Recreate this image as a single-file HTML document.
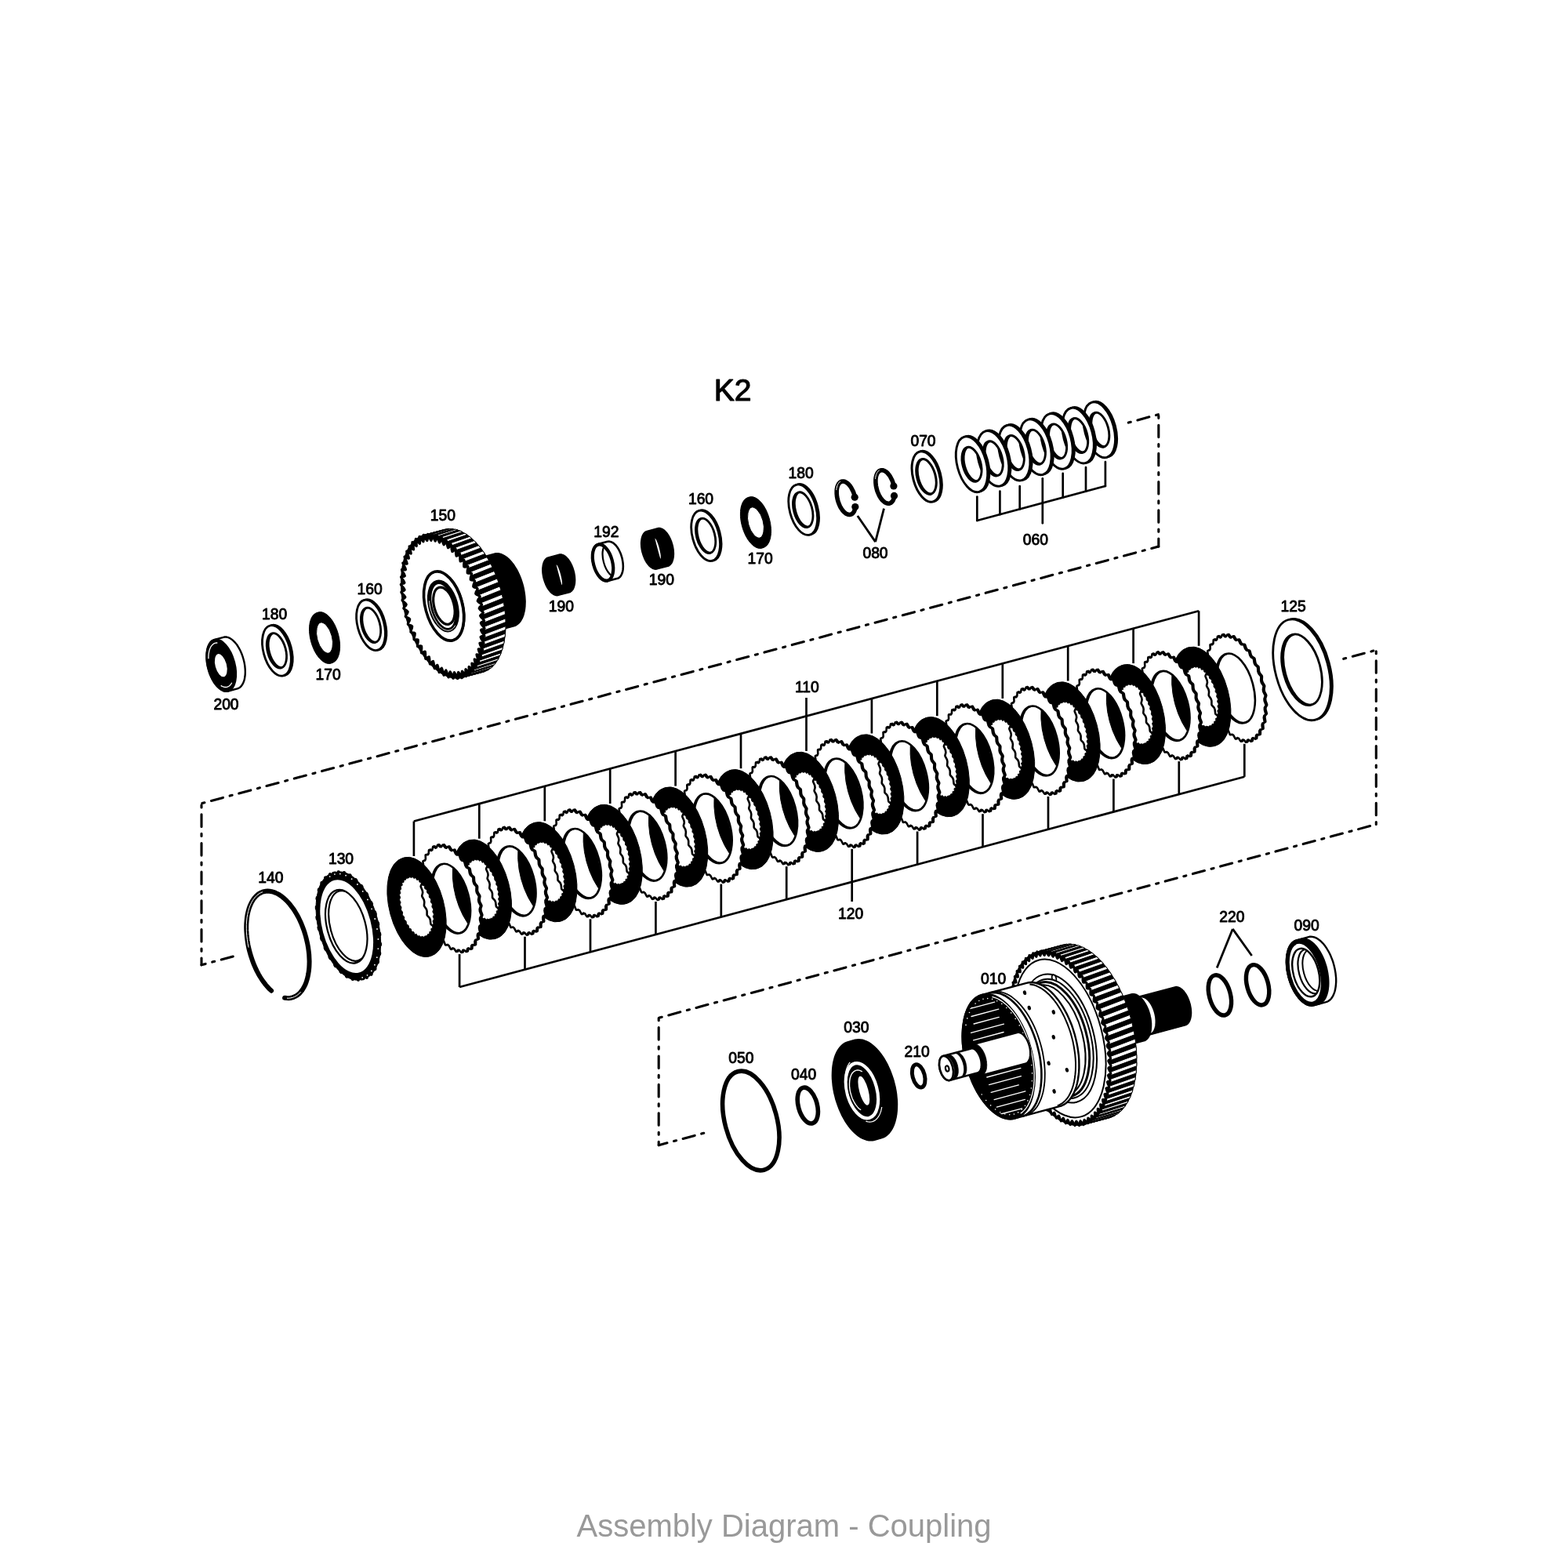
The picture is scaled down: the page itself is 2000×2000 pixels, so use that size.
<!DOCTYPE html>
<html><head><meta charset="utf-8"><title>Assembly Diagram - Coupling</title>
<style>
html,body{margin:0;padding:0;background:#fff;}
body{width:2000px;height:2000px;position:relative;overflow:hidden;font-family:"Liberation Sans",sans-serif;}
svg{position:absolute;left:0;top:0;will-change:transform;}
svg text{font-family:"Liberation Sans",sans-serif;}
.cap{will-change:transform;position:absolute;left:0;top:1922.5px;width:2000px;text-align:center;font-size:40px;line-height:46px;color:#999;}
</style></head><body>
<svg xmlns="http://www.w3.org/2000/svg" width="2000" height="2000" viewBox="0 0 2000 2000" stroke-linejoin="round">
<path d="M1439.3,539.1 L1477.8,528.6" fill="none" stroke="#000" stroke-width="3.1" stroke-linecap="round" stroke-dasharray="15.500 8.900 3.100 8.900" stroke-dashoffset="24.4"/>
<path d="M1477.8,528.6 L1477.8,697.1" fill="none" stroke="#000" stroke-width="3.1" stroke-linecap="round" stroke-dasharray="15.415 8.851 3.083 8.851" stroke-dashoffset="22.6"/>
<path d="M257,1024.8 L1477.8,697.1" fill="none" stroke="#000" stroke-width="3.1" stroke-linecap="round" stroke-dasharray="15.553 8.930 3.111 8.930" stroke-dashoffset="23.6"/>
<path d="M257,1024.8 L257,1230.8" fill="none" stroke="#000" stroke-width="3.1" stroke-linecap="round" stroke-dasharray="15.606 8.961 3.121 8.961" stroke-dashoffset="22.6"/>
<path d="M257,1230.8 L297.5,1219.9" fill="none" stroke="#000" stroke-width="3.1" stroke-linecap="round" stroke-dasharray="15.500 8.900 3.100 8.900" stroke-dashoffset="10.2"/>
<path d="M1713.7,840.3 L1755.3,829.2" fill="none" stroke="#000" stroke-width="3.1" stroke-linecap="round" stroke-dasharray="15.500 8.900 3.100 8.900" stroke-dashoffset="24.4"/>
<path d="M1755.3,829.2 L1755.3,1051.5" fill="none" stroke="#000" stroke-width="3.1" stroke-linecap="round" stroke-dasharray="15.457 8.876 3.091 8.876" stroke-dashoffset="22.8"/>
<path d="M840.2,1298.3 L1755.3,1051.5" fill="none" stroke="#000" stroke-width="3.1" stroke-linecap="round" stroke-dasharray="15.521 8.912 3.104 8.912" stroke-dashoffset="23.4"/>
<path d="M840.2,1298.3 L840.2,1460.7" fill="none" stroke="#000" stroke-width="3.1" stroke-linecap="round" stroke-dasharray="15.500 8.900 3.100 8.900" stroke-dashoffset="24.1"/>
<path d="M897.7,1445.3 L840.2,1460.7" fill="none" stroke="#000" stroke-width="3.1" stroke-linecap="round" stroke-dasharray="15.500 8.900 3.100 8.900" stroke-dashoffset="24.4"/>
<path d="M291.1,881.5 L289.9,881.8 L288.7,881.8 L287.4,881.8 L286.1,881.5 L284.8,881.1 L283.5,880.5 L282.2,879.8 L280.9,878.9 L279.6,877.9 L278.3,876.7 L277,875.4 L275.7,874 L274.5,872.5 L273.3,870.8 L272.2,869 L271.1,867.1 L270.1,865.2 L269.1,863.1 L268.2,861 L267.3,858.8 L266.6,856.6 L265.9,854.3 L265.3,852 L264.7,849.7 L264.3,847.4 L263.9,845.1 L263.7,842.8 L263.5,840.6 L263.4,838.3 L263.4,836.2 L263.5,834.1 L263.7,832 L264,830.1 L264.3,828.2 L264.8,826.4 L265.3,824.8 L266,823.2 L266.7,821.8 L267.4,820.5 L268.3,819.4 L269.2,818.4 L270.2,817.5 L271.3,816.8 L272.4,816.3 L273.5,815.9 L285.1,812.8 L286.3,812.5 L287.5,812.4 L288.8,812.5 L290,812.8 L291.4,813.2 L292.7,813.8 L294,814.5 L295.3,815.4 L296.6,816.4 L297.9,817.6 L299.2,818.9 L300.4,820.3 L301.7,821.8 L302.9,823.5 L304,825.3 L305.1,827.2 L306.1,829.1 L307.1,831.2 L308,833.3 L308.9,835.5 L309.6,837.7 L310.3,840 L310.9,842.3 L311.5,844.6 L311.9,846.9 L312.3,849.2 L312.5,851.5 L312.7,853.7 L312.8,856 L312.8,858.1 L312.7,860.2 L312.5,862.3 L312.2,864.2 L311.9,866.1 L311.4,867.9 L310.9,869.5 L310.2,871.1 L309.5,872.5 L308.7,873.8 L307.9,874.9 L307,875.9 L306,876.8 L304.9,877.5 L303.8,878 L302.7,878.4Z" fill="#fff" stroke="#000" stroke-width="2.4" />
<path d="M299,844.2 A17.3,34 -15 0 1 291.1,881.5 A17.3,34 -15 0 1 265.6,853.2 A17.3,34 -15 0 1 273.5,815.9 A17.3,34 -15 0 1 299,844.2Z M289.7,846.6 A8.2,16 -15 0 1 285.9,864.2 A8.2,16 -15 0 1 273.9,850.8 A8.2,16 -15 0 1 277.7,833.2 A8.2,16 -15 0 1 289.7,846.6Z" fill="#000" stroke="#000" stroke-width="2" fill-rule="evenodd"/>
<path d="M265.9,840.2 L265.9,838.2 L266,836.3 L266.1,834.4 L266.4,832.7 L266.7,831 L267.1,829.4 L267.6,827.9 L268.2,826.5 L268.8,825.2 L269.5,824.1 L270.3,823.1 L271.2,822.2 L272.1,821.4 L273,820.8 L274,820.4 L275.1,820.1 L276.2,820 L277.3,820" fill="none" stroke="#fff" stroke-width="1.3" />
<path d="M295.7,870.7 L295.1,871.8 L294.4,872.8 L293.7,873.7 L292.9,874.5 L292,875.2 L291.1,875.7 L290.2,876.1 L289.2,876.3 L288.2,876.5 L287.1,876.5 L286.1,876.3 L285,876 L283.9,875.6 L282.8,875.1 L281.7,874.4" fill="none" stroke="#fff" stroke-width="1.3" />
<path d="M371.1,825 A16.8,33 -15 0 1 363.4,861.3 A16.8,33 -15 0 1 338.6,833.7 A16.8,33 -15 0 1 346.3,797.5 A16.8,33 -15 0 1 371.1,825Z M366.1,826.4 A11.6,22.8 -15 0 1 360.7,851.4 A11.6,22.8 -15 0 1 343.6,832.4 A11.6,22.8 -15 0 1 348.9,807.4 A11.6,22.8 -15 0 1 366.1,826.4Z" fill="#fff" stroke="#000" stroke-width="2.8" fill-rule="evenodd"/>
<path d="M369.2,825.5 A16.8,33 -15 0 1 361.4,861.8 A16.8,33 -15 0 1 336.6,834.3 A16.8,33 -15 0 1 344.4,798 A16.8,33 -15 0 1 369.2,825.5Z M364.1,826.9 A11.6,22.8 -15 0 1 358.8,851.9 A11.6,22.8 -15 0 1 341.7,832.9 A11.6,22.8 -15 0 1 347,807.9 A11.6,22.8 -15 0 1 364.1,826.9Z" fill="#fff" stroke="#000" stroke-width="2.8" fill-rule="evenodd"/>
<path d="M431.5,808.9 A17.1,33.5 -15 0 1 423.7,845.6 A17.1,33.5 -15 0 1 398.5,817.7 A17.1,33.5 -15 0 1 406.4,780.9 A17.1,33.5 -15 0 1 431.5,808.9Z M425.1,810.6 A10.5,20.5 -15 0 1 420.3,833.1 A10.5,20.5 -15 0 1 404.9,816 A10.5,20.5 -15 0 1 409.7,793.5 A10.5,20.5 -15 0 1 425.1,810.6Z" fill="#000" stroke="#000" stroke-width="1" fill-rule="evenodd"/>
<path d="M429.6,809.4 A17.1,33.5 -15 0 1 421.8,846.2 A17.1,33.5 -15 0 1 396.6,818.2 A17.1,33.5 -15 0 1 404.4,781.4 A17.1,33.5 -15 0 1 429.6,809.4Z M423.2,811.1 A10.5,20.5 -15 0 1 418.4,833.6 A10.5,20.5 -15 0 1 403,816.5 A10.5,20.5 -15 0 1 407.8,794 A10.5,20.5 -15 0 1 423.2,811.1Z" fill="#000" stroke="#000" stroke-width="1" fill-rule="evenodd"/>
<path d="M490.8,792.5 A16.8,33 -15 0 1 483.1,828.8 A16.8,33 -15 0 1 458.3,801.2 A16.8,33 -15 0 1 466,765 A16.8,33 -15 0 1 490.8,792.5Z M485.8,793.9 A11.6,22.8 -15 0 1 480.4,818.9 A11.6,22.8 -15 0 1 463.3,799.9 A11.6,22.8 -15 0 1 468.6,774.9 A11.6,22.8 -15 0 1 485.8,793.9Z" fill="#fff" stroke="#000" stroke-width="2.8" fill-rule="evenodd"/>
<path d="M489.3,792.9 A16.8,33 -15 0 1 481.5,829.2 A16.8,33 -15 0 1 456.7,801.7 A16.8,33 -15 0 1 464.5,765.4 A16.8,33 -15 0 1 489.3,792.9Z M484.2,794.3 A11.6,22.8 -15 0 1 478.9,819.3 A11.6,22.8 -15 0 1 461.8,800.3 A11.6,22.8 -15 0 1 467.1,775.3 A11.6,22.8 -15 0 1 484.2,794.3Z" fill="#fff" stroke="#000" stroke-width="2.8" fill-rule="evenodd"/>
<path d="M712.3,759.4 L711.4,759.6 L710.5,759.7 L709.6,759.6 L708.6,759.4 L707.7,759.1 L706.7,758.7 L705.7,758.2 L704.8,757.5 L703.8,756.8 L702.8,755.9 L701.9,754.9 L701,753.9 L700.1,752.7 L699.2,751.5 L698.3,750.2 L697.5,748.8 L696.8,747.4 L696,745.8 L695.4,744.3 L694.8,742.7 L694.2,741 L693.7,739.4 L693.2,737.7 L692.8,736 L692.5,734.3 L692.2,732.5 L692,730.9 L691.9,729.2 L691.8,727.5 L691.8,725.9 L691.9,724.4 L692.1,722.9 L692.3,721.4 L692.5,720.1 L692.9,718.8 L693.3,717.5 L693.7,716.4 L694.3,715.3 L694.8,714.4 L695.5,713.6 L696.1,712.8 L696.9,712.2 L697.6,711.7 L698.5,711.2 L699.3,711 L713.1,707.3 L714,707.1 L714.9,707 L715.8,707.1 L716.8,707.3 L717.7,707.6 L718.7,708 L719.7,708.5 L720.7,709.2 L721.6,709.9 L722.6,710.8 L723.5,711.8 L724.5,712.8 L725.4,714 L726.2,715.2 L727.1,716.5 L727.9,717.9 L728.6,719.3 L729.4,720.9 L730,722.4 L730.7,724 L731.2,725.7 L731.7,727.3 L732.2,729 L732.6,730.7 L732.9,732.4 L733.2,734.1 L733.4,735.8 L733.5,737.5 L733.6,739.1 L733.6,740.8 L733.5,742.3 L733.4,743.8 L733.1,745.3 L732.9,746.6 L732.5,747.9 L732.1,749.2 L731.7,750.3 L731.2,751.4 L730.6,752.3 L729.9,753.1 L729.3,753.9 L728.5,754.5 L727.8,755 L727,755.5 L726.1,755.7Z" fill="#000" stroke="#000" stroke-width="1.5" />
<path d="M709.4,720.3 L709.6,720.2 L709.7,720.2 L709.9,720.3 L710.1,720.5 L710.3,720.7 L710.5,721 L710.8,721.3 L711,721.7 L711.3,722.2 L711.5,722.7 L711.8,723.2 L712.1,723.8 L712.3,724.5 L712.6,725.2 L712.9,725.9 L713.2,726.7 L713.5,727.5 L713.7,728.3 L714,729.1 L714.3,730 L714.6,730.9 L714.8,731.8 L715.1,732.7 L715.3,733.6 L715.5,734.5 L715.7,735.4 L716,736.3 L716.1,737.2 L716.3,738.1 L716.5,738.9 L716.6,739.7 L716.7,740.5 L716.8,741.2 L716.9,741.9 L717,742.6 L717,743.2 L717,743.8 L717.1,744.3 L717,744.8 L717,745.2 L717,745.5 L716.9,745.8 L716.8,746 L716.7,746.2 L716.5,746.3 L716.4,746.3 L716.7,746.3 L716.6,746.3 L716.6,746.2 L716.5,746 L716.5,745.8 L716.4,745.6 L716.3,745.2 L716.1,744.8 L716,744.4 L715.9,743.9 L715.7,743.3 L715.5,742.7 L715.3,742.1 L715.1,741.4 L714.9,740.6 L714.7,739.9 L714.5,739.1 L714.2,738.2 L714,737.4 L713.8,736.5 L713.5,735.6 L713.3,734.7 L713,733.8 L712.8,732.9 L712.6,732 L712.3,731.1 L712.1,730.2 L711.9,729.3 L711.6,728.5 L711.4,727.6 L711.2,726.8 L711,726 L710.8,725.3 L710.7,724.6 L710.5,723.9 L710.3,723.3 L710.2,722.8 L710.1,722.3 L710,721.8 L709.9,721.4 L709.8,721 L709.8,720.8 L709.7,720.5 L709.7,720.4 L709.7,720.3 L709.7,720.2Z" fill="#fff" stroke="none" stroke-width="0" />
<path d="M838.1,725.9 L837.2,726.1 L836.3,726.2 L835.4,726.1 L834.4,725.9 L833.5,725.6 L832.5,725.2 L831.5,724.7 L830.6,724 L829.6,723.3 L828.6,722.4 L827.7,721.4 L826.8,720.4 L825.9,719.2 L825,718 L824.1,716.7 L823.3,715.3 L822.6,713.9 L821.8,712.3 L821.2,710.8 L820.6,709.2 L820,707.5 L819.5,705.9 L819,704.2 L818.6,702.5 L818.3,700.8 L818,699 L817.8,697.4 L817.7,695.7 L817.6,694 L817.6,692.4 L817.7,690.9 L817.9,689.4 L818.1,687.9 L818.3,686.6 L818.7,685.3 L819.1,684 L819.5,682.9 L820.1,681.8 L820.6,680.9 L821.3,680.1 L821.9,679.3 L822.7,678.7 L823.4,678.2 L824.3,677.7 L825.1,677.5 L838.9,673.8 L839.8,673.6 L840.7,673.5 L841.6,673.6 L842.6,673.8 L843.5,674.1 L844.5,674.5 L845.5,675 L846.5,675.7 L847.4,676.4 L848.4,677.3 L849.3,678.3 L850.3,679.3 L851.2,680.5 L852,681.7 L852.9,683 L853.7,684.4 L854.4,685.8 L855.2,687.4 L855.8,688.9 L856.5,690.5 L857,692.2 L857.5,693.8 L858,695.5 L858.4,697.2 L858.7,698.9 L859,700.6 L859.2,702.3 L859.3,704 L859.4,705.6 L859.4,707.3 L859.3,708.8 L859.2,710.3 L858.9,711.8 L858.7,713.1 L858.3,714.4 L857.9,715.7 L857.5,716.8 L857,717.9 L856.4,718.8 L855.7,719.6 L855.1,720.4 L854.3,721 L853.6,721.5 L852.8,722 L851.9,722.2Z" fill="#000" stroke="#000" stroke-width="1.5" />
<path d="M835.2,686.8 L835.4,686.7 L835.5,686.7 L835.7,686.8 L835.9,687 L836.1,687.2 L836.3,687.5 L836.6,687.8 L836.8,688.2 L837.1,688.7 L837.3,689.2 L837.6,689.7 L837.9,690.3 L838.1,691 L838.4,691.7 L838.7,692.4 L839,693.2 L839.3,694 L839.5,694.8 L839.8,695.6 L840.1,696.5 L840.4,697.4 L840.6,698.3 L840.9,699.2 L841.1,700.1 L841.3,701 L841.5,701.9 L841.8,702.8 L841.9,703.7 L842.1,704.6 L842.3,705.4 L842.4,706.2 L842.5,707 L842.6,707.7 L842.7,708.4 L842.8,709.1 L842.8,709.7 L842.8,710.3 L842.9,710.8 L842.8,711.3 L842.8,711.7 L842.8,712 L842.7,712.3 L842.6,712.5 L842.5,712.7 L842.3,712.8 L842.2,712.8 L842.5,712.8 L842.4,712.8 L842.4,712.7 L842.3,712.5 L842.3,712.3 L842.2,712.1 L842.1,711.7 L841.9,711.3 L841.8,710.9 L841.7,710.4 L841.5,709.8 L841.3,709.2 L841.1,708.6 L840.9,707.9 L840.7,707.1 L840.5,706.4 L840.3,705.6 L840,704.7 L839.8,703.9 L839.6,703 L839.3,702.1 L839.1,701.2 L838.8,700.3 L838.6,699.4 L838.4,698.5 L838.1,697.6 L837.9,696.7 L837.7,695.8 L837.4,695 L837.2,694.1 L837,693.3 L836.8,692.5 L836.6,691.8 L836.5,691.1 L836.3,690.4 L836.1,689.8 L836,689.3 L835.9,688.8 L835.8,688.3 L835.7,687.9 L835.6,687.5 L835.6,687.3 L835.5,687 L835.5,686.9 L835.5,686.8 L835.5,686.7Z" fill="#fff" stroke="none" stroke-width="0" />
<path d="M775.3,741.1 L774.4,741.2 L773.6,741.3 L772.7,741.2 L771.7,741 L770.8,740.8 L769.9,740.3 L768.9,739.8 L768,739.2 L767.1,738.5 L766.1,737.6 L765.2,736.7 L764.3,735.7 L763.4,734.6 L762.6,733.4 L761.8,732.1 L761,730.8 L760.3,729.4 L759.6,727.9 L758.9,726.4 L758.3,724.8 L757.8,723.2 L757.3,721.6 L756.8,720 L756.4,718.3 L756.1,716.7 L755.9,715 L755.7,713.4 L755.5,711.8 L755.5,710.2 L755.5,708.6 L755.6,707.1 L755.7,705.7 L755.9,704.3 L756.2,702.9 L756.5,701.7 L756.9,700.5 L757.3,699.4 L757.8,698.4 L758.4,697.5 L759,696.6 L759.7,695.9 L760.4,695.3 L761.1,694.8 L761.9,694.4 L762.7,694.1 L775,690.8 L775.8,690.7 L776.7,690.6 L777.6,690.7 L778.5,690.9 L779.5,691.2 L780.4,691.6 L781.3,692.1 L782.3,692.7 L783.2,693.4 L784.1,694.3 L785.1,695.2 L786,696.2 L786.8,697.3 L787.7,698.5 L788.5,699.8 L789.3,701.1 L790,702.5 L790.7,704 L791.4,705.5 L792,707.1 L792.5,708.7 L793,710.3 L793.5,711.9 L793.8,713.6 L794.1,715.2 L794.4,716.9 L794.6,718.5 L794.7,720.1 L794.8,721.7 L794.8,723.3 L794.7,724.8 L794.6,726.2 L794.4,727.6 L794.1,729 L793.8,730.2 L793.4,731.4 L792.9,732.5 L792.4,733.5 L791.9,734.5 L791.3,735.3 L790.6,736 L789.9,736.6 L789.2,737.1 L788.4,737.5 L787.6,737.8Z" fill="#fff" stroke="#000" stroke-width="2.6" />
<clipPath id="cl192"><path d="M781,714.4 A12.4,24.3 -15 0 1 775.3,741.1 A12.4,24.3 -15 0 1 757,720.8 A12.4,24.3 -15 0 1 762.7,694.1 A12.4,24.3 -15 0 1 781,714.4Z"/></clipPath>
<path d="M792.5,711.3 A11.6,22.8 -15 0 1 787.2,736.3 A11.6,22.8 -15 0 1 770,717.3 A11.6,22.8 -15 0 1 775.4,692.3 A11.6,22.8 -15 0 1 792.5,711.3Z" fill="none" stroke="#000" stroke-width="2.2" clip-path="url(#cl192)"/>
<path d="M780.7,714.5 A12.1,23.7 -15 0 1 775.1,740.5 A12.1,23.7 -15 0 1 757.3,720.7 A12.1,23.7 -15 0 1 762.9,694.7 A12.1,23.7 -15 0 1 780.7,714.5Z" fill="none" stroke="#000" stroke-width="4.2" />
<path d="M917.9,678.5 A16.8,33 -15 0 1 910.2,714.8 A16.8,33 -15 0 1 885.4,687.2 A16.8,33 -15 0 1 893.1,651 A16.8,33 -15 0 1 917.9,678.5Z M912.9,679.9 A11.6,22.8 -15 0 1 907.5,704.9 A11.6,22.8 -15 0 1 890.4,685.9 A11.6,22.8 -15 0 1 895.7,660.9 A11.6,22.8 -15 0 1 912.9,679.9Z" fill="#fff" stroke="#000" stroke-width="2.8" fill-rule="evenodd"/>
<path d="M916.4,678.9 A16.8,33 -15 0 1 908.6,715.2 A16.8,33 -15 0 1 883.8,687.7 A16.8,33 -15 0 1 891.6,651.4 A16.8,33 -15 0 1 916.4,678.9Z M911.3,680.3 A11.6,22.8 -15 0 1 906,705.3 A11.6,22.8 -15 0 1 888.9,686.3 A11.6,22.8 -15 0 1 894.2,661.3 A11.6,22.8 -15 0 1 911.3,680.3Z" fill="#fff" stroke="#000" stroke-width="2.8" fill-rule="evenodd"/>
<path d="M981.4,661.9 A17.1,33.5 -15 0 1 973.6,698.6 A17.1,33.5 -15 0 1 948.4,670.7 A17.1,33.5 -15 0 1 956.3,633.9 A17.1,33.5 -15 0 1 981.4,661.9Z M975,663.6 A10.5,20.5 -15 0 1 970.2,686.1 A10.5,20.5 -15 0 1 954.8,669 A10.5,20.5 -15 0 1 959.6,646.5 A10.5,20.5 -15 0 1 975,663.6Z" fill="#000" stroke="#000" stroke-width="1" fill-rule="evenodd"/>
<path d="M979.5,662.4 A17.1,33.5 -15 0 1 971.7,699.2 A17.1,33.5 -15 0 1 946.5,671.2 A17.1,33.5 -15 0 1 954.3,634.4 A17.1,33.5 -15 0 1 979.5,662.4Z M973.1,664.1 A10.5,20.5 -15 0 1 968.3,686.6 A10.5,20.5 -15 0 1 952.9,669.5 A10.5,20.5 -15 0 1 957.7,647 A10.5,20.5 -15 0 1 973.1,664.1Z" fill="#000" stroke="#000" stroke-width="1" fill-rule="evenodd"/>
<path d="M1042.4,645.3 A16.8,33 -15 0 1 1034.7,681.6 A16.8,33 -15 0 1 1009.9,654 A16.8,33 -15 0 1 1017.6,617.8 A16.8,33 -15 0 1 1042.4,645.3Z M1037.5,646.6 A11.7,23 -15 0 1 1032.1,671.9 A11.7,23 -15 0 1 1014.8,652.7 A11.7,23 -15 0 1 1020.2,627.5 A11.7,23 -15 0 1 1037.5,646.6Z" fill="#fff" stroke="#000" stroke-width="2.8" fill-rule="evenodd"/>
<path d="M1040.5,645.8 A16.8,33 -15 0 1 1032.7,682.1 A16.8,33 -15 0 1 1007.9,654.6 A16.8,33 -15 0 1 1015.7,618.3 A16.8,33 -15 0 1 1040.5,645.8Z M1035.5,647.2 A11.7,23 -15 0 1 1030.2,672.4 A11.7,23 -15 0 1 1012.9,653.2 A11.7,23 -15 0 1 1018.2,628 A11.7,23 -15 0 1 1035.5,647.2Z" fill="#fff" stroke="#000" stroke-width="2.8" fill-rule="evenodd"/>
<path d="M1091.2,645.9 L1091,647.6 L1090.6,649.2 L1090.1,650.7 L1089.6,652 L1088.9,653.2 L1088.1,654.2 L1087.3,655 L1086.4,655.7 L1085.4,656.1 L1084.4,656.4 L1083.3,656.5 L1082.2,656.3 L1081,656 L1079.9,655.5 L1078.7,654.8 L1077.6,653.9 L1076.4,652.9 L1075.3,651.7 L1074.2,650.3 L1073.2,648.8 L1072.2,647.2 L1071.3,645.4 L1070.5,643.6 L1069.7,641.7 L1069,639.7 L1068.5,637.7 L1068,635.7 L1067.6,633.6 L1067.4,631.6 L1067.2,629.6 L1067.2,627.7 L1067.2,625.8 L1067.4,624 L1067.7,622.3 L1068.1,620.8 L1068.6,619.4 L1069.2,618.1 L1069.9,616.9 L1070.7,616 L1071.5,615.2 L1072.5,614.6 L1073.5,614.2 L1074.5,614 L1075.6,614 L1076.7,614.1 L1077.9,614.5 L1079,615.1 L1080.2,615.8 L1081.4,616.7 L1082.5,617.8 L1083.6,619.1 L1084.7,620.5 L1085.7,622 L1086.6,623.7 L1087.5,625.5 L1088.4,627.3 L1089.1,629.2 L1089.7,631.2 L1090.3,633.2 L1090.7,635.3" fill="none" stroke="#000" stroke-width="5.6" stroke-linecap="round"/>
<circle cx="1090.2" cy="634.2" r="4.6" fill="#000"/>
<circle cx="1090.8" cy="646.6" r="4.6" fill="#000"/>
<path d="M1066.8,625.1 L1067,623.7 L1067.2,622.3 L1067.5,621 L1067.8,619.8 L1068.3,618.7 L1068.7,617.6 L1069.3,616.7 L1069.9,615.9 L1070.5,615.1 L1071.2,614.5 L1072,614" fill="none" stroke="#fff" stroke-width="1" />
<path d="M1140.9,631.7 L1140.7,633.4 L1140.3,635 L1139.8,636.5 L1139.3,637.8 L1138.6,639 L1137.8,640 L1137,640.8 L1136.1,641.5 L1135.1,641.9 L1134.1,642.2 L1133,642.3 L1131.9,642.1 L1130.7,641.8 L1129.6,641.3 L1128.4,640.6 L1127.3,639.7 L1126.1,638.7 L1125,637.5 L1123.9,636.1 L1122.9,634.6 L1121.9,633 L1121,631.2 L1120.2,629.4 L1119.4,627.5 L1118.7,625.5 L1118.2,623.5 L1117.7,621.5 L1117.3,619.4 L1117.1,617.4 L1116.9,615.4 L1116.9,613.5 L1116.9,611.6 L1117.1,609.8 L1117.4,608.1 L1117.8,606.6 L1118.3,605.2 L1118.9,603.9 L1119.6,602.7 L1120.4,601.8 L1121.2,601 L1122.2,600.4 L1123.2,600 L1124.2,599.8 L1125.3,599.8 L1126.4,599.9 L1127.6,600.3 L1128.7,600.9 L1129.9,601.6 L1131.1,602.5 L1132.2,603.6 L1133.3,604.9 L1134.4,606.3 L1135.4,607.8 L1136.3,609.5 L1137.2,611.3 L1138.1,613.1 L1138.8,615 L1139.4,617 L1140,619 L1140.4,621.1" fill="none" stroke="#000" stroke-width="5.6" stroke-linecap="round"/>
<circle cx="1139.9" cy="620" r="4.6" fill="#000"/>
<circle cx="1140.5" cy="632.4" r="4.6" fill="#000"/>
<path d="M1116.5,610.9 L1116.7,609.5 L1116.9,608.1 L1117.2,606.8 L1117.5,605.6 L1118,604.5 L1118.4,603.4 L1119,602.5 L1119.6,601.7 L1120.2,600.9 L1120.9,600.3 L1121.7,599.8" fill="none" stroke="#fff" stroke-width="1" />
<path d="M1093.8,658 L1116.6,691.1" stroke="#000" stroke-width="2.8" fill="none" />
<path d="M1127.5,648.7 L1116.6,691.1" stroke="#000" stroke-width="2.8" fill="none" />
<path d="M1199.2,603.3 A16.8,33 -15 0 1 1191.5,639.5 A16.8,33 -15 0 1 1166.7,612 A16.8,33 -15 0 1 1174.4,575.7 A16.8,33 -15 0 1 1199.2,603.3Z M1194.3,604.6 A11.7,23 -15 0 1 1188.9,629.8 A11.7,23 -15 0 1 1171.6,610.6 A11.7,23 -15 0 1 1177,585.4 A11.7,23 -15 0 1 1194.3,604.6Z" fill="#fff" stroke="#000" stroke-width="3" fill-rule="evenodd"/>
<path d="M1197.8,603.6 A16.8,33 -15 0 1 1190,639.9 A16.8,33 -15 0 1 1165.2,612.4 A16.8,33 -15 0 1 1173,576.1 A16.8,33 -15 0 1 1197.8,603.6Z M1192.8,605 A11.7,23 -15 0 1 1187.5,630.2 A11.7,23 -15 0 1 1170.2,611 A11.7,23 -15 0 1 1175.5,585.8 A11.7,23 -15 0 1 1192.8,605Z" fill="#fff" stroke="#000" stroke-width="3" fill-rule="evenodd"/>
<path d="M1422.3,542.9 A18.5,36.3 -15 0 1 1413.8,582.7 A18.5,36.3 -15 0 1 1386.5,552.4 A18.5,36.3 -15 0 1 1395,512.6 A18.5,36.3 -15 0 1 1422.3,542.9Z M1415.5,544.7 A11.5,22.6 -15 0 1 1410.3,569.5 A11.5,22.6 -15 0 1 1393.3,550.6 A11.5,22.6 -15 0 1 1398.6,525.8 A11.5,22.6 -15 0 1 1415.5,544.7Z" fill="#fff" stroke="#000" stroke-width="2.9" fill-rule="evenodd"/>
<path d="M1420.2,543.4 A18.5,36.3 -15 0 1 1411.7,583.3 A18.5,36.3 -15 0 1 1384.4,553 A18.5,36.3 -15 0 1 1392.9,513.2 A18.5,36.3 -15 0 1 1420.2,543.4Z M1413.4,545.2 A11.5,22.6 -15 0 1 1408.1,570 A11.5,22.6 -15 0 1 1391.1,551.2 A11.5,22.6 -15 0 1 1396.4,526.4 A11.5,22.6 -15 0 1 1413.4,545.2Z" fill="#fff" stroke="#000" stroke-width="2.9" fill-rule="evenodd"/>
<path d="M1395.2,550.2 A18.5,36.3 -15 0 1 1386.7,590 A18.5,36.3 -15 0 1 1359.4,559.8 A18.5,36.3 -15 0 1 1367.9,519.9 A18.5,36.3 -15 0 1 1395.2,550.2Z M1388.4,552 A11.5,22.6 -15 0 1 1383.1,576.8 A11.5,22.6 -15 0 1 1366.1,558 A11.5,22.6 -15 0 1 1371.4,533.2 A11.5,22.6 -15 0 1 1388.4,552Z" fill="#fff" stroke="#000" stroke-width="2.9" fill-rule="evenodd"/>
<path d="M1393,550.8 A18.5,36.3 -15 0 1 1384.5,590.6 A18.5,36.3 -15 0 1 1357.3,560.3 A18.5,36.3 -15 0 1 1365.8,520.5 A18.5,36.3 -15 0 1 1393,550.8Z M1386.3,552.6 A11.5,22.6 -15 0 1 1381,577.4 A11.5,22.6 -15 0 1 1364,558.5 A11.5,22.6 -15 0 1 1369.3,533.7 A11.5,22.6 -15 0 1 1386.3,552.6Z" fill="#fff" stroke="#000" stroke-width="2.9" fill-rule="evenodd"/>
<path d="M1368,557.5 A18.5,36.3 -15 0 1 1359.5,597.4 A18.5,36.3 -15 0 1 1332.3,567.1 A18.5,36.3 -15 0 1 1340.7,527.2 A18.5,36.3 -15 0 1 1368,557.5Z M1361.3,559.3 A11.5,22.6 -15 0 1 1356,584.1 A11.5,22.6 -15 0 1 1339,565.3 A11.5,22.6 -15 0 1 1344.3,540.5 A11.5,22.6 -15 0 1 1361.3,559.3Z" fill="#fff" stroke="#000" stroke-width="2.9" fill-rule="evenodd"/>
<path d="M1365.9,558.1 A18.5,36.3 -15 0 1 1357.4,597.9 A18.5,36.3 -15 0 1 1330.1,567.7 A18.5,36.3 -15 0 1 1338.6,527.8 A18.5,36.3 -15 0 1 1365.9,558.1Z M1359.2,559.9 A11.5,22.6 -15 0 1 1353.9,584.7 A11.5,22.6 -15 0 1 1336.9,565.9 A11.5,22.6 -15 0 1 1342.2,541.1 A11.5,22.6 -15 0 1 1359.2,559.9Z" fill="#fff" stroke="#000" stroke-width="2.9" fill-rule="evenodd"/>
<path d="M1340.9,564.8 A18.5,36.3 -15 0 1 1332.4,604.7 A18.5,36.3 -15 0 1 1305.1,574.4 A18.5,36.3 -15 0 1 1313.6,534.6 A18.5,36.3 -15 0 1 1340.9,564.8Z M1334.1,566.7 A11.5,22.6 -15 0 1 1328.9,591.5 A11.5,22.6 -15 0 1 1311.9,572.6 A11.5,22.6 -15 0 1 1317.2,547.8 A11.5,22.6 -15 0 1 1334.1,566.7Z" fill="#fff" stroke="#000" stroke-width="2.9" fill-rule="evenodd"/>
<path d="M1338.8,565.4 A18.5,36.3 -15 0 1 1330.3,605.3 A18.5,36.3 -15 0 1 1303,575 A18.5,36.3 -15 0 1 1311.5,535.1 A18.5,36.3 -15 0 1 1338.8,565.4Z M1332,567.2 A11.5,22.6 -15 0 1 1326.7,592 A11.5,22.6 -15 0 1 1309.8,573.2 A11.5,22.6 -15 0 1 1315,548.4 A11.5,22.6 -15 0 1 1332,567.2Z" fill="#fff" stroke="#000" stroke-width="2.9" fill-rule="evenodd"/>
<path d="M1313.8,572.2 A18.5,36.3 -15 0 1 1305.3,612 A18.5,36.3 -15 0 1 1278,581.8 A18.5,36.3 -15 0 1 1286.5,541.9 A18.5,36.3 -15 0 1 1313.8,572.2Z M1307,574 A11.5,22.6 -15 0 1 1301.7,598.8 A11.5,22.6 -15 0 1 1284.8,580 A11.5,22.6 -15 0 1 1290,555.1 A11.5,22.6 -15 0 1 1307,574Z" fill="#fff" stroke="#000" stroke-width="2.9" fill-rule="evenodd"/>
<path d="M1311.6,572.7 A18.5,36.3 -15 0 1 1303.2,612.6 A18.5,36.3 -15 0 1 1275.9,582.3 A18.5,36.3 -15 0 1 1284.4,542.5 A18.5,36.3 -15 0 1 1311.6,572.7Z M1304.9,574.6 A11.5,22.6 -15 0 1 1299.6,599.4 A11.5,22.6 -15 0 1 1282.6,580.5 A11.5,22.6 -15 0 1 1287.9,555.7 A11.5,22.6 -15 0 1 1304.9,574.6Z" fill="#fff" stroke="#000" stroke-width="2.9" fill-rule="evenodd"/>
<path d="M1286.6,579.5 A18.5,36.3 -15 0 1 1278.2,619.4 A18.5,36.3 -15 0 1 1250.9,589.1 A18.5,36.3 -15 0 1 1259.4,549.2 A18.5,36.3 -15 0 1 1286.6,579.5Z M1279.9,581.3 A11.5,22.6 -15 0 1 1274.6,606.1 A11.5,22.6 -15 0 1 1257.6,587.3 A11.5,22.6 -15 0 1 1262.9,562.5 A11.5,22.6 -15 0 1 1279.9,581.3Z" fill="#fff" stroke="#000" stroke-width="2.9" fill-rule="evenodd"/>
<path d="M1284.5,580.1 A18.5,36.3 -15 0 1 1276,619.9 A18.5,36.3 -15 0 1 1248.7,589.7 A18.5,36.3 -15 0 1 1257.2,549.8 A18.5,36.3 -15 0 1 1284.5,580.1Z M1277.8,581.9 A11.5,22.6 -15 0 1 1272.5,606.7 A11.5,22.6 -15 0 1 1255.5,587.9 A11.5,22.6 -15 0 1 1260.8,563 A11.5,22.6 -15 0 1 1277.8,581.9Z" fill="#fff" stroke="#000" stroke-width="2.9" fill-rule="evenodd"/>
<path d="M1259.5,586.8 A18.5,36.3 -15 0 1 1251,626.7 A18.5,36.3 -15 0 1 1223.7,596.4 A18.5,36.3 -15 0 1 1232.2,556.6 A18.5,36.3 -15 0 1 1259.5,586.8Z M1252.8,588.6 A11.5,22.6 -15 0 1 1247.5,613.5 A11.5,22.6 -15 0 1 1230.5,594.6 A11.5,22.6 -15 0 1 1235.8,569.8 A11.5,22.6 -15 0 1 1252.8,588.6Z" fill="#fff" stroke="#000" stroke-width="2.9" fill-rule="evenodd"/>
<path d="M1257.4,587.4 A18.5,36.3 -15 0 1 1248.9,627.3 A18.5,36.3 -15 0 1 1221.6,597 A18.5,36.3 -15 0 1 1230.1,557.1 A18.5,36.3 -15 0 1 1257.4,587.4Z M1250.6,589.2 A11.5,22.6 -15 0 1 1245.3,614 A11.5,22.6 -15 0 1 1228.4,595.2 A11.5,22.6 -15 0 1 1233.7,570.4 A11.5,22.6 -15 0 1 1250.6,589.2Z" fill="#fff" stroke="#000" stroke-width="2.9" fill-rule="evenodd"/>
<path d="M1246.3,633.6 L1246.3,664" stroke="#000" stroke-width="2.7" fill="none" stroke-linecap="round"/>
<path d="M1275.4,626.5 L1275.4,656.2" stroke="#000" stroke-width="2.7" fill="none" stroke-linecap="round"/>
<path d="M1300.7,620 L1300.7,649.4" stroke="#000" stroke-width="2.7" fill="none" stroke-linecap="round"/>
<path d="M1329.8,610.3 L1329.8,667.3" stroke="#000" stroke-width="2.7" fill="none" stroke-linecap="round"/>
<path d="M1355.7,603.9 L1355.7,634.6" stroke="#000" stroke-width="2.7" fill="none" stroke-linecap="round"/>
<path d="M1385,596.1 L1385,626.7" stroke="#000" stroke-width="2.7" fill="none" stroke-linecap="round"/>
<path d="M1409.9,589 L1409.9,620" stroke="#000" stroke-width="2.7" fill="none" stroke-linecap="round"/>
<path d="M1246.3,664 L1409.9,620" stroke="#000" stroke-width="2.7" fill="none" stroke-linecap="round"/>
<path d="M1695.1,845 A33.7,66 -15 0 1 1679.7,917.5 A33.7,66 -15 0 1 1630.1,862.4 A33.7,66 -15 0 1 1645.5,790 A33.7,66 -15 0 1 1695.1,845Z M1685.5,847.6 A23.7,46.5 -15 0 1 1674.7,898.6 A23.7,46.5 -15 0 1 1639.7,859.9 A23.7,46.5 -15 0 1 1650.6,808.8 A23.7,46.5 -15 0 1 1685.5,847.6Z" fill="#fff" stroke="#000" stroke-width="2.8" fill-rule="evenodd"/>
<path d="M1693,845.6 A33.7,66 -15 0 1 1677.6,918.1 A33.7,66 -15 0 1 1628,863 A33.7,66 -15 0 1 1643.4,790.5 A33.7,66 -15 0 1 1693,845.6Z M1683.4,848.2 A23.7,46.5 -15 0 1 1672.5,899.2 A23.7,46.5 -15 0 1 1637.6,860.4 A23.7,46.5 -15 0 1 1648.5,809.4 A23.7,46.5 -15 0 1 1683.4,848.2Z" fill="#fff" stroke="#000" stroke-width="2.8" fill-rule="evenodd"/>
<path d="M527.9,1047.5 L1529.1,779.3" stroke="#000" stroke-width="2.7" fill="none" />
<path d="M527.9,1047.5 L527.9,1092" stroke="#000" stroke-width="2.7" fill="none" />
<path d="M611.3,1025.1 L611.3,1069.7" stroke="#000" stroke-width="2.7" fill="none" />
<path d="M694.8,1002.8 L694.8,1047.3" stroke="#000" stroke-width="2.7" fill="none" />
<path d="M778.2,980.4 L778.2,1025" stroke="#000" stroke-width="2.7" fill="none" />
<path d="M861.6,958.1 L861.6,1002.6" stroke="#000" stroke-width="2.7" fill="none" />
<path d="M945,935.7 L945,980.2" stroke="#000" stroke-width="2.7" fill="none" />
<path d="M1028.5,890 L1028.5,957.9" stroke="#000" stroke-width="2.7" fill="none" />
<path d="M1111.9,891 L1111.9,935.5" stroke="#000" stroke-width="2.7" fill="none" />
<path d="M1195.3,868.7 L1195.3,913.2" stroke="#000" stroke-width="2.7" fill="none" />
<path d="M1278.8,846.3 L1278.8,890.9" stroke="#000" stroke-width="2.7" fill="none" />
<path d="M1362.2,824 L1362.2,868.5" stroke="#000" stroke-width="2.7" fill="none" />
<path d="M1445.6,801.6 L1445.6,846.1" stroke="#000" stroke-width="2.7" fill="none" />
<path d="M1529.1,779.3 L1529.1,823.8" stroke="#000" stroke-width="2.7" fill="none" />
<path d="M586.1,1259 L1587.3,990.8" stroke="#000" stroke-width="2.7" fill="none" />
<path d="M586.1,1217 L586.1,1259" stroke="#000" stroke-width="2.7" fill="none" />
<path d="M669.5,1194.7 L669.5,1236.6" stroke="#000" stroke-width="2.7" fill="none" />
<path d="M753,1172.3 L753,1214.3" stroke="#000" stroke-width="2.7" fill="none" />
<path d="M836.4,1150 L836.4,1191.9" stroke="#000" stroke-width="2.7" fill="none" />
<path d="M919.8,1127.6 L919.8,1169.6" stroke="#000" stroke-width="2.7" fill="none" />
<path d="M1003.2,1105.2 L1003.2,1147.2" stroke="#000" stroke-width="2.7" fill="none" />
<path d="M1086.7,1082.9 L1086.7,1150" stroke="#000" stroke-width="2.7" fill="none" />
<path d="M1170.1,1060.5 L1170.1,1102.5" stroke="#000" stroke-width="2.7" fill="none" />
<path d="M1253.5,1038.2 L1253.5,1080.2" stroke="#000" stroke-width="2.7" fill="none" />
<path d="M1337,1015.9 L1337,1057.8" stroke="#000" stroke-width="2.7" fill="none" />
<path d="M1420.4,993.5 L1420.4,1035.5" stroke="#000" stroke-width="2.7" fill="none" />
<path d="M1503.8,971.1 L1503.8,1013.1" stroke="#000" stroke-width="2.7" fill="none" />
<path d="M1587.3,948.8 L1587.3,990.8" stroke="#000" stroke-width="2.7" fill="none" />
<path d="M1610.1,868.8 L1610.5,870.2 L1612.9,874.1 L1613.2,875.1 L1612.4,879.2 L1612.7,880.6 L1612.9,882.1 L1615.1,886.4 L1615.2,887.4 L1614,891 L1614.2,892.3 L1614.3,893.7 L1616.1,898.5 L1616.1,899.4 L1614.5,902.3 L1614.4,903.6 L1614.4,904.9 L1615.8,909.8 L1615.7,910.7 L1613.7,912.8 L1613.5,914 L1613.4,915.1 L1614.3,920.2 L1614.1,920.9 L1611.8,922.1 L1611.5,923.2 L1611.2,924.2 L1611.6,929.1 L1611.3,929.8 L1608.8,930.1 L1608.3,930.9 L1607.9,931.8 L1607.8,936.4 L1607.5,937 L1604.7,936.4 L1604.2,937 L1603.6,937.6 L1603.1,941.9 L1602.6,942.2 L1599.8,940.7 L1599.2,941.1 L1598.5,941.5 L1597.5,945.2 L1597,945.4 L1594.2,943.1 L1593.5,943.2 L1592.7,943.3 L1591.2,946.4 L1590.7,946.4 L1588,943.3 L1587.2,943.2 L1586.5,943 L1584.6,945.4 L1584,945.2 L1581.5,941.4 L1580.7,941.1 L1579.9,940.7 L1577.7,942.1 L1577.1,941.8 L1574.9,937.5 L1574.1,936.9 L1573.3,936.3 L1570.7,936.9 L1570.2,936.3 L1568.3,931.7 L1567.5,930.8 L1566.8,930 L1564.1,929.7 L1563.5,929 L1562,924.1 L1561.3,923 L1560.6,922 L1557.8,920.8 L1557.3,920 L1556.3,915 L1555.6,913.8 L1555,912.6 L1552.2,910.5 L1551.7,909.7 L1551.2,904.7 L1550.6,903.4 L1550.1,902.1 L1547.3,899.2 L1547,898.3 L1546.9,893.5 L1546.5,892.2 L1546.1,890.8 L1543.5,887.2 L1543.2,886.2 L1543.7,881.9 L1543.4,880.4 L1543.1,879 L1540.7,874.9 L1540.5,873.9 L1541.5,870.1 L1541.3,868.6 L1541.2,867.2 L1539.1,862.7 L1539.1,861.7 L1540.5,858.5 L1540.4,857.1 L1540.4,855.8 L1538.8,850.9 L1538.8,850 L1540.6,847.5 L1540.7,846.3 L1540.9,845 L1539.7,840 L1539.8,839.2 L1542,837.6 L1542.2,836.4 L1542.5,835.3 L1541.8,830.3 L1542,829.6 L1544.5,828.9 L1544.9,827.9 L1545.2,827 L1545,822.2 L1545.4,821.6 L1548,821.7 L1548.5,821 L1549,820.3 L1549.3,815.8 L1549.7,815.3 L1552.5,816.4 L1553.1,815.9 L1553.7,815.4 L1554.5,811.4 L1555,811.1 L1557.8,813 L1558.5,812.7 L1559.2,812.5 L1560.5,809.1 L1561,809 L1563.7,811.7 L1564.5,811.7 L1565.2,811.7 L1567,809 L1567.5,809.1 L1570.1,812.5 L1570.9,812.8 L1571.7,813.1 L1573.8,811.2 L1574.3,811.4 L1576.7,815.5 L1577.5,815.9 L1578.3,816.5 L1580.7,815.4 L1581.3,815.9 L1583.3,820.4 L1584.1,821.1 L1584.9,821.8 L1587.5,821.7 L1588.1,822.3 L1589.8,827.1 L1590.5,828 L1591.3,829 L1594,829.8 L1594.5,830.5 L1595.8,835.5 L1596.5,836.6 L1597.2,837.7 L1600,839.4 L1600.5,840.2 L1601.3,845.2 L1601.9,846.5 L1602.5,847.7 L1605.3,850.2 L1605.6,851.1 L1605.9,856 L1606.4,857.3 L1606.9,858.7 L1609.6,861.9 L1609.9,862.9 L1609.7,867.4Z M1599.5,871.7 A22.8,45.6 -15 0 1 1589.2,921.6 A22.8,45.6 -15 0 1 1555.4,883.5 A22.8,45.6 -15 0 1 1565.6,833.5 A22.8,45.6 -15 0 1 1599.5,871.7Z" fill="#fff" stroke="#000" stroke-width="2.6" fill-rule="evenodd"/>
<path d="M1608.5,869.3 L1608.9,870.7 L1611.4,874.5 L1611.6,875.5 L1610.9,879.6 L1611.1,881.1 L1611.4,882.5 L1613.6,886.8 L1613.7,887.8 L1612.5,891.4 L1612.6,892.8 L1612.7,894.1 L1614.5,898.9 L1614.6,899.8 L1612.9,902.7 L1612.9,904 L1612.9,905.3 L1614.3,910.3 L1614.2,911.1 L1612.2,913.2 L1612,914.4 L1611.8,915.5 L1612.8,920.6 L1612.6,921.4 L1610.2,922.6 L1609.9,923.6 L1609.6,924.6 L1610.1,929.6 L1609.8,930.2 L1607.2,930.5 L1606.8,931.4 L1606.3,932.2 L1606.3,936.9 L1605.9,937.4 L1603.2,936.8 L1602.6,937.4 L1602.1,938 L1601.5,942.3 L1601.1,942.6 L1598.3,941.1 L1597.6,941.5 L1597,941.9 L1595.9,945.6 L1595.4,945.8 L1592.6,943.5 L1591.9,943.6 L1591.2,943.7 L1589.7,946.8 L1589.2,946.8 L1586.5,943.7 L1585.7,943.6 L1584.9,943.5 L1583,945.8 L1582.5,945.6 L1580,941.8 L1579.2,941.5 L1578.4,941.1 L1576.1,942.6 L1575.6,942.2 L1573.3,937.9 L1572.5,937.3 L1571.7,936.7 L1569.2,937.3 L1568.7,936.8 L1566.8,932.1 L1566,931.2 L1565.2,930.4 L1562.5,930.1 L1562,929.4 L1560.5,924.5 L1559.8,923.5 L1559.1,922.4 L1556.2,921.2 L1555.8,920.4 L1554.7,915.4 L1554.1,914.2 L1553.4,913 L1550.6,911 L1550.2,910.1 L1549.6,905.1 L1549.1,903.8 L1548.5,902.5 L1545.8,899.6 L1545.4,898.7 L1545.4,893.9 L1545,892.6 L1544.5,891.2 L1541.9,887.6 L1541.7,886.6 L1542.1,882.3 L1541.8,880.9 L1541.5,879.4 L1539.2,875.3 L1539,874.3 L1540,870.5 L1539.8,869.1 L1539.6,867.7 L1537.6,863.1 L1537.5,862.1 L1538.9,858.9 L1538.9,857.6 L1538.9,856.2 L1537.2,851.3 L1537.3,850.4 L1539.1,848 L1539.2,846.7 L1539.3,845.5 L1538.1,840.4 L1538.3,839.6 L1540.5,838 L1540.7,836.8 L1540.9,835.8 L1540.2,830.7 L1540.5,830 L1542.9,829.3 L1543.3,828.3 L1543.7,827.4 L1543.5,822.6 L1543.8,822 L1546.5,822.1 L1547,821.4 L1547.5,820.7 L1547.8,816.2 L1548.2,815.8 L1551,816.8 L1551.6,816.3 L1552.2,815.8 L1553,811.8 L1553.4,811.5 L1556.3,813.4 L1557,813.2 L1557.6,812.9 L1558.9,809.5 L1559.4,809.4 L1562.2,812.1 L1562.9,812.1 L1563.7,812.1 L1565.4,809.4 L1565.9,809.5 L1568.6,813 L1569.3,813.2 L1570.1,813.5 L1572.2,811.6 L1572.8,811.8 L1575.2,815.9 L1576,816.4 L1576.8,816.9 L1579.2,815.8 L1579.7,816.3 L1581.8,820.8 L1582.6,821.5 L1583.4,822.2 L1586,822.1 L1586.5,822.7 L1588.2,827.5 L1589,828.5 L1589.7,829.4 L1592.5,830.2 L1593,830.9 L1594.3,835.9 L1595,837 L1595.6,838.1 L1598.5,839.8 L1598.9,840.6 L1599.7,845.6 L1600.3,846.9 L1600.9,848.1 L1603.7,850.6 L1604.1,851.5 L1604.4,856.4 L1604.9,857.7 L1605.4,859.1 L1608.1,862.3 L1608.4,863.3 L1608.2,867.8Z M1597.9,872.1 A22.8,45.6 -15 0 1 1587.7,922 A22.8,45.6 -15 0 1 1553.9,883.9 A22.8,45.6 -15 0 1 1564.1,834 A22.8,45.6 -15 0 1 1597.9,872.1Z" fill="#fff" stroke="#000" stroke-width="2.6" fill-rule="evenodd"/>
<path d="M1565.9,879.7 A33.8,65 -15 0 1 1550.1,951.3 A33.8,65 -15 0 1 1500.6,897.2 A33.8,65 -15 0 1 1516.4,825.7 A33.8,65 -15 0 1 1565.9,879.7Z M1553.1,883.2 L1553.9,884.1 L1554.1,885.2 L1553.9,886.3 L1553.6,887.4 L1553.8,888.5 L1554.5,889.5 L1555.2,890.6 L1555.4,891.7 L1555,892.7 L1554.6,893.6 L1554.7,894.7 L1555.4,895.9 L1556,897.1 L1556.1,898.2 L1555.6,899 L1555.1,899.7 L1555.1,900.7 L1555.6,902 L1556.1,903.3 L1556.1,904.3 L1555.5,904.9 L1554.9,905.5 L1554.8,906.4 L1555.2,907.8 L1555.6,909.2 L1555.5,910.1 L1554.8,910.5 L1554.1,910.8 L1553.9,911.6 L1554.2,913 L1554.5,914.4 L1554.3,915.2 L1553.5,915.4 L1552.8,915.5 L1552.5,916.2 L1552.7,917.6 L1552.8,919 L1552.5,919.7 L1551.7,919.6 L1550.9,919.4 L1550.6,920 L1550.6,921.4 L1550.6,922.7 L1550.2,923.3 L1549.4,922.9 L1548.6,922.6 L1548.1,923 L1548.1,924.3 L1547.9,925.5 L1547.4,925.9 L1546.6,925.3 L1545.8,924.7 L1545.3,925 L1545.1,926.2 L1544.8,927.3 L1544.3,927.5 L1543.5,926.7 L1542.7,925.9 L1542.1,926 L1541.8,927 L1541.4,928 L1540.8,928 L1540.1,927.1 L1539.3,926.1 L1538.7,926 L1538.3,926.9 L1537.8,927.7 L1537.2,927.5 L1536.5,926.4 L1535.8,925.3 L1535.2,925 L1534.6,925.7 L1534,926.2 L1533.4,925.9 L1532.8,924.7 L1532.2,923.4 L1531.6,923 L1530.9,923.4 L1530.3,923.8 L1529.6,923.3 L1529.1,921.9 L1528.6,920.6 L1528,920 L1527.3,920.2 L1526.6,920.4 L1526,919.7 L1525.5,918.3 L1525.2,916.9 L1524.6,916.2 L1523.8,916.2 L1523,916.1 L1522.5,915.3 L1522.2,913.9 L1521.9,912.5 L1521.4,911.7 L1520.6,911.4 L1519.8,911 L1519.3,910.1 L1519.1,908.7 L1519,907.3 L1518.6,906.4 L1517.7,905.9 L1516.9,905.4 L1516.5,904.4 L1516.5,903 L1516.5,901.7 L1516.1,900.7 L1515.3,900 L1514.5,899.3 L1514.1,898.2 L1514.3,897 L1514.4,895.7 L1514.1,894.7 L1513.3,893.8 L1512.6,892.9 L1512.3,891.8 L1512.6,890.6 L1512.8,889.5 L1512.6,888.5 L1511.9,887.4 L1511.2,886.3 L1511.1,885.2 L1511.4,884.3 L1511.8,883.3 L1511.7,882.3 L1511.1,881.1 L1510.5,879.9 L1510.4,878.8 L1510.9,878 L1511.4,877.3 L1511.4,876.3 L1510.9,875 L1510.3,873.6 L1510.4,872.6 L1511,872 L1511.6,871.5 L1511.7,870.6 L1511.2,869.2 L1510.8,867.8 L1511,866.9 L1511.7,866.5 L1512.3,866.2 L1512.5,865.4 L1512.2,864 L1511.9,862.5 L1512.2,861.7 L1512.9,861.6 L1513.7,861.5 L1514,860.8 L1513.8,859.4 L1513.6,858 L1514,857.3 L1514.8,857.4 L1515.5,857.5 L1515.9,856.9 L1515.9,855.6 L1515.8,854.2 L1516.3,853.7 L1517.1,854 L1517.9,854.4 L1518.3,854 L1518.4,852.7 L1518.5,851.5 L1519,851.1 L1519.8,851.6 L1520.7,852.2 L1521.2,852 L1521.4,850.8 L1521.6,849.7 L1522.2,849.5 L1523,850.2 L1523.8,851 L1524.3,850.9 L1524.7,849.9 L1525,848.9 L1525.6,848.9 L1526.4,849.9 L1527.1,850.8 L1527.7,850.9 L1528.2,850.1 L1528.7,849.3 L1529.3,849.5 L1530,850.6 L1530.7,851.7 L1531.3,851.9 L1531.8,851.3 L1532.4,850.7 L1533.1,851.1 L1533.7,852.3 L1534.3,853.6 L1534.9,854 L1535.5,853.5 L1536.2,853.2 L1536.8,853.7 L1537.4,855 L1537.9,856.4 L1538.4,856.9 L1539.2,856.7 L1539.9,856.6 L1540.5,857.3 L1540.9,858.7 L1541.3,860 L1541.9,860.7 L1542.6,860.8 L1543.4,860.9 L1544,861.7 L1544.3,863.1 L1544.5,864.5 L1545,865.3 L1545.8,865.6 L1546.7,865.9 L1547.2,866.8 L1547.3,868.2 L1547.5,869.6 L1547.9,870.5 L1548.7,871 L1549.5,871.6 L1550,872.6 L1550,873.9 L1550,875.2 L1550.4,876.2 L1551.2,876.9 L1552,877.7 L1552.3,878.7 L1552.2,880 L1552.1,881.2 L1552.4,882.3Z" fill="#000" stroke="#000" stroke-width="1" fill-rule="evenodd"/>
<path d="M1563.9,880.3 A33.8,65 -15 0 1 1548.1,951.8 A33.8,65 -15 0 1 1498.7,897.7 A33.8,65 -15 0 1 1514.5,826.2 A33.8,65 -15 0 1 1563.9,880.3Z M1551.2,883.7 L1552,884.6 L1552.2,885.7 L1552,886.8 L1551.7,887.9 L1551.9,889 L1552.6,890 L1553.3,891.2 L1553.5,892.2 L1553.1,893.2 L1552.7,894.2 L1552.8,895.2 L1553.4,896.4 L1554.1,897.6 L1554.1,898.7 L1553.6,899.5 L1553.1,900.2 L1553.1,901.2 L1553.7,902.5 L1554.2,903.9 L1554.1,904.9 L1553.6,905.5 L1553,906 L1552.9,906.9 L1553.3,908.3 L1553.7,909.7 L1553.6,910.6 L1552.9,911 L1552.2,911.3 L1552,912.1 L1552.3,913.5 L1552.6,915 L1552.4,915.8 L1551.6,915.9 L1550.9,916 L1550.6,916.7 L1550.8,918.1 L1550.9,919.5 L1550.6,920.2 L1549.8,920.1 L1549,920 L1548.6,920.5 L1548.7,921.9 L1548.7,923.2 L1548.3,923.8 L1547.5,923.4 L1546.6,923.1 L1546.2,923.5 L1546.1,924.8 L1546,926 L1545.5,926.4 L1544.7,925.9 L1543.9,925.3 L1543.4,925.5 L1543.2,926.7 L1542.9,927.8 L1542.4,928 L1541.5,927.3 L1540.8,926.5 L1540.2,926.6 L1539.9,927.6 L1539.5,928.5 L1538.9,928.5 L1538.1,927.6 L1537.4,926.6 L1536.8,926.6 L1536.4,927.4 L1535.9,928.2 L1535.2,928 L1534.5,926.9 L1533.9,925.8 L1533.3,925.5 L1532.7,926.2 L1532.1,926.8 L1531.5,926.4 L1530.8,925.2 L1530.3,923.9 L1529.7,923.5 L1529,923.9 L1528.3,924.3 L1527.7,923.8 L1527.2,922.5 L1526.7,921.1 L1526.1,920.6 L1525.4,920.8 L1524.6,920.9 L1524,920.2 L1523.6,918.8 L1523.2,917.4 L1522.7,916.7 L1521.9,916.7 L1521.1,916.6 L1520.5,915.8 L1520.3,914.4 L1520,913 L1519.5,912.2 L1518.7,911.9 L1517.9,911.6 L1517.4,910.7 L1517.2,909.2 L1517.1,907.9 L1516.6,907 L1515.8,906.5 L1515,905.9 L1514.6,904.9 L1514.5,903.6 L1514.5,902.2 L1514.2,901.3 L1513.4,900.6 L1512.6,899.8 L1512.2,898.7 L1512.3,897.5 L1512.5,896.2 L1512.2,895.2 L1511.4,894.3 L1510.6,893.4 L1510.4,892.3 L1510.6,891.2 L1510.9,890.1 L1510.7,889 L1510,888 L1509.3,886.8 L1509.1,885.8 L1509.5,884.8 L1509.9,883.8 L1509.8,882.8 L1509.2,881.6 L1508.5,880.4 L1508.5,879.3 L1509,878.5 L1509.5,877.8 L1509.5,876.8 L1508.9,875.5 L1508.4,874.1 L1508.5,873.1 L1509,872.5 L1509.6,872 L1509.7,871.1 L1509.3,869.7 L1508.9,868.3 L1509,867.4 L1509.7,867 L1510.4,866.7 L1510.6,865.9 L1510.3,864.5 L1510,863 L1510.2,862.2 L1511,862.1 L1511.7,862 L1512,861.3 L1511.8,859.9 L1511.7,858.5 L1512,857.8 L1512.8,857.9 L1513.6,858 L1514,857.5 L1513.9,856.1 L1513.9,854.8 L1514.3,854.2 L1515.1,854.6 L1516,854.9 L1516.4,854.5 L1516.5,853.2 L1516.6,852 L1517.1,851.6 L1517.9,852.1 L1518.7,852.7 L1519.2,852.5 L1519.4,851.3 L1519.7,850.2 L1520.2,850 L1521.1,850.7 L1521.8,851.5 L1522.4,851.4 L1522.7,850.4 L1523.1,849.5 L1523.7,849.5 L1524.5,850.4 L1525.2,851.4 L1525.8,851.4 L1526.2,850.6 L1526.7,849.8 L1527.4,850 L1528.1,851.1 L1528.7,852.2 L1529.3,852.5 L1529.9,851.8 L1530.5,851.2 L1531.1,851.6 L1531.8,852.8 L1532.3,854.1 L1532.9,854.5 L1533.6,854.1 L1534.3,853.7 L1534.9,854.2 L1535.4,855.5 L1535.9,856.9 L1536.5,857.4 L1537.2,857.2 L1538,857.1 L1538.6,857.8 L1539,859.2 L1539.4,860.6 L1539.9,861.3 L1540.7,861.3 L1541.5,861.4 L1542.1,862.2 L1542.3,863.6 L1542.6,865 L1543.1,865.8 L1543.9,866.1 L1544.7,866.4 L1545.2,867.3 L1545.4,868.8 L1545.5,870.1 L1546,871 L1546.8,871.5 L1547.6,872.1 L1548,873.1 L1548.1,874.4 L1548.1,875.8 L1548.4,876.7 L1549.2,877.4 L1550,878.2 L1550.4,879.3 L1550.3,880.5 L1550.1,881.8 L1550.4,882.8Z" fill="#000" stroke="#000" stroke-width="1" fill-rule="evenodd"/>
<path d="M1526.7,891.2 L1527.1,892.6 L1529.5,896.5 L1529.8,897.4 L1529,901.6 L1529.3,903 L1529.5,904.4 L1531.7,908.8 L1531.8,909.8 L1530.6,913.3 L1530.8,914.7 L1530.9,916.1 L1532.7,920.8 L1532.7,921.8 L1531.1,924.6 L1531,925.9 L1531,927.2 L1532.4,932.2 L1532.3,933.1 L1530.3,935.1 L1530.1,936.3 L1530,937.5 L1530.9,942.5 L1530.7,943.3 L1528.4,944.5 L1528.1,945.5 L1527.8,946.5 L1528.2,951.5 L1527.9,952.1 L1525.4,952.4 L1524.9,953.3 L1524.5,954.1 L1524.4,958.8 L1524.1,959.3 L1521.3,958.7 L1520.8,959.3 L1520.2,959.9 L1519.7,964.2 L1519.2,964.6 L1516.4,963.1 L1515.8,963.5 L1515.1,963.8 L1514.1,967.6 L1513.6,967.7 L1510.8,965.4 L1510.1,965.6 L1509.3,965.7 L1507.8,968.7 L1507.3,968.7 L1504.6,965.7 L1503.8,965.5 L1503.1,965.4 L1501.2,967.7 L1500.6,967.5 L1498.1,963.8 L1497.3,963.4 L1496.5,963 L1494.3,964.5 L1493.7,964.1 L1491.5,959.9 L1490.7,959.2 L1489.9,958.6 L1487.3,959.2 L1486.8,958.7 L1484.9,954 L1484.1,953.2 L1483.4,952.3 L1480.7,952 L1480.1,951.4 L1478.6,946.4 L1477.9,945.4 L1477.2,944.4 L1474.4,943.1 L1473.9,942.4 L1472.9,937.3 L1472.2,936.1 L1471.6,935 L1468.8,932.9 L1468.3,932 L1467.8,927 L1467.2,925.7 L1466.7,924.4 L1463.9,921.6 L1463.6,920.6 L1463.5,915.9 L1463.1,914.5 L1462.7,913.1 L1460.1,909.6 L1459.8,908.6 L1460.3,904.2 L1460,902.8 L1459.7,901.4 L1457.3,897.2 L1457.1,896.3 L1458.1,892.4 L1457.9,891 L1457.8,889.6 L1455.7,885 L1455.7,884 L1457.1,880.8 L1457,879.5 L1457,878.1 L1455.4,873.3 L1455.4,872.3 L1457.2,869.9 L1457.3,868.6 L1457.5,867.4 L1456.3,862.4 L1456.4,861.5 L1458.6,859.9 L1458.8,858.8 L1459.1,857.7 L1458.4,852.7 L1458.6,852 L1461.1,851.2 L1461.5,850.3 L1461.8,849.3 L1461.6,844.5 L1462,843.9 L1464.6,844.1 L1465.1,843.3 L1465.6,842.6 L1465.9,838.1 L1466.3,837.7 L1469.1,838.7 L1469.7,838.2 L1470.3,837.7 L1471.1,833.7 L1471.6,833.5 L1474.4,835.4 L1475.1,835.1 L1475.8,834.9 L1477.1,831.4 L1477.6,831.4 L1480.3,834.1 L1481.1,834.1 L1481.8,834.1 L1483.6,831.4 L1484.1,831.5 L1486.7,834.9 L1487.5,835.1 L1488.3,835.4 L1490.4,833.5 L1490.9,833.8 L1493.3,837.8 L1494.1,838.3 L1494.9,838.8 L1497.3,837.8 L1497.9,838.2 L1499.9,842.7 L1500.7,843.4 L1501.5,844.2 L1504.1,844 L1504.7,844.6 L1506.4,849.5 L1507.1,850.4 L1507.9,851.3 L1510.6,852.1 L1511.1,852.8 L1512.4,857.8 L1513.1,858.9 L1513.8,860.1 L1516.6,861.7 L1517.1,862.5 L1517.9,867.6 L1518.5,868.8 L1519.1,870.1 L1521.9,872.5 L1522.2,873.4 L1522.5,878.3 L1523,879.7 L1523.5,881 L1526.2,884.2 L1526.5,885.2 L1526.3,889.8Z M1516.1,894 A22.8,45.6 -15 0 1 1505.8,944 A22.8,45.6 -15 0 1 1472,905.8 A22.8,45.6 -15 0 1 1482.2,855.9 A22.8,45.6 -15 0 1 1516.1,894Z" fill="#fff" stroke="#000" stroke-width="2.6" fill-rule="evenodd"/>
<path d="M1525.1,891.6 L1525.5,893 L1528,896.9 L1528.2,897.9 L1527.5,902 L1527.7,903.4 L1528,904.8 L1530.2,909.2 L1530.3,910.2 L1529.1,913.7 L1529.2,915.1 L1529.3,916.5 L1531.1,921.2 L1531.2,922.2 L1529.5,925 L1529.5,926.3 L1529.5,927.6 L1530.9,932.6 L1530.8,933.5 L1528.8,935.5 L1528.6,936.7 L1528.4,937.9 L1529.4,942.9 L1529.2,943.7 L1526.8,944.9 L1526.5,945.9 L1526.2,947 L1526.7,951.9 L1526.4,952.6 L1523.8,952.9 L1523.4,953.7 L1522.9,954.5 L1522.9,959.2 L1522.5,959.7 L1519.8,959.1 L1519.2,959.7 L1518.7,960.3 L1518.1,964.6 L1517.7,965 L1514.9,963.5 L1514.2,963.9 L1513.6,964.2 L1512.5,968 L1512,968.2 L1509.2,965.8 L1508.5,966 L1507.8,966.1 L1506.3,969.2 L1505.8,969.2 L1503.1,966.1 L1502.3,966 L1501.5,965.8 L1499.6,968.1 L1499.1,967.9 L1496.6,964.2 L1495.8,963.8 L1495,963.4 L1492.7,964.9 L1492.2,964.6 L1489.9,960.3 L1489.1,959.7 L1488.3,959 L1485.8,959.6 L1485.3,959.1 L1483.4,954.4 L1482.6,953.6 L1481.8,952.7 L1479.1,952.4 L1478.6,951.8 L1477.1,946.8 L1476.4,945.8 L1475.7,944.8 L1472.8,943.6 L1472.4,942.8 L1471.3,937.7 L1470.7,936.6 L1470,935.4 L1467.2,933.3 L1466.8,932.4 L1466.2,927.5 L1465.7,926.2 L1465.1,924.8 L1462.4,922 L1462,921 L1462,916.3 L1461.6,914.9 L1461.1,913.5 L1458.5,910 L1458.3,909 L1458.7,904.6 L1458.4,903.2 L1458.1,901.8 L1455.8,897.7 L1455.6,896.7 L1456.6,892.8 L1456.4,891.4 L1456.2,890 L1454.2,885.4 L1454.1,884.5 L1455.5,881.3 L1455.5,879.9 L1455.5,878.6 L1453.8,873.7 L1453.9,872.8 L1455.7,870.3 L1455.8,869 L1455.9,867.8 L1454.7,862.8 L1454.9,862 L1457.1,860.3 L1457.3,859.2 L1457.5,858.1 L1456.8,853.1 L1457.1,852.4 L1459.5,851.6 L1459.9,850.7 L1460.3,849.8 L1460.1,844.9 L1460.4,844.3 L1463.1,844.5 L1463.6,843.7 L1464.1,843 L1464.4,838.5 L1464.8,838.1 L1467.6,839.1 L1468.2,838.6 L1468.8,838.2 L1469.6,834.1 L1470,833.9 L1472.9,835.8 L1473.6,835.5 L1474.2,835.3 L1475.5,831.9 L1476,831.8 L1478.8,834.5 L1479.5,834.5 L1480.3,834.5 L1482,831.8 L1482.5,831.9 L1485.2,835.3 L1485.9,835.5 L1486.7,835.8 L1488.8,833.9 L1489.4,834.2 L1491.8,838.2 L1492.6,838.7 L1493.4,839.2 L1495.8,838.2 L1496.3,838.6 L1498.4,843.1 L1499.2,843.8 L1500,844.6 L1502.6,844.5 L1503.1,845 L1504.8,849.9 L1505.6,850.8 L1506.3,851.7 L1509.1,852.5 L1509.6,853.2 L1510.9,858.2 L1511.6,859.3 L1512.2,860.5 L1515.1,862.1 L1515.5,862.9 L1516.3,868 L1516.9,869.2 L1517.5,870.5 L1520.3,872.9 L1520.7,873.9 L1521,878.7 L1521.5,880.1 L1522,881.4 L1524.7,884.7 L1525,885.6 L1524.8,890.2Z M1514.5,894.4 A22.8,45.6 -15 0 1 1504.3,944.4 A22.8,45.6 -15 0 1 1470.5,906.3 A22.8,45.6 -15 0 1 1480.7,856.3 A22.8,45.6 -15 0 1 1514.5,894.4Z" fill="#fff" stroke="#000" stroke-width="2.6" fill-rule="evenodd"/>
<path d="M1482.5,902.1 A33.8,65 -15 0 1 1466.7,973.6 A33.8,65 -15 0 1 1417.2,919.6 A33.8,65 -15 0 1 1433,848 A33.8,65 -15 0 1 1482.5,902.1Z M1469.7,905.5 L1470.5,906.5 L1470.7,907.5 L1470.5,908.7 L1470.2,909.8 L1470.4,910.8 L1471.1,911.9 L1471.8,913 L1472,914.1 L1471.6,915.1 L1471.2,916 L1471.3,917 L1472,918.2 L1472.6,919.5 L1472.7,920.5 L1472.2,921.3 L1471.7,922.1 L1471.7,923 L1472.2,924.4 L1472.7,925.7 L1472.7,926.7 L1472.1,927.3 L1471.5,927.8 L1471.4,928.7 L1471.8,930.1 L1472.2,931.5 L1472.1,932.4 L1471.4,932.8 L1470.7,933.1 L1470.5,934 L1470.8,935.4 L1471.1,936.8 L1470.9,937.6 L1470.1,937.7 L1469.4,937.8 L1469.1,938.5 L1469.3,939.9 L1469.4,941.3 L1469.1,942 L1468.3,941.9 L1467.5,941.8 L1467.2,942.4 L1467.2,943.7 L1467.2,945.1 L1466.8,945.6 L1466,945.3 L1465.2,944.9 L1464.7,945.3 L1464.7,946.6 L1464.5,947.9 L1464,948.2 L1463.2,947.7 L1462.4,947.1 L1461.9,947.4 L1461.7,948.5 L1461.4,949.6 L1460.9,949.8 L1460.1,949.1 L1459.3,948.3 L1458.7,948.4 L1458.4,949.4 L1458,950.4 L1457.4,950.4 L1456.7,949.4 L1455.9,948.5 L1455.3,948.4 L1454.9,949.2 L1454.4,950 L1453.8,949.8 L1453.1,948.7 L1452.4,947.6 L1451.8,947.4 L1451.2,948 L1450.6,948.6 L1450,948.2 L1449.4,947 L1448.8,945.8 L1448.2,945.4 L1447.5,945.8 L1446.9,946.1 L1446.2,945.6 L1445.7,944.3 L1445.2,943 L1444.6,942.4 L1443.9,942.6 L1443.2,942.7 L1442.6,942.1 L1442.1,940.7 L1441.8,939.3 L1441.2,938.6 L1440.4,938.5 L1439.6,938.4 L1439.1,937.6 L1438.8,936.2 L1438.5,934.8 L1438,934 L1437.2,933.7 L1436.4,933.4 L1435.9,932.5 L1435.7,931.1 L1435.6,929.7 L1435.2,928.8 L1434.3,928.3 L1433.5,927.7 L1433.1,926.7 L1433.1,925.4 L1433.1,924.1 L1432.7,923.1 L1431.9,922.4 L1431.1,921.6 L1430.7,920.6 L1430.9,919.3 L1431,918.1 L1430.7,917.1 L1429.9,916.2 L1429.2,915.2 L1428.9,914.1 L1429.2,913 L1429.4,911.9 L1429.2,910.9 L1428.5,909.8 L1427.8,908.7 L1427.7,907.6 L1428,906.6 L1428.4,905.7 L1428.3,904.7 L1427.7,903.5 L1427.1,902.2 L1427,901.1 L1427.5,900.3 L1428,899.6 L1428,898.6 L1427.5,897.3 L1426.9,896 L1427,895 L1427.6,894.4 L1428.2,893.8 L1428.3,892.9 L1427.8,891.5 L1427.4,890.1 L1427.6,889.2 L1428.3,888.8 L1428.9,888.5 L1429.1,887.7 L1428.8,886.3 L1428.5,884.9 L1428.8,884.1 L1429.5,883.9 L1430.3,883.8 L1430.6,883.1 L1430.4,881.7 L1430.2,880.3 L1430.6,879.6 L1431.4,879.7 L1432.1,879.9 L1432.5,879.3 L1432.5,877.9 L1432.4,876.6 L1432.9,876.1 L1433.7,876.4 L1434.5,876.8 L1434.9,876.3 L1435,875.1 L1435.1,873.8 L1435.6,873.4 L1436.4,874 L1437.3,874.6 L1437.8,874.3 L1438,873.2 L1438.2,872 L1438.8,871.8 L1439.6,872.6 L1440.4,873.4 L1440.9,873.3 L1441.3,872.3 L1441.6,871.3 L1442.2,871.3 L1443,872.2 L1443.7,873.2 L1444.3,873.3 L1444.8,872.4 L1445.3,871.7 L1445.9,871.8 L1446.6,872.9 L1447.3,874 L1447.9,874.3 L1448.4,873.7 L1449,873.1 L1449.7,873.4 L1450.3,874.7 L1450.9,875.9 L1451.5,876.3 L1452.1,875.9 L1452.8,875.5 L1453.4,876 L1454,877.4 L1454.5,878.7 L1455,879.3 L1455.8,879.1 L1456.5,878.9 L1457.1,879.6 L1457.5,881 L1457.9,882.4 L1458.5,883.1 L1459.2,883.1 L1460,883.2 L1460.6,884 L1460.9,885.4 L1461.1,886.9 L1461.6,887.7 L1462.4,887.9 L1463.3,888.3 L1463.8,889.2 L1463.9,890.6 L1464.1,892 L1464.5,892.9 L1465.3,893.4 L1466.1,893.9 L1466.6,894.9 L1466.6,896.3 L1466.6,897.6 L1467,898.6 L1467.8,899.3 L1468.6,900 L1468.9,901.1 L1468.8,902.4 L1468.7,903.6 L1469,904.6Z" fill="#000" stroke="#000" stroke-width="1" fill-rule="evenodd"/>
<path d="M1480.5,902.6 A33.8,65 -15 0 1 1464.7,974.1 A33.8,65 -15 0 1 1415.3,920.1 A33.8,65 -15 0 1 1431.1,848.6 A33.8,65 -15 0 1 1480.5,902.6Z M1467.8,906 L1468.6,907 L1468.8,908.1 L1468.6,909.2 L1468.3,910.3 L1468.5,911.3 L1469.2,912.4 L1469.9,913.5 L1470.1,914.6 L1469.7,915.6 L1469.3,916.5 L1469.4,917.5 L1470,918.7 L1470.7,920 L1470.7,921 L1470.2,921.8 L1469.7,922.6 L1469.7,923.6 L1470.3,924.9 L1470.8,926.2 L1470.7,927.2 L1470.2,927.8 L1469.6,928.3 L1469.5,929.3 L1469.9,930.6 L1470.3,932 L1470.2,933 L1469.5,933.3 L1468.8,933.7 L1468.6,934.5 L1468.9,935.9 L1469.2,937.3 L1469,938.1 L1468.2,938.3 L1467.5,938.3 L1467.2,939.1 L1467.4,940.5 L1467.5,941.9 L1467.2,942.5 L1466.4,942.5 L1465.6,942.3 L1465.2,942.9 L1465.3,944.2 L1465.3,945.6 L1464.9,946.1 L1464.1,945.8 L1463.2,945.4 L1462.8,945.9 L1462.7,947.1 L1462.6,948.4 L1462.1,948.7 L1461.3,948.2 L1460.5,947.6 L1460,947.9 L1459.8,949 L1459.5,950.2 L1459,950.4 L1458.1,949.6 L1457.4,948.8 L1456.8,948.9 L1456.5,949.9 L1456.1,950.9 L1455.5,950.9 L1454.7,950 L1454,949 L1453.4,948.9 L1453,949.7 L1452.5,950.5 L1451.8,950.4 L1451.1,949.3 L1450.5,948.1 L1449.9,947.9 L1449.3,948.5 L1448.7,949.1 L1448.1,948.8 L1447.4,947.5 L1446.9,946.3 L1446.3,945.9 L1445.6,946.3 L1444.9,946.6 L1444.3,946.1 L1443.8,944.8 L1443.3,943.5 L1442.7,942.9 L1442,943.1 L1441.2,943.2 L1440.6,942.6 L1440.2,941.2 L1439.8,939.8 L1439.3,939.1 L1438.5,939 L1437.7,938.9 L1437.1,938.2 L1436.9,936.7 L1436.6,935.3 L1436.1,934.5 L1435.3,934.2 L1434.5,933.9 L1434,933 L1433.8,931.6 L1433.7,930.2 L1433.2,929.3 L1432.4,928.8 L1431.6,928.3 L1431.2,927.3 L1431.1,925.9 L1431.1,924.6 L1430.8,923.6 L1430,922.9 L1429.2,922.1 L1428.8,921.1 L1428.9,919.8 L1429.1,918.6 L1428.8,917.6 L1428,916.7 L1427.2,915.7 L1427,914.6 L1427.2,913.5 L1427.5,912.4 L1427.3,911.4 L1426.6,910.3 L1425.9,909.2 L1425.7,908.1 L1426.1,907.1 L1426.5,906.2 L1426.4,905.2 L1425.8,904 L1425.1,902.7 L1425.1,901.7 L1425.6,900.9 L1426.1,900.1 L1426.1,899.1 L1425.5,897.8 L1425,896.5 L1425.1,895.5 L1425.6,894.9 L1426.2,894.4 L1426.3,893.4 L1425.9,892.1 L1425.5,890.7 L1425.6,889.7 L1426.3,889.4 L1427,889 L1427.2,888.2 L1426.9,886.8 L1426.6,885.4 L1426.8,884.6 L1427.6,884.4 L1428.3,884.4 L1428.6,883.6 L1428.4,882.2 L1428.3,880.8 L1428.6,880.2 L1429.4,880.2 L1430.2,880.4 L1430.6,879.8 L1430.5,878.5 L1430.5,877.1 L1430.9,876.6 L1431.7,876.9 L1432.6,877.3 L1433,876.8 L1433.1,875.6 L1433.2,874.3 L1433.7,874 L1434.5,874.5 L1435.3,875.1 L1435.8,874.8 L1436,873.7 L1436.3,872.5 L1436.8,872.3 L1437.7,873.1 L1438.4,873.9 L1439,873.8 L1439.3,872.8 L1439.7,871.8 L1440.3,871.8 L1441.1,872.7 L1441.8,873.7 L1442.4,873.8 L1442.8,873 L1443.3,872.2 L1444,872.3 L1444.7,873.4 L1445.3,874.6 L1445.9,874.8 L1446.5,874.2 L1447.1,873.6 L1447.7,873.9 L1448.4,875.2 L1448.9,876.4 L1449.5,876.8 L1450.2,876.4 L1450.9,876.1 L1451.5,876.6 L1452,877.9 L1452.5,879.2 L1453.1,879.8 L1453.8,879.6 L1454.6,879.5 L1455.2,880.1 L1455.6,881.5 L1456,882.9 L1456.5,883.6 L1457.3,883.7 L1458.1,883.8 L1458.7,884.5 L1458.9,886 L1459.2,887.4 L1459.7,888.2 L1460.5,888.5 L1461.3,888.8 L1461.8,889.7 L1462,891.1 L1462.1,892.5 L1462.6,893.4 L1463.4,893.9 L1464.2,894.4 L1464.6,895.4 L1464.7,896.8 L1464.7,898.1 L1465,899.1 L1465.8,899.8 L1466.6,900.6 L1467,901.6 L1466.9,902.9 L1466.7,904.1 L1467,905.1Z" fill="#000" stroke="#000" stroke-width="1" fill-rule="evenodd"/>
<path d="M1443.3,913.5 L1443.7,914.9 L1446.1,918.8 L1446.4,919.8 L1445.6,923.9 L1445.9,925.3 L1446.1,926.8 L1448.3,931.1 L1448.4,932.1 L1447.2,935.7 L1447.4,937 L1447.5,938.4 L1449.3,943.2 L1449.3,944.1 L1447.7,947 L1447.6,948.3 L1447.6,949.6 L1449,954.5 L1448.9,955.4 L1446.9,957.5 L1446.7,958.7 L1446.6,959.8 L1447.5,964.9 L1447.3,965.6 L1445,966.8 L1444.7,967.9 L1444.4,968.9 L1444.8,973.8 L1444.5,974.5 L1442,974.8 L1441.5,975.6 L1441.1,976.5 L1441,981.1 L1440.7,981.7 L1437.9,981.1 L1437.4,981.7 L1436.8,982.3 L1436.3,986.6 L1435.8,986.9 L1433,985.4 L1432.4,985.8 L1431.7,986.2 L1430.7,989.9 L1430.2,990.1 L1427.4,987.8 L1426.7,987.9 L1425.9,988 L1424.4,991.1 L1423.9,991.1 L1421.2,988 L1420.4,987.9 L1419.7,987.7 L1417.8,990.1 L1417.2,989.9 L1414.7,986.1 L1413.9,985.8 L1413.1,985.4 L1410.9,986.8 L1410.3,986.5 L1408.1,982.2 L1407.3,981.6 L1406.5,981 L1403.9,981.6 L1403.4,981 L1401.5,976.4 L1400.7,975.5 L1400,974.7 L1397.3,974.4 L1396.7,973.7 L1395.2,968.8 L1394.5,967.7 L1393.8,966.7 L1391,965.5 L1390.5,964.7 L1389.5,959.7 L1388.8,958.5 L1388.2,957.3 L1385.4,955.2 L1384.9,954.4 L1384.4,949.4 L1383.8,948.1 L1383.3,946.8 L1380.5,943.9 L1380.2,943 L1380.1,938.2 L1379.7,936.9 L1379.3,935.5 L1376.7,931.9 L1376.4,930.9 L1376.9,926.6 L1376.6,925.1 L1376.3,923.7 L1373.9,919.6 L1373.7,918.6 L1374.7,914.8 L1374.5,913.3 L1374.4,911.9 L1372.3,907.4 L1372.3,906.4 L1373.7,903.2 L1373.6,901.8 L1373.6,900.5 L1372,895.6 L1372,894.7 L1373.8,892.2 L1373.9,891 L1374.1,889.7 L1372.9,884.7 L1373,883.9 L1375.2,882.3 L1375.4,881.1 L1375.7,880 L1375,875 L1375.2,874.3 L1377.7,873.6 L1378.1,872.6 L1378.4,871.7 L1378.2,866.9 L1378.6,866.3 L1381.2,866.4 L1381.7,865.7 L1382.2,865 L1382.5,860.5 L1382.9,860 L1385.7,861.1 L1386.3,860.6 L1386.9,860.1 L1387.7,856.1 L1388.2,855.8 L1391,857.7 L1391.7,857.4 L1392.4,857.2 L1393.7,853.8 L1394.2,853.7 L1396.9,856.4 L1397.7,856.4 L1398.4,856.4 L1400.2,853.7 L1400.7,853.8 L1403.3,857.2 L1404.1,857.5 L1404.9,857.8 L1407,855.9 L1407.5,856.1 L1409.9,860.2 L1410.7,860.6 L1411.5,861.2 L1413.9,860.1 L1414.5,860.6 L1416.5,865.1 L1417.3,865.8 L1418.1,866.5 L1420.7,866.4 L1421.3,867 L1423,871.8 L1423.7,872.7 L1424.5,873.7 L1427.2,874.5 L1427.7,875.2 L1429,880.2 L1429.7,881.3 L1430.4,882.4 L1433.2,884.1 L1433.7,884.9 L1434.5,889.9 L1435.1,891.2 L1435.7,892.4 L1438.5,894.9 L1438.8,895.8 L1439.1,900.7 L1439.6,902 L1440.1,903.4 L1442.8,906.6 L1443.1,907.6 L1442.9,912.1Z M1432.7,916.4 A22.8,45.6 -15 0 1 1422.4,966.3 A22.8,45.6 -15 0 1 1388.6,928.2 A22.8,45.6 -15 0 1 1398.8,878.2 A22.8,45.6 -15 0 1 1432.7,916.4Z" fill="#fff" stroke="#000" stroke-width="2.6" fill-rule="evenodd"/>
<path d="M1441.7,914 L1442.1,915.4 L1444.6,919.2 L1444.8,920.2 L1444.1,924.3 L1444.3,925.8 L1444.6,927.2 L1446.8,931.5 L1446.9,932.5 L1445.7,936.1 L1445.8,937.5 L1445.9,938.8 L1447.7,943.6 L1447.8,944.5 L1446.1,947.4 L1446.1,948.7 L1446.1,950 L1447.5,955 L1447.4,955.8 L1445.4,957.9 L1445.2,959.1 L1445,960.2 L1446,965.3 L1445.8,966.1 L1443.4,967.3 L1443.1,968.3 L1442.8,969.3 L1443.3,974.3 L1443,974.9 L1440.4,975.2 L1440,976.1 L1439.5,976.9 L1439.5,981.6 L1439.1,982.1 L1436.4,981.5 L1435.8,982.1 L1435.3,982.7 L1434.7,987 L1434.3,987.3 L1431.5,985.8 L1430.8,986.2 L1430.2,986.6 L1429.1,990.3 L1428.6,990.5 L1425.8,988.2 L1425.1,988.3 L1424.4,988.4 L1422.9,991.5 L1422.4,991.5 L1419.7,988.4 L1418.9,988.3 L1418.1,988.2 L1416.2,990.5 L1415.7,990.3 L1413.2,986.5 L1412.4,986.2 L1411.6,985.8 L1409.3,987.3 L1408.8,986.9 L1406.5,982.6 L1405.7,982 L1404.9,981.4 L1402.4,982 L1401.9,981.5 L1400,976.8 L1399.2,975.9 L1398.4,975.1 L1395.7,974.8 L1395.2,974.1 L1393.7,969.2 L1393,968.2 L1392.3,967.1 L1389.4,965.9 L1389,965.1 L1387.9,960.1 L1387.3,958.9 L1386.6,957.7 L1383.8,955.7 L1383.4,954.8 L1382.8,949.8 L1382.3,948.5 L1381.7,947.2 L1379,944.3 L1378.6,943.4 L1378.6,938.6 L1378.2,937.3 L1377.7,935.9 L1375.1,932.3 L1374.9,931.3 L1375.3,927 L1375,925.6 L1374.7,924.1 L1372.4,920 L1372.2,919 L1373.2,915.2 L1373,913.8 L1372.8,912.4 L1370.8,907.8 L1370.7,906.8 L1372.1,903.6 L1372.1,902.3 L1372.1,900.9 L1370.4,896 L1370.5,895.1 L1372.3,892.7 L1372.4,891.4 L1372.5,890.2 L1371.3,885.1 L1371.5,884.3 L1373.7,882.7 L1373.9,881.5 L1374.1,880.5 L1373.4,875.4 L1373.7,874.7 L1376.1,874 L1376.5,873 L1376.9,872.1 L1376.7,867.3 L1377,866.7 L1379.7,866.8 L1380.2,866.1 L1380.7,865.4 L1381,860.9 L1381.4,860.5 L1384.2,861.5 L1384.8,861 L1385.4,860.5 L1386.2,856.5 L1386.6,856.2 L1389.5,858.1 L1390.2,857.9 L1390.8,857.6 L1392.1,854.2 L1392.6,854.1 L1395.4,856.8 L1396.1,856.8 L1396.9,856.8 L1398.6,854.1 L1399.1,854.2 L1401.8,857.7 L1402.5,857.9 L1403.3,858.2 L1405.4,856.3 L1406,856.5 L1408.4,860.6 L1409.2,861.1 L1410,861.6 L1412.4,860.5 L1412.9,861 L1415,865.5 L1415.8,866.2 L1416.6,866.9 L1419.2,866.8 L1419.7,867.4 L1421.4,872.2 L1422.2,873.2 L1422.9,874.1 L1425.7,874.9 L1426.2,875.6 L1427.5,880.6 L1428.2,881.7 L1428.8,882.8 L1431.7,884.5 L1432.1,885.3 L1432.9,890.3 L1433.5,891.6 L1434.1,892.8 L1436.9,895.3 L1437.3,896.2 L1437.6,901.1 L1438.1,902.4 L1438.6,903.8 L1441.3,907 L1441.6,908 L1441.4,912.5Z M1431.1,916.8 A22.8,45.6 -15 0 1 1420.9,966.7 A22.8,45.6 -15 0 1 1387.1,928.6 A22.8,45.6 -15 0 1 1397.3,878.7 A22.8,45.6 -15 0 1 1431.1,916.8Z" fill="#fff" stroke="#000" stroke-width="2.6" fill-rule="evenodd"/>
<path d="M1399.1,924.4 A33.8,65 -15 0 1 1383.3,996 A33.8,65 -15 0 1 1333.8,941.9 A33.8,65 -15 0 1 1349.6,870.4 A33.8,65 -15 0 1 1399.1,924.4Z M1386.3,927.9 L1387.1,928.8 L1387.3,929.9 L1387.1,931 L1386.8,932.1 L1387,933.2 L1387.7,934.2 L1388.4,935.3 L1388.6,936.4 L1388.2,937.4 L1387.8,938.3 L1387.9,939.4 L1388.6,940.6 L1389.2,941.8 L1389.3,942.9 L1388.8,943.7 L1388.3,944.4 L1388.3,945.4 L1388.8,946.7 L1389.3,948 L1389.3,949 L1388.7,949.6 L1388.1,950.2 L1388,951.1 L1388.4,952.5 L1388.8,953.9 L1388.7,954.8 L1388,955.2 L1387.3,955.5 L1387.1,956.3 L1387.4,957.7 L1387.7,959.1 L1387.5,959.9 L1386.7,960.1 L1386,960.2 L1385.7,960.9 L1385.9,962.3 L1386,963.7 L1385.7,964.4 L1384.9,964.3 L1384.1,964.1 L1383.8,964.7 L1383.8,966.1 L1383.8,967.4 L1383.4,968 L1382.6,967.6 L1381.8,967.3 L1381.3,967.7 L1381.3,969 L1381.1,970.2 L1380.6,970.6 L1379.8,970 L1379,969.4 L1378.5,969.7 L1378.3,970.9 L1378,972 L1377.5,972.2 L1376.7,971.4 L1375.9,970.6 L1375.3,970.7 L1375,971.7 L1374.6,972.7 L1374,972.7 L1373.3,971.8 L1372.5,970.8 L1371.9,970.7 L1371.5,971.6 L1371,972.4 L1370.4,972.2 L1369.7,971.1 L1369,970 L1368.4,969.7 L1367.8,970.4 L1367.2,970.9 L1366.6,970.6 L1366,969.4 L1365.4,968.1 L1364.8,967.7 L1364.1,968.1 L1363.5,968.5 L1362.8,968 L1362.3,966.6 L1361.8,965.3 L1361.2,964.7 L1360.5,964.9 L1359.8,965.1 L1359.2,964.4 L1358.7,963 L1358.4,961.6 L1357.8,960.9 L1357,960.9 L1356.2,960.8 L1355.7,960 L1355.4,958.6 L1355.1,957.2 L1354.6,956.4 L1353.8,956.1 L1353,955.7 L1352.5,954.8 L1352.3,953.4 L1352.2,952 L1351.8,951.1 L1350.9,950.6 L1350.1,950.1 L1349.7,949.1 L1349.7,947.7 L1349.7,946.4 L1349.3,945.4 L1348.5,944.7 L1347.7,944 L1347.3,942.9 L1347.5,941.7 L1347.6,940.4 L1347.3,939.4 L1346.5,938.5 L1345.8,937.6 L1345.5,936.5 L1345.8,935.3 L1346,934.2 L1345.8,933.2 L1345.1,932.1 L1344.4,931 L1344.3,929.9 L1344.6,929 L1345,928 L1344.9,927 L1344.3,925.8 L1343.7,924.6 L1343.6,923.5 L1344.1,922.7 L1344.6,922 L1344.6,921 L1344.1,919.7 L1343.5,918.3 L1343.6,917.3 L1344.2,916.7 L1344.8,916.2 L1344.9,915.3 L1344.4,913.9 L1344,912.5 L1344.2,911.6 L1344.9,911.2 L1345.5,910.9 L1345.7,910.1 L1345.4,908.7 L1345.1,907.2 L1345.4,906.4 L1346.1,906.3 L1346.9,906.2 L1347.2,905.5 L1347,904.1 L1346.8,902.7 L1347.2,902 L1348,902.1 L1348.7,902.2 L1349.1,901.6 L1349.1,900.3 L1349,898.9 L1349.5,898.4 L1350.3,898.7 L1351.1,899.1 L1351.5,898.7 L1351.6,897.4 L1351.7,896.2 L1352.2,895.8 L1353,896.3 L1353.9,896.9 L1354.4,896.7 L1354.6,895.5 L1354.8,894.4 L1355.4,894.2 L1356.2,894.9 L1357,895.7 L1357.5,895.6 L1357.9,894.6 L1358.2,893.6 L1358.8,893.6 L1359.6,894.6 L1360.3,895.5 L1360.9,895.6 L1361.4,894.8 L1361.9,894 L1362.5,894.2 L1363.2,895.3 L1363.9,896.4 L1364.5,896.6 L1365,896 L1365.6,895.4 L1366.3,895.8 L1366.9,897 L1367.5,898.3 L1368.1,898.7 L1368.7,898.2 L1369.4,897.9 L1370,898.4 L1370.6,899.7 L1371.1,901.1 L1371.6,901.6 L1372.4,901.4 L1373.1,901.3 L1373.7,902 L1374.1,903.4 L1374.5,904.7 L1375.1,905.4 L1375.8,905.5 L1376.6,905.6 L1377.2,906.4 L1377.5,907.8 L1377.7,909.2 L1378.2,910 L1379,910.3 L1379.9,910.6 L1380.4,911.5 L1380.5,912.9 L1380.7,914.3 L1381.1,915.2 L1381.9,915.7 L1382.7,916.3 L1383.2,917.3 L1383.2,918.6 L1383.2,919.9 L1383.6,920.9 L1384.4,921.6 L1385.2,922.4 L1385.5,923.4 L1385.4,924.7 L1385.3,925.9 L1385.6,927Z" fill="#000" stroke="#000" stroke-width="1" fill-rule="evenodd"/>
<path d="M1397.1,925 A33.8,65 -15 0 1 1381.3,996.5 A33.8,65 -15 0 1 1331.9,942.4 A33.8,65 -15 0 1 1347.7,870.9 A33.8,65 -15 0 1 1397.1,925Z M1384.4,928.4 L1385.2,929.3 L1385.4,930.4 L1385.2,931.5 L1384.9,932.6 L1385.1,933.7 L1385.8,934.7 L1386.5,935.9 L1386.7,936.9 L1386.3,937.9 L1385.9,938.9 L1386,939.9 L1386.6,941.1 L1387.3,942.3 L1387.3,943.4 L1386.8,944.2 L1386.3,944.9 L1386.3,945.9 L1386.9,947.2 L1387.4,948.6 L1387.3,949.6 L1386.8,950.2 L1386.2,950.7 L1386.1,951.6 L1386.5,953 L1386.9,954.4 L1386.8,955.3 L1386.1,955.7 L1385.4,956 L1385.2,956.8 L1385.5,958.2 L1385.8,959.7 L1385.6,960.5 L1384.8,960.6 L1384.1,960.7 L1383.8,961.4 L1384,962.8 L1384.1,964.2 L1383.8,964.9 L1383,964.8 L1382.2,964.7 L1381.8,965.2 L1381.9,966.6 L1381.9,967.9 L1381.5,968.5 L1380.7,968.1 L1379.8,967.8 L1379.4,968.2 L1379.3,969.5 L1379.2,970.7 L1378.7,971.1 L1377.9,970.6 L1377.1,970 L1376.6,970.2 L1376.4,971.4 L1376.1,972.5 L1375.6,972.7 L1374.7,972 L1374,971.2 L1373.4,971.3 L1373.1,972.3 L1372.7,973.2 L1372.1,973.2 L1371.3,972.3 L1370.6,971.3 L1370,971.3 L1369.6,972.1 L1369.1,972.9 L1368.4,972.7 L1367.7,971.6 L1367.1,970.5 L1366.5,970.2 L1365.9,970.9 L1365.3,971.5 L1364.7,971.1 L1364,969.9 L1363.5,968.6 L1362.9,968.2 L1362.2,968.6 L1361.5,969 L1360.9,968.5 L1360.4,967.2 L1359.9,965.8 L1359.3,965.3 L1358.6,965.5 L1357.8,965.6 L1357.2,964.9 L1356.8,963.5 L1356.4,962.1 L1355.9,961.4 L1355.1,961.4 L1354.3,961.3 L1353.7,960.5 L1353.5,959.1 L1353.2,957.7 L1352.7,956.9 L1351.9,956.6 L1351.1,956.3 L1350.6,955.4 L1350.4,953.9 L1350.3,952.6 L1349.8,951.7 L1349,951.2 L1348.2,950.6 L1347.8,949.6 L1347.7,948.3 L1347.7,946.9 L1347.4,946 L1346.6,945.3 L1345.8,944.5 L1345.4,943.4 L1345.5,942.2 L1345.7,940.9 L1345.4,939.9 L1344.6,939 L1343.8,938.1 L1343.6,937 L1343.8,935.9 L1344.1,934.8 L1343.9,933.7 L1343.2,932.7 L1342.5,931.5 L1342.3,930.5 L1342.7,929.5 L1343.1,928.5 L1343,927.5 L1342.4,926.3 L1341.7,925.1 L1341.7,924 L1342.2,923.2 L1342.7,922.5 L1342.7,921.5 L1342.1,920.2 L1341.6,918.8 L1341.7,917.8 L1342.2,917.2 L1342.8,916.7 L1342.9,915.8 L1342.5,914.4 L1342.1,913 L1342.2,912.1 L1342.9,911.7 L1343.6,911.4 L1343.8,910.6 L1343.5,909.2 L1343.2,907.7 L1343.4,906.9 L1344.2,906.8 L1344.9,906.7 L1345.2,906 L1345,904.6 L1344.9,903.2 L1345.2,902.5 L1346,902.6 L1346.8,902.7 L1347.2,902.2 L1347.1,900.8 L1347.1,899.5 L1347.5,898.9 L1348.3,899.3 L1349.2,899.6 L1349.6,899.2 L1349.7,897.9 L1349.8,896.7 L1350.3,896.3 L1351.1,896.8 L1351.9,897.4 L1352.4,897.2 L1352.6,896 L1352.9,894.9 L1353.4,894.7 L1354.3,895.4 L1355,896.2 L1355.6,896.1 L1355.9,895.1 L1356.3,894.2 L1356.9,894.2 L1357.7,895.1 L1358.4,896.1 L1359,896.1 L1359.4,895.3 L1359.9,894.5 L1360.6,894.7 L1361.3,895.8 L1361.9,896.9 L1362.5,897.2 L1363.1,896.5 L1363.7,895.9 L1364.3,896.3 L1365,897.5 L1365.5,898.8 L1366.1,899.2 L1366.8,898.8 L1367.5,898.4 L1368.1,898.9 L1368.6,900.2 L1369.1,901.6 L1369.7,902.1 L1370.4,901.9 L1371.2,901.8 L1371.8,902.5 L1372.2,903.9 L1372.6,905.3 L1373.1,906 L1373.9,906 L1374.7,906.1 L1375.3,906.9 L1375.5,908.3 L1375.8,909.7 L1376.3,910.5 L1377.1,910.8 L1377.9,911.1 L1378.4,912 L1378.6,913.5 L1378.7,914.8 L1379.2,915.7 L1380,916.2 L1380.8,916.8 L1381.2,917.8 L1381.3,919.1 L1381.3,920.5 L1381.6,921.4 L1382.4,922.1 L1383.2,922.9 L1383.6,924 L1383.5,925.2 L1383.3,926.5 L1383.6,927.5Z" fill="#000" stroke="#000" stroke-width="1" fill-rule="evenodd"/>
<path d="M1359.9,935.9 L1360.3,937.3 L1362.7,941.2 L1363,942.1 L1362.2,946.3 L1362.5,947.7 L1362.7,949.1 L1364.9,953.5 L1365,954.5 L1363.8,958 L1364,959.4 L1364.1,960.8 L1365.9,965.5 L1365.9,966.5 L1364.3,969.3 L1364.2,970.6 L1364.2,971.9 L1365.6,976.9 L1365.5,977.8 L1363.5,979.8 L1363.3,981 L1363.2,982.2 L1364.1,987.2 L1363.9,988 L1361.6,989.2 L1361.3,990.2 L1361,991.2 L1361.4,996.2 L1361.1,996.8 L1358.6,997.1 L1358.1,998 L1357.7,998.8 L1357.6,1003.5 L1357.3,1004 L1354.5,1003.4 L1354,1004 L1353.4,1004.6 L1352.9,1008.9 L1352.4,1009.3 L1349.6,1007.8 L1349,1008.2 L1348.3,1008.5 L1347.3,1012.3 L1346.8,1012.4 L1344,1010.1 L1343.3,1010.3 L1342.5,1010.4 L1341,1013.4 L1340.5,1013.4 L1337.8,1010.4 L1337,1010.2 L1336.3,1010.1 L1334.4,1012.4 L1333.8,1012.2 L1331.3,1008.5 L1330.5,1008.1 L1329.7,1007.7 L1327.5,1009.2 L1326.9,1008.8 L1324.7,1004.6 L1323.9,1003.9 L1323.1,1003.3 L1320.5,1003.9 L1320,1003.4 L1318.1,998.7 L1317.3,997.9 L1316.6,997 L1313.9,996.7 L1313.3,996.1 L1311.8,991.1 L1311.1,990.1 L1310.4,989.1 L1307.6,987.8 L1307.1,987.1 L1306.1,982 L1305.4,980.8 L1304.8,979.7 L1302,977.6 L1301.5,976.7 L1301,971.7 L1300.4,970.4 L1299.9,969.1 L1297.1,966.3 L1296.8,965.3 L1296.7,960.6 L1296.3,959.2 L1295.9,957.8 L1293.3,954.3 L1293,953.3 L1293.5,948.9 L1293.2,947.5 L1292.9,946.1 L1290.5,941.9 L1290.3,941 L1291.3,937.1 L1291.1,935.7 L1291,934.3 L1288.9,929.7 L1288.9,928.7 L1290.3,925.5 L1290.2,924.2 L1290.2,922.8 L1288.6,918 L1288.6,917 L1290.4,914.6 L1290.5,913.3 L1290.7,912.1 L1289.5,907.1 L1289.6,906.2 L1291.8,904.6 L1292,903.5 L1292.3,902.4 L1291.6,897.4 L1291.8,896.7 L1294.3,895.9 L1294.7,895 L1295,894 L1294.8,889.2 L1295.2,888.6 L1297.8,888.8 L1298.3,888 L1298.8,887.3 L1299.1,882.8 L1299.5,882.4 L1302.3,883.4 L1302.9,882.9 L1303.5,882.4 L1304.3,878.4 L1304.8,878.2 L1307.6,880.1 L1308.3,879.8 L1309,879.6 L1310.3,876.1 L1310.8,876.1 L1313.5,878.8 L1314.3,878.8 L1315,878.8 L1316.8,876.1 L1317.3,876.2 L1319.9,879.6 L1320.7,879.8 L1321.5,880.1 L1323.6,878.2 L1324.1,878.5 L1326.5,882.5 L1327.3,883 L1328.1,883.5 L1330.5,882.5 L1331.1,882.9 L1333.1,887.4 L1333.9,888.1 L1334.7,888.9 L1337.3,888.7 L1337.9,889.3 L1339.6,894.2 L1340.3,895.1 L1341.1,896 L1343.8,896.8 L1344.3,897.5 L1345.6,902.5 L1346.3,903.6 L1347,904.8 L1349.8,906.4 L1350.3,907.2 L1351.1,912.3 L1351.7,913.5 L1352.3,914.8 L1355.1,917.2 L1355.4,918.1 L1355.7,923 L1356.2,924.4 L1356.7,925.7 L1359.4,928.9 L1359.7,929.9 L1359.5,934.5Z M1349.3,938.7 A22.8,45.6 -15 0 1 1339,988.7 A22.8,45.6 -15 0 1 1305.2,950.5 A22.8,45.6 -15 0 1 1315.4,900.6 A22.8,45.6 -15 0 1 1349.3,938.7Z" fill="#fff" stroke="#000" stroke-width="2.6" fill-rule="evenodd"/>
<path d="M1358.3,936.3 L1358.7,937.7 L1361.2,941.6 L1361.4,942.6 L1360.7,946.7 L1360.9,948.1 L1361.2,949.5 L1363.4,953.9 L1363.5,954.9 L1362.3,958.4 L1362.4,959.8 L1362.5,961.2 L1364.3,965.9 L1364.4,966.9 L1362.7,969.7 L1362.7,971 L1362.7,972.3 L1364.1,977.3 L1364,978.2 L1362,980.2 L1361.8,981.4 L1361.6,982.6 L1362.6,987.6 L1362.4,988.4 L1360,989.6 L1359.7,990.6 L1359.4,991.7 L1359.9,996.6 L1359.6,997.3 L1357,997.6 L1356.6,998.4 L1356.1,999.2 L1356.1,1003.9 L1355.7,1004.4 L1353,1003.8 L1352.4,1004.4 L1351.9,1005 L1351.3,1009.3 L1350.9,1009.7 L1348.1,1008.2 L1347.4,1008.6 L1346.8,1008.9 L1345.7,1012.7 L1345.2,1012.9 L1342.4,1010.5 L1341.7,1010.7 L1341,1010.8 L1339.5,1013.9 L1339,1013.9 L1336.3,1010.8 L1335.5,1010.7 L1334.7,1010.5 L1332.8,1012.8 L1332.3,1012.6 L1329.8,1008.9 L1329,1008.5 L1328.2,1008.1 L1325.9,1009.6 L1325.4,1009.3 L1323.1,1005 L1322.3,1004.4 L1321.5,1003.7 L1319,1004.3 L1318.5,1003.8 L1316.6,999.1 L1315.8,998.3 L1315,997.4 L1312.3,997.1 L1311.8,996.5 L1310.3,991.5 L1309.6,990.5 L1308.9,989.5 L1306,988.3 L1305.6,987.5 L1304.5,982.4 L1303.9,981.3 L1303.2,980.1 L1300.4,978 L1300,977.1 L1299.4,972.2 L1298.9,970.9 L1298.3,969.5 L1295.6,966.7 L1295.2,965.7 L1295.2,961 L1294.8,959.6 L1294.3,958.2 L1291.7,954.7 L1291.5,953.7 L1291.9,949.3 L1291.6,947.9 L1291.3,946.5 L1289,942.4 L1288.8,941.4 L1289.8,937.5 L1289.6,936.1 L1289.4,934.7 L1287.4,930.1 L1287.3,929.2 L1288.7,926 L1288.7,924.6 L1288.7,923.3 L1287,918.4 L1287.1,917.5 L1288.9,915 L1289,913.7 L1289.1,912.5 L1287.9,907.5 L1288.1,906.7 L1290.3,905 L1290.5,903.9 L1290.7,902.8 L1290,897.8 L1290.3,897.1 L1292.7,896.3 L1293.1,895.4 L1293.5,894.5 L1293.3,889.6 L1293.6,889 L1296.3,889.2 L1296.8,888.4 L1297.3,887.7 L1297.6,883.2 L1298,882.8 L1300.8,883.8 L1301.4,883.3 L1302,882.9 L1302.8,878.8 L1303.2,878.6 L1306.1,880.5 L1306.8,880.2 L1307.4,880 L1308.7,876.6 L1309.2,876.5 L1312,879.2 L1312.7,879.2 L1313.5,879.2 L1315.2,876.5 L1315.7,876.6 L1318.4,880 L1319.1,880.2 L1319.9,880.5 L1322,878.6 L1322.6,878.9 L1325,882.9 L1325.8,883.4 L1326.6,883.9 L1329,882.9 L1329.5,883.3 L1331.6,887.8 L1332.4,888.5 L1333.2,889.3 L1335.8,889.2 L1336.3,889.7 L1338,894.6 L1338.8,895.5 L1339.5,896.4 L1342.3,897.2 L1342.8,897.9 L1344.1,902.9 L1344.8,904 L1345.4,905.2 L1348.3,906.8 L1348.7,907.6 L1349.5,912.7 L1350.1,913.9 L1350.7,915.2 L1353.5,917.6 L1353.9,918.6 L1354.2,923.4 L1354.7,924.8 L1355.2,926.1 L1357.9,929.4 L1358.2,930.3 L1358,934.9Z M1347.7,939.1 A22.8,45.6 -15 0 1 1337.5,989.1 A22.8,45.6 -15 0 1 1303.7,951 A22.8,45.6 -15 0 1 1313.9,901 A22.8,45.6 -15 0 1 1347.7,939.1Z" fill="#fff" stroke="#000" stroke-width="2.6" fill-rule="evenodd"/>
<path d="M1315.7,946.8 A33.8,65 -15 0 1 1299.9,1018.3 A33.8,65 -15 0 1 1250.4,964.3 A33.8,65 -15 0 1 1266.2,892.7 A33.8,65 -15 0 1 1315.7,946.8Z M1302.9,950.2 L1303.7,951.2 L1303.9,952.2 L1303.7,953.4 L1303.4,954.5 L1303.6,955.5 L1304.3,956.6 L1305,957.7 L1305.2,958.8 L1304.8,959.8 L1304.4,960.7 L1304.5,961.7 L1305.2,962.9 L1305.8,964.2 L1305.9,965.2 L1305.4,966 L1304.9,966.8 L1304.9,967.7 L1305.4,969.1 L1305.9,970.4 L1305.9,971.4 L1305.3,972 L1304.7,972.5 L1304.6,973.4 L1305,974.8 L1305.4,976.2 L1305.3,977.1 L1304.6,977.5 L1303.9,977.8 L1303.7,978.7 L1304,980.1 L1304.3,981.5 L1304.1,982.3 L1303.3,982.4 L1302.6,982.5 L1302.3,983.2 L1302.5,984.6 L1302.6,986 L1302.3,986.7 L1301.5,986.6 L1300.7,986.5 L1300.4,987.1 L1300.4,988.4 L1300.4,989.8 L1300,990.3 L1299.2,990 L1298.4,989.6 L1297.9,990 L1297.9,991.3 L1297.7,992.6 L1297.2,992.9 L1296.4,992.4 L1295.6,991.8 L1295.1,992.1 L1294.9,993.2 L1294.6,994.3 L1294.1,994.5 L1293.3,993.8 L1292.5,993 L1291.9,993.1 L1291.6,994.1 L1291.2,995.1 L1290.6,995.1 L1289.9,994.1 L1289.1,993.2 L1288.5,993.1 L1288.1,993.9 L1287.6,994.7 L1287,994.5 L1286.3,993.4 L1285.6,992.3 L1285,992.1 L1284.4,992.7 L1283.8,993.3 L1283.2,992.9 L1282.6,991.7 L1282,990.5 L1281.4,990.1 L1280.7,990.5 L1280.1,990.8 L1279.4,990.3 L1278.9,989 L1278.4,987.7 L1277.8,987.1 L1277.1,987.3 L1276.4,987.4 L1275.8,986.8 L1275.3,985.4 L1275,984 L1274.4,983.3 L1273.6,983.2 L1272.8,983.1 L1272.3,982.3 L1272,980.9 L1271.7,979.5 L1271.2,978.7 L1270.4,978.4 L1269.6,978.1 L1269.1,977.2 L1268.9,975.8 L1268.8,974.4 L1268.4,973.5 L1267.5,973 L1266.7,972.4 L1266.3,971.4 L1266.3,970.1 L1266.3,968.8 L1265.9,967.8 L1265.1,967.1 L1264.3,966.3 L1263.9,965.3 L1264.1,964 L1264.2,962.8 L1263.9,961.8 L1263.1,960.9 L1262.4,959.9 L1262.1,958.8 L1262.4,957.7 L1262.6,956.6 L1262.4,955.6 L1261.7,954.5 L1261,953.4 L1260.9,952.3 L1261.2,951.3 L1261.6,950.4 L1261.5,949.4 L1260.9,948.2 L1260.3,946.9 L1260.2,945.8 L1260.7,945 L1261.2,944.3 L1261.2,943.3 L1260.7,942 L1260.1,940.7 L1260.2,939.7 L1260.8,939.1 L1261.4,938.5 L1261.5,937.6 L1261,936.2 L1260.6,934.8 L1260.8,933.9 L1261.5,933.5 L1262.1,933.2 L1262.3,932.4 L1262,931 L1261.7,929.6 L1262,928.8 L1262.7,928.6 L1263.5,928.5 L1263.8,927.8 L1263.6,926.4 L1263.4,925 L1263.8,924.3 L1264.6,924.4 L1265.3,924.6 L1265.7,924 L1265.7,922.6 L1265.6,921.3 L1266.1,920.8 L1266.9,921.1 L1267.7,921.5 L1268.1,921 L1268.2,919.8 L1268.3,918.5 L1268.8,918.1 L1269.6,918.7 L1270.5,919.3 L1271,919 L1271.2,917.9 L1271.4,916.7 L1272,916.5 L1272.8,917.3 L1273.6,918.1 L1274.1,918 L1274.5,917 L1274.8,916 L1275.4,916 L1276.2,916.9 L1276.9,917.9 L1277.5,918 L1278,917.1 L1278.5,916.4 L1279.1,916.5 L1279.8,917.6 L1280.5,918.7 L1281.1,919 L1281.6,918.4 L1282.2,917.8 L1282.9,918.1 L1283.5,919.4 L1284.1,920.6 L1284.7,921 L1285.3,920.6 L1286,920.2 L1286.6,920.7 L1287.2,922.1 L1287.7,923.4 L1288.2,924 L1289,923.8 L1289.7,923.6 L1290.3,924.3 L1290.7,925.7 L1291.1,927.1 L1291.7,927.8 L1292.4,927.8 L1293.2,927.9 L1293.8,928.7 L1294.1,930.1 L1294.3,931.6 L1294.8,932.4 L1295.6,932.6 L1296.5,933 L1297,933.9 L1297.1,935.3 L1297.3,936.7 L1297.7,937.6 L1298.5,938.1 L1299.3,938.6 L1299.8,939.6 L1299.8,941 L1299.8,942.3 L1300.2,943.3 L1301,944 L1301.8,944.7 L1302.1,945.8 L1302,947.1 L1301.9,948.3 L1302.2,949.3Z" fill="#000" stroke="#000" stroke-width="1" fill-rule="evenodd"/>
<path d="M1313.7,947.3 A33.8,65 -15 0 1 1297.9,1018.8 A33.8,65 -15 0 1 1248.5,964.8 A33.8,65 -15 0 1 1264.3,893.3 A33.8,65 -15 0 1 1313.7,947.3Z M1301,950.7 L1301.8,951.7 L1302,952.8 L1301.8,953.9 L1301.5,955 L1301.7,956 L1302.4,957.1 L1303.1,958.2 L1303.3,959.3 L1302.9,960.3 L1302.5,961.2 L1302.6,962.2 L1303.2,963.4 L1303.9,964.7 L1303.9,965.7 L1303.4,966.5 L1302.9,967.3 L1302.9,968.3 L1303.5,969.6 L1304,970.9 L1303.9,971.9 L1303.4,972.5 L1302.8,973 L1302.7,974 L1303.1,975.3 L1303.5,976.7 L1303.4,977.7 L1302.7,978 L1302,978.4 L1301.8,979.2 L1302.1,980.6 L1302.4,982 L1302.2,982.8 L1301.4,983 L1300.7,983 L1300.4,983.8 L1300.6,985.2 L1300.7,986.6 L1300.4,987.2 L1299.6,987.2 L1298.8,987 L1298.4,987.6 L1298.5,988.9 L1298.5,990.3 L1298.1,990.8 L1297.3,990.5 L1296.4,990.1 L1296,990.6 L1295.9,991.8 L1295.8,993.1 L1295.3,993.4 L1294.5,992.9 L1293.7,992.3 L1293.2,992.6 L1293,993.7 L1292.7,994.9 L1292.2,995.1 L1291.3,994.3 L1290.6,993.5 L1290,993.6 L1289.7,994.6 L1289.3,995.6 L1288.7,995.6 L1287.9,994.7 L1287.2,993.7 L1286.6,993.6 L1286.2,994.4 L1285.7,995.2 L1285,995.1 L1284.3,994 L1283.7,992.8 L1283.1,992.6 L1282.5,993.2 L1281.9,993.8 L1281.3,993.5 L1280.6,992.2 L1280.1,991 L1279.5,990.6 L1278.8,991 L1278.1,991.3 L1277.5,990.8 L1277,989.5 L1276.5,988.2 L1275.9,987.6 L1275.2,987.8 L1274.4,987.9 L1273.8,987.3 L1273.4,985.9 L1273,984.5 L1272.5,983.8 L1271.7,983.7 L1270.9,983.6 L1270.3,982.9 L1270.1,981.4 L1269.8,980 L1269.3,979.2 L1268.5,978.9 L1267.7,978.6 L1267.2,977.7 L1267,976.3 L1266.9,974.9 L1266.4,974 L1265.6,973.5 L1264.8,973 L1264.4,972 L1264.3,970.6 L1264.3,969.3 L1264,968.3 L1263.2,967.6 L1262.4,966.8 L1262,965.8 L1262.1,964.5 L1262.3,963.3 L1262,962.3 L1261.2,961.4 L1260.4,960.4 L1260.2,959.3 L1260.4,958.2 L1260.7,957.1 L1260.5,956.1 L1259.8,955 L1259.1,953.9 L1258.9,952.8 L1259.3,951.8 L1259.7,950.9 L1259.6,949.9 L1259,948.7 L1258.3,947.4 L1258.3,946.4 L1258.8,945.6 L1259.3,944.8 L1259.3,943.8 L1258.7,942.5 L1258.2,941.2 L1258.3,940.2 L1258.8,939.6 L1259.4,939.1 L1259.5,938.1 L1259.1,936.8 L1258.7,935.4 L1258.8,934.4 L1259.5,934.1 L1260.2,933.7 L1260.4,932.9 L1260.1,931.5 L1259.8,930.1 L1260,929.3 L1260.8,929.1 L1261.5,929.1 L1261.8,928.3 L1261.6,926.9 L1261.5,925.5 L1261.8,924.9 L1262.6,924.9 L1263.4,925.1 L1263.8,924.5 L1263.7,923.2 L1263.7,921.8 L1264.1,921.3 L1264.9,921.6 L1265.8,922 L1266.2,921.5 L1266.3,920.3 L1266.4,919 L1266.9,918.7 L1267.7,919.2 L1268.5,919.8 L1269,919.5 L1269.2,918.4 L1269.5,917.2 L1270,917 L1270.9,917.8 L1271.6,918.6 L1272.2,918.5 L1272.5,917.5 L1272.9,916.5 L1273.5,916.5 L1274.3,917.4 L1275,918.4 L1275.6,918.5 L1276,917.7 L1276.5,916.9 L1277.2,917 L1277.9,918.1 L1278.5,919.3 L1279.1,919.5 L1279.7,918.9 L1280.3,918.3 L1280.9,918.6 L1281.6,919.9 L1282.1,921.1 L1282.7,921.5 L1283.4,921.1 L1284.1,920.8 L1284.7,921.3 L1285.2,922.6 L1285.7,923.9 L1286.3,924.5 L1287,924.3 L1287.8,924.2 L1288.4,924.8 L1288.8,926.2 L1289.2,927.6 L1289.7,928.3 L1290.5,928.4 L1291.3,928.5 L1291.9,929.2 L1292.1,930.7 L1292.4,932.1 L1292.9,932.9 L1293.7,933.2 L1294.5,933.5 L1295,934.4 L1295.2,935.8 L1295.3,937.2 L1295.8,938.1 L1296.6,938.6 L1297.4,939.1 L1297.8,940.1 L1297.9,941.5 L1297.9,942.8 L1298.2,943.8 L1299,944.5 L1299.8,945.3 L1300.2,946.3 L1300.1,947.6 L1299.9,948.8 L1300.2,949.8Z" fill="#000" stroke="#000" stroke-width="1" fill-rule="evenodd"/>
<path d="M1276.5,958.2 L1276.9,959.6 L1279.3,963.5 L1279.6,964.5 L1278.8,968.6 L1279.1,970 L1279.3,971.5 L1281.5,975.8 L1281.6,976.8 L1280.4,980.4 L1280.6,981.7 L1280.7,983.1 L1282.5,987.9 L1282.5,988.8 L1280.9,991.7 L1280.8,993 L1280.8,994.3 L1282.2,999.2 L1282.1,1000.1 L1280.1,1002.2 L1279.9,1003.4 L1279.8,1004.5 L1280.7,1009.6 L1280.5,1010.3 L1278.2,1011.5 L1277.9,1012.6 L1277.6,1013.6 L1278,1018.5 L1277.7,1019.2 L1275.2,1019.5 L1274.7,1020.3 L1274.3,1021.2 L1274.2,1025.8 L1273.9,1026.4 L1271.1,1025.8 L1270.6,1026.4 L1270,1027 L1269.5,1031.3 L1269,1031.6 L1266.2,1030.1 L1265.6,1030.5 L1264.9,1030.9 L1263.9,1034.6 L1263.4,1034.8 L1260.6,1032.5 L1259.9,1032.6 L1259.1,1032.7 L1257.6,1035.8 L1257.1,1035.8 L1254.4,1032.7 L1253.6,1032.6 L1252.9,1032.4 L1251,1034.8 L1250.4,1034.6 L1247.9,1030.8 L1247.1,1030.5 L1246.3,1030.1 L1244.1,1031.5 L1243.5,1031.2 L1241.3,1026.9 L1240.5,1026.3 L1239.7,1025.7 L1237.1,1026.3 L1236.6,1025.7 L1234.7,1021.1 L1233.9,1020.2 L1233.2,1019.4 L1230.5,1019.1 L1229.9,1018.4 L1228.4,1013.5 L1227.7,1012.4 L1227,1011.4 L1224.2,1010.2 L1223.7,1009.4 L1222.7,1004.4 L1222,1003.2 L1221.4,1002 L1218.6,999.9 L1218.1,999.1 L1217.6,994.1 L1217,992.8 L1216.5,991.5 L1213.7,988.6 L1213.4,987.7 L1213.3,982.9 L1212.9,981.6 L1212.5,980.2 L1209.9,976.6 L1209.6,975.6 L1210.1,971.3 L1209.8,969.8 L1209.5,968.4 L1207.1,964.3 L1206.9,963.3 L1207.9,959.5 L1207.7,958 L1207.6,956.6 L1205.5,952.1 L1205.5,951.1 L1206.9,947.9 L1206.8,946.5 L1206.8,945.2 L1205.2,940.3 L1205.2,939.4 L1207,936.9 L1207.1,935.7 L1207.3,934.4 L1206.1,929.4 L1206.2,928.6 L1208.4,927 L1208.6,925.8 L1208.9,924.7 L1208.2,919.7 L1208.4,919 L1210.9,918.3 L1211.3,917.3 L1211.6,916.4 L1211.4,911.6 L1211.8,911 L1214.4,911.1 L1214.9,910.4 L1215.4,909.7 L1215.7,905.2 L1216.1,904.7 L1218.9,905.8 L1219.5,905.3 L1220.1,904.8 L1220.9,900.8 L1221.4,900.5 L1224.2,902.4 L1224.9,902.1 L1225.6,901.9 L1226.9,898.5 L1227.4,898.4 L1230.1,901.1 L1230.9,901.1 L1231.6,901.1 L1233.4,898.4 L1233.9,898.5 L1236.5,901.9 L1237.3,902.2 L1238.1,902.5 L1240.2,900.6 L1240.7,900.8 L1243.1,904.9 L1243.9,905.3 L1244.7,905.9 L1247.1,904.8 L1247.7,905.3 L1249.7,909.8 L1250.5,910.5 L1251.3,911.2 L1253.9,911.1 L1254.5,911.7 L1256.2,916.5 L1256.9,917.4 L1257.7,918.4 L1260.4,919.2 L1260.9,919.9 L1262.2,924.9 L1262.9,926 L1263.6,927.1 L1266.4,928.8 L1266.9,929.6 L1267.7,934.6 L1268.3,935.9 L1268.9,937.1 L1271.7,939.6 L1272,940.5 L1272.3,945.4 L1272.8,946.7 L1273.3,948.1 L1276,951.3 L1276.3,952.3 L1276.1,956.8Z M1265.9,961.1 A22.8,45.6 -15 0 1 1255.6,1011 A22.8,45.6 -15 0 1 1221.8,972.9 A22.8,45.6 -15 0 1 1232,922.9 A22.8,45.6 -15 0 1 1265.9,961.1Z" fill="#fff" stroke="#000" stroke-width="2.6" fill-rule="evenodd"/>
<path d="M1274.9,958.7 L1275.3,960.1 L1277.8,963.9 L1278,964.9 L1277.3,969 L1277.5,970.5 L1277.8,971.9 L1280,976.2 L1280.1,977.2 L1278.9,980.8 L1279,982.2 L1279.1,983.5 L1280.9,988.3 L1281,989.2 L1279.3,992.1 L1279.3,993.4 L1279.3,994.7 L1280.7,999.7 L1280.6,1000.5 L1278.6,1002.6 L1278.4,1003.8 L1278.2,1004.9 L1279.2,1010 L1279,1010.8 L1276.6,1012 L1276.3,1013 L1276,1014 L1276.5,1019 L1276.2,1019.6 L1273.6,1019.9 L1273.2,1020.8 L1272.7,1021.6 L1272.7,1026.3 L1272.3,1026.8 L1269.6,1026.2 L1269,1026.8 L1268.5,1027.4 L1267.9,1031.7 L1267.5,1032 L1264.7,1030.5 L1264,1030.9 L1263.4,1031.3 L1262.3,1035 L1261.8,1035.2 L1259,1032.9 L1258.3,1033 L1257.6,1033.1 L1256.1,1036.2 L1255.6,1036.2 L1252.9,1033.1 L1252.1,1033 L1251.3,1032.9 L1249.4,1035.2 L1248.9,1035 L1246.4,1031.2 L1245.6,1030.9 L1244.8,1030.5 L1242.5,1032 L1242,1031.6 L1239.7,1027.3 L1238.9,1026.7 L1238.1,1026.1 L1235.6,1026.7 L1235.1,1026.2 L1233.2,1021.5 L1232.4,1020.6 L1231.6,1019.8 L1228.9,1019.5 L1228.4,1018.8 L1226.9,1013.9 L1226.2,1012.9 L1225.5,1011.8 L1222.6,1010.6 L1222.2,1009.8 L1221.1,1004.8 L1220.5,1003.6 L1219.8,1002.4 L1217,1000.4 L1216.6,999.5 L1216,994.5 L1215.5,993.2 L1214.9,991.9 L1212.2,989 L1211.8,988.1 L1211.8,983.3 L1211.4,982 L1210.9,980.6 L1208.3,977 L1208.1,976 L1208.5,971.7 L1208.2,970.3 L1207.9,968.8 L1205.6,964.7 L1205.4,963.7 L1206.4,959.9 L1206.2,958.5 L1206,957.1 L1204,952.5 L1203.9,951.5 L1205.3,948.3 L1205.3,947 L1205.3,945.6 L1203.6,940.7 L1203.7,939.8 L1205.5,937.4 L1205.6,936.1 L1205.7,934.9 L1204.5,929.8 L1204.7,929 L1206.9,927.4 L1207.1,926.2 L1207.3,925.2 L1206.6,920.1 L1206.9,919.4 L1209.3,918.7 L1209.7,917.7 L1210.1,916.8 L1209.9,912 L1210.2,911.4 L1212.9,911.5 L1213.4,910.8 L1213.9,910.1 L1214.2,905.6 L1214.6,905.2 L1217.4,906.2 L1218,905.7 L1218.6,905.2 L1219.4,901.2 L1219.8,900.9 L1222.7,902.8 L1223.4,902.6 L1224,902.3 L1225.3,898.9 L1225.8,898.8 L1228.6,901.5 L1229.3,901.5 L1230.1,901.5 L1231.8,898.8 L1232.3,898.9 L1235,902.4 L1235.7,902.6 L1236.5,902.9 L1238.6,901 L1239.2,901.2 L1241.6,905.3 L1242.4,905.8 L1243.2,906.3 L1245.6,905.2 L1246.1,905.7 L1248.2,910.2 L1249,910.9 L1249.8,911.6 L1252.4,911.5 L1252.9,912.1 L1254.6,916.9 L1255.4,917.9 L1256.1,918.8 L1258.9,919.6 L1259.4,920.3 L1260.7,925.3 L1261.4,926.4 L1262,927.5 L1264.9,929.2 L1265.3,930 L1266.1,935 L1266.7,936.3 L1267.3,937.5 L1270.1,940 L1270.5,940.9 L1270.8,945.8 L1271.3,947.1 L1271.8,948.5 L1274.5,951.7 L1274.8,952.7 L1274.6,957.2Z M1264.3,961.5 A22.8,45.6 -15 0 1 1254.1,1011.4 A22.8,45.6 -15 0 1 1220.3,973.3 A22.8,45.6 -15 0 1 1230.5,923.4 A22.8,45.6 -15 0 1 1264.3,961.5Z" fill="#fff" stroke="#000" stroke-width="2.6" fill-rule="evenodd"/>
<path d="M1232.3,969.1 A33.8,65 -15 0 1 1216.5,1040.7 A33.8,65 -15 0 1 1167,986.6 A33.8,65 -15 0 1 1182.8,915.1 A33.8,65 -15 0 1 1232.3,969.1Z M1219.5,972.6 L1220.3,973.5 L1220.5,974.6 L1220.3,975.7 L1220,976.8 L1220.2,977.9 L1220.9,978.9 L1221.6,980 L1221.8,981.1 L1221.4,982.1 L1221,983 L1221.1,984.1 L1221.8,985.3 L1222.4,986.5 L1222.5,987.6 L1222,988.4 L1221.5,989.1 L1221.5,990.1 L1222,991.4 L1222.5,992.7 L1222.5,993.7 L1221.9,994.3 L1221.3,994.9 L1221.2,995.8 L1221.6,997.2 L1222,998.6 L1221.9,999.5 L1221.2,999.9 L1220.5,1000.2 L1220.3,1001 L1220.6,1002.4 L1220.9,1003.8 L1220.7,1004.6 L1219.9,1004.8 L1219.2,1004.9 L1218.9,1005.6 L1219.1,1007 L1219.2,1008.4 L1218.9,1009.1 L1218.1,1009 L1217.3,1008.8 L1217,1009.4 L1217,1010.8 L1217,1012.1 L1216.6,1012.7 L1215.8,1012.3 L1215,1012 L1214.5,1012.4 L1214.5,1013.7 L1214.3,1014.9 L1213.8,1015.3 L1213,1014.7 L1212.2,1014.1 L1211.7,1014.4 L1211.5,1015.6 L1211.2,1016.7 L1210.7,1016.9 L1209.9,1016.1 L1209.1,1015.3 L1208.5,1015.4 L1208.2,1016.4 L1207.8,1017.4 L1207.2,1017.4 L1206.5,1016.5 L1205.7,1015.5 L1205.1,1015.4 L1204.7,1016.3 L1204.2,1017.1 L1203.6,1016.9 L1202.9,1015.8 L1202.2,1014.7 L1201.6,1014.4 L1201,1015.1 L1200.4,1015.6 L1199.8,1015.3 L1199.2,1014.1 L1198.6,1012.8 L1198,1012.4 L1197.3,1012.8 L1196.7,1013.2 L1196,1012.7 L1195.5,1011.3 L1195,1010 L1194.4,1009.4 L1193.7,1009.6 L1193,1009.8 L1192.4,1009.1 L1191.9,1007.7 L1191.6,1006.3 L1191,1005.6 L1190.2,1005.6 L1189.4,1005.5 L1188.9,1004.7 L1188.6,1003.3 L1188.3,1001.9 L1187.8,1001.1 L1187,1000.8 L1186.2,1000.4 L1185.7,999.5 L1185.5,998.1 L1185.4,996.7 L1185,995.8 L1184.1,995.3 L1183.3,994.8 L1182.9,993.8 L1182.9,992.4 L1182.9,991.1 L1182.5,990.1 L1181.7,989.4 L1180.9,988.7 L1180.5,987.6 L1180.7,986.4 L1180.8,985.1 L1180.5,984.1 L1179.7,983.2 L1179,982.3 L1178.7,981.2 L1179,980 L1179.2,978.9 L1179,977.9 L1178.3,976.8 L1177.6,975.7 L1177.5,974.6 L1177.8,973.7 L1178.2,972.7 L1178.1,971.7 L1177.5,970.5 L1176.9,969.3 L1176.8,968.2 L1177.3,967.4 L1177.8,966.7 L1177.8,965.7 L1177.3,964.4 L1176.7,963 L1176.8,962 L1177.4,961.4 L1178,960.9 L1178.1,960 L1177.6,958.6 L1177.2,957.2 L1177.4,956.3 L1178.1,955.9 L1178.7,955.6 L1178.9,954.8 L1178.6,953.4 L1178.3,951.9 L1178.6,951.1 L1179.3,951 L1180.1,950.9 L1180.4,950.2 L1180.2,948.8 L1180,947.4 L1180.4,946.7 L1181.2,946.8 L1181.9,946.9 L1182.3,946.3 L1182.3,945 L1182.2,943.6 L1182.7,943.1 L1183.5,943.4 L1184.3,943.8 L1184.7,943.4 L1184.8,942.1 L1184.9,940.9 L1185.4,940.5 L1186.2,941 L1187.1,941.6 L1187.6,941.4 L1187.8,940.2 L1188,939.1 L1188.6,938.9 L1189.4,939.6 L1190.2,940.4 L1190.7,940.3 L1191.1,939.3 L1191.4,938.3 L1192,938.3 L1192.8,939.3 L1193.5,940.2 L1194.1,940.3 L1194.6,939.5 L1195.1,938.7 L1195.7,938.9 L1196.4,940 L1197.1,941.1 L1197.7,941.3 L1198.2,940.7 L1198.8,940.1 L1199.5,940.5 L1200.1,941.7 L1200.7,943 L1201.3,943.4 L1201.9,942.9 L1202.6,942.6 L1203.2,943.1 L1203.8,944.4 L1204.3,945.8 L1204.8,946.3 L1205.6,946.1 L1206.3,946 L1206.9,946.7 L1207.3,948.1 L1207.7,949.4 L1208.3,950.1 L1209,950.2 L1209.8,950.3 L1210.4,951.1 L1210.7,952.5 L1210.9,953.9 L1211.4,954.7 L1212.2,955 L1213.1,955.3 L1213.6,956.2 L1213.7,957.6 L1213.9,959 L1214.3,959.9 L1215.1,960.4 L1215.9,961 L1216.4,962 L1216.4,963.3 L1216.4,964.6 L1216.8,965.6 L1217.6,966.3 L1218.4,967.1 L1218.7,968.1 L1218.6,969.4 L1218.5,970.6 L1218.8,971.7Z" fill="#000" stroke="#000" stroke-width="1" fill-rule="evenodd"/>
<path d="M1230.3,969.7 A33.8,65 -15 0 1 1214.5,1041.2 A33.8,65 -15 0 1 1165.1,987.1 A33.8,65 -15 0 1 1180.9,915.6 A33.8,65 -15 0 1 1230.3,969.7Z M1217.6,973.1 L1218.4,974 L1218.6,975.1 L1218.4,976.2 L1218.1,977.3 L1218.3,978.4 L1219,979.4 L1219.7,980.6 L1219.9,981.6 L1219.5,982.6 L1219.1,983.6 L1219.2,984.6 L1219.8,985.8 L1220.5,987 L1220.5,988.1 L1220,988.9 L1219.5,989.6 L1219.5,990.6 L1220.1,991.9 L1220.6,993.3 L1220.5,994.3 L1220,994.9 L1219.4,995.4 L1219.3,996.3 L1219.7,997.7 L1220.1,999.1 L1220,1000 L1219.3,1000.4 L1218.6,1000.7 L1218.4,1001.5 L1218.7,1002.9 L1219,1004.4 L1218.8,1005.2 L1218,1005.3 L1217.3,1005.4 L1217,1006.1 L1217.2,1007.5 L1217.3,1008.9 L1217,1009.6 L1216.2,1009.5 L1215.4,1009.4 L1215,1009.9 L1215.1,1011.3 L1215.1,1012.6 L1214.7,1013.2 L1213.9,1012.8 L1213,1012.5 L1212.6,1012.9 L1212.5,1014.2 L1212.4,1015.4 L1211.9,1015.8 L1211.1,1015.3 L1210.3,1014.7 L1209.8,1014.9 L1209.6,1016.1 L1209.3,1017.2 L1208.8,1017.4 L1207.9,1016.7 L1207.2,1015.9 L1206.6,1016 L1206.3,1017 L1205.9,1017.9 L1205.3,1017.9 L1204.5,1017 L1203.8,1016 L1203.2,1016 L1202.8,1016.8 L1202.3,1017.6 L1201.6,1017.4 L1200.9,1016.3 L1200.3,1015.2 L1199.7,1014.9 L1199.1,1015.6 L1198.5,1016.2 L1197.9,1015.8 L1197.2,1014.6 L1196.7,1013.3 L1196.1,1012.9 L1195.4,1013.3 L1194.7,1013.7 L1194.1,1013.2 L1193.6,1011.9 L1193.1,1010.5 L1192.5,1010 L1191.8,1010.2 L1191,1010.3 L1190.4,1009.6 L1190,1008.2 L1189.6,1006.8 L1189.1,1006.1 L1188.3,1006.1 L1187.5,1006 L1186.9,1005.2 L1186.7,1003.8 L1186.4,1002.4 L1185.9,1001.6 L1185.1,1001.3 L1184.3,1001 L1183.8,1000.1 L1183.6,998.6 L1183.5,997.3 L1183,996.4 L1182.2,995.9 L1181.4,995.3 L1181,994.3 L1180.9,993 L1180.9,991.6 L1180.6,990.7 L1179.8,990 L1179,989.2 L1178.6,988.1 L1178.7,986.9 L1178.9,985.6 L1178.6,984.6 L1177.8,983.7 L1177,982.8 L1176.8,981.7 L1177,980.6 L1177.3,979.5 L1177.1,978.4 L1176.4,977.4 L1175.7,976.2 L1175.5,975.2 L1175.9,974.2 L1176.3,973.2 L1176.2,972.2 L1175.6,971 L1174.9,969.8 L1174.9,968.7 L1175.4,967.9 L1175.9,967.2 L1175.9,966.2 L1175.3,964.9 L1174.8,963.5 L1174.9,962.5 L1175.4,961.9 L1176,961.4 L1176.1,960.5 L1175.7,959.1 L1175.3,957.7 L1175.4,956.8 L1176.1,956.4 L1176.8,956.1 L1177,955.3 L1176.7,953.9 L1176.4,952.4 L1176.6,951.6 L1177.4,951.5 L1178.1,951.4 L1178.4,950.7 L1178.2,949.3 L1178.1,947.9 L1178.4,947.2 L1179.2,947.3 L1180,947.4 L1180.4,946.9 L1180.3,945.5 L1180.3,944.2 L1180.7,943.6 L1181.5,944 L1182.4,944.3 L1182.8,943.9 L1182.9,942.6 L1183,941.4 L1183.5,941 L1184.3,941.5 L1185.1,942.1 L1185.6,941.9 L1185.8,940.7 L1186.1,939.6 L1186.6,939.4 L1187.5,940.1 L1188.2,940.9 L1188.8,940.8 L1189.1,939.8 L1189.5,938.9 L1190.1,938.9 L1190.9,939.8 L1191.6,940.8 L1192.2,940.8 L1192.6,940 L1193.1,939.2 L1193.8,939.4 L1194.5,940.5 L1195.1,941.6 L1195.7,941.9 L1196.3,941.2 L1196.9,940.6 L1197.5,941 L1198.2,942.2 L1198.7,943.5 L1199.3,943.9 L1200,943.5 L1200.7,943.1 L1201.3,943.6 L1201.8,944.9 L1202.3,946.3 L1202.9,946.8 L1203.6,946.6 L1204.4,946.5 L1205,947.2 L1205.4,948.6 L1205.8,950 L1206.3,950.7 L1207.1,950.7 L1207.9,950.8 L1208.5,951.6 L1208.7,953 L1209,954.4 L1209.5,955.2 L1210.3,955.5 L1211.1,955.8 L1211.6,956.7 L1211.8,958.2 L1211.9,959.5 L1212.4,960.4 L1213.2,960.9 L1214,961.5 L1214.4,962.5 L1214.5,963.8 L1214.5,965.2 L1214.8,966.1 L1215.6,966.8 L1216.4,967.6 L1216.8,968.7 L1216.7,969.9 L1216.5,971.2 L1216.8,972.2Z" fill="#000" stroke="#000" stroke-width="1" fill-rule="evenodd"/>
<path d="M1193.1,980.6 L1193.5,982 L1195.9,985.9 L1196.2,986.8 L1195.4,991 L1195.7,992.4 L1195.9,993.8 L1198.1,998.2 L1198.2,999.2 L1197,1002.7 L1197.2,1004.1 L1197.3,1005.5 L1199.1,1010.2 L1199.1,1011.2 L1197.5,1014 L1197.4,1015.3 L1197.4,1016.6 L1198.8,1021.6 L1198.7,1022.5 L1196.7,1024.5 L1196.5,1025.7 L1196.4,1026.9 L1197.3,1031.9 L1197.1,1032.7 L1194.8,1033.9 L1194.5,1034.9 L1194.2,1035.9 L1194.6,1040.9 L1194.3,1041.5 L1191.8,1041.8 L1191.3,1042.7 L1190.9,1043.5 L1190.8,1048.2 L1190.5,1048.7 L1187.7,1048.1 L1187.2,1048.7 L1186.6,1049.3 L1186.1,1053.6 L1185.6,1054 L1182.8,1052.5 L1182.2,1052.9 L1181.5,1053.2 L1180.5,1057 L1180,1057.1 L1177.2,1054.8 L1176.5,1055 L1175.7,1055.1 L1174.2,1058.1 L1173.7,1058.1 L1171,1055.1 L1170.2,1054.9 L1169.5,1054.8 L1167.6,1057.1 L1167,1056.9 L1164.5,1053.2 L1163.7,1052.8 L1162.9,1052.4 L1160.7,1053.9 L1160.1,1053.5 L1157.9,1049.3 L1157.1,1048.6 L1156.3,1048 L1153.7,1048.6 L1153.2,1048.1 L1151.3,1043.4 L1150.5,1042.6 L1149.8,1041.7 L1147.1,1041.4 L1146.5,1040.8 L1145,1035.8 L1144.3,1034.8 L1143.6,1033.8 L1140.8,1032.5 L1140.3,1031.8 L1139.3,1026.7 L1138.6,1025.5 L1138,1024.4 L1135.2,1022.3 L1134.7,1021.4 L1134.2,1016.4 L1133.6,1015.1 L1133.1,1013.8 L1130.3,1011 L1130,1010 L1129.9,1005.3 L1129.5,1003.9 L1129.1,1002.5 L1126.5,999 L1126.2,998 L1126.7,993.6 L1126.4,992.2 L1126.1,990.8 L1123.7,986.6 L1123.5,985.7 L1124.5,981.8 L1124.3,980.4 L1124.2,979 L1122.1,974.4 L1122.1,973.4 L1123.5,970.2 L1123.4,968.9 L1123.4,967.5 L1121.8,962.7 L1121.8,961.7 L1123.6,959.3 L1123.7,958 L1123.9,956.8 L1122.7,951.8 L1122.8,950.9 L1125,949.3 L1125.2,948.2 L1125.5,947.1 L1124.8,942.1 L1125,941.4 L1127.5,940.6 L1127.9,939.7 L1128.2,938.7 L1128,933.9 L1128.4,933.3 L1131,933.5 L1131.5,932.7 L1132,932 L1132.3,927.5 L1132.7,927.1 L1135.5,928.1 L1136.1,927.6 L1136.7,927.1 L1137.5,923.1 L1138,922.9 L1140.8,924.8 L1141.5,924.5 L1142.2,924.3 L1143.5,920.8 L1144,920.8 L1146.7,923.5 L1147.5,923.5 L1148.2,923.5 L1150,920.8 L1150.5,920.9 L1153.1,924.3 L1153.9,924.5 L1154.7,924.8 L1156.8,922.9 L1157.3,923.2 L1159.7,927.2 L1160.5,927.7 L1161.3,928.2 L1163.7,927.2 L1164.3,927.6 L1166.3,932.1 L1167.1,932.8 L1167.9,933.6 L1170.5,933.4 L1171.1,934 L1172.8,938.9 L1173.5,939.8 L1174.3,940.7 L1177,941.5 L1177.5,942.2 L1178.8,947.2 L1179.5,948.3 L1180.2,949.5 L1183,951.1 L1183.5,951.9 L1184.3,957 L1184.9,958.2 L1185.5,959.5 L1188.3,961.9 L1188.6,962.8 L1188.9,967.7 L1189.4,969.1 L1189.9,970.4 L1192.6,973.6 L1192.9,974.6 L1192.7,979.2Z M1182.5,983.4 A22.8,45.6 -15 0 1 1172.2,1033.4 A22.8,45.6 -15 0 1 1138.4,995.2 A22.8,45.6 -15 0 1 1148.6,945.3 A22.8,45.6 -15 0 1 1182.5,983.4Z" fill="#fff" stroke="#000" stroke-width="2.6" fill-rule="evenodd"/>
<path d="M1191.5,981 L1191.9,982.4 L1194.4,986.3 L1194.6,987.3 L1193.9,991.4 L1194.1,992.8 L1194.4,994.2 L1196.6,998.6 L1196.7,999.6 L1195.5,1003.1 L1195.6,1004.5 L1195.7,1005.9 L1197.5,1010.6 L1197.6,1011.6 L1195.9,1014.4 L1195.9,1015.7 L1195.9,1017 L1197.3,1022 L1197.2,1022.9 L1195.2,1024.9 L1195,1026.1 L1194.8,1027.3 L1195.8,1032.3 L1195.6,1033.1 L1193.2,1034.3 L1192.9,1035.3 L1192.6,1036.4 L1193.1,1041.3 L1192.8,1042 L1190.2,1042.3 L1189.8,1043.1 L1189.3,1043.9 L1189.3,1048.6 L1188.9,1049.1 L1186.2,1048.5 L1185.6,1049.1 L1185.1,1049.7 L1184.5,1054 L1184.1,1054.4 L1181.3,1052.9 L1180.6,1053.3 L1180,1053.6 L1178.9,1057.4 L1178.4,1057.6 L1175.6,1055.2 L1174.9,1055.4 L1174.2,1055.5 L1172.7,1058.6 L1172.2,1058.6 L1169.5,1055.5 L1168.7,1055.4 L1167.9,1055.2 L1166,1057.5 L1165.5,1057.3 L1163,1053.6 L1162.2,1053.2 L1161.4,1052.8 L1159.1,1054.3 L1158.6,1054 L1156.3,1049.7 L1155.5,1049.1 L1154.7,1048.4 L1152.2,1049 L1151.7,1048.5 L1149.8,1043.8 L1149,1043 L1148.2,1042.1 L1145.5,1041.8 L1145,1041.2 L1143.5,1036.2 L1142.8,1035.2 L1142.1,1034.2 L1139.2,1033 L1138.8,1032.2 L1137.7,1027.1 L1137.1,1026 L1136.4,1024.8 L1133.6,1022.7 L1133.2,1021.8 L1132.6,1016.9 L1132.1,1015.6 L1131.5,1014.2 L1128.8,1011.4 L1128.4,1010.4 L1128.4,1005.7 L1128,1004.3 L1127.5,1002.9 L1124.9,999.4 L1124.7,998.4 L1125.1,994 L1124.8,992.6 L1124.5,991.2 L1122.2,987.1 L1122,986.1 L1123,982.2 L1122.8,980.8 L1122.6,979.4 L1120.6,974.8 L1120.5,973.9 L1121.9,970.7 L1121.9,969.3 L1121.9,968 L1120.2,963.1 L1120.3,962.2 L1122.1,959.7 L1122.2,958.4 L1122.3,957.2 L1121.1,952.2 L1121.3,951.4 L1123.5,949.7 L1123.7,948.6 L1123.9,947.5 L1123.2,942.5 L1123.5,941.8 L1125.9,941 L1126.3,940.1 L1126.7,939.2 L1126.5,934.3 L1126.8,933.7 L1129.5,933.9 L1130,933.1 L1130.5,932.4 L1130.8,927.9 L1131.2,927.5 L1134,928.5 L1134.6,928 L1135.2,927.6 L1136,923.5 L1136.4,923.3 L1139.3,925.2 L1140,924.9 L1140.6,924.7 L1141.9,921.3 L1142.4,921.2 L1145.2,923.9 L1145.9,923.9 L1146.7,923.9 L1148.4,921.2 L1148.9,921.3 L1151.6,924.7 L1152.3,924.9 L1153.1,925.2 L1155.2,923.3 L1155.8,923.6 L1158.2,927.6 L1159,928.1 L1159.8,928.6 L1162.2,927.6 L1162.7,928 L1164.8,932.5 L1165.6,933.2 L1166.4,934 L1169,933.9 L1169.5,934.4 L1171.2,939.3 L1172,940.2 L1172.7,941.1 L1175.5,941.9 L1176,942.6 L1177.3,947.6 L1178,948.7 L1178.6,949.9 L1181.5,951.5 L1181.9,952.3 L1182.7,957.4 L1183.3,958.6 L1183.9,959.9 L1186.7,962.3 L1187.1,963.3 L1187.4,968.1 L1187.9,969.5 L1188.4,970.8 L1191.1,974.1 L1191.4,975 L1191.2,979.6Z M1180.9,983.8 A22.8,45.6 -15 0 1 1170.7,1033.8 A22.8,45.6 -15 0 1 1136.9,995.7 A22.8,45.6 -15 0 1 1147.1,945.7 A22.8,45.6 -15 0 1 1180.9,983.8Z" fill="#fff" stroke="#000" stroke-width="2.6" fill-rule="evenodd"/>
<path d="M1148.9,991.5 A33.8,65 -15 0 1 1133.1,1063 A33.8,65 -15 0 1 1083.6,1009 A33.8,65 -15 0 1 1099.4,937.4 A33.8,65 -15 0 1 1148.9,991.5Z M1136.1,994.9 L1136.9,995.9 L1137.1,996.9 L1136.9,998.1 L1136.6,999.2 L1136.8,1000.2 L1137.5,1001.3 L1138.2,1002.4 L1138.4,1003.5 L1138,1004.5 L1137.6,1005.4 L1137.7,1006.4 L1138.4,1007.6 L1139,1008.9 L1139.1,1009.9 L1138.6,1010.7 L1138.1,1011.5 L1138.1,1012.4 L1138.6,1013.8 L1139.1,1015.1 L1139.1,1016.1 L1138.5,1016.7 L1137.9,1017.2 L1137.8,1018.1 L1138.2,1019.5 L1138.6,1020.9 L1138.5,1021.8 L1137.8,1022.2 L1137.1,1022.5 L1136.9,1023.4 L1137.2,1024.8 L1137.5,1026.2 L1137.3,1027 L1136.5,1027.1 L1135.8,1027.2 L1135.5,1027.9 L1135.7,1029.3 L1135.8,1030.7 L1135.5,1031.4 L1134.7,1031.3 L1133.9,1031.2 L1133.6,1031.8 L1133.6,1033.1 L1133.6,1034.5 L1133.2,1035 L1132.4,1034.7 L1131.6,1034.3 L1131.1,1034.7 L1131.1,1036 L1130.9,1037.3 L1130.4,1037.6 L1129.6,1037.1 L1128.8,1036.5 L1128.3,1036.8 L1128.1,1037.9 L1127.8,1039 L1127.3,1039.2 L1126.5,1038.5 L1125.7,1037.7 L1125.1,1037.8 L1124.8,1038.8 L1124.4,1039.8 L1123.8,1039.8 L1123.1,1038.8 L1122.3,1037.9 L1121.7,1037.8 L1121.3,1038.6 L1120.8,1039.4 L1120.2,1039.2 L1119.5,1038.1 L1118.8,1037 L1118.2,1036.8 L1117.6,1037.4 L1117,1038 L1116.4,1037.6 L1115.8,1036.4 L1115.2,1035.2 L1114.6,1034.8 L1113.9,1035.2 L1113.3,1035.5 L1112.6,1035 L1112.1,1033.7 L1111.6,1032.4 L1111,1031.8 L1110.3,1032 L1109.6,1032.1 L1109,1031.5 L1108.5,1030.1 L1108.2,1028.7 L1107.6,1028 L1106.8,1027.9 L1106,1027.8 L1105.5,1027 L1105.2,1025.6 L1104.9,1024.2 L1104.4,1023.4 L1103.6,1023.1 L1102.8,1022.8 L1102.3,1021.9 L1102.1,1020.5 L1102,1019.1 L1101.6,1018.2 L1100.7,1017.7 L1099.9,1017.1 L1099.5,1016.1 L1099.5,1014.8 L1099.5,1013.5 L1099.1,1012.5 L1098.3,1011.8 L1097.5,1011 L1097.1,1010 L1097.3,1008.7 L1097.4,1007.5 L1097.1,1006.5 L1096.3,1005.6 L1095.6,1004.6 L1095.3,1003.5 L1095.6,1002.4 L1095.8,1001.3 L1095.6,1000.3 L1094.9,999.2 L1094.2,998.1 L1094.1,997 L1094.4,996 L1094.8,995.1 L1094.7,994.1 L1094.1,992.9 L1093.5,991.6 L1093.4,990.5 L1093.9,989.7 L1094.4,989 L1094.4,988 L1093.9,986.7 L1093.3,985.4 L1093.4,984.4 L1094,983.8 L1094.6,983.2 L1094.7,982.3 L1094.2,980.9 L1093.8,979.5 L1094,978.6 L1094.7,978.2 L1095.3,977.9 L1095.5,977.1 L1095.2,975.7 L1094.9,974.3 L1095.2,973.5 L1095.9,973.3 L1096.7,973.2 L1097,972.5 L1096.8,971.1 L1096.6,969.7 L1097,969 L1097.8,969.1 L1098.5,969.3 L1098.9,968.7 L1098.9,967.3 L1098.8,966 L1099.3,965.5 L1100.1,965.8 L1100.9,966.2 L1101.3,965.7 L1101.4,964.5 L1101.5,963.2 L1102,962.8 L1102.8,963.4 L1103.7,964 L1104.2,963.7 L1104.4,962.6 L1104.6,961.4 L1105.2,961.2 L1106,962 L1106.8,962.8 L1107.3,962.7 L1107.7,961.7 L1108,960.7 L1108.6,960.7 L1109.4,961.6 L1110.1,962.6 L1110.7,962.7 L1111.2,961.8 L1111.7,961.1 L1112.3,961.2 L1113,962.3 L1113.7,963.4 L1114.3,963.7 L1114.8,963.1 L1115.4,962.5 L1116.1,962.8 L1116.7,964.1 L1117.3,965.3 L1117.9,965.7 L1118.5,965.3 L1119.2,964.9 L1119.8,965.4 L1120.4,966.8 L1120.9,968.1 L1121.4,968.7 L1122.2,968.5 L1122.9,968.3 L1123.5,969 L1123.9,970.4 L1124.3,971.8 L1124.9,972.5 L1125.6,972.5 L1126.4,972.6 L1127,973.4 L1127.3,974.8 L1127.5,976.3 L1128,977.1 L1128.8,977.3 L1129.7,977.7 L1130.2,978.6 L1130.3,980 L1130.5,981.4 L1130.9,982.3 L1131.7,982.8 L1132.5,983.3 L1133,984.3 L1133,985.7 L1133,987 L1133.4,988 L1134.2,988.7 L1135,989.4 L1135.3,990.5 L1135.2,991.8 L1135.1,993 L1135.4,994Z" fill="#000" stroke="#000" stroke-width="1" fill-rule="evenodd"/>
<path d="M1146.9,992 A33.8,65 -15 0 1 1131.1,1063.5 A33.8,65 -15 0 1 1081.7,1009.5 A33.8,65 -15 0 1 1097.5,938 A33.8,65 -15 0 1 1146.9,992Z M1134.2,995.4 L1135,996.4 L1135.2,997.5 L1135,998.6 L1134.7,999.7 L1134.9,1000.7 L1135.6,1001.8 L1136.3,1002.9 L1136.5,1004 L1136.1,1005 L1135.7,1005.9 L1135.8,1006.9 L1136.4,1008.1 L1137.1,1009.4 L1137.1,1010.4 L1136.6,1011.2 L1136.1,1012 L1136.1,1013 L1136.7,1014.3 L1137.2,1015.6 L1137.1,1016.6 L1136.6,1017.2 L1136,1017.7 L1135.9,1018.7 L1136.3,1020 L1136.7,1021.4 L1136.6,1022.4 L1135.9,1022.7 L1135.2,1023.1 L1135,1023.9 L1135.3,1025.3 L1135.6,1026.7 L1135.4,1027.5 L1134.6,1027.7 L1133.9,1027.7 L1133.6,1028.5 L1133.8,1029.9 L1133.9,1031.3 L1133.6,1031.9 L1132.8,1031.9 L1132,1031.7 L1131.6,1032.3 L1131.7,1033.6 L1131.7,1035 L1131.3,1035.5 L1130.5,1035.2 L1129.6,1034.8 L1129.2,1035.3 L1129.1,1036.5 L1129,1037.8 L1128.5,1038.1 L1127.7,1037.6 L1126.9,1037 L1126.4,1037.3 L1126.2,1038.4 L1125.9,1039.6 L1125.4,1039.8 L1124.5,1039 L1123.8,1038.2 L1123.2,1038.3 L1122.9,1039.3 L1122.5,1040.3 L1121.9,1040.3 L1121.1,1039.4 L1120.4,1038.4 L1119.8,1038.3 L1119.4,1039.1 L1118.9,1039.9 L1118.2,1039.8 L1117.5,1038.7 L1116.9,1037.5 L1116.3,1037.3 L1115.7,1037.9 L1115.1,1038.5 L1114.5,1038.2 L1113.8,1036.9 L1113.3,1035.7 L1112.7,1035.3 L1112,1035.7 L1111.3,1036 L1110.7,1035.5 L1110.2,1034.2 L1109.7,1032.9 L1109.1,1032.3 L1108.4,1032.5 L1107.6,1032.6 L1107,1032 L1106.6,1030.6 L1106.2,1029.2 L1105.7,1028.5 L1104.9,1028.4 L1104.1,1028.3 L1103.5,1027.6 L1103.3,1026.1 L1103,1024.7 L1102.5,1023.9 L1101.7,1023.6 L1100.9,1023.3 L1100.4,1022.4 L1100.2,1021 L1100.1,1019.6 L1099.6,1018.7 L1098.8,1018.2 L1098,1017.7 L1097.6,1016.7 L1097.5,1015.3 L1097.5,1014 L1097.2,1013 L1096.4,1012.3 L1095.6,1011.5 L1095.2,1010.5 L1095.3,1009.2 L1095.5,1008 L1095.2,1007 L1094.4,1006.1 L1093.6,1005.1 L1093.4,1004 L1093.6,1002.9 L1093.9,1001.8 L1093.7,1000.8 L1093,999.7 L1092.3,998.6 L1092.1,997.5 L1092.5,996.5 L1092.9,995.6 L1092.8,994.6 L1092.2,993.4 L1091.5,992.1 L1091.5,991.1 L1092,990.3 L1092.5,989.5 L1092.5,988.5 L1091.9,987.2 L1091.4,985.9 L1091.5,984.9 L1092,984.3 L1092.6,983.8 L1092.7,982.8 L1092.3,981.5 L1091.9,980.1 L1092,979.1 L1092.7,978.8 L1093.4,978.4 L1093.6,977.6 L1093.3,976.2 L1093,974.8 L1093.2,974 L1094,973.8 L1094.7,973.8 L1095,973 L1094.8,971.6 L1094.7,970.2 L1095,969.6 L1095.8,969.6 L1096.6,969.8 L1097,969.2 L1096.9,967.9 L1096.9,966.5 L1097.3,966 L1098.1,966.3 L1099,966.7 L1099.4,966.2 L1099.5,965 L1099.6,963.7 L1100.1,963.4 L1100.9,963.9 L1101.7,964.5 L1102.2,964.2 L1102.4,963.1 L1102.7,961.9 L1103.2,961.7 L1104.1,962.5 L1104.8,963.3 L1105.4,963.2 L1105.7,962.2 L1106.1,961.2 L1106.7,961.2 L1107.5,962.1 L1108.2,963.1 L1108.8,963.2 L1109.2,962.4 L1109.7,961.6 L1110.4,961.7 L1111.1,962.8 L1111.7,964 L1112.3,964.2 L1112.9,963.6 L1113.5,963 L1114.1,963.3 L1114.8,964.6 L1115.3,965.8 L1115.9,966.2 L1116.6,965.8 L1117.3,965.5 L1117.9,966 L1118.4,967.3 L1118.9,968.6 L1119.5,969.2 L1120.2,969 L1121,968.9 L1121.6,969.5 L1122,970.9 L1122.4,972.3 L1122.9,973 L1123.7,973.1 L1124.5,973.2 L1125.1,973.9 L1125.3,975.4 L1125.6,976.8 L1126.1,977.6 L1126.9,977.9 L1127.7,978.2 L1128.2,979.1 L1128.4,980.5 L1128.5,981.9 L1129,982.8 L1129.8,983.3 L1130.6,983.8 L1131,984.8 L1131.1,986.2 L1131.1,987.5 L1131.4,988.5 L1132.2,989.2 L1133,990 L1133.4,991 L1133.3,992.3 L1133.1,993.5 L1133.4,994.5Z" fill="#000" stroke="#000" stroke-width="1" fill-rule="evenodd"/>
<path d="M1109.7,1002.9 L1110.1,1004.3 L1112.5,1008.2 L1112.8,1009.2 L1112,1013.3 L1112.3,1014.7 L1112.5,1016.2 L1114.7,1020.5 L1114.8,1021.5 L1113.6,1025.1 L1113.8,1026.4 L1113.9,1027.8 L1115.7,1032.6 L1115.7,1033.5 L1114.1,1036.4 L1114,1037.7 L1114,1039 L1115.4,1043.9 L1115.3,1044.8 L1113.3,1046.9 L1113.1,1048.1 L1113,1049.2 L1113.9,1054.3 L1113.7,1055 L1111.4,1056.2 L1111.1,1057.3 L1110.8,1058.3 L1111.2,1063.2 L1110.9,1063.9 L1108.4,1064.2 L1107.9,1065 L1107.5,1065.9 L1107.4,1070.5 L1107.1,1071.1 L1104.3,1070.5 L1103.8,1071.1 L1103.2,1071.7 L1102.7,1076 L1102.2,1076.3 L1099.4,1074.8 L1098.8,1075.2 L1098.1,1075.6 L1097.1,1079.3 L1096.6,1079.5 L1093.8,1077.2 L1093.1,1077.3 L1092.3,1077.4 L1090.8,1080.5 L1090.3,1080.5 L1087.6,1077.4 L1086.8,1077.3 L1086.1,1077.1 L1084.2,1079.5 L1083.6,1079.3 L1081.1,1075.5 L1080.3,1075.2 L1079.5,1074.8 L1077.3,1076.2 L1076.7,1075.9 L1074.5,1071.6 L1073.7,1071 L1072.9,1070.4 L1070.3,1071 L1069.8,1070.4 L1067.9,1065.8 L1067.1,1064.9 L1066.4,1064.1 L1063.7,1063.8 L1063.1,1063.1 L1061.6,1058.2 L1060.9,1057.1 L1060.2,1056.1 L1057.4,1054.9 L1056.9,1054.1 L1055.9,1049.1 L1055.2,1047.9 L1054.6,1046.7 L1051.8,1044.6 L1051.3,1043.8 L1050.8,1038.8 L1050.2,1037.5 L1049.7,1036.2 L1046.9,1033.3 L1046.6,1032.4 L1046.5,1027.6 L1046.1,1026.3 L1045.7,1024.9 L1043.1,1021.3 L1042.8,1020.3 L1043.3,1016 L1043,1014.5 L1042.7,1013.1 L1040.3,1009 L1040.1,1008 L1041.1,1004.2 L1040.9,1002.7 L1040.8,1001.3 L1038.7,996.8 L1038.7,995.8 L1040.1,992.6 L1040,991.2 L1040,989.9 L1038.4,985 L1038.4,984.1 L1040.2,981.6 L1040.3,980.4 L1040.5,979.1 L1039.3,974.1 L1039.4,973.3 L1041.6,971.7 L1041.8,970.5 L1042.1,969.4 L1041.4,964.4 L1041.6,963.7 L1044.1,963 L1044.5,962 L1044.8,961.1 L1044.6,956.3 L1045,955.7 L1047.6,955.8 L1048.1,955.1 L1048.6,954.4 L1048.9,949.9 L1049.3,949.4 L1052.1,950.5 L1052.7,950 L1053.3,949.5 L1054.1,945.5 L1054.6,945.2 L1057.4,947.1 L1058.1,946.8 L1058.8,946.6 L1060.1,943.2 L1060.6,943.1 L1063.3,945.8 L1064.1,945.8 L1064.8,945.8 L1066.6,943.1 L1067.1,943.2 L1069.7,946.6 L1070.5,946.9 L1071.3,947.2 L1073.4,945.3 L1073.9,945.5 L1076.3,949.6 L1077.1,950 L1077.9,950.6 L1080.3,949.5 L1080.9,950 L1082.9,954.5 L1083.7,955.2 L1084.5,955.9 L1087.1,955.8 L1087.7,956.4 L1089.4,961.2 L1090.1,962.1 L1090.9,963.1 L1093.6,963.9 L1094.1,964.6 L1095.4,969.6 L1096.1,970.7 L1096.8,971.8 L1099.6,973.5 L1100.1,974.3 L1100.9,979.3 L1101.5,980.6 L1102.1,981.8 L1104.9,984.3 L1105.2,985.2 L1105.5,990.1 L1106,991.4 L1106.5,992.8 L1109.2,996 L1109.5,997 L1109.3,1001.5Z M1099.1,1005.8 A22.8,45.6 -15 0 1 1088.8,1055.7 A22.8,45.6 -15 0 1 1055,1017.6 A22.8,45.6 -15 0 1 1065.2,967.6 A22.8,45.6 -15 0 1 1099.1,1005.8Z" fill="#fff" stroke="#000" stroke-width="2.6" fill-rule="evenodd"/>
<path d="M1108.1,1003.4 L1108.5,1004.8 L1111,1008.6 L1111.2,1009.6 L1110.5,1013.7 L1110.7,1015.2 L1111,1016.6 L1113.2,1020.9 L1113.3,1021.9 L1112.1,1025.5 L1112.2,1026.9 L1112.3,1028.2 L1114.1,1033 L1114.2,1033.9 L1112.5,1036.8 L1112.5,1038.1 L1112.5,1039.4 L1113.9,1044.4 L1113.8,1045.2 L1111.8,1047.3 L1111.6,1048.5 L1111.4,1049.6 L1112.4,1054.7 L1112.2,1055.5 L1109.8,1056.7 L1109.5,1057.7 L1109.2,1058.7 L1109.7,1063.7 L1109.4,1064.3 L1106.8,1064.6 L1106.4,1065.5 L1105.9,1066.3 L1105.9,1071 L1105.5,1071.5 L1102.8,1070.9 L1102.2,1071.5 L1101.7,1072.1 L1101.1,1076.4 L1100.7,1076.7 L1097.9,1075.2 L1097.2,1075.6 L1096.6,1076 L1095.5,1079.7 L1095,1079.9 L1092.2,1077.6 L1091.5,1077.7 L1090.8,1077.8 L1089.3,1080.9 L1088.8,1080.9 L1086.1,1077.8 L1085.3,1077.7 L1084.5,1077.6 L1082.6,1079.9 L1082.1,1079.7 L1079.6,1075.9 L1078.8,1075.6 L1078,1075.2 L1075.7,1076.7 L1075.2,1076.3 L1072.9,1072 L1072.1,1071.4 L1071.3,1070.8 L1068.8,1071.4 L1068.3,1070.9 L1066.4,1066.2 L1065.6,1065.3 L1064.8,1064.5 L1062.1,1064.2 L1061.6,1063.5 L1060.1,1058.6 L1059.4,1057.6 L1058.7,1056.5 L1055.8,1055.3 L1055.4,1054.5 L1054.3,1049.5 L1053.7,1048.3 L1053,1047.1 L1050.2,1045.1 L1049.8,1044.2 L1049.2,1039.2 L1048.7,1037.9 L1048.1,1036.6 L1045.4,1033.7 L1045,1032.8 L1045,1028 L1044.6,1026.7 L1044.1,1025.3 L1041.5,1021.7 L1041.3,1020.7 L1041.7,1016.4 L1041.4,1015 L1041.1,1013.5 L1038.8,1009.4 L1038.6,1008.4 L1039.6,1004.6 L1039.4,1003.2 L1039.2,1001.8 L1037.2,997.2 L1037.1,996.2 L1038.5,993 L1038.5,991.7 L1038.5,990.3 L1036.8,985.4 L1036.9,984.5 L1038.7,982.1 L1038.8,980.8 L1038.9,979.6 L1037.7,974.5 L1037.9,973.7 L1040.1,972.1 L1040.3,970.9 L1040.5,969.9 L1039.8,964.8 L1040.1,964.1 L1042.5,963.4 L1042.9,962.4 L1043.3,961.5 L1043.1,956.7 L1043.4,956.1 L1046.1,956.2 L1046.6,955.5 L1047.1,954.8 L1047.4,950.3 L1047.8,949.9 L1050.6,950.9 L1051.2,950.4 L1051.8,949.9 L1052.6,945.9 L1053,945.6 L1055.9,947.5 L1056.6,947.3 L1057.2,947 L1058.5,943.6 L1059,943.5 L1061.8,946.2 L1062.5,946.2 L1063.3,946.2 L1065,943.5 L1065.5,943.6 L1068.2,947.1 L1068.9,947.3 L1069.7,947.6 L1071.8,945.7 L1072.4,945.9 L1074.8,950 L1075.6,950.5 L1076.4,951 L1078.8,949.9 L1079.3,950.4 L1081.4,954.9 L1082.2,955.6 L1083,956.3 L1085.6,956.2 L1086.1,956.8 L1087.8,961.6 L1088.6,962.6 L1089.3,963.5 L1092.1,964.3 L1092.6,965 L1093.9,970 L1094.6,971.1 L1095.2,972.2 L1098.1,973.9 L1098.5,974.7 L1099.3,979.7 L1099.9,981 L1100.5,982.2 L1103.3,984.7 L1103.7,985.6 L1104,990.5 L1104.5,991.8 L1105,993.2 L1107.7,996.4 L1108,997.4 L1107.8,1001.9Z M1097.5,1006.2 A22.8,45.6 -15 0 1 1087.3,1056.1 A22.8,45.6 -15 0 1 1053.5,1018 A22.8,45.6 -15 0 1 1063.7,968.1 A22.8,45.6 -15 0 1 1097.5,1006.2Z" fill="#fff" stroke="#000" stroke-width="2.6" fill-rule="evenodd"/>
<path d="M1065.5,1013.8 A33.8,65 -15 0 1 1049.7,1085.4 A33.8,65 -15 0 1 1000.2,1031.3 A33.8,65 -15 0 1 1016,959.8 A33.8,65 -15 0 1 1065.5,1013.8Z M1052.7,1017.3 L1053.5,1018.2 L1053.7,1019.3 L1053.5,1020.4 L1053.2,1021.5 L1053.4,1022.6 L1054.1,1023.6 L1054.8,1024.7 L1055,1025.8 L1054.6,1026.8 L1054.2,1027.7 L1054.3,1028.8 L1055,1030 L1055.6,1031.2 L1055.7,1032.3 L1055.2,1033.1 L1054.7,1033.8 L1054.7,1034.8 L1055.2,1036.1 L1055.7,1037.4 L1055.7,1038.4 L1055.1,1039 L1054.5,1039.6 L1054.4,1040.5 L1054.8,1041.9 L1055.2,1043.3 L1055.1,1044.2 L1054.4,1044.6 L1053.7,1044.9 L1053.5,1045.7 L1053.8,1047.1 L1054.1,1048.5 L1053.9,1049.3 L1053.1,1049.5 L1052.4,1049.6 L1052.1,1050.3 L1052.3,1051.7 L1052.4,1053.1 L1052.1,1053.8 L1051.3,1053.7 L1050.5,1053.5 L1050.2,1054.1 L1050.2,1055.5 L1050.2,1056.8 L1049.8,1057.4 L1049,1057 L1048.2,1056.7 L1047.7,1057.1 L1047.7,1058.4 L1047.5,1059.6 L1047,1060 L1046.2,1059.4 L1045.4,1058.8 L1044.9,1059.1 L1044.7,1060.3 L1044.4,1061.4 L1043.9,1061.6 L1043.1,1060.8 L1042.3,1060 L1041.7,1060.1 L1041.4,1061.1 L1041,1062.1 L1040.4,1062.1 L1039.7,1061.2 L1038.9,1060.2 L1038.3,1060.1 L1037.9,1061 L1037.4,1061.8 L1036.8,1061.6 L1036.1,1060.5 L1035.4,1059.4 L1034.8,1059.1 L1034.2,1059.8 L1033.6,1060.3 L1033,1060 L1032.4,1058.8 L1031.8,1057.5 L1031.2,1057.1 L1030.5,1057.5 L1029.9,1057.9 L1029.2,1057.4 L1028.7,1056 L1028.2,1054.7 L1027.6,1054.1 L1026.9,1054.3 L1026.2,1054.5 L1025.6,1053.8 L1025.1,1052.4 L1024.8,1051 L1024.2,1050.3 L1023.4,1050.3 L1022.6,1050.2 L1022.1,1049.4 L1021.8,1048 L1021.5,1046.6 L1021,1045.8 L1020.2,1045.5 L1019.4,1045.1 L1018.9,1044.2 L1018.7,1042.8 L1018.6,1041.4 L1018.2,1040.5 L1017.3,1040 L1016.5,1039.5 L1016.1,1038.5 L1016.1,1037.1 L1016.1,1035.8 L1015.7,1034.8 L1014.9,1034.1 L1014.1,1033.4 L1013.7,1032.3 L1013.9,1031.1 L1014,1029.8 L1013.7,1028.8 L1012.9,1027.9 L1012.2,1027 L1011.9,1025.9 L1012.2,1024.7 L1012.4,1023.6 L1012.2,1022.6 L1011.5,1021.5 L1010.8,1020.4 L1010.7,1019.3 L1011,1018.4 L1011.4,1017.4 L1011.3,1016.4 L1010.7,1015.2 L1010.1,1014 L1010,1012.9 L1010.5,1012.1 L1011,1011.4 L1011,1010.4 L1010.5,1009.1 L1009.9,1007.7 L1010,1006.7 L1010.6,1006.1 L1011.2,1005.6 L1011.3,1004.7 L1010.8,1003.3 L1010.4,1001.9 L1010.6,1001 L1011.3,1000.6 L1011.9,1000.3 L1012.1,999.5 L1011.8,998.1 L1011.5,996.6 L1011.8,995.8 L1012.5,995.7 L1013.3,995.6 L1013.6,994.9 L1013.4,993.5 L1013.2,992.1 L1013.6,991.4 L1014.4,991.5 L1015.1,991.6 L1015.5,991 L1015.5,989.7 L1015.4,988.3 L1015.9,987.8 L1016.7,988.1 L1017.5,988.5 L1017.9,988.1 L1018,986.8 L1018.1,985.6 L1018.6,985.2 L1019.4,985.7 L1020.3,986.3 L1020.8,986.1 L1021,984.9 L1021.2,983.8 L1021.8,983.6 L1022.6,984.3 L1023.4,985.1 L1023.9,985 L1024.3,984 L1024.6,983 L1025.2,983 L1026,984 L1026.7,984.9 L1027.3,985 L1027.8,984.2 L1028.3,983.4 L1028.9,983.6 L1029.6,984.7 L1030.3,985.8 L1030.9,986 L1031.4,985.4 L1032,984.8 L1032.7,985.2 L1033.3,986.4 L1033.9,987.7 L1034.5,988.1 L1035.1,987.6 L1035.8,987.3 L1036.4,987.8 L1037,989.1 L1037.5,990.5 L1038,991 L1038.8,990.8 L1039.5,990.7 L1040.1,991.4 L1040.5,992.8 L1040.9,994.1 L1041.5,994.8 L1042.2,994.9 L1043,995 L1043.6,995.8 L1043.9,997.2 L1044.1,998.6 L1044.6,999.4 L1045.4,999.7 L1046.3,1000 L1046.8,1000.9 L1046.9,1002.3 L1047.1,1003.7 L1047.5,1004.6 L1048.3,1005.1 L1049.1,1005.7 L1049.6,1006.7 L1049.6,1008 L1049.6,1009.3 L1050,1010.3 L1050.8,1011 L1051.6,1011.8 L1051.9,1012.8 L1051.8,1014.1 L1051.7,1015.3 L1052,1016.4Z" fill="#000" stroke="#000" stroke-width="1" fill-rule="evenodd"/>
<path d="M1063.5,1014.4 A33.8,65 -15 0 1 1047.7,1085.9 A33.8,65 -15 0 1 998.3,1031.8 A33.8,65 -15 0 1 1014.1,960.3 A33.8,65 -15 0 1 1063.5,1014.4Z M1050.8,1017.8 L1051.6,1018.7 L1051.8,1019.8 L1051.6,1020.9 L1051.3,1022 L1051.5,1023.1 L1052.2,1024.1 L1052.9,1025.3 L1053.1,1026.3 L1052.7,1027.3 L1052.3,1028.3 L1052.4,1029.3 L1053,1030.5 L1053.7,1031.7 L1053.7,1032.8 L1053.2,1033.6 L1052.7,1034.3 L1052.7,1035.3 L1053.3,1036.6 L1053.8,1038 L1053.7,1039 L1053.2,1039.6 L1052.6,1040.1 L1052.5,1041 L1052.9,1042.4 L1053.3,1043.8 L1053.2,1044.7 L1052.5,1045.1 L1051.8,1045.4 L1051.6,1046.2 L1051.9,1047.6 L1052.2,1049.1 L1052,1049.9 L1051.2,1050 L1050.5,1050.1 L1050.2,1050.8 L1050.4,1052.2 L1050.5,1053.6 L1050.2,1054.3 L1049.4,1054.2 L1048.6,1054.1 L1048.2,1054.6 L1048.3,1056 L1048.3,1057.3 L1047.9,1057.9 L1047.1,1057.5 L1046.2,1057.2 L1045.8,1057.6 L1045.7,1058.9 L1045.6,1060.1 L1045.1,1060.5 L1044.3,1060 L1043.5,1059.4 L1043,1059.6 L1042.8,1060.8 L1042.5,1061.9 L1042,1062.1 L1041.1,1061.4 L1040.4,1060.6 L1039.8,1060.7 L1039.5,1061.7 L1039.1,1062.6 L1038.5,1062.6 L1037.7,1061.7 L1037,1060.7 L1036.4,1060.7 L1036,1061.5 L1035.5,1062.3 L1034.8,1062.1 L1034.1,1061 L1033.5,1059.9 L1032.9,1059.6 L1032.3,1060.3 L1031.7,1060.9 L1031.1,1060.5 L1030.4,1059.3 L1029.9,1058 L1029.3,1057.6 L1028.6,1058 L1027.9,1058.4 L1027.3,1057.9 L1026.8,1056.6 L1026.3,1055.2 L1025.7,1054.7 L1025,1054.9 L1024.2,1055 L1023.6,1054.3 L1023.2,1052.9 L1022.8,1051.5 L1022.3,1050.8 L1021.5,1050.8 L1020.7,1050.7 L1020.1,1049.9 L1019.9,1048.5 L1019.6,1047.1 L1019.1,1046.3 L1018.3,1046 L1017.5,1045.7 L1017,1044.8 L1016.8,1043.3 L1016.7,1042 L1016.2,1041.1 L1015.4,1040.6 L1014.6,1040 L1014.2,1039 L1014.1,1037.7 L1014.1,1036.3 L1013.8,1035.4 L1013,1034.7 L1012.2,1033.9 L1011.8,1032.8 L1011.9,1031.6 L1012.1,1030.3 L1011.8,1029.3 L1011,1028.4 L1010.2,1027.5 L1010,1026.4 L1010.2,1025.3 L1010.5,1024.2 L1010.3,1023.1 L1009.6,1022.1 L1008.9,1020.9 L1008.7,1019.9 L1009.1,1018.9 L1009.5,1017.9 L1009.4,1016.9 L1008.8,1015.7 L1008.1,1014.5 L1008.1,1013.4 L1008.6,1012.6 L1009.1,1011.9 L1009.1,1010.9 L1008.5,1009.6 L1008,1008.2 L1008.1,1007.2 L1008.6,1006.6 L1009.2,1006.1 L1009.3,1005.2 L1008.9,1003.8 L1008.5,1002.4 L1008.6,1001.5 L1009.3,1001.1 L1010,1000.8 L1010.2,1000 L1009.9,998.6 L1009.6,997.1 L1009.8,996.3 L1010.6,996.2 L1011.3,996.1 L1011.6,995.4 L1011.4,994 L1011.3,992.6 L1011.6,991.9 L1012.4,992 L1013.2,992.1 L1013.6,991.6 L1013.5,990.2 L1013.5,988.9 L1013.9,988.3 L1014.7,988.7 L1015.6,989 L1016,988.6 L1016.1,987.3 L1016.2,986.1 L1016.7,985.7 L1017.5,986.2 L1018.3,986.8 L1018.8,986.6 L1019,985.4 L1019.3,984.3 L1019.8,984.1 L1020.7,984.8 L1021.4,985.6 L1022,985.5 L1022.3,984.5 L1022.7,983.6 L1023.3,983.6 L1024.1,984.5 L1024.8,985.5 L1025.4,985.5 L1025.8,984.7 L1026.3,983.9 L1027,984.1 L1027.7,985.2 L1028.3,986.3 L1028.9,986.6 L1029.5,985.9 L1030.1,985.3 L1030.7,985.7 L1031.4,986.9 L1031.9,988.2 L1032.5,988.6 L1033.2,988.2 L1033.9,987.8 L1034.5,988.3 L1035,989.6 L1035.5,991 L1036.1,991.5 L1036.8,991.3 L1037.6,991.2 L1038.2,991.9 L1038.6,993.3 L1039,994.7 L1039.5,995.4 L1040.3,995.4 L1041.1,995.5 L1041.7,996.3 L1041.9,997.7 L1042.2,999.1 L1042.7,999.9 L1043.5,1000.2 L1044.3,1000.5 L1044.8,1001.4 L1045,1002.9 L1045.1,1004.2 L1045.6,1005.1 L1046.4,1005.6 L1047.2,1006.2 L1047.6,1007.2 L1047.7,1008.5 L1047.7,1009.9 L1048,1010.8 L1048.8,1011.5 L1049.6,1012.3 L1050,1013.4 L1049.9,1014.6 L1049.7,1015.9 L1050,1016.9Z" fill="#000" stroke="#000" stroke-width="1" fill-rule="evenodd"/>
<path d="M1026.3,1025.3 L1026.7,1026.7 L1029.1,1030.6 L1029.4,1031.5 L1028.6,1035.7 L1028.9,1037.1 L1029.1,1038.5 L1031.3,1042.9 L1031.4,1043.9 L1030.2,1047.4 L1030.4,1048.8 L1030.5,1050.2 L1032.3,1054.9 L1032.3,1055.9 L1030.7,1058.7 L1030.6,1060 L1030.6,1061.3 L1032,1066.3 L1031.9,1067.2 L1029.9,1069.2 L1029.7,1070.4 L1029.6,1071.6 L1030.5,1076.6 L1030.3,1077.4 L1028,1078.6 L1027.7,1079.6 L1027.4,1080.6 L1027.8,1085.6 L1027.5,1086.2 L1025,1086.5 L1024.5,1087.4 L1024.1,1088.2 L1024,1092.9 L1023.7,1093.4 L1020.9,1092.8 L1020.4,1093.4 L1019.8,1094 L1019.3,1098.3 L1018.8,1098.7 L1016,1097.2 L1015.4,1097.6 L1014.7,1097.9 L1013.7,1101.7 L1013.2,1101.8 L1010.4,1099.5 L1009.7,1099.7 L1008.9,1099.8 L1007.4,1102.8 L1006.9,1102.8 L1004.2,1099.8 L1003.4,1099.6 L1002.7,1099.5 L1000.8,1101.8 L1000.2,1101.6 L997.7,1097.9 L996.9,1097.5 L996.1,1097.1 L993.9,1098.6 L993.3,1098.2 L991.1,1094 L990.3,1093.3 L989.5,1092.7 L986.9,1093.3 L986.4,1092.8 L984.5,1088.1 L983.7,1087.3 L983,1086.4 L980.3,1086.1 L979.7,1085.5 L978.2,1080.5 L977.5,1079.5 L976.8,1078.5 L974,1077.2 L973.5,1076.5 L972.5,1071.4 L971.8,1070.2 L971.2,1069.1 L968.4,1067 L967.9,1066.1 L967.4,1061.1 L966.8,1059.8 L966.3,1058.5 L963.5,1055.7 L963.2,1054.7 L963.1,1050 L962.7,1048.6 L962.3,1047.2 L959.7,1043.7 L959.4,1042.7 L959.9,1038.3 L959.6,1036.9 L959.3,1035.5 L956.9,1031.3 L956.7,1030.4 L957.7,1026.5 L957.5,1025.1 L957.4,1023.7 L955.3,1019.1 L955.3,1018.1 L956.7,1014.9 L956.6,1013.6 L956.6,1012.2 L955,1007.4 L955,1006.4 L956.8,1004 L956.9,1002.7 L957.1,1001.5 L955.9,996.5 L956,995.6 L958.2,994 L958.4,992.9 L958.7,991.8 L958,986.8 L958.2,986.1 L960.7,985.3 L961.1,984.4 L961.4,983.4 L961.2,978.6 L961.6,978 L964.2,978.2 L964.7,977.4 L965.2,976.7 L965.5,972.2 L965.9,971.8 L968.7,972.8 L969.3,972.3 L969.9,971.8 L970.7,967.8 L971.2,967.6 L974,969.5 L974.7,969.2 L975.4,969 L976.7,965.5 L977.2,965.5 L979.9,968.2 L980.7,968.2 L981.4,968.2 L983.2,965.5 L983.7,965.6 L986.3,969 L987.1,969.2 L987.9,969.5 L990,967.6 L990.5,967.9 L992.9,971.9 L993.7,972.4 L994.5,972.9 L996.9,971.9 L997.5,972.3 L999.5,976.8 L1000.3,977.5 L1001.1,978.3 L1003.7,978.1 L1004.3,978.7 L1006,983.6 L1006.7,984.5 L1007.5,985.4 L1010.2,986.2 L1010.7,986.9 L1012,991.9 L1012.7,993 L1013.4,994.2 L1016.2,995.8 L1016.7,996.6 L1017.5,1001.7 L1018.1,1002.9 L1018.7,1004.2 L1021.5,1006.6 L1021.8,1007.5 L1022.1,1012.4 L1022.6,1013.8 L1023.1,1015.1 L1025.8,1018.3 L1026.1,1019.3 L1025.9,1023.9Z M1015.7,1028.1 A22.8,45.6 -15 0 1 1005.4,1078.1 A22.8,45.6 -15 0 1 971.6,1039.9 A22.8,45.6 -15 0 1 981.8,990 A22.8,45.6 -15 0 1 1015.7,1028.1Z" fill="#fff" stroke="#000" stroke-width="2.6" fill-rule="evenodd"/>
<path d="M1024.7,1025.7 L1025.1,1027.1 L1027.6,1031 L1027.8,1032 L1027.1,1036.1 L1027.3,1037.5 L1027.6,1038.9 L1029.8,1043.3 L1029.9,1044.3 L1028.7,1047.8 L1028.8,1049.2 L1028.9,1050.6 L1030.7,1055.3 L1030.8,1056.3 L1029.1,1059.1 L1029.1,1060.4 L1029.1,1061.7 L1030.5,1066.7 L1030.4,1067.6 L1028.4,1069.6 L1028.2,1070.8 L1028,1072 L1029,1077 L1028.8,1077.8 L1026.4,1079 L1026.1,1080 L1025.8,1081.1 L1026.3,1086 L1026,1086.7 L1023.4,1087 L1023,1087.8 L1022.5,1088.6 L1022.5,1093.3 L1022.1,1093.8 L1019.4,1093.2 L1018.8,1093.8 L1018.3,1094.4 L1017.7,1098.7 L1017.3,1099.1 L1014.5,1097.6 L1013.8,1098 L1013.2,1098.3 L1012.1,1102.1 L1011.6,1102.3 L1008.8,1099.9 L1008.1,1100.1 L1007.4,1100.2 L1005.9,1103.3 L1005.4,1103.3 L1002.7,1100.2 L1001.9,1100.1 L1001.1,1099.9 L999.2,1102.2 L998.7,1102 L996.2,1098.3 L995.4,1097.9 L994.6,1097.5 L992.3,1099 L991.8,1098.7 L989.5,1094.4 L988.7,1093.8 L987.9,1093.1 L985.4,1093.7 L984.9,1093.2 L983,1088.5 L982.2,1087.7 L981.4,1086.8 L978.7,1086.5 L978.2,1085.9 L976.7,1080.9 L976,1079.9 L975.3,1078.9 L972.4,1077.7 L972,1076.9 L970.9,1071.8 L970.3,1070.7 L969.6,1069.5 L966.8,1067.4 L966.4,1066.5 L965.8,1061.6 L965.3,1060.3 L964.7,1058.9 L962,1056.1 L961.6,1055.1 L961.6,1050.4 L961.2,1049 L960.7,1047.6 L958.1,1044.1 L957.9,1043.1 L958.3,1038.7 L958,1037.3 L957.7,1035.9 L955.4,1031.8 L955.2,1030.8 L956.2,1026.9 L956,1025.5 L955.8,1024.1 L953.8,1019.5 L953.7,1018.6 L955.1,1015.4 L955.1,1014 L955.1,1012.7 L953.4,1007.8 L953.5,1006.9 L955.3,1004.4 L955.4,1003.1 L955.5,1001.9 L954.3,996.9 L954.5,996.1 L956.7,994.4 L956.9,993.3 L957.1,992.2 L956.4,987.2 L956.7,986.5 L959.1,985.7 L959.5,984.8 L959.9,983.9 L959.7,979 L960,978.4 L962.7,978.6 L963.2,977.8 L963.7,977.1 L964,972.6 L964.4,972.2 L967.2,973.2 L967.8,972.7 L968.4,972.3 L969.2,968.2 L969.6,968 L972.5,969.9 L973.2,969.6 L973.8,969.4 L975.1,966 L975.6,965.9 L978.4,968.6 L979.1,968.6 L979.9,968.6 L981.6,965.9 L982.1,966 L984.8,969.4 L985.5,969.6 L986.3,969.9 L988.4,968 L989,968.3 L991.4,972.3 L992.2,972.8 L993,973.3 L995.4,972.3 L995.9,972.7 L998,977.2 L998.8,977.9 L999.6,978.7 L1002.2,978.6 L1002.7,979.1 L1004.4,984 L1005.2,984.9 L1005.9,985.8 L1008.7,986.6 L1009.2,987.3 L1010.5,992.3 L1011.2,993.4 L1011.8,994.6 L1014.7,996.2 L1015.1,997 L1015.9,1002.1 L1016.5,1003.3 L1017.1,1004.6 L1019.9,1007 L1020.3,1008 L1020.6,1012.8 L1021.1,1014.2 L1021.6,1015.5 L1024.3,1018.8 L1024.6,1019.7 L1024.4,1024.3Z M1014.1,1028.5 A22.8,45.6 -15 0 1 1003.9,1078.5 A22.8,45.6 -15 0 1 970.1,1040.4 A22.8,45.6 -15 0 1 980.3,990.4 A22.8,45.6 -15 0 1 1014.1,1028.5Z" fill="#fff" stroke="#000" stroke-width="2.6" fill-rule="evenodd"/>
<path d="M982.1,1036.2 A33.8,65 -15 0 1 966.3,1107.7 A33.8,65 -15 0 1 916.8,1053.7 A33.8,65 -15 0 1 932.6,982.1 A33.8,65 -15 0 1 982.1,1036.2Z M969.3,1039.6 L970.1,1040.6 L970.3,1041.6 L970.1,1042.8 L969.8,1043.9 L970,1044.9 L970.7,1046 L971.4,1047.1 L971.6,1048.2 L971.2,1049.2 L970.8,1050.1 L970.9,1051.1 L971.6,1052.3 L972.2,1053.6 L972.3,1054.6 L971.8,1055.4 L971.3,1056.2 L971.3,1057.1 L971.8,1058.5 L972.3,1059.8 L972.3,1060.8 L971.7,1061.4 L971.1,1061.9 L971,1062.8 L971.4,1064.2 L971.8,1065.6 L971.7,1066.5 L971,1066.9 L970.3,1067.2 L970.1,1068.1 L970.4,1069.5 L970.7,1070.9 L970.5,1071.7 L969.7,1071.8 L969,1071.9 L968.7,1072.6 L968.9,1074 L969,1075.4 L968.7,1076.1 L967.9,1076 L967.1,1075.9 L966.8,1076.5 L966.8,1077.8 L966.8,1079.2 L966.4,1079.7 L965.6,1079.4 L964.8,1079 L964.3,1079.4 L964.3,1080.7 L964.1,1082 L963.6,1082.3 L962.8,1081.8 L962,1081.2 L961.5,1081.5 L961.3,1082.6 L961,1083.7 L960.5,1083.9 L959.7,1083.2 L958.9,1082.4 L958.3,1082.5 L958,1083.5 L957.6,1084.5 L957,1084.5 L956.3,1083.5 L955.5,1082.6 L954.9,1082.5 L954.5,1083.3 L954,1084.1 L953.4,1083.9 L952.7,1082.8 L952,1081.7 L951.4,1081.5 L950.8,1082.1 L950.2,1082.7 L949.6,1082.3 L949,1081.1 L948.4,1079.9 L947.8,1079.5 L947.1,1079.9 L946.5,1080.2 L945.8,1079.7 L945.3,1078.4 L944.8,1077.1 L944.2,1076.5 L943.5,1076.7 L942.8,1076.8 L942.2,1076.2 L941.7,1074.8 L941.4,1073.4 L940.8,1072.7 L940,1072.6 L939.2,1072.5 L938.7,1071.7 L938.4,1070.3 L938.1,1068.9 L937.6,1068.1 L936.8,1067.8 L936,1067.5 L935.5,1066.6 L935.3,1065.2 L935.2,1063.8 L934.8,1062.9 L933.9,1062.4 L933.1,1061.8 L932.7,1060.8 L932.7,1059.5 L932.7,1058.2 L932.3,1057.2 L931.5,1056.5 L930.7,1055.7 L930.3,1054.7 L930.5,1053.4 L930.6,1052.2 L930.3,1051.2 L929.5,1050.3 L928.8,1049.3 L928.5,1048.2 L928.8,1047.1 L929,1046 L928.8,1045 L928.1,1043.9 L927.4,1042.8 L927.3,1041.7 L927.6,1040.7 L928,1039.8 L927.9,1038.8 L927.3,1037.6 L926.7,1036.3 L926.6,1035.2 L927.1,1034.4 L927.6,1033.7 L927.6,1032.7 L927.1,1031.4 L926.5,1030.1 L926.6,1029.1 L927.2,1028.5 L927.8,1027.9 L927.9,1027 L927.4,1025.6 L927,1024.2 L927.2,1023.3 L927.9,1022.9 L928.5,1022.6 L928.7,1021.8 L928.4,1020.4 L928.1,1019 L928.4,1018.2 L929.1,1018 L929.9,1017.9 L930.2,1017.2 L930,1015.8 L929.8,1014.4 L930.2,1013.7 L931,1013.8 L931.7,1014 L932.1,1013.4 L932.1,1012 L932,1010.7 L932.5,1010.2 L933.3,1010.5 L934.1,1010.9 L934.5,1010.4 L934.6,1009.2 L934.7,1007.9 L935.2,1007.5 L936,1008.1 L936.9,1008.7 L937.4,1008.4 L937.6,1007.3 L937.8,1006.1 L938.4,1005.9 L939.2,1006.7 L940,1007.5 L940.5,1007.4 L940.9,1006.4 L941.2,1005.4 L941.8,1005.4 L942.6,1006.3 L943.3,1007.3 L943.9,1007.4 L944.4,1006.5 L944.9,1005.8 L945.5,1005.9 L946.2,1007 L946.9,1008.1 L947.5,1008.4 L948,1007.8 L948.6,1007.2 L949.3,1007.5 L949.9,1008.8 L950.5,1010 L951.1,1010.4 L951.7,1010 L952.4,1009.6 L953,1010.1 L953.6,1011.5 L954.1,1012.8 L954.6,1013.4 L955.4,1013.2 L956.1,1013 L956.7,1013.7 L957.1,1015.1 L957.5,1016.5 L958.1,1017.2 L958.8,1017.2 L959.6,1017.3 L960.2,1018.1 L960.5,1019.5 L960.7,1021 L961.2,1021.8 L962,1022 L962.9,1022.4 L963.4,1023.3 L963.5,1024.7 L963.7,1026.1 L964.1,1027 L964.9,1027.5 L965.7,1028 L966.2,1029 L966.2,1030.4 L966.2,1031.7 L966.6,1032.7 L967.4,1033.4 L968.2,1034.1 L968.5,1035.2 L968.4,1036.5 L968.3,1037.7 L968.6,1038.7Z" fill="#000" stroke="#000" stroke-width="1" fill-rule="evenodd"/>
<path d="M980.1,1036.7 A33.8,65 -15 0 1 964.3,1108.2 A33.8,65 -15 0 1 914.9,1054.2 A33.8,65 -15 0 1 930.7,982.7 A33.8,65 -15 0 1 980.1,1036.7Z M967.4,1040.1 L968.2,1041.1 L968.4,1042.2 L968.2,1043.3 L967.9,1044.4 L968.1,1045.4 L968.8,1046.5 L969.5,1047.6 L969.7,1048.7 L969.3,1049.7 L968.9,1050.6 L969,1051.6 L969.6,1052.8 L970.3,1054.1 L970.3,1055.1 L969.8,1055.9 L969.3,1056.7 L969.3,1057.7 L969.9,1059 L970.4,1060.3 L970.3,1061.3 L969.8,1061.9 L969.2,1062.4 L969.1,1063.4 L969.5,1064.7 L969.9,1066.1 L969.8,1067.1 L969.1,1067.4 L968.4,1067.8 L968.2,1068.6 L968.5,1070 L968.8,1071.4 L968.6,1072.2 L967.8,1072.4 L967.1,1072.4 L966.8,1073.2 L967,1074.6 L967.1,1076 L966.8,1076.6 L966,1076.6 L965.2,1076.4 L964.8,1077 L964.9,1078.3 L964.9,1079.7 L964.5,1080.2 L963.7,1079.9 L962.8,1079.5 L962.4,1080 L962.3,1081.2 L962.2,1082.5 L961.7,1082.8 L960.9,1082.3 L960.1,1081.7 L959.6,1082 L959.4,1083.1 L959.1,1084.3 L958.6,1084.5 L957.7,1083.7 L957,1082.9 L956.4,1083 L956.1,1084 L955.7,1085 L955.1,1085 L954.3,1084.1 L953.6,1083.1 L953,1083 L952.6,1083.8 L952.1,1084.6 L951.4,1084.5 L950.7,1083.4 L950.1,1082.2 L949.5,1082 L948.9,1082.6 L948.3,1083.2 L947.7,1082.9 L947,1081.6 L946.5,1080.4 L945.9,1080 L945.2,1080.4 L944.5,1080.7 L943.9,1080.2 L943.4,1078.9 L942.9,1077.6 L942.3,1077 L941.6,1077.2 L940.8,1077.3 L940.2,1076.7 L939.8,1075.3 L939.4,1073.9 L938.9,1073.2 L938.1,1073.1 L937.3,1073 L936.7,1072.3 L936.5,1070.8 L936.2,1069.4 L935.7,1068.6 L934.9,1068.3 L934.1,1068 L933.6,1067.1 L933.4,1065.7 L933.3,1064.3 L932.8,1063.4 L932,1062.9 L931.2,1062.4 L930.8,1061.4 L930.7,1060 L930.7,1058.7 L930.4,1057.7 L929.6,1057 L928.8,1056.2 L928.4,1055.2 L928.5,1053.9 L928.7,1052.7 L928.4,1051.7 L927.6,1050.8 L926.8,1049.8 L926.6,1048.7 L926.8,1047.6 L927.1,1046.5 L926.9,1045.5 L926.2,1044.4 L925.5,1043.3 L925.3,1042.2 L925.7,1041.2 L926.1,1040.3 L926,1039.3 L925.4,1038.1 L924.7,1036.8 L924.7,1035.8 L925.2,1035 L925.7,1034.2 L925.7,1033.2 L925.1,1031.9 L924.6,1030.6 L924.7,1029.6 L925.2,1029 L925.8,1028.5 L925.9,1027.5 L925.5,1026.2 L925.1,1024.8 L925.2,1023.8 L925.9,1023.5 L926.6,1023.1 L926.8,1022.3 L926.5,1020.9 L926.2,1019.5 L926.4,1018.7 L927.2,1018.5 L927.9,1018.5 L928.2,1017.7 L928,1016.3 L927.9,1014.9 L928.2,1014.3 L929,1014.3 L929.8,1014.5 L930.2,1013.9 L930.1,1012.6 L930.1,1011.2 L930.5,1010.7 L931.3,1011 L932.2,1011.4 L932.6,1010.9 L932.7,1009.7 L932.8,1008.4 L933.3,1008.1 L934.1,1008.6 L934.9,1009.2 L935.4,1008.9 L935.6,1007.8 L935.9,1006.6 L936.4,1006.4 L937.3,1007.2 L938,1008 L938.6,1007.9 L938.9,1006.9 L939.3,1005.9 L939.9,1005.9 L940.7,1006.8 L941.4,1007.8 L942,1007.9 L942.4,1007.1 L942.9,1006.3 L943.6,1006.4 L944.3,1007.5 L944.9,1008.7 L945.5,1008.9 L946.1,1008.3 L946.7,1007.7 L947.3,1008 L948,1009.3 L948.5,1010.5 L949.1,1010.9 L949.8,1010.5 L950.5,1010.2 L951.1,1010.7 L951.6,1012 L952.1,1013.3 L952.7,1013.9 L953.4,1013.7 L954.2,1013.6 L954.8,1014.2 L955.2,1015.6 L955.6,1017 L956.1,1017.7 L956.9,1017.8 L957.7,1017.9 L958.3,1018.6 L958.5,1020.1 L958.8,1021.5 L959.3,1022.3 L960.1,1022.6 L960.9,1022.9 L961.4,1023.8 L961.6,1025.2 L961.7,1026.6 L962.2,1027.5 L963,1028 L963.8,1028.5 L964.2,1029.5 L964.3,1030.9 L964.3,1032.2 L964.6,1033.2 L965.4,1033.9 L966.2,1034.7 L966.6,1035.7 L966.5,1037 L966.3,1038.2 L966.6,1039.2Z" fill="#000" stroke="#000" stroke-width="1" fill-rule="evenodd"/>
<path d="M942.9,1047.6 L943.3,1049 L945.7,1052.9 L946,1053.9 L945.2,1058 L945.5,1059.4 L945.7,1060.9 L947.9,1065.2 L948,1066.2 L946.8,1069.8 L947,1071.1 L947.1,1072.5 L948.9,1077.3 L948.9,1078.2 L947.3,1081.1 L947.2,1082.4 L947.2,1083.7 L948.6,1088.6 L948.5,1089.5 L946.5,1091.6 L946.3,1092.8 L946.2,1093.9 L947.1,1099 L946.9,1099.7 L944.6,1100.9 L944.3,1102 L944,1103 L944.4,1107.9 L944.1,1108.6 L941.6,1108.9 L941.1,1109.7 L940.7,1110.6 L940.6,1115.2 L940.3,1115.8 L937.5,1115.2 L937,1115.8 L936.4,1116.4 L935.9,1120.7 L935.4,1121 L932.6,1119.5 L932,1119.9 L931.3,1120.3 L930.3,1124 L929.8,1124.2 L927,1121.9 L926.3,1122 L925.5,1122.1 L924,1125.2 L923.5,1125.2 L920.8,1122.1 L920,1122 L919.3,1121.8 L917.4,1124.2 L916.8,1124 L914.3,1120.2 L913.5,1119.9 L912.7,1119.5 L910.5,1120.9 L909.9,1120.6 L907.7,1116.3 L906.9,1115.7 L906.1,1115.1 L903.5,1115.7 L903,1115.1 L901.1,1110.5 L900.3,1109.6 L899.6,1108.8 L896.9,1108.5 L896.3,1107.8 L894.8,1102.9 L894.1,1101.8 L893.4,1100.8 L890.6,1099.6 L890.1,1098.8 L889.1,1093.8 L888.4,1092.6 L887.8,1091.4 L885,1089.3 L884.5,1088.5 L884,1083.5 L883.4,1082.2 L882.9,1080.9 L880.1,1078 L879.8,1077.1 L879.7,1072.3 L879.3,1071 L878.9,1069.6 L876.3,1066 L876,1065 L876.5,1060.7 L876.2,1059.2 L875.9,1057.8 L873.5,1053.7 L873.3,1052.7 L874.3,1048.9 L874.1,1047.4 L874,1046 L871.9,1041.5 L871.9,1040.5 L873.3,1037.3 L873.2,1035.9 L873.2,1034.6 L871.6,1029.7 L871.6,1028.8 L873.4,1026.3 L873.5,1025.1 L873.7,1023.8 L872.5,1018.8 L872.6,1018 L874.8,1016.4 L875,1015.2 L875.3,1014.1 L874.6,1009.1 L874.8,1008.4 L877.3,1007.7 L877.7,1006.7 L878,1005.8 L877.8,1001 L878.2,1000.4 L880.8,1000.5 L881.3,999.8 L881.8,999.1 L882.1,994.6 L882.5,994.1 L885.3,995.2 L885.9,994.7 L886.5,994.2 L887.3,990.2 L887.8,989.9 L890.6,991.8 L891.3,991.5 L892,991.3 L893.3,987.9 L893.8,987.8 L896.5,990.5 L897.3,990.5 L898,990.5 L899.8,987.8 L900.3,987.9 L902.9,991.3 L903.7,991.6 L904.5,991.9 L906.6,990 L907.1,990.2 L909.5,994.3 L910.3,994.7 L911.1,995.3 L913.5,994.2 L914.1,994.7 L916.1,999.2 L916.9,999.9 L917.7,1000.6 L920.3,1000.5 L920.9,1001.1 L922.6,1005.9 L923.3,1006.8 L924.1,1007.8 L926.8,1008.6 L927.3,1009.3 L928.6,1014.3 L929.3,1015.4 L930,1016.5 L932.8,1018.2 L933.3,1019 L934.1,1024 L934.7,1025.3 L935.3,1026.5 L938.1,1029 L938.4,1029.9 L938.7,1034.8 L939.2,1036.1 L939.7,1037.5 L942.4,1040.7 L942.7,1041.7 L942.5,1046.2Z M932.3,1050.5 A22.8,45.6 -15 0 1 922,1100.4 A22.8,45.6 -15 0 1 888.2,1062.3 A22.8,45.6 -15 0 1 898.4,1012.3 A22.8,45.6 -15 0 1 932.3,1050.5Z" fill="#fff" stroke="#000" stroke-width="2.6" fill-rule="evenodd"/>
<path d="M941.3,1048.1 L941.7,1049.5 L944.2,1053.3 L944.4,1054.3 L943.7,1058.4 L943.9,1059.9 L944.2,1061.3 L946.4,1065.6 L946.5,1066.6 L945.3,1070.2 L945.4,1071.6 L945.5,1072.9 L947.3,1077.7 L947.4,1078.6 L945.7,1081.5 L945.7,1082.8 L945.7,1084.1 L947.1,1089.1 L947,1089.9 L945,1092 L944.8,1093.2 L944.6,1094.3 L945.6,1099.4 L945.4,1100.2 L943,1101.4 L942.7,1102.4 L942.4,1103.4 L942.9,1108.4 L942.6,1109 L940,1109.3 L939.6,1110.2 L939.1,1111 L939.1,1115.7 L938.7,1116.2 L936,1115.6 L935.4,1116.2 L934.9,1116.8 L934.3,1121.1 L933.9,1121.4 L931.1,1119.9 L930.4,1120.3 L929.8,1120.7 L928.7,1124.4 L928.2,1124.6 L925.4,1122.3 L924.7,1122.4 L924,1122.5 L922.5,1125.6 L922,1125.6 L919.3,1122.5 L918.5,1122.4 L917.7,1122.3 L915.8,1124.6 L915.3,1124.4 L912.8,1120.6 L912,1120.3 L911.2,1119.9 L908.9,1121.4 L908.4,1121 L906.1,1116.7 L905.3,1116.1 L904.5,1115.5 L902,1116.1 L901.5,1115.6 L899.6,1110.9 L898.8,1110 L898,1109.2 L895.3,1108.9 L894.8,1108.2 L893.3,1103.3 L892.6,1102.3 L891.9,1101.2 L889,1100 L888.6,1099.2 L887.5,1094.2 L886.9,1093 L886.2,1091.8 L883.4,1089.8 L883,1088.9 L882.4,1083.9 L881.9,1082.6 L881.3,1081.3 L878.6,1078.4 L878.2,1077.5 L878.2,1072.7 L877.8,1071.4 L877.3,1070 L874.7,1066.4 L874.5,1065.4 L874.9,1061.1 L874.6,1059.7 L874.3,1058.2 L872,1054.1 L871.8,1053.1 L872.8,1049.3 L872.6,1047.9 L872.4,1046.5 L870.4,1041.9 L870.3,1040.9 L871.7,1037.7 L871.7,1036.4 L871.7,1035 L870,1030.1 L870.1,1029.2 L871.9,1026.8 L872,1025.5 L872.1,1024.3 L870.9,1019.2 L871.1,1018.4 L873.3,1016.8 L873.5,1015.6 L873.7,1014.6 L873,1009.5 L873.3,1008.8 L875.7,1008.1 L876.1,1007.1 L876.5,1006.2 L876.3,1001.4 L876.6,1000.8 L879.3,1000.9 L879.8,1000.2 L880.3,999.5 L880.6,995 L881,994.6 L883.8,995.6 L884.4,995.1 L885,994.6 L885.8,990.6 L886.2,990.3 L889.1,992.2 L889.8,992 L890.4,991.7 L891.7,988.3 L892.2,988.2 L895,990.9 L895.7,990.9 L896.5,990.9 L898.2,988.2 L898.7,988.3 L901.4,991.8 L902.1,992 L902.9,992.3 L905,990.4 L905.6,990.6 L908,994.7 L908.8,995.2 L909.6,995.7 L912,994.6 L912.5,995.1 L914.6,999.6 L915.4,1000.3 L916.2,1001 L918.8,1000.9 L919.3,1001.5 L921,1006.3 L921.8,1007.3 L922.5,1008.2 L925.3,1009 L925.8,1009.7 L927.1,1014.7 L927.8,1015.8 L928.4,1016.9 L931.3,1018.6 L931.7,1019.4 L932.5,1024.4 L933.1,1025.7 L933.7,1026.9 L936.5,1029.4 L936.9,1030.3 L937.2,1035.2 L937.7,1036.5 L938.2,1037.9 L940.9,1041.1 L941.2,1042.1 L941,1046.6Z M930.7,1050.9 A22.8,45.6 -15 0 1 920.5,1100.8 A22.8,45.6 -15 0 1 886.7,1062.7 A22.8,45.6 -15 0 1 896.9,1012.8 A22.8,45.6 -15 0 1 930.7,1050.9Z" fill="#fff" stroke="#000" stroke-width="2.6" fill-rule="evenodd"/>
<path d="M898.7,1058.5 A33.8,65 -15 0 1 882.9,1130.1 A33.8,65 -15 0 1 833.4,1076 A33.8,65 -15 0 1 849.2,1004.5 A33.8,65 -15 0 1 898.7,1058.5Z M885.9,1062 L886.7,1062.9 L886.9,1064 L886.7,1065.1 L886.4,1066.2 L886.6,1067.3 L887.3,1068.3 L888,1069.4 L888.2,1070.5 L887.8,1071.5 L887.4,1072.4 L887.5,1073.5 L888.2,1074.7 L888.8,1075.9 L888.9,1077 L888.4,1077.8 L887.9,1078.5 L887.9,1079.5 L888.4,1080.8 L888.9,1082.1 L888.9,1083.1 L888.3,1083.7 L887.7,1084.3 L887.6,1085.2 L888,1086.6 L888.4,1088 L888.3,1088.9 L887.6,1089.3 L886.9,1089.6 L886.7,1090.4 L887,1091.8 L887.3,1093.2 L887.1,1094 L886.3,1094.2 L885.6,1094.3 L885.3,1095 L885.5,1096.4 L885.6,1097.8 L885.3,1098.5 L884.5,1098.4 L883.7,1098.2 L883.4,1098.8 L883.4,1100.2 L883.4,1101.5 L883,1102.1 L882.2,1101.7 L881.4,1101.4 L880.9,1101.8 L880.9,1103.1 L880.7,1104.3 L880.2,1104.7 L879.4,1104.1 L878.6,1103.5 L878.1,1103.8 L877.9,1105 L877.6,1106.1 L877.1,1106.3 L876.3,1105.5 L875.5,1104.7 L874.9,1104.8 L874.6,1105.8 L874.2,1106.8 L873.6,1106.8 L872.9,1105.9 L872.1,1104.9 L871.5,1104.8 L871.1,1105.7 L870.6,1106.5 L870,1106.3 L869.3,1105.2 L868.6,1104.1 L868,1103.8 L867.4,1104.5 L866.8,1105 L866.2,1104.7 L865.6,1103.5 L865,1102.2 L864.4,1101.8 L863.7,1102.2 L863.1,1102.6 L862.4,1102.1 L861.9,1100.7 L861.4,1099.4 L860.8,1098.8 L860.1,1099 L859.4,1099.2 L858.8,1098.5 L858.3,1097.1 L858,1095.7 L857.4,1095 L856.6,1095 L855.8,1094.9 L855.3,1094.1 L855,1092.7 L854.7,1091.3 L854.2,1090.5 L853.4,1090.2 L852.6,1089.8 L852.1,1088.9 L851.9,1087.5 L851.8,1086.1 L851.4,1085.2 L850.5,1084.7 L849.7,1084.2 L849.3,1083.2 L849.3,1081.8 L849.3,1080.5 L848.9,1079.5 L848.1,1078.8 L847.3,1078.1 L846.9,1077 L847.1,1075.8 L847.2,1074.5 L846.9,1073.5 L846.1,1072.6 L845.4,1071.7 L845.1,1070.6 L845.4,1069.4 L845.6,1068.3 L845.4,1067.3 L844.7,1066.2 L844,1065.1 L843.9,1064 L844.2,1063.1 L844.6,1062.1 L844.5,1061.1 L843.9,1059.9 L843.3,1058.7 L843.2,1057.6 L843.7,1056.8 L844.2,1056.1 L844.2,1055.1 L843.7,1053.8 L843.1,1052.4 L843.2,1051.4 L843.8,1050.8 L844.4,1050.3 L844.5,1049.4 L844,1048 L843.6,1046.6 L843.8,1045.7 L844.5,1045.3 L845.1,1045 L845.3,1044.2 L845,1042.8 L844.7,1041.3 L845,1040.5 L845.7,1040.4 L846.5,1040.3 L846.8,1039.6 L846.6,1038.2 L846.4,1036.8 L846.8,1036.1 L847.6,1036.2 L848.3,1036.3 L848.7,1035.7 L848.7,1034.4 L848.6,1033 L849.1,1032.5 L849.9,1032.8 L850.7,1033.2 L851.1,1032.8 L851.2,1031.5 L851.3,1030.3 L851.8,1029.9 L852.6,1030.4 L853.5,1031 L854,1030.8 L854.2,1029.6 L854.4,1028.5 L855,1028.3 L855.8,1029 L856.6,1029.8 L857.1,1029.7 L857.5,1028.7 L857.8,1027.7 L858.4,1027.7 L859.2,1028.7 L859.9,1029.6 L860.5,1029.7 L861,1028.9 L861.5,1028.1 L862.1,1028.3 L862.8,1029.4 L863.5,1030.5 L864.1,1030.7 L864.6,1030.1 L865.2,1029.5 L865.9,1029.9 L866.5,1031.1 L867.1,1032.4 L867.7,1032.8 L868.3,1032.3 L869,1032 L869.6,1032.5 L870.2,1033.8 L870.7,1035.2 L871.2,1035.7 L872,1035.5 L872.7,1035.4 L873.3,1036.1 L873.7,1037.5 L874.1,1038.8 L874.7,1039.5 L875.4,1039.6 L876.2,1039.7 L876.8,1040.5 L877.1,1041.9 L877.3,1043.3 L877.8,1044.1 L878.6,1044.4 L879.5,1044.7 L880,1045.6 L880.1,1047 L880.3,1048.4 L880.7,1049.3 L881.5,1049.8 L882.3,1050.4 L882.8,1051.4 L882.8,1052.7 L882.8,1054 L883.2,1055 L884,1055.7 L884.8,1056.5 L885.1,1057.5 L885,1058.8 L884.9,1060 L885.2,1061.1Z" fill="#000" stroke="#000" stroke-width="1" fill-rule="evenodd"/>
<path d="M896.7,1059.1 A33.8,65 -15 0 1 880.9,1130.6 A33.8,65 -15 0 1 831.5,1076.5 A33.8,65 -15 0 1 847.3,1005 A33.8,65 -15 0 1 896.7,1059.1Z M884,1062.5 L884.8,1063.4 L885,1064.5 L884.8,1065.6 L884.5,1066.7 L884.7,1067.8 L885.4,1068.8 L886.1,1070 L886.3,1071 L885.9,1072 L885.5,1073 L885.6,1074 L886.2,1075.2 L886.9,1076.4 L886.9,1077.5 L886.4,1078.3 L885.9,1079 L885.9,1080 L886.5,1081.3 L887,1082.7 L886.9,1083.7 L886.4,1084.3 L885.8,1084.8 L885.7,1085.7 L886.1,1087.1 L886.5,1088.5 L886.4,1089.4 L885.7,1089.8 L885,1090.1 L884.8,1090.9 L885.1,1092.3 L885.4,1093.8 L885.2,1094.6 L884.4,1094.7 L883.7,1094.8 L883.4,1095.5 L883.6,1096.9 L883.7,1098.3 L883.4,1099 L882.6,1098.9 L881.8,1098.8 L881.4,1099.3 L881.5,1100.7 L881.5,1102 L881.1,1102.6 L880.3,1102.2 L879.4,1101.9 L879,1102.3 L878.9,1103.6 L878.8,1104.8 L878.3,1105.2 L877.5,1104.7 L876.7,1104.1 L876.2,1104.3 L876,1105.5 L875.7,1106.6 L875.2,1106.8 L874.3,1106.1 L873.6,1105.3 L873,1105.4 L872.7,1106.4 L872.3,1107.3 L871.7,1107.3 L870.9,1106.4 L870.2,1105.4 L869.6,1105.4 L869.2,1106.2 L868.7,1107 L868,1106.8 L867.3,1105.7 L866.7,1104.6 L866.1,1104.3 L865.5,1105 L864.9,1105.6 L864.3,1105.2 L863.6,1104 L863.1,1102.7 L862.5,1102.3 L861.8,1102.7 L861.1,1103.1 L860.5,1102.6 L860,1101.3 L859.5,1099.9 L858.9,1099.4 L858.2,1099.6 L857.4,1099.7 L856.8,1099 L856.4,1097.6 L856,1096.2 L855.5,1095.5 L854.7,1095.5 L853.9,1095.4 L853.3,1094.6 L853.1,1093.2 L852.8,1091.8 L852.3,1091 L851.5,1090.7 L850.7,1090.4 L850.2,1089.5 L850,1088 L849.9,1086.7 L849.4,1085.8 L848.6,1085.3 L847.8,1084.7 L847.4,1083.7 L847.3,1082.4 L847.3,1081 L847,1080.1 L846.2,1079.4 L845.4,1078.6 L845,1077.5 L845.1,1076.3 L845.3,1075 L845,1074 L844.2,1073.1 L843.4,1072.2 L843.2,1071.1 L843.4,1070 L843.7,1068.9 L843.5,1067.8 L842.8,1066.8 L842.1,1065.6 L841.9,1064.6 L842.3,1063.6 L842.7,1062.6 L842.6,1061.6 L842,1060.4 L841.3,1059.2 L841.3,1058.1 L841.8,1057.3 L842.3,1056.6 L842.3,1055.6 L841.7,1054.3 L841.2,1052.9 L841.3,1051.9 L841.8,1051.3 L842.4,1050.8 L842.5,1049.9 L842.1,1048.5 L841.7,1047.1 L841.8,1046.2 L842.5,1045.8 L843.2,1045.5 L843.4,1044.7 L843.1,1043.3 L842.8,1041.8 L843,1041 L843.8,1040.9 L844.5,1040.8 L844.8,1040.1 L844.6,1038.7 L844.5,1037.3 L844.8,1036.6 L845.6,1036.7 L846.4,1036.8 L846.8,1036.3 L846.7,1034.9 L846.7,1033.6 L847.1,1033 L847.9,1033.4 L848.8,1033.7 L849.2,1033.3 L849.3,1032 L849.4,1030.8 L849.9,1030.4 L850.7,1030.9 L851.5,1031.5 L852,1031.3 L852.2,1030.1 L852.5,1029 L853,1028.8 L853.9,1029.5 L854.6,1030.3 L855.2,1030.2 L855.5,1029.2 L855.9,1028.3 L856.5,1028.3 L857.3,1029.2 L858,1030.2 L858.6,1030.2 L859,1029.4 L859.5,1028.6 L860.2,1028.8 L860.9,1029.9 L861.5,1031 L862.1,1031.3 L862.7,1030.6 L863.3,1030 L863.9,1030.4 L864.6,1031.6 L865.1,1032.9 L865.7,1033.3 L866.4,1032.9 L867.1,1032.5 L867.7,1033 L868.2,1034.3 L868.7,1035.7 L869.3,1036.2 L870,1036 L870.8,1035.9 L871.4,1036.6 L871.8,1038 L872.2,1039.4 L872.7,1040.1 L873.5,1040.1 L874.3,1040.2 L874.9,1041 L875.1,1042.4 L875.4,1043.8 L875.9,1044.6 L876.7,1044.9 L877.5,1045.2 L878,1046.1 L878.2,1047.6 L878.3,1048.9 L878.8,1049.8 L879.6,1050.3 L880.4,1050.9 L880.8,1051.9 L880.9,1053.2 L880.9,1054.6 L881.2,1055.5 L882,1056.2 L882.8,1057 L883.2,1058.1 L883.1,1059.3 L882.9,1060.6 L883.2,1061.6Z" fill="#000" stroke="#000" stroke-width="1" fill-rule="evenodd"/>
<path d="M859.5,1070 L859.9,1071.4 L862.3,1075.3 L862.6,1076.2 L861.8,1080.4 L862.1,1081.8 L862.3,1083.2 L864.5,1087.6 L864.6,1088.6 L863.4,1092.1 L863.6,1093.5 L863.7,1094.9 L865.5,1099.6 L865.5,1100.6 L863.9,1103.4 L863.8,1104.7 L863.8,1106 L865.2,1111 L865.1,1111.9 L863.1,1113.9 L862.9,1115.1 L862.8,1116.3 L863.7,1121.3 L863.5,1122.1 L861.2,1123.3 L860.9,1124.3 L860.6,1125.3 L861,1130.3 L860.7,1130.9 L858.2,1131.2 L857.7,1132.1 L857.3,1132.9 L857.2,1137.6 L856.9,1138.1 L854.1,1137.5 L853.6,1138.1 L853,1138.7 L852.5,1143 L852,1143.4 L849.2,1141.9 L848.6,1142.3 L847.9,1142.6 L846.9,1146.4 L846.4,1146.5 L843.6,1144.2 L842.9,1144.4 L842.1,1144.5 L840.6,1147.5 L840.1,1147.5 L837.4,1144.5 L836.6,1144.3 L835.9,1144.2 L834,1146.5 L833.4,1146.3 L830.9,1142.6 L830.1,1142.2 L829.3,1141.8 L827.1,1143.3 L826.5,1142.9 L824.3,1138.7 L823.5,1138 L822.7,1137.4 L820.1,1138 L819.6,1137.5 L817.7,1132.8 L816.9,1132 L816.2,1131.1 L813.5,1130.8 L812.9,1130.2 L811.4,1125.2 L810.7,1124.2 L810,1123.2 L807.2,1121.9 L806.7,1121.2 L805.7,1116.1 L805,1114.9 L804.4,1113.8 L801.6,1111.7 L801.1,1110.8 L800.6,1105.8 L800,1104.5 L799.5,1103.2 L796.7,1100.4 L796.4,1099.4 L796.3,1094.7 L795.9,1093.3 L795.5,1091.9 L792.9,1088.4 L792.6,1087.4 L793.1,1083 L792.8,1081.6 L792.5,1080.2 L790.1,1076 L789.9,1075.1 L790.9,1071.2 L790.7,1069.8 L790.6,1068.4 L788.5,1063.8 L788.5,1062.8 L789.9,1059.6 L789.8,1058.3 L789.8,1056.9 L788.2,1052.1 L788.2,1051.1 L790,1048.7 L790.1,1047.4 L790.3,1046.2 L789.1,1041.2 L789.2,1040.3 L791.4,1038.7 L791.6,1037.6 L791.9,1036.5 L791.2,1031.5 L791.4,1030.8 L793.9,1030 L794.3,1029.1 L794.6,1028.1 L794.4,1023.3 L794.8,1022.7 L797.4,1022.9 L797.9,1022.1 L798.4,1021.4 L798.7,1016.9 L799.1,1016.5 L801.9,1017.5 L802.5,1017 L803.1,1016.5 L803.9,1012.5 L804.4,1012.3 L807.2,1014.2 L807.9,1013.9 L808.6,1013.7 L809.9,1010.2 L810.4,1010.2 L813.1,1012.9 L813.9,1012.9 L814.6,1012.9 L816.4,1010.2 L816.9,1010.3 L819.5,1013.7 L820.3,1013.9 L821.1,1014.2 L823.2,1012.3 L823.7,1012.6 L826.1,1016.6 L826.9,1017.1 L827.7,1017.6 L830.1,1016.6 L830.7,1017 L832.7,1021.5 L833.5,1022.2 L834.3,1023 L836.9,1022.8 L837.5,1023.4 L839.2,1028.3 L839.9,1029.2 L840.7,1030.1 L843.4,1030.9 L843.9,1031.6 L845.2,1036.6 L845.9,1037.7 L846.6,1038.9 L849.4,1040.5 L849.9,1041.3 L850.7,1046.4 L851.3,1047.6 L851.9,1048.9 L854.7,1051.3 L855,1052.2 L855.3,1057.1 L855.8,1058.5 L856.3,1059.8 L859,1063 L859.3,1064 L859.1,1068.6Z M848.9,1072.8 A22.8,45.6 -15 0 1 838.6,1122.8 A22.8,45.6 -15 0 1 804.8,1084.6 A22.8,45.6 -15 0 1 815,1034.7 A22.8,45.6 -15 0 1 848.9,1072.8Z" fill="#fff" stroke="#000" stroke-width="2.6" fill-rule="evenodd"/>
<path d="M857.9,1070.4 L858.3,1071.8 L860.8,1075.7 L861,1076.7 L860.3,1080.8 L860.5,1082.2 L860.8,1083.6 L863,1088 L863.1,1089 L861.9,1092.5 L862,1093.9 L862.1,1095.3 L863.9,1100 L864,1101 L862.3,1103.8 L862.3,1105.1 L862.3,1106.4 L863.7,1111.4 L863.6,1112.3 L861.6,1114.3 L861.4,1115.5 L861.2,1116.7 L862.2,1121.7 L862,1122.5 L859.6,1123.7 L859.3,1124.7 L859,1125.8 L859.5,1130.7 L859.2,1131.4 L856.6,1131.7 L856.2,1132.5 L855.7,1133.3 L855.7,1138 L855.3,1138.5 L852.6,1137.9 L852,1138.5 L851.5,1139.1 L850.9,1143.4 L850.5,1143.8 L847.7,1142.3 L847,1142.7 L846.4,1143 L845.3,1146.8 L844.8,1147 L842,1144.6 L841.3,1144.8 L840.6,1144.9 L839.1,1148 L838.6,1148 L835.9,1144.9 L835.1,1144.8 L834.3,1144.6 L832.4,1146.9 L831.9,1146.7 L829.4,1143 L828.6,1142.6 L827.8,1142.2 L825.5,1143.7 L825,1143.4 L822.7,1139.1 L821.9,1138.5 L821.1,1137.8 L818.6,1138.4 L818.1,1137.9 L816.2,1133.2 L815.4,1132.4 L814.6,1131.5 L811.9,1131.2 L811.4,1130.6 L809.9,1125.6 L809.2,1124.6 L808.5,1123.6 L805.6,1122.4 L805.2,1121.6 L804.1,1116.5 L803.5,1115.4 L802.8,1114.2 L800,1112.1 L799.6,1111.2 L799,1106.3 L798.5,1105 L797.9,1103.6 L795.2,1100.8 L794.8,1099.8 L794.8,1095.1 L794.4,1093.7 L793.9,1092.3 L791.3,1088.8 L791.1,1087.8 L791.5,1083.4 L791.2,1082 L790.9,1080.6 L788.6,1076.5 L788.4,1075.5 L789.4,1071.6 L789.2,1070.2 L789,1068.8 L787,1064.2 L786.9,1063.3 L788.3,1060.1 L788.3,1058.7 L788.3,1057.4 L786.6,1052.5 L786.7,1051.6 L788.5,1049.1 L788.6,1047.8 L788.7,1046.6 L787.5,1041.6 L787.7,1040.8 L789.9,1039.1 L790.1,1038 L790.3,1036.9 L789.6,1031.9 L789.9,1031.2 L792.3,1030.4 L792.7,1029.5 L793.1,1028.6 L792.9,1023.7 L793.2,1023.1 L795.9,1023.3 L796.4,1022.5 L796.9,1021.8 L797.2,1017.3 L797.6,1016.9 L800.4,1017.9 L801,1017.4 L801.6,1017 L802.4,1012.9 L802.8,1012.7 L805.7,1014.6 L806.4,1014.3 L807,1014.1 L808.3,1010.7 L808.8,1010.6 L811.6,1013.3 L812.3,1013.3 L813.1,1013.3 L814.8,1010.6 L815.3,1010.7 L818,1014.1 L818.7,1014.3 L819.5,1014.6 L821.6,1012.7 L822.2,1013 L824.6,1017 L825.4,1017.5 L826.2,1018 L828.6,1017 L829.1,1017.4 L831.2,1021.9 L832,1022.6 L832.8,1023.4 L835.4,1023.3 L835.9,1023.8 L837.6,1028.7 L838.4,1029.6 L839.1,1030.5 L841.9,1031.3 L842.4,1032 L843.7,1037 L844.4,1038.1 L845,1039.3 L847.9,1040.9 L848.3,1041.7 L849.1,1046.8 L849.7,1048 L850.3,1049.3 L853.1,1051.7 L853.5,1052.7 L853.8,1057.5 L854.3,1058.9 L854.8,1060.2 L857.5,1063.5 L857.8,1064.4 L857.6,1069Z M847.3,1073.2 A22.8,45.6 -15 0 1 837.1,1123.2 A22.8,45.6 -15 0 1 803.3,1085.1 A22.8,45.6 -15 0 1 813.5,1035.1 A22.8,45.6 -15 0 1 847.3,1073.2Z" fill="#fff" stroke="#000" stroke-width="2.6" fill-rule="evenodd"/>
<path d="M815.3,1080.9 A33.8,65 -15 0 1 799.5,1152.4 A33.8,65 -15 0 1 750,1098.4 A33.8,65 -15 0 1 765.8,1026.8 A33.8,65 -15 0 1 815.3,1080.9Z M802.5,1084.3 L803.3,1085.3 L803.5,1086.3 L803.3,1087.5 L803,1088.6 L803.2,1089.6 L803.9,1090.7 L804.6,1091.8 L804.8,1092.9 L804.4,1093.9 L804,1094.8 L804.1,1095.8 L804.8,1097 L805.4,1098.3 L805.5,1099.3 L805,1100.1 L804.5,1100.9 L804.5,1101.8 L805,1103.2 L805.5,1104.5 L805.5,1105.5 L804.9,1106.1 L804.3,1106.6 L804.2,1107.5 L804.6,1108.9 L805,1110.3 L804.9,1111.2 L804.2,1111.6 L803.5,1111.9 L803.3,1112.8 L803.6,1114.2 L803.9,1115.6 L803.7,1116.4 L802.9,1116.5 L802.2,1116.6 L801.9,1117.3 L802.1,1118.7 L802.2,1120.1 L801.9,1120.8 L801.1,1120.7 L800.3,1120.6 L800,1121.2 L800,1122.5 L800,1123.9 L799.6,1124.4 L798.8,1124.1 L798,1123.7 L797.5,1124.1 L797.5,1125.4 L797.3,1126.7 L796.8,1127 L796,1126.5 L795.2,1125.9 L794.7,1126.2 L794.5,1127.3 L794.2,1128.4 L793.7,1128.6 L792.9,1127.9 L792.1,1127.1 L791.5,1127.2 L791.2,1128.2 L790.8,1129.2 L790.2,1129.2 L789.5,1128.2 L788.7,1127.3 L788.1,1127.2 L787.7,1128 L787.2,1128.8 L786.6,1128.6 L785.9,1127.5 L785.2,1126.4 L784.6,1126.2 L784,1126.8 L783.4,1127.4 L782.8,1127 L782.2,1125.8 L781.6,1124.6 L781,1124.2 L780.3,1124.6 L779.7,1124.9 L779,1124.4 L778.5,1123.1 L778,1121.8 L777.4,1121.2 L776.7,1121.4 L776,1121.5 L775.4,1120.9 L774.9,1119.5 L774.6,1118.1 L774,1117.4 L773.2,1117.3 L772.4,1117.2 L771.9,1116.4 L771.6,1115 L771.3,1113.6 L770.8,1112.8 L770,1112.5 L769.2,1112.2 L768.7,1111.3 L768.5,1109.9 L768.4,1108.5 L768,1107.6 L767.1,1107.1 L766.3,1106.5 L765.9,1105.5 L765.9,1104.2 L765.9,1102.9 L765.5,1101.9 L764.7,1101.2 L763.9,1100.4 L763.5,1099.4 L763.7,1098.1 L763.8,1096.9 L763.5,1095.9 L762.7,1095 L762,1094 L761.7,1092.9 L762,1091.8 L762.2,1090.7 L762,1089.7 L761.3,1088.6 L760.6,1087.5 L760.5,1086.4 L760.8,1085.4 L761.2,1084.5 L761.1,1083.5 L760.5,1082.3 L759.9,1081 L759.8,1079.9 L760.3,1079.1 L760.8,1078.4 L760.8,1077.4 L760.3,1076.1 L759.7,1074.8 L759.8,1073.8 L760.4,1073.2 L761,1072.6 L761.1,1071.7 L760.6,1070.3 L760.2,1068.9 L760.4,1068 L761.1,1067.6 L761.7,1067.3 L761.9,1066.5 L761.6,1065.1 L761.3,1063.7 L761.6,1062.9 L762.3,1062.7 L763.1,1062.6 L763.4,1061.9 L763.2,1060.5 L763,1059.1 L763.4,1058.4 L764.2,1058.5 L764.9,1058.7 L765.3,1058.1 L765.3,1056.7 L765.2,1055.4 L765.7,1054.9 L766.5,1055.2 L767.3,1055.6 L767.7,1055.1 L767.8,1053.9 L767.9,1052.6 L768.4,1052.2 L769.2,1052.8 L770.1,1053.4 L770.6,1053.1 L770.8,1052 L771,1050.8 L771.6,1050.6 L772.4,1051.4 L773.2,1052.2 L773.7,1052.1 L774.1,1051.1 L774.4,1050.1 L775,1050.1 L775.8,1051 L776.5,1052 L777.1,1052.1 L777.6,1051.2 L778.1,1050.5 L778.7,1050.6 L779.4,1051.7 L780.1,1052.8 L780.7,1053.1 L781.2,1052.5 L781.8,1051.9 L782.5,1052.2 L783.1,1053.5 L783.7,1054.7 L784.3,1055.1 L784.9,1054.7 L785.6,1054.3 L786.2,1054.8 L786.8,1056.2 L787.3,1057.5 L787.8,1058.1 L788.6,1057.9 L789.3,1057.7 L789.9,1058.4 L790.3,1059.8 L790.7,1061.2 L791.3,1061.9 L792,1061.9 L792.8,1062 L793.4,1062.8 L793.7,1064.2 L793.9,1065.7 L794.4,1066.5 L795.2,1066.7 L796.1,1067.1 L796.6,1068 L796.7,1069.4 L796.9,1070.8 L797.3,1071.7 L798.1,1072.2 L798.9,1072.7 L799.4,1073.7 L799.4,1075.1 L799.4,1076.4 L799.8,1077.4 L800.6,1078.1 L801.4,1078.8 L801.7,1079.9 L801.6,1081.2 L801.5,1082.4 L801.8,1083.4Z" fill="#000" stroke="#000" stroke-width="1" fill-rule="evenodd"/>
<path d="M813.3,1081.4 A33.8,65 -15 0 1 797.5,1152.9 A33.8,65 -15 0 1 748.1,1098.9 A33.8,65 -15 0 1 763.9,1027.4 A33.8,65 -15 0 1 813.3,1081.4Z M800.6,1084.8 L801.4,1085.8 L801.6,1086.9 L801.4,1088 L801.1,1089.1 L801.3,1090.1 L802,1091.2 L802.7,1092.3 L802.9,1093.4 L802.5,1094.4 L802.1,1095.3 L802.2,1096.3 L802.8,1097.5 L803.5,1098.8 L803.5,1099.8 L803,1100.6 L802.5,1101.4 L802.5,1102.4 L803.1,1103.7 L803.6,1105 L803.5,1106 L803,1106.6 L802.4,1107.1 L802.3,1108.1 L802.7,1109.4 L803.1,1110.8 L803,1111.8 L802.3,1112.1 L801.6,1112.5 L801.4,1113.3 L801.7,1114.7 L802,1116.1 L801.8,1116.9 L801,1117.1 L800.3,1117.1 L800,1117.9 L800.2,1119.3 L800.3,1120.7 L800,1121.3 L799.2,1121.3 L798.4,1121.1 L798,1121.7 L798.1,1123 L798.1,1124.4 L797.7,1124.9 L796.9,1124.6 L796,1124.2 L795.6,1124.7 L795.5,1125.9 L795.4,1127.2 L794.9,1127.5 L794.1,1127 L793.3,1126.4 L792.8,1126.7 L792.6,1127.8 L792.3,1129 L791.8,1129.2 L790.9,1128.4 L790.2,1127.6 L789.6,1127.7 L789.3,1128.7 L788.9,1129.7 L788.3,1129.7 L787.5,1128.8 L786.8,1127.8 L786.2,1127.7 L785.8,1128.5 L785.3,1129.3 L784.6,1129.2 L783.9,1128.1 L783.3,1126.9 L782.7,1126.7 L782.1,1127.3 L781.5,1127.9 L780.9,1127.6 L780.2,1126.3 L779.7,1125.1 L779.1,1124.7 L778.4,1125.1 L777.7,1125.4 L777.1,1124.9 L776.6,1123.6 L776.1,1122.3 L775.5,1121.7 L774.8,1121.9 L774,1122 L773.4,1121.4 L773,1120 L772.6,1118.6 L772.1,1117.9 L771.3,1117.8 L770.5,1117.7 L769.9,1117 L769.7,1115.5 L769.4,1114.1 L768.9,1113.3 L768.1,1113 L767.3,1112.7 L766.8,1111.8 L766.6,1110.4 L766.5,1109 L766,1108.1 L765.2,1107.6 L764.4,1107.1 L764,1106.1 L763.9,1104.7 L763.9,1103.4 L763.6,1102.4 L762.8,1101.7 L762,1100.9 L761.6,1099.9 L761.7,1098.6 L761.9,1097.4 L761.6,1096.4 L760.8,1095.5 L760,1094.5 L759.8,1093.4 L760,1092.3 L760.3,1091.2 L760.1,1090.2 L759.4,1089.1 L758.7,1088 L758.5,1086.9 L758.9,1085.9 L759.3,1085 L759.2,1084 L758.6,1082.8 L757.9,1081.5 L757.9,1080.5 L758.4,1079.7 L758.9,1078.9 L758.9,1077.9 L758.3,1076.6 L757.8,1075.3 L757.9,1074.3 L758.4,1073.7 L759,1073.2 L759.1,1072.2 L758.7,1070.9 L758.3,1069.5 L758.4,1068.5 L759.1,1068.2 L759.8,1067.8 L760,1067 L759.7,1065.6 L759.4,1064.2 L759.6,1063.4 L760.4,1063.2 L761.1,1063.2 L761.4,1062.4 L761.2,1061 L761.1,1059.6 L761.4,1059 L762.2,1059 L763,1059.2 L763.4,1058.6 L763.3,1057.3 L763.3,1055.9 L763.7,1055.4 L764.5,1055.7 L765.4,1056.1 L765.8,1055.6 L765.9,1054.4 L766,1053.1 L766.5,1052.8 L767.3,1053.3 L768.1,1053.9 L768.6,1053.6 L768.8,1052.5 L769.1,1051.3 L769.6,1051.1 L770.5,1051.9 L771.2,1052.7 L771.8,1052.6 L772.1,1051.6 L772.5,1050.6 L773.1,1050.6 L773.9,1051.5 L774.6,1052.5 L775.2,1052.6 L775.6,1051.8 L776.1,1051 L776.8,1051.1 L777.5,1052.2 L778.1,1053.4 L778.7,1053.6 L779.3,1053 L779.9,1052.4 L780.5,1052.7 L781.2,1054 L781.7,1055.2 L782.3,1055.6 L783,1055.2 L783.7,1054.9 L784.3,1055.4 L784.8,1056.7 L785.3,1058 L785.9,1058.6 L786.6,1058.4 L787.4,1058.3 L788,1058.9 L788.4,1060.3 L788.8,1061.7 L789.3,1062.4 L790.1,1062.5 L790.9,1062.6 L791.5,1063.3 L791.7,1064.8 L792,1066.2 L792.5,1067 L793.3,1067.3 L794.1,1067.6 L794.6,1068.5 L794.8,1069.9 L794.9,1071.3 L795.4,1072.2 L796.2,1072.7 L797,1073.2 L797.4,1074.2 L797.5,1075.6 L797.5,1076.9 L797.8,1077.9 L798.6,1078.6 L799.4,1079.4 L799.8,1080.4 L799.7,1081.7 L799.5,1082.9 L799.8,1083.9Z" fill="#000" stroke="#000" stroke-width="1" fill-rule="evenodd"/>
<path d="M776.1,1092.3 L776.5,1093.7 L778.9,1097.6 L779.2,1098.6 L778.4,1102.7 L778.7,1104.1 L778.9,1105.6 L781.1,1109.9 L781.2,1110.9 L780,1114.5 L780.2,1115.8 L780.3,1117.2 L782.1,1122 L782.1,1122.9 L780.5,1125.8 L780.4,1127.1 L780.4,1128.4 L781.8,1133.3 L781.7,1134.2 L779.7,1136.3 L779.5,1137.5 L779.4,1138.6 L780.3,1143.7 L780.1,1144.4 L777.8,1145.6 L777.5,1146.7 L777.2,1147.7 L777.6,1152.6 L777.3,1153.3 L774.8,1153.6 L774.3,1154.4 L773.9,1155.3 L773.8,1159.9 L773.5,1160.5 L770.7,1159.9 L770.2,1160.5 L769.6,1161.1 L769.1,1165.4 L768.6,1165.7 L765.8,1164.2 L765.2,1164.6 L764.5,1165 L763.5,1168.7 L763,1168.9 L760.2,1166.6 L759.5,1166.7 L758.7,1166.8 L757.2,1169.9 L756.7,1169.9 L754,1166.8 L753.2,1166.7 L752.5,1166.5 L750.6,1168.9 L750,1168.7 L747.5,1164.9 L746.7,1164.6 L745.9,1164.2 L743.7,1165.6 L743.1,1165.3 L740.9,1161 L740.1,1160.4 L739.3,1159.8 L736.7,1160.4 L736.2,1159.8 L734.3,1155.2 L733.5,1154.3 L732.8,1153.5 L730.1,1153.2 L729.5,1152.5 L728,1147.6 L727.3,1146.5 L726.6,1145.5 L723.8,1144.3 L723.3,1143.5 L722.3,1138.5 L721.6,1137.3 L721,1136.1 L718.2,1134 L717.7,1133.2 L717.2,1128.2 L716.6,1126.9 L716.1,1125.6 L713.3,1122.7 L713,1121.8 L712.9,1117 L712.5,1115.7 L712.1,1114.3 L709.5,1110.7 L709.2,1109.7 L709.7,1105.4 L709.4,1103.9 L709.1,1102.5 L706.7,1098.4 L706.5,1097.4 L707.5,1093.6 L707.3,1092.1 L707.2,1090.7 L705.1,1086.2 L705.1,1085.2 L706.5,1082 L706.4,1080.6 L706.4,1079.3 L704.8,1074.4 L704.8,1073.5 L706.6,1071 L706.7,1069.8 L706.9,1068.5 L705.7,1063.5 L705.8,1062.7 L708,1061.1 L708.2,1059.9 L708.5,1058.8 L707.8,1053.8 L708,1053.1 L710.5,1052.4 L710.9,1051.4 L711.2,1050.5 L711,1045.7 L711.4,1045.1 L714,1045.2 L714.5,1044.5 L715,1043.8 L715.3,1039.3 L715.7,1038.8 L718.5,1039.9 L719.1,1039.4 L719.7,1038.9 L720.5,1034.9 L721,1034.6 L723.8,1036.5 L724.5,1036.2 L725.2,1036 L726.5,1032.6 L727,1032.5 L729.7,1035.2 L730.5,1035.2 L731.2,1035.2 L733,1032.5 L733.5,1032.6 L736.1,1036 L736.9,1036.3 L737.7,1036.6 L739.8,1034.7 L740.3,1034.9 L742.7,1039 L743.5,1039.4 L744.3,1040 L746.7,1038.9 L747.3,1039.4 L749.3,1043.9 L750.1,1044.6 L750.9,1045.3 L753.5,1045.2 L754.1,1045.8 L755.8,1050.6 L756.5,1051.5 L757.3,1052.5 L760,1053.3 L760.5,1054 L761.8,1059 L762.5,1060.1 L763.2,1061.2 L766,1062.9 L766.5,1063.7 L767.3,1068.7 L767.9,1070 L768.5,1071.2 L771.3,1073.7 L771.6,1074.6 L771.9,1079.5 L772.4,1080.8 L772.9,1082.2 L775.6,1085.4 L775.9,1086.4 L775.7,1090.9Z M765.5,1095.2 A22.8,45.6 -15 0 1 755.2,1145.1 A22.8,45.6 -15 0 1 721.4,1107 A22.8,45.6 -15 0 1 731.6,1057 A22.8,45.6 -15 0 1 765.5,1095.2Z" fill="#fff" stroke="#000" stroke-width="2.6" fill-rule="evenodd"/>
<path d="M774.5,1092.8 L774.9,1094.2 L777.4,1098 L777.6,1099 L776.9,1103.1 L777.1,1104.6 L777.4,1106 L779.6,1110.3 L779.7,1111.3 L778.5,1114.9 L778.6,1116.3 L778.7,1117.6 L780.5,1122.4 L780.6,1123.3 L778.9,1126.2 L778.9,1127.5 L778.9,1128.8 L780.3,1133.8 L780.2,1134.6 L778.2,1136.7 L778,1137.9 L777.8,1139 L778.8,1144.1 L778.6,1144.9 L776.2,1146.1 L775.9,1147.1 L775.6,1148.1 L776.1,1153.1 L775.8,1153.7 L773.2,1154 L772.8,1154.9 L772.3,1155.7 L772.3,1160.4 L771.9,1160.9 L769.2,1160.3 L768.6,1160.9 L768.1,1161.5 L767.5,1165.8 L767.1,1166.1 L764.3,1164.6 L763.6,1165 L763,1165.4 L761.9,1169.1 L761.4,1169.3 L758.6,1167 L757.9,1167.1 L757.2,1167.2 L755.7,1170.3 L755.2,1170.3 L752.5,1167.2 L751.7,1167.1 L750.9,1167 L749,1169.3 L748.5,1169.1 L746,1165.3 L745.2,1165 L744.4,1164.6 L742.1,1166.1 L741.6,1165.7 L739.3,1161.4 L738.5,1160.8 L737.7,1160.2 L735.2,1160.8 L734.7,1160.3 L732.8,1155.6 L732,1154.7 L731.2,1153.9 L728.5,1153.6 L728,1152.9 L726.5,1148 L725.8,1147 L725.1,1145.9 L722.2,1144.7 L721.8,1143.9 L720.7,1138.9 L720.1,1137.7 L719.4,1136.5 L716.6,1134.5 L716.2,1133.6 L715.6,1128.6 L715.1,1127.3 L714.5,1126 L711.8,1123.1 L711.4,1122.2 L711.4,1117.4 L711,1116.1 L710.5,1114.7 L707.9,1111.1 L707.7,1110.1 L708.1,1105.8 L707.8,1104.4 L707.5,1102.9 L705.2,1098.8 L705,1097.8 L706,1094 L705.8,1092.6 L705.6,1091.2 L703.6,1086.6 L703.5,1085.6 L704.9,1082.4 L704.9,1081.1 L704.9,1079.7 L703.2,1074.8 L703.3,1073.9 L705.1,1071.5 L705.2,1070.2 L705.3,1069 L704.1,1063.9 L704.3,1063.1 L706.5,1061.5 L706.7,1060.3 L706.9,1059.3 L706.2,1054.2 L706.5,1053.5 L708.9,1052.8 L709.3,1051.8 L709.7,1050.9 L709.5,1046.1 L709.8,1045.5 L712.5,1045.6 L713,1044.9 L713.5,1044.2 L713.8,1039.7 L714.2,1039.3 L717,1040.3 L717.6,1039.8 L718.2,1039.3 L719,1035.3 L719.4,1035 L722.3,1036.9 L723,1036.7 L723.6,1036.4 L724.9,1033 L725.4,1032.9 L728.2,1035.6 L728.9,1035.6 L729.7,1035.6 L731.4,1032.9 L731.9,1033 L734.6,1036.5 L735.3,1036.7 L736.1,1037 L738.2,1035.1 L738.8,1035.3 L741.2,1039.4 L742,1039.9 L742.8,1040.4 L745.2,1039.3 L745.7,1039.8 L747.8,1044.3 L748.6,1045 L749.4,1045.7 L752,1045.6 L752.5,1046.2 L754.2,1051 L755,1052 L755.7,1052.9 L758.5,1053.7 L759,1054.4 L760.3,1059.4 L761,1060.5 L761.6,1061.6 L764.5,1063.3 L764.9,1064.1 L765.7,1069.1 L766.3,1070.4 L766.9,1071.6 L769.7,1074.1 L770.1,1075 L770.4,1079.9 L770.9,1081.2 L771.4,1082.6 L774.1,1085.8 L774.4,1086.8 L774.2,1091.3Z M763.9,1095.6 A22.8,45.6 -15 0 1 753.7,1145.5 A22.8,45.6 -15 0 1 719.9,1107.4 A22.8,45.6 -15 0 1 730.1,1057.5 A22.8,45.6 -15 0 1 763.9,1095.6Z" fill="#fff" stroke="#000" stroke-width="2.6" fill-rule="evenodd"/>
<path d="M731.9,1103.2 A33.8,65 -15 0 1 716.1,1174.8 A33.8,65 -15 0 1 666.6,1120.7 A33.8,65 -15 0 1 682.4,1049.2 A33.8,65 -15 0 1 731.9,1103.2Z M719.1,1106.7 L719.9,1107.6 L720.1,1108.7 L719.9,1109.8 L719.6,1110.9 L719.8,1112 L720.5,1113 L721.2,1114.1 L721.4,1115.2 L721,1116.2 L720.6,1117.1 L720.7,1118.2 L721.4,1119.4 L722,1120.6 L722.1,1121.7 L721.6,1122.5 L721.1,1123.2 L721.1,1124.2 L721.6,1125.5 L722.1,1126.8 L722.1,1127.8 L721.5,1128.4 L720.9,1129 L720.8,1129.9 L721.2,1131.3 L721.6,1132.7 L721.5,1133.6 L720.8,1134 L720.1,1134.3 L719.9,1135.1 L720.2,1136.5 L720.5,1137.9 L720.3,1138.7 L719.5,1138.9 L718.8,1139 L718.5,1139.7 L718.7,1141.1 L718.8,1142.5 L718.5,1143.2 L717.7,1143.1 L716.9,1142.9 L716.6,1143.5 L716.6,1144.9 L716.6,1146.2 L716.2,1146.8 L715.4,1146.4 L714.6,1146.1 L714.1,1146.5 L714.1,1147.8 L713.9,1149 L713.4,1149.4 L712.6,1148.8 L711.8,1148.2 L711.3,1148.5 L711.1,1149.7 L710.8,1150.8 L710.3,1151 L709.5,1150.2 L708.7,1149.4 L708.1,1149.5 L707.8,1150.5 L707.4,1151.5 L706.8,1151.5 L706.1,1150.6 L705.3,1149.6 L704.7,1149.5 L704.3,1150.4 L703.8,1151.2 L703.2,1151 L702.5,1149.9 L701.8,1148.8 L701.2,1148.5 L700.6,1149.2 L700,1149.7 L699.4,1149.4 L698.8,1148.2 L698.2,1146.9 L697.6,1146.5 L696.9,1146.9 L696.3,1147.3 L695.6,1146.8 L695.1,1145.4 L694.6,1144.1 L694,1143.5 L693.3,1143.7 L692.6,1143.9 L692,1143.2 L691.5,1141.8 L691.2,1140.4 L690.6,1139.7 L689.8,1139.7 L689,1139.6 L688.5,1138.8 L688.2,1137.4 L687.9,1136 L687.4,1135.2 L686.6,1134.9 L685.8,1134.5 L685.3,1133.6 L685.1,1132.2 L685,1130.8 L684.6,1129.9 L683.7,1129.4 L682.9,1128.9 L682.5,1127.9 L682.5,1126.5 L682.5,1125.2 L682.1,1124.2 L681.3,1123.5 L680.5,1122.8 L680.1,1121.7 L680.3,1120.5 L680.4,1119.2 L680.1,1118.2 L679.3,1117.3 L678.6,1116.4 L678.3,1115.3 L678.6,1114.1 L678.8,1113 L678.6,1112 L677.9,1110.9 L677.2,1109.8 L677.1,1108.7 L677.4,1107.8 L677.8,1106.8 L677.7,1105.8 L677.1,1104.6 L676.5,1103.4 L676.4,1102.3 L676.9,1101.5 L677.4,1100.8 L677.4,1099.8 L676.9,1098.5 L676.3,1097.1 L676.4,1096.1 L677,1095.5 L677.6,1095 L677.7,1094.1 L677.2,1092.7 L676.8,1091.3 L677,1090.4 L677.7,1090 L678.3,1089.7 L678.5,1088.9 L678.2,1087.5 L677.9,1086 L678.2,1085.2 L678.9,1085.1 L679.7,1085 L680,1084.3 L679.8,1082.9 L679.6,1081.5 L680,1080.8 L680.8,1080.9 L681.5,1081 L681.9,1080.4 L681.9,1079.1 L681.8,1077.7 L682.3,1077.2 L683.1,1077.5 L683.9,1077.9 L684.3,1077.5 L684.4,1076.2 L684.5,1075 L685,1074.6 L685.8,1075.1 L686.7,1075.7 L687.2,1075.5 L687.4,1074.3 L687.6,1073.2 L688.2,1073 L689,1073.7 L689.8,1074.5 L690.3,1074.4 L690.7,1073.4 L691,1072.4 L691.6,1072.4 L692.4,1073.4 L693.1,1074.3 L693.7,1074.4 L694.2,1073.6 L694.7,1072.8 L695.3,1073 L696,1074.1 L696.7,1075.2 L697.3,1075.4 L697.8,1074.8 L698.4,1074.2 L699.1,1074.6 L699.7,1075.8 L700.3,1077.1 L700.9,1077.5 L701.5,1077 L702.2,1076.7 L702.8,1077.2 L703.4,1078.5 L703.9,1079.9 L704.4,1080.4 L705.2,1080.2 L705.9,1080.1 L706.5,1080.8 L706.9,1082.2 L707.3,1083.5 L707.9,1084.2 L708.6,1084.3 L709.4,1084.4 L710,1085.2 L710.3,1086.6 L710.5,1088 L711,1088.8 L711.8,1089.1 L712.7,1089.4 L713.2,1090.3 L713.3,1091.7 L713.5,1093.1 L713.9,1094 L714.7,1094.5 L715.5,1095.1 L716,1096.1 L716,1097.4 L716,1098.7 L716.4,1099.7 L717.2,1100.4 L718,1101.2 L718.3,1102.2 L718.2,1103.5 L718.1,1104.7 L718.4,1105.8Z" fill="#000" stroke="#000" stroke-width="1" fill-rule="evenodd"/>
<path d="M729.9,1103.8 A33.8,65 -15 0 1 714.1,1175.3 A33.8,65 -15 0 1 664.7,1121.2 A33.8,65 -15 0 1 680.5,1049.7 A33.8,65 -15 0 1 729.9,1103.8Z M717.2,1107.2 L718,1108.1 L718.2,1109.2 L718,1110.3 L717.7,1111.4 L717.9,1112.5 L718.6,1113.5 L719.3,1114.7 L719.5,1115.7 L719.1,1116.7 L718.7,1117.7 L718.8,1118.7 L719.4,1119.9 L720.1,1121.1 L720.1,1122.2 L719.6,1123 L719.1,1123.7 L719.1,1124.7 L719.7,1126 L720.2,1127.4 L720.1,1128.4 L719.6,1129 L719,1129.5 L718.9,1130.4 L719.3,1131.8 L719.7,1133.2 L719.6,1134.1 L718.9,1134.5 L718.2,1134.8 L718,1135.6 L718.3,1137 L718.6,1138.5 L718.4,1139.3 L717.6,1139.4 L716.9,1139.5 L716.6,1140.2 L716.8,1141.6 L716.9,1143 L716.6,1143.7 L715.8,1143.6 L715,1143.5 L714.6,1144 L714.7,1145.4 L714.7,1146.7 L714.3,1147.3 L713.5,1146.9 L712.6,1146.6 L712.2,1147 L712.1,1148.3 L712,1149.5 L711.5,1149.9 L710.7,1149.4 L709.9,1148.8 L709.4,1149 L709.2,1150.2 L708.9,1151.3 L708.4,1151.5 L707.5,1150.8 L706.8,1150 L706.2,1150.1 L705.9,1151.1 L705.5,1152 L704.9,1152 L704.1,1151.1 L703.4,1150.1 L702.8,1150.1 L702.4,1150.9 L701.9,1151.7 L701.2,1151.5 L700.5,1150.4 L699.9,1149.3 L699.3,1149 L698.7,1149.7 L698.1,1150.3 L697.5,1149.9 L696.8,1148.7 L696.3,1147.4 L695.7,1147 L695,1147.4 L694.3,1147.8 L693.7,1147.3 L693.2,1146 L692.7,1144.6 L692.1,1144.1 L691.4,1144.3 L690.6,1144.4 L690,1143.7 L689.6,1142.3 L689.2,1140.9 L688.7,1140.2 L687.9,1140.2 L687.1,1140.1 L686.5,1139.3 L686.3,1137.9 L686,1136.5 L685.5,1135.7 L684.7,1135.4 L683.9,1135.1 L683.4,1134.2 L683.2,1132.7 L683.1,1131.4 L682.6,1130.5 L681.8,1130 L681,1129.4 L680.6,1128.4 L680.5,1127.1 L680.5,1125.7 L680.2,1124.8 L679.4,1124.1 L678.6,1123.3 L678.2,1122.2 L678.3,1121 L678.5,1119.7 L678.2,1118.7 L677.4,1117.8 L676.6,1116.9 L676.4,1115.8 L676.6,1114.7 L676.9,1113.6 L676.7,1112.5 L676,1111.5 L675.3,1110.3 L675.1,1109.3 L675.5,1108.3 L675.9,1107.3 L675.8,1106.3 L675.2,1105.1 L674.5,1103.9 L674.5,1102.8 L675,1102 L675.5,1101.3 L675.5,1100.3 L674.9,1099 L674.4,1097.6 L674.5,1096.6 L675,1096 L675.6,1095.5 L675.7,1094.6 L675.3,1093.2 L674.9,1091.8 L675,1090.9 L675.7,1090.5 L676.4,1090.2 L676.6,1089.4 L676.3,1088 L676,1086.5 L676.2,1085.7 L677,1085.6 L677.7,1085.5 L678,1084.8 L677.8,1083.4 L677.7,1082 L678,1081.3 L678.8,1081.4 L679.6,1081.5 L680,1081 L679.9,1079.6 L679.9,1078.3 L680.3,1077.7 L681.1,1078.1 L682,1078.4 L682.4,1078 L682.5,1076.7 L682.6,1075.5 L683.1,1075.1 L683.9,1075.6 L684.7,1076.2 L685.2,1076 L685.4,1074.8 L685.7,1073.7 L686.2,1073.5 L687.1,1074.2 L687.8,1075 L688.4,1074.9 L688.7,1073.9 L689.1,1073 L689.7,1073 L690.5,1073.9 L691.2,1074.9 L691.8,1074.9 L692.2,1074.1 L692.7,1073.3 L693.4,1073.5 L694.1,1074.6 L694.7,1075.7 L695.3,1076 L695.9,1075.3 L696.5,1074.7 L697.1,1075.1 L697.8,1076.3 L698.3,1077.6 L698.9,1078 L699.6,1077.6 L700.3,1077.2 L700.9,1077.7 L701.4,1079 L701.9,1080.4 L702.5,1080.9 L703.2,1080.7 L704,1080.6 L704.6,1081.3 L705,1082.7 L705.4,1084.1 L705.9,1084.8 L706.7,1084.8 L707.5,1084.9 L708.1,1085.7 L708.3,1087.1 L708.6,1088.5 L709.1,1089.3 L709.9,1089.6 L710.7,1089.9 L711.2,1090.8 L711.4,1092.3 L711.5,1093.6 L712,1094.5 L712.8,1095 L713.6,1095.6 L714,1096.6 L714.1,1097.9 L714.1,1099.3 L714.4,1100.2 L715.2,1100.9 L716,1101.7 L716.4,1102.8 L716.3,1104 L716.1,1105.3 L716.4,1106.3Z" fill="#000" stroke="#000" stroke-width="1" fill-rule="evenodd"/>
<path d="M692.7,1114.7 L693.1,1116.1 L695.5,1120 L695.8,1120.9 L695,1125.1 L695.3,1126.5 L695.5,1127.9 L697.7,1132.3 L697.8,1133.3 L696.6,1136.8 L696.8,1138.2 L696.9,1139.6 L698.7,1144.3 L698.7,1145.3 L697.1,1148.1 L697,1149.4 L697,1150.7 L698.4,1155.7 L698.3,1156.6 L696.3,1158.6 L696.1,1159.8 L696,1161 L696.9,1166 L696.7,1166.8 L694.4,1168 L694.1,1169 L693.8,1170 L694.2,1175 L693.9,1175.6 L691.4,1175.9 L690.9,1176.8 L690.5,1177.6 L690.4,1182.3 L690.1,1182.8 L687.3,1182.2 L686.8,1182.8 L686.2,1183.4 L685.7,1187.7 L685.2,1188.1 L682.4,1186.6 L681.8,1187 L681.1,1187.3 L680.1,1191.1 L679.6,1191.2 L676.8,1188.9 L676.1,1189.1 L675.3,1189.2 L673.8,1192.2 L673.3,1192.2 L670.6,1189.2 L669.8,1189 L669.1,1188.9 L667.2,1191.2 L666.6,1191 L664.1,1187.3 L663.3,1186.9 L662.5,1186.5 L660.3,1188 L659.7,1187.6 L657.5,1183.4 L656.7,1182.7 L655.9,1182.1 L653.3,1182.7 L652.8,1182.2 L650.9,1177.5 L650.1,1176.7 L649.4,1175.8 L646.7,1175.5 L646.1,1174.9 L644.6,1169.9 L643.9,1168.9 L643.2,1167.9 L640.4,1166.6 L639.9,1165.9 L638.9,1160.8 L638.2,1159.6 L637.6,1158.5 L634.8,1156.4 L634.3,1155.5 L633.8,1150.5 L633.2,1149.2 L632.7,1147.9 L629.9,1145.1 L629.6,1144.1 L629.5,1139.4 L629.1,1138 L628.7,1136.6 L626.1,1133.1 L625.8,1132.1 L626.3,1127.7 L626,1126.3 L625.7,1124.9 L623.3,1120.7 L623.1,1119.8 L624.1,1115.9 L623.9,1114.5 L623.8,1113.1 L621.7,1108.5 L621.7,1107.5 L623.1,1104.3 L623,1103 L623,1101.6 L621.4,1096.8 L621.4,1095.8 L623.2,1093.4 L623.3,1092.1 L623.5,1090.9 L622.3,1085.9 L622.4,1085 L624.6,1083.4 L624.8,1082.3 L625.1,1081.2 L624.4,1076.2 L624.6,1075.5 L627.1,1074.7 L627.5,1073.8 L627.8,1072.8 L627.6,1068 L628,1067.4 L630.6,1067.6 L631.1,1066.8 L631.6,1066.1 L631.9,1061.6 L632.3,1061.2 L635.1,1062.2 L635.7,1061.7 L636.3,1061.2 L637.1,1057.2 L637.6,1057 L640.4,1058.9 L641.1,1058.6 L641.8,1058.4 L643.1,1054.9 L643.6,1054.9 L646.3,1057.6 L647.1,1057.6 L647.8,1057.6 L649.6,1054.9 L650.1,1055 L652.7,1058.4 L653.5,1058.6 L654.3,1058.9 L656.4,1057 L656.9,1057.3 L659.3,1061.3 L660.1,1061.8 L660.9,1062.3 L663.3,1061.3 L663.9,1061.7 L665.9,1066.2 L666.7,1066.9 L667.5,1067.7 L670.1,1067.5 L670.7,1068.1 L672.4,1073 L673.1,1073.9 L673.9,1074.8 L676.6,1075.6 L677.1,1076.3 L678.4,1081.3 L679.1,1082.4 L679.8,1083.6 L682.6,1085.2 L683.1,1086 L683.9,1091.1 L684.5,1092.3 L685.1,1093.6 L687.9,1096 L688.2,1096.9 L688.5,1101.8 L689,1103.2 L689.5,1104.5 L692.2,1107.7 L692.5,1108.7 L692.3,1113.3Z M682.1,1117.5 A22.8,45.6 -15 0 1 671.8,1167.5 A22.8,45.6 -15 0 1 638,1129.3 A22.8,45.6 -15 0 1 648.2,1079.4 A22.8,45.6 -15 0 1 682.1,1117.5Z" fill="#fff" stroke="#000" stroke-width="2.6" fill-rule="evenodd"/>
<path d="M691.1,1115.1 L691.5,1116.5 L694,1120.4 L694.2,1121.4 L693.5,1125.5 L693.7,1126.9 L694,1128.3 L696.2,1132.7 L696.3,1133.7 L695.1,1137.2 L695.2,1138.6 L695.3,1140 L697.1,1144.7 L697.2,1145.7 L695.5,1148.5 L695.5,1149.8 L695.5,1151.1 L696.9,1156.1 L696.8,1157 L694.8,1159 L694.6,1160.2 L694.4,1161.4 L695.4,1166.4 L695.2,1167.2 L692.8,1168.4 L692.5,1169.4 L692.2,1170.5 L692.7,1175.4 L692.4,1176.1 L689.8,1176.4 L689.4,1177.2 L688.9,1178 L688.9,1182.7 L688.5,1183.2 L685.8,1182.6 L685.2,1183.2 L684.7,1183.8 L684.1,1188.1 L683.7,1188.5 L680.9,1187 L680.2,1187.4 L679.6,1187.7 L678.5,1191.5 L678,1191.7 L675.2,1189.3 L674.5,1189.5 L673.8,1189.6 L672.3,1192.7 L671.8,1192.7 L669.1,1189.6 L668.3,1189.5 L667.5,1189.3 L665.6,1191.6 L665.1,1191.4 L662.6,1187.7 L661.8,1187.3 L661,1186.9 L658.7,1188.4 L658.2,1188.1 L655.9,1183.8 L655.1,1183.2 L654.3,1182.5 L651.8,1183.1 L651.3,1182.6 L649.4,1177.9 L648.6,1177.1 L647.8,1176.2 L645.1,1175.9 L644.6,1175.3 L643.1,1170.3 L642.4,1169.3 L641.7,1168.3 L638.8,1167.1 L638.4,1166.3 L637.3,1161.2 L636.7,1160.1 L636,1158.9 L633.2,1156.8 L632.8,1155.9 L632.2,1151 L631.7,1149.7 L631.1,1148.3 L628.4,1145.5 L628,1144.5 L628,1139.8 L627.6,1138.4 L627.1,1137 L624.5,1133.5 L624.3,1132.5 L624.7,1128.1 L624.4,1126.7 L624.1,1125.3 L621.8,1121.2 L621.6,1120.2 L622.6,1116.3 L622.4,1114.9 L622.2,1113.5 L620.2,1108.9 L620.1,1108 L621.5,1104.8 L621.5,1103.4 L621.5,1102.1 L619.8,1097.2 L619.9,1096.3 L621.7,1093.8 L621.8,1092.5 L621.9,1091.3 L620.7,1086.3 L620.9,1085.5 L623.1,1083.8 L623.3,1082.7 L623.5,1081.6 L622.8,1076.6 L623.1,1075.9 L625.5,1075.1 L625.9,1074.2 L626.3,1073.3 L626.1,1068.4 L626.4,1067.8 L629.1,1068 L629.6,1067.2 L630.1,1066.5 L630.4,1062 L630.8,1061.6 L633.6,1062.6 L634.2,1062.1 L634.8,1061.7 L635.6,1057.6 L636,1057.4 L638.9,1059.3 L639.6,1059 L640.2,1058.8 L641.5,1055.4 L642,1055.3 L644.8,1058 L645.5,1058 L646.3,1058 L648,1055.3 L648.5,1055.4 L651.2,1058.8 L651.9,1059 L652.7,1059.3 L654.8,1057.4 L655.4,1057.7 L657.8,1061.7 L658.6,1062.2 L659.4,1062.7 L661.8,1061.7 L662.3,1062.1 L664.4,1066.6 L665.2,1067.3 L666,1068.1 L668.6,1068 L669.1,1068.5 L670.8,1073.4 L671.6,1074.3 L672.3,1075.2 L675.1,1076 L675.6,1076.7 L676.9,1081.7 L677.6,1082.8 L678.2,1084 L681.1,1085.6 L681.5,1086.4 L682.3,1091.5 L682.9,1092.7 L683.5,1094 L686.3,1096.4 L686.7,1097.4 L687,1102.2 L687.5,1103.6 L688,1104.9 L690.7,1108.2 L691,1109.1 L690.8,1113.7Z M680.5,1117.9 A22.8,45.6 -15 0 1 670.3,1167.9 A22.8,45.6 -15 0 1 636.5,1129.8 A22.8,45.6 -15 0 1 646.7,1079.8 A22.8,45.6 -15 0 1 680.5,1117.9Z" fill="#fff" stroke="#000" stroke-width="2.6" fill-rule="evenodd"/>
<path d="M648.5,1125.6 A33.8,65 -15 0 1 632.7,1197.1 A33.8,65 -15 0 1 583.2,1143.1 A33.8,65 -15 0 1 599,1071.5 A33.8,65 -15 0 1 648.5,1125.6Z M635.7,1129 L636.5,1130 L636.7,1131 L636.5,1132.2 L636.2,1133.3 L636.4,1134.3 L637.1,1135.4 L637.8,1136.5 L638,1137.6 L637.6,1138.6 L637.2,1139.5 L637.3,1140.5 L638,1141.7 L638.6,1143 L638.7,1144 L638.2,1144.8 L637.7,1145.6 L637.7,1146.5 L638.2,1147.9 L638.7,1149.2 L638.7,1150.2 L638.1,1150.8 L637.5,1151.3 L637.4,1152.2 L637.8,1153.6 L638.2,1155 L638.1,1155.9 L637.4,1156.3 L636.7,1156.6 L636.5,1157.5 L636.8,1158.9 L637.1,1160.3 L636.9,1161.1 L636.1,1161.2 L635.4,1161.3 L635.1,1162 L635.3,1163.4 L635.4,1164.8 L635.1,1165.5 L634.3,1165.4 L633.5,1165.3 L633.2,1165.9 L633.2,1167.2 L633.2,1168.6 L632.8,1169.1 L632,1168.8 L631.2,1168.4 L630.7,1168.8 L630.7,1170.1 L630.5,1171.4 L630,1171.7 L629.2,1171.2 L628.4,1170.6 L627.9,1170.9 L627.7,1172 L627.4,1173.1 L626.9,1173.3 L626.1,1172.6 L625.3,1171.8 L624.7,1171.9 L624.4,1172.9 L624,1173.9 L623.4,1173.9 L622.7,1172.9 L621.9,1172 L621.3,1171.9 L620.9,1172.7 L620.4,1173.5 L619.8,1173.3 L619.1,1172.2 L618.4,1171.1 L617.8,1170.9 L617.2,1171.5 L616.6,1172.1 L616,1171.7 L615.4,1170.5 L614.8,1169.3 L614.2,1168.9 L613.5,1169.3 L612.9,1169.6 L612.2,1169.1 L611.7,1167.8 L611.2,1166.5 L610.6,1165.9 L609.9,1166.1 L609.2,1166.2 L608.6,1165.6 L608.1,1164.2 L607.8,1162.8 L607.2,1162.1 L606.4,1162 L605.6,1161.9 L605.1,1161.1 L604.8,1159.7 L604.5,1158.3 L604,1157.5 L603.2,1157.2 L602.4,1156.9 L601.9,1156 L601.7,1154.6 L601.6,1153.2 L601.2,1152.3 L600.3,1151.8 L599.5,1151.2 L599.1,1150.2 L599.1,1148.9 L599.1,1147.6 L598.7,1146.6 L597.9,1145.9 L597.1,1145.1 L596.7,1144.1 L596.9,1142.8 L597,1141.6 L596.7,1140.6 L595.9,1139.7 L595.2,1138.7 L594.9,1137.6 L595.2,1136.5 L595.4,1135.4 L595.2,1134.4 L594.5,1133.3 L593.8,1132.2 L593.7,1131.1 L594,1130.1 L594.4,1129.2 L594.3,1128.2 L593.7,1127 L593.1,1125.7 L593,1124.6 L593.5,1123.8 L594,1123.1 L594,1122.1 L593.5,1120.8 L592.9,1119.5 L593,1118.5 L593.6,1117.9 L594.2,1117.3 L594.3,1116.4 L593.8,1115 L593.4,1113.6 L593.6,1112.7 L594.3,1112.3 L594.9,1112 L595.1,1111.2 L594.8,1109.8 L594.5,1108.4 L594.8,1107.6 L595.5,1107.4 L596.3,1107.3 L596.6,1106.6 L596.4,1105.2 L596.2,1103.8 L596.6,1103.1 L597.4,1103.2 L598.1,1103.4 L598.5,1102.8 L598.5,1101.4 L598.4,1100.1 L598.9,1099.6 L599.7,1099.9 L600.5,1100.3 L600.9,1099.8 L601,1098.6 L601.1,1097.3 L601.6,1096.9 L602.4,1097.5 L603.3,1098.1 L603.8,1097.8 L604,1096.7 L604.2,1095.5 L604.8,1095.3 L605.6,1096.1 L606.4,1096.9 L606.9,1096.8 L607.3,1095.8 L607.6,1094.8 L608.2,1094.8 L609,1095.7 L609.7,1096.7 L610.3,1096.8 L610.8,1095.9 L611.3,1095.2 L611.9,1095.3 L612.6,1096.4 L613.3,1097.5 L613.9,1097.8 L614.4,1097.2 L615,1096.6 L615.7,1096.9 L616.3,1098.2 L616.9,1099.4 L617.5,1099.8 L618.1,1099.4 L618.8,1099 L619.4,1099.5 L620,1100.9 L620.5,1102.2 L621,1102.8 L621.8,1102.6 L622.5,1102.4 L623.1,1103.1 L623.5,1104.5 L623.9,1105.9 L624.5,1106.6 L625.2,1106.6 L626,1106.7 L626.6,1107.5 L626.9,1108.9 L627.1,1110.4 L627.6,1111.2 L628.4,1111.4 L629.3,1111.8 L629.8,1112.7 L629.9,1114.1 L630.1,1115.5 L630.5,1116.4 L631.3,1116.9 L632.1,1117.4 L632.6,1118.4 L632.6,1119.8 L632.6,1121.1 L633,1122.1 L633.8,1122.8 L634.6,1123.5 L634.9,1124.6 L634.8,1125.9 L634.7,1127.1 L635,1128.1Z" fill="#000" stroke="#000" stroke-width="1" fill-rule="evenodd"/>
<path d="M646.5,1126.1 A33.8,65 -15 0 1 630.7,1197.6 A33.8,65 -15 0 1 581.3,1143.6 A33.8,65 -15 0 1 597.1,1072.1 A33.8,65 -15 0 1 646.5,1126.1Z M633.8,1129.5 L634.6,1130.5 L634.8,1131.6 L634.6,1132.7 L634.3,1133.8 L634.5,1134.8 L635.2,1135.9 L635.9,1137 L636.1,1138.1 L635.7,1139.1 L635.3,1140 L635.4,1141 L636,1142.2 L636.7,1143.5 L636.7,1144.5 L636.2,1145.3 L635.7,1146.1 L635.7,1147.1 L636.3,1148.4 L636.8,1149.7 L636.7,1150.7 L636.2,1151.3 L635.6,1151.8 L635.5,1152.8 L635.9,1154.1 L636.3,1155.5 L636.2,1156.5 L635.5,1156.8 L634.8,1157.2 L634.6,1158 L634.9,1159.4 L635.2,1160.8 L635,1161.6 L634.2,1161.8 L633.5,1161.8 L633.2,1162.6 L633.4,1164 L633.5,1165.4 L633.2,1166 L632.4,1166 L631.6,1165.8 L631.2,1166.4 L631.3,1167.7 L631.3,1169.1 L630.9,1169.6 L630.1,1169.3 L629.2,1168.9 L628.8,1169.4 L628.7,1170.6 L628.6,1171.9 L628.1,1172.2 L627.3,1171.7 L626.5,1171.1 L626,1171.4 L625.8,1172.5 L625.5,1173.7 L625,1173.9 L624.1,1173.1 L623.4,1172.3 L622.8,1172.4 L622.5,1173.4 L622.1,1174.4 L621.5,1174.4 L620.7,1173.5 L620,1172.5 L619.4,1172.4 L619,1173.2 L618.5,1174 L617.8,1173.9 L617.1,1172.8 L616.5,1171.6 L615.9,1171.4 L615.3,1172 L614.7,1172.6 L614.1,1172.3 L613.4,1171 L612.9,1169.8 L612.3,1169.4 L611.6,1169.8 L610.9,1170.1 L610.3,1169.6 L609.8,1168.3 L609.3,1167 L608.7,1166.4 L608,1166.6 L607.2,1166.7 L606.6,1166.1 L606.2,1164.7 L605.8,1163.3 L605.3,1162.6 L604.5,1162.5 L603.7,1162.4 L603.1,1161.7 L602.9,1160.2 L602.6,1158.8 L602.1,1158 L601.3,1157.7 L600.5,1157.4 L600,1156.5 L599.8,1155.1 L599.7,1153.7 L599.2,1152.8 L598.4,1152.3 L597.6,1151.8 L597.2,1150.8 L597.1,1149.4 L597.1,1148.1 L596.8,1147.1 L596,1146.4 L595.2,1145.6 L594.8,1144.6 L594.9,1143.3 L595.1,1142.1 L594.8,1141.1 L594,1140.2 L593.2,1139.2 L593,1138.1 L593.2,1137 L593.5,1135.9 L593.3,1134.9 L592.6,1133.8 L591.9,1132.7 L591.7,1131.6 L592.1,1130.6 L592.5,1129.7 L592.4,1128.7 L591.8,1127.5 L591.1,1126.2 L591.1,1125.2 L591.6,1124.4 L592.1,1123.6 L592.1,1122.6 L591.5,1121.3 L591,1120 L591.1,1119 L591.6,1118.4 L592.2,1117.9 L592.3,1116.9 L591.9,1115.6 L591.5,1114.2 L591.6,1113.2 L592.3,1112.9 L593,1112.5 L593.2,1111.7 L592.9,1110.3 L592.6,1108.9 L592.8,1108.1 L593.6,1107.9 L594.3,1107.9 L594.6,1107.1 L594.4,1105.7 L594.3,1104.3 L594.6,1103.7 L595.4,1103.7 L596.2,1103.9 L596.6,1103.3 L596.5,1102 L596.5,1100.6 L596.9,1100.1 L597.7,1100.4 L598.6,1100.8 L599,1100.3 L599.1,1099.1 L599.2,1097.8 L599.7,1097.5 L600.5,1098 L601.3,1098.6 L601.8,1098.3 L602,1097.2 L602.3,1096 L602.8,1095.8 L603.7,1096.6 L604.4,1097.4 L605,1097.3 L605.3,1096.3 L605.7,1095.3 L606.3,1095.3 L607.1,1096.2 L607.8,1097.2 L608.4,1097.3 L608.8,1096.5 L609.3,1095.7 L610,1095.8 L610.7,1096.9 L611.3,1098.1 L611.9,1098.3 L612.5,1097.7 L613.1,1097.1 L613.7,1097.4 L614.4,1098.7 L614.9,1099.9 L615.5,1100.3 L616.2,1099.9 L616.9,1099.6 L617.5,1100.1 L618,1101.4 L618.5,1102.7 L619.1,1103.3 L619.8,1103.1 L620.6,1103 L621.2,1103.6 L621.6,1105 L622,1106.4 L622.5,1107.1 L623.3,1107.2 L624.1,1107.3 L624.7,1108 L624.9,1109.5 L625.2,1110.9 L625.7,1111.7 L626.5,1112 L627.3,1112.3 L627.8,1113.2 L628,1114.6 L628.1,1116 L628.6,1116.9 L629.4,1117.4 L630.2,1117.9 L630.6,1118.9 L630.7,1120.3 L630.7,1121.6 L631,1122.6 L631.8,1123.3 L632.6,1124.1 L633,1125.1 L632.9,1126.4 L632.7,1127.6 L633,1128.6Z" fill="#000" stroke="#000" stroke-width="1" fill-rule="evenodd"/>
<path d="M609.3,1137 L609.7,1138.4 L612.1,1142.3 L612.4,1143.3 L611.6,1147.4 L611.9,1148.8 L612.1,1150.3 L614.3,1154.6 L614.4,1155.6 L613.2,1159.2 L613.4,1160.5 L613.5,1161.9 L615.3,1166.7 L615.3,1167.6 L613.7,1170.5 L613.6,1171.8 L613.6,1173.1 L615,1178 L614.9,1178.9 L612.9,1181 L612.7,1182.2 L612.6,1183.3 L613.5,1188.4 L613.3,1189.1 L611,1190.3 L610.7,1191.4 L610.4,1192.4 L610.8,1197.3 L610.5,1198 L608,1198.3 L607.5,1199.1 L607.1,1200 L607,1204.6 L606.7,1205.2 L603.9,1204.6 L603.4,1205.2 L602.8,1205.8 L602.3,1210.1 L601.8,1210.4 L599,1208.9 L598.4,1209.3 L597.7,1209.7 L596.7,1213.4 L596.2,1213.6 L593.4,1211.3 L592.7,1211.4 L591.9,1211.5 L590.4,1214.6 L589.9,1214.6 L587.2,1211.5 L586.4,1211.4 L585.7,1211.2 L583.8,1213.6 L583.2,1213.4 L580.7,1209.6 L579.9,1209.3 L579.1,1208.9 L576.9,1210.3 L576.3,1210 L574.1,1205.7 L573.3,1205.1 L572.5,1204.5 L569.9,1205.1 L569.4,1204.5 L567.5,1199.9 L566.7,1199 L566,1198.2 L563.3,1197.9 L562.7,1197.2 L561.2,1192.3 L560.5,1191.2 L559.8,1190.2 L557,1189 L556.5,1188.2 L555.5,1183.2 L554.8,1182 L554.2,1180.8 L551.4,1178.7 L550.9,1177.9 L550.4,1172.9 L549.8,1171.6 L549.3,1170.3 L546.5,1167.4 L546.2,1166.5 L546.1,1161.7 L545.7,1160.4 L545.3,1159 L542.7,1155.4 L542.4,1154.4 L542.9,1150.1 L542.6,1148.6 L542.3,1147.2 L539.9,1143.1 L539.7,1142.1 L540.7,1138.3 L540.5,1136.8 L540.4,1135.4 L538.3,1130.9 L538.3,1129.9 L539.7,1126.7 L539.6,1125.3 L539.6,1124 L538,1119.1 L538,1118.2 L539.8,1115.7 L539.9,1114.5 L540.1,1113.2 L538.9,1108.2 L539,1107.4 L541.2,1105.8 L541.4,1104.6 L541.7,1103.5 L541,1098.5 L541.2,1097.8 L543.7,1097.1 L544.1,1096.1 L544.4,1095.2 L544.2,1090.4 L544.6,1089.8 L547.2,1089.9 L547.7,1089.2 L548.2,1088.5 L548.5,1084 L548.9,1083.5 L551.7,1084.6 L552.3,1084.1 L552.9,1083.6 L553.7,1079.6 L554.2,1079.3 L557,1081.2 L557.7,1080.9 L558.4,1080.7 L559.7,1077.3 L560.2,1077.2 L562.9,1079.9 L563.7,1079.9 L564.4,1079.9 L566.2,1077.2 L566.7,1077.3 L569.3,1080.7 L570.1,1081 L570.9,1081.3 L573,1079.4 L573.5,1079.6 L575.9,1083.7 L576.7,1084.1 L577.5,1084.7 L579.9,1083.6 L580.5,1084.1 L582.5,1088.6 L583.3,1089.3 L584.1,1090 L586.7,1089.9 L587.3,1090.5 L589,1095.3 L589.7,1096.2 L590.5,1097.2 L593.2,1098 L593.7,1098.7 L595,1103.7 L595.7,1104.8 L596.4,1105.9 L599.2,1107.6 L599.7,1108.4 L600.5,1113.4 L601.1,1114.7 L601.7,1115.9 L604.5,1118.4 L604.8,1119.3 L605.1,1124.2 L605.6,1125.5 L606.1,1126.9 L608.8,1130.1 L609.1,1131.1 L608.9,1135.6Z M598.7,1139.9 A22.8,45.6 -15 0 1 588.4,1189.8 A22.8,45.6 -15 0 1 554.6,1151.7 A22.8,45.6 -15 0 1 564.8,1101.7 A22.8,45.6 -15 0 1 598.7,1139.9Z" fill="#fff" stroke="#000" stroke-width="2.6" fill-rule="evenodd"/>
<path d="M607.7,1137.5 L608.1,1138.9 L610.6,1142.7 L610.8,1143.7 L610.1,1147.8 L610.3,1149.3 L610.6,1150.7 L612.8,1155 L612.9,1156 L611.7,1159.6 L611.8,1161 L611.9,1162.3 L613.7,1167.1 L613.8,1168 L612.1,1170.9 L612.1,1172.2 L612.1,1173.5 L613.5,1178.5 L613.4,1179.3 L611.4,1181.4 L611.2,1182.6 L611,1183.7 L612,1188.8 L611.8,1189.6 L609.4,1190.8 L609.1,1191.8 L608.8,1192.8 L609.3,1197.8 L609,1198.4 L606.4,1198.7 L606,1199.6 L605.5,1200.4 L605.5,1205.1 L605.1,1205.6 L602.4,1205 L601.8,1205.6 L601.3,1206.2 L600.7,1210.5 L600.3,1210.8 L597.5,1209.3 L596.8,1209.7 L596.2,1210.1 L595.1,1213.8 L594.6,1214 L591.8,1211.7 L591.1,1211.8 L590.4,1211.9 L588.9,1215 L588.4,1215 L585.7,1211.9 L584.9,1211.8 L584.1,1211.7 L582.2,1214 L581.7,1213.8 L579.2,1210 L578.4,1209.7 L577.6,1209.3 L575.3,1210.8 L574.8,1210.4 L572.5,1206.1 L571.7,1205.5 L570.9,1204.9 L568.4,1205.5 L567.9,1205 L566,1200.3 L565.2,1199.4 L564.4,1198.6 L561.7,1198.3 L561.2,1197.6 L559.7,1192.7 L559,1191.7 L558.3,1190.6 L555.4,1189.4 L555,1188.6 L553.9,1183.6 L553.3,1182.4 L552.6,1181.2 L549.8,1179.2 L549.4,1178.3 L548.8,1173.3 L548.3,1172 L547.7,1170.7 L545,1167.8 L544.6,1166.9 L544.6,1162.1 L544.2,1160.8 L543.7,1159.4 L541.1,1155.8 L540.9,1154.8 L541.3,1150.5 L541,1149.1 L540.7,1147.6 L538.4,1143.5 L538.2,1142.5 L539.2,1138.7 L539,1137.3 L538.8,1135.9 L536.8,1131.3 L536.7,1130.3 L538.1,1127.1 L538.1,1125.8 L538.1,1124.4 L536.4,1119.5 L536.5,1118.6 L538.3,1116.2 L538.4,1114.9 L538.5,1113.7 L537.3,1108.6 L537.5,1107.8 L539.7,1106.2 L539.9,1105 L540.1,1104 L539.4,1098.9 L539.7,1098.2 L542.1,1097.5 L542.5,1096.5 L542.9,1095.6 L542.7,1090.8 L543,1090.2 L545.7,1090.3 L546.2,1089.6 L546.7,1088.9 L547,1084.4 L547.4,1084 L550.2,1085 L550.8,1084.5 L551.4,1084 L552.2,1080 L552.6,1079.7 L555.5,1081.6 L556.2,1081.4 L556.8,1081.1 L558.1,1077.7 L558.6,1077.6 L561.4,1080.3 L562.1,1080.3 L562.9,1080.3 L564.6,1077.6 L565.1,1077.7 L567.8,1081.2 L568.5,1081.4 L569.3,1081.7 L571.4,1079.8 L572,1080 L574.4,1084.1 L575.2,1084.6 L576,1085.1 L578.4,1084 L578.9,1084.5 L581,1089 L581.8,1089.7 L582.6,1090.4 L585.2,1090.3 L585.7,1090.9 L587.4,1095.7 L588.2,1096.7 L588.9,1097.6 L591.7,1098.4 L592.2,1099.1 L593.5,1104.1 L594.2,1105.2 L594.8,1106.3 L597.7,1108 L598.1,1108.8 L598.9,1113.8 L599.5,1115.1 L600.1,1116.3 L602.9,1118.8 L603.3,1119.7 L603.6,1124.6 L604.1,1125.9 L604.6,1127.3 L607.3,1130.5 L607.6,1131.5 L607.4,1136Z M597.1,1140.3 A22.8,45.6 -15 0 1 586.9,1190.2 A22.8,45.6 -15 0 1 553.1,1152.1 A22.8,45.6 -15 0 1 563.3,1102.2 A22.8,45.6 -15 0 1 597.1,1140.3Z" fill="#fff" stroke="#000" stroke-width="2.6" fill-rule="evenodd"/>
<path d="M565.1,1147.9 A33.8,65 -15 0 1 549.3,1219.5 A33.8,65 -15 0 1 499.8,1165.4 A33.8,65 -15 0 1 515.6,1093.9 A33.8,65 -15 0 1 565.1,1147.9Z M552.3,1151.4 L553.1,1152.3 L553.3,1153.4 L553.1,1154.5 L552.8,1155.6 L553,1156.7 L553.7,1157.7 L554.4,1158.8 L554.6,1159.9 L554.2,1160.9 L553.8,1161.8 L553.9,1162.9 L554.6,1164.1 L555.2,1165.3 L555.3,1166.4 L554.8,1167.2 L554.3,1167.9 L554.3,1168.9 L554.8,1170.2 L555.3,1171.5 L555.3,1172.5 L554.7,1173.1 L554.1,1173.7 L554,1174.6 L554.4,1176 L554.8,1177.4 L554.7,1178.3 L554,1178.7 L553.3,1179 L553.1,1179.8 L553.4,1181.2 L553.7,1182.6 L553.5,1183.4 L552.7,1183.6 L552,1183.7 L551.7,1184.4 L551.9,1185.8 L552,1187.2 L551.7,1187.9 L550.9,1187.8 L550.1,1187.6 L549.8,1188.2 L549.8,1189.6 L549.8,1190.9 L549.4,1191.5 L548.6,1191.1 L547.8,1190.8 L547.3,1191.2 L547.3,1192.5 L547.1,1193.7 L546.6,1194.1 L545.8,1193.5 L545,1192.9 L544.5,1193.2 L544.3,1194.4 L544,1195.5 L543.5,1195.7 L542.7,1194.9 L541.9,1194.1 L541.3,1194.2 L541,1195.2 L540.6,1196.2 L540,1196.2 L539.3,1195.3 L538.5,1194.3 L537.9,1194.2 L537.5,1195.1 L537,1195.9 L536.4,1195.7 L535.7,1194.6 L535,1193.5 L534.4,1193.2 L533.8,1193.9 L533.2,1194.4 L532.6,1194.1 L532,1192.9 L531.4,1191.6 L530.8,1191.2 L530.1,1191.6 L529.5,1192 L528.8,1191.5 L528.3,1190.1 L527.8,1188.8 L527.2,1188.2 L526.5,1188.4 L525.8,1188.6 L525.2,1187.9 L524.7,1186.5 L524.4,1185.1 L523.8,1184.4 L523,1184.4 L522.2,1184.3 L521.7,1183.5 L521.4,1182.1 L521.1,1180.7 L520.6,1179.9 L519.8,1179.6 L519,1179.2 L518.5,1178.3 L518.3,1176.9 L518.2,1175.5 L517.8,1174.6 L516.9,1174.1 L516.1,1173.6 L515.7,1172.6 L515.7,1171.2 L515.7,1169.9 L515.3,1168.9 L514.5,1168.2 L513.7,1167.5 L513.3,1166.4 L513.5,1165.2 L513.6,1163.9 L513.3,1162.9 L512.5,1162 L511.8,1161.1 L511.5,1160 L511.8,1158.8 L512,1157.7 L511.8,1156.7 L511.1,1155.6 L510.4,1154.5 L510.3,1153.4 L510.6,1152.5 L511,1151.5 L510.9,1150.5 L510.3,1149.3 L509.7,1148.1 L509.6,1147 L510.1,1146.2 L510.6,1145.5 L510.6,1144.5 L510.1,1143.2 L509.5,1141.8 L509.6,1140.8 L510.2,1140.2 L510.8,1139.7 L510.9,1138.8 L510.4,1137.4 L510,1136 L510.2,1135.1 L510.9,1134.7 L511.5,1134.4 L511.7,1133.6 L511.4,1132.2 L511.1,1130.7 L511.4,1129.9 L512.1,1129.8 L512.9,1129.7 L513.2,1129 L513,1127.6 L512.8,1126.2 L513.2,1125.5 L514,1125.6 L514.7,1125.7 L515.1,1125.1 L515.1,1123.8 L515,1122.4 L515.5,1121.9 L516.3,1122.2 L517.1,1122.6 L517.5,1122.2 L517.6,1120.9 L517.7,1119.7 L518.2,1119.3 L519,1119.8 L519.9,1120.4 L520.4,1120.2 L520.6,1119 L520.8,1117.9 L521.4,1117.7 L522.2,1118.4 L523,1119.2 L523.5,1119.1 L523.9,1118.1 L524.2,1117.1 L524.8,1117.1 L525.6,1118.1 L526.3,1119 L526.9,1119.1 L527.4,1118.3 L527.9,1117.5 L528.5,1117.7 L529.2,1118.8 L529.9,1119.9 L530.5,1120.1 L531,1119.5 L531.6,1118.9 L532.3,1119.3 L532.9,1120.5 L533.5,1121.8 L534.1,1122.2 L534.7,1121.7 L535.4,1121.4 L536,1121.9 L536.6,1123.2 L537.1,1124.6 L537.6,1125.1 L538.4,1124.9 L539.1,1124.8 L539.7,1125.5 L540.1,1126.9 L540.5,1128.2 L541.1,1128.9 L541.8,1129 L542.6,1129.1 L543.2,1129.9 L543.5,1131.3 L543.7,1132.7 L544.2,1133.5 L545,1133.8 L545.9,1134.1 L546.4,1135 L546.5,1136.4 L546.7,1137.8 L547.1,1138.7 L547.9,1139.2 L548.7,1139.8 L549.2,1140.8 L549.2,1142.1 L549.2,1143.4 L549.6,1144.4 L550.4,1145.1 L551.2,1145.9 L551.5,1146.9 L551.4,1148.2 L551.3,1149.4 L551.6,1150.5Z" fill="#000" stroke="#000" stroke-width="1" fill-rule="evenodd"/>
<path d="M563.1,1148.5 A33.8,65 -15 0 1 547.3,1220 A33.8,65 -15 0 1 497.9,1165.9 A33.8,65 -15 0 1 513.7,1094.4 A33.8,65 -15 0 1 563.1,1148.5Z M550.4,1151.9 L551.2,1152.8 L551.4,1153.9 L551.2,1155 L550.9,1156.1 L551.1,1157.2 L551.8,1158.2 L552.5,1159.4 L552.7,1160.4 L552.3,1161.4 L551.9,1162.4 L552,1163.4 L552.6,1164.6 L553.3,1165.8 L553.3,1166.9 L552.8,1167.7 L552.3,1168.4 L552.3,1169.4 L552.9,1170.7 L553.4,1172.1 L553.3,1173.1 L552.8,1173.7 L552.2,1174.2 L552.1,1175.1 L552.5,1176.5 L552.9,1177.9 L552.8,1178.8 L552.1,1179.2 L551.4,1179.5 L551.2,1180.3 L551.5,1181.7 L551.8,1183.2 L551.6,1184 L550.8,1184.1 L550.1,1184.2 L549.8,1184.9 L550,1186.3 L550.1,1187.7 L549.8,1188.4 L549,1188.3 L548.2,1188.2 L547.8,1188.7 L547.9,1190.1 L547.9,1191.4 L547.5,1192 L546.7,1191.6 L545.8,1191.3 L545.4,1191.7 L545.3,1193 L545.2,1194.2 L544.7,1194.6 L543.9,1194.1 L543.1,1193.5 L542.6,1193.7 L542.4,1194.9 L542.1,1196 L541.6,1196.2 L540.7,1195.5 L540,1194.7 L539.4,1194.8 L539.1,1195.8 L538.7,1196.7 L538.1,1196.7 L537.3,1195.8 L536.6,1194.8 L536,1194.8 L535.6,1195.6 L535.1,1196.4 L534.4,1196.2 L533.7,1195.1 L533.1,1194 L532.5,1193.7 L531.9,1194.4 L531.3,1195 L530.7,1194.6 L530,1193.4 L529.5,1192.1 L528.9,1191.7 L528.2,1192.1 L527.5,1192.5 L526.9,1192 L526.4,1190.7 L525.9,1189.3 L525.3,1188.8 L524.6,1189 L523.8,1189.1 L523.2,1188.4 L522.8,1187 L522.4,1185.6 L521.9,1184.9 L521.1,1184.9 L520.3,1184.8 L519.7,1184 L519.5,1182.6 L519.2,1181.2 L518.7,1180.4 L517.9,1180.1 L517.1,1179.8 L516.6,1178.9 L516.4,1177.4 L516.3,1176.1 L515.8,1175.2 L515,1174.7 L514.2,1174.1 L513.8,1173.1 L513.7,1171.8 L513.7,1170.4 L513.4,1169.5 L512.6,1168.8 L511.8,1168 L511.4,1166.9 L511.5,1165.7 L511.7,1164.4 L511.4,1163.4 L510.6,1162.5 L509.8,1161.6 L509.6,1160.5 L509.8,1159.4 L510.1,1158.3 L509.9,1157.2 L509.2,1156.2 L508.5,1155 L508.3,1154 L508.7,1153 L509.1,1152 L509,1151 L508.4,1149.8 L507.7,1148.6 L507.7,1147.5 L508.2,1146.7 L508.7,1146 L508.7,1145 L508.1,1143.7 L507.6,1142.3 L507.7,1141.3 L508.2,1140.7 L508.8,1140.2 L508.9,1139.3 L508.5,1137.9 L508.1,1136.5 L508.2,1135.6 L508.9,1135.2 L509.6,1134.9 L509.8,1134.1 L509.5,1132.7 L509.2,1131.2 L509.4,1130.4 L510.2,1130.3 L510.9,1130.2 L511.2,1129.5 L511,1128.1 L510.9,1126.7 L511.2,1126 L512,1126.1 L512.8,1126.2 L513.2,1125.7 L513.1,1124.3 L513.1,1123 L513.5,1122.4 L514.3,1122.8 L515.2,1123.1 L515.6,1122.7 L515.7,1121.4 L515.8,1120.2 L516.3,1119.8 L517.1,1120.3 L517.9,1120.9 L518.4,1120.7 L518.6,1119.5 L518.9,1118.4 L519.4,1118.2 L520.3,1118.9 L521,1119.7 L521.6,1119.6 L521.9,1118.6 L522.3,1117.7 L522.9,1117.7 L523.7,1118.6 L524.4,1119.6 L525,1119.6 L525.4,1118.8 L525.9,1118 L526.6,1118.2 L527.3,1119.3 L527.9,1120.4 L528.5,1120.7 L529.1,1120 L529.7,1119.4 L530.3,1119.8 L531,1121 L531.5,1122.3 L532.1,1122.7 L532.8,1122.3 L533.5,1121.9 L534.1,1122.4 L534.6,1123.7 L535.1,1125.1 L535.7,1125.6 L536.4,1125.4 L537.2,1125.3 L537.8,1126 L538.2,1127.4 L538.6,1128.8 L539.1,1129.5 L539.9,1129.5 L540.7,1129.6 L541.3,1130.4 L541.5,1131.8 L541.8,1133.2 L542.3,1134 L543.1,1134.3 L543.9,1134.6 L544.4,1135.5 L544.6,1137 L544.7,1138.3 L545.2,1139.2 L546,1139.7 L546.8,1140.3 L547.2,1141.3 L547.3,1142.6 L547.3,1144 L547.6,1144.9 L548.4,1145.6 L549.2,1146.4 L549.6,1147.5 L549.5,1148.7 L549.3,1150 L549.6,1151Z" fill="#000" stroke="#000" stroke-width="1" fill-rule="evenodd"/>
<path d="M460.4,1249.5 L457.9,1250 L455.4,1250.1 L452.8,1250 L450.1,1249.4 L447.5,1248.6 L444.7,1247.4 L442,1245.9 L439.3,1244.1 L436.6,1242 L433.9,1239.6 L431.2,1236.9 L428.6,1233.9 L426.1,1230.7 L423.7,1227.3 L421.3,1223.6 L419,1219.7 L416.9,1215.6 L414.9,1211.4 L413,1207 L411.3,1202.5 L409.7,1197.9 L408.2,1193.2 L407,1188.5 L405.9,1183.7 L404.9,1178.9 L404.2,1174.2 L403.6,1169.4 L403.3,1164.8 L403.1,1160.2 L403.1,1155.7 L403.3,1151.3 L403.7,1147.1 L404.3,1143.1 L405.1,1139.2 L406,1135.5 L407.1,1132.1 L408.4,1128.9 L409.9,1126 L411.5,1123.3 L413.3,1121 L415.2,1118.9 L417.2,1117.1 L419.4,1115.6 L421.6,1114.5 L424,1113.7 L428.4,1112.5 L430.8,1112 L433.3,1111.9 L435.9,1112.1 L438.6,1112.6 L441.3,1113.5 L444,1114.6 L446.7,1116.1 L449.5,1117.9 L452.2,1120 L454.9,1122.5 L457.5,1125.1 L460.1,1128.1 L462.6,1131.3 L465.1,1134.8 L467.4,1138.4 L469.7,1142.3 L471.8,1146.4 L473.9,1150.6 L475.7,1155 L477.5,1159.5 L479.1,1164.1 L480.5,1168.8 L481.8,1173.5 L482.9,1178.3 L483.8,1183.1 L484.6,1187.9 L485.1,1192.6 L485.5,1197.3 L485.6,1201.9 L485.6,1206.4 L485.4,1210.7 L485,1214.9 L484.5,1219 L483.7,1222.8 L482.7,1226.5 L481.6,1229.9 L480.3,1233.1 L478.9,1236 L477.3,1238.7 L475.5,1241.1 L473.6,1243.2 L471.5,1244.9 L469.4,1246.4 L467.1,1247.5 L464.7,1248.3Z" fill="#000" stroke="#000" stroke-width="1" />
<path d="M479.3,1171.7 L479.6,1172.9 L483,1176.5 L483.5,1179.2 L481.8,1183.1 L482,1184.4 L482.2,1185.6 L485.3,1190.1 L485.6,1192.7 L483.3,1195.7 L483.4,1196.9 L483.5,1198.1 L486.2,1203.3 L486.2,1205.8 L483.4,1207.7 L483.3,1208.8 L483.3,1210 L485.5,1215.6 L485.2,1218 L482.1,1218.6 L481.9,1219.6 L481.7,1220.7 L483.3,1226.6 L482.7,1228.6 L479.4,1228.1 L479.1,1229 L478.7,1229.8 L479.8,1235.8 L478.9,1237.4 L475.4,1235.8 L475,1236.4 L474.5,1237.1 L474.9,1242.9 L473.8,1244.1 L470.4,1241.3 L469.8,1241.7 L469.2,1242.1 L469,1247.6 L467.7,1248.3 L464.4,1244.5 L463.8,1244.7 L463.1,1244.8 L462.2,1249.7 L460.7,1249.8 L457.7,1245.2 L457,1245.1 L456.3,1245.1 L454.8,1249.2 L453.2,1248.7 L450.6,1243.5 L449.9,1243.1 L449.2,1242.8 L447,1246 L445.5,1245 L443.4,1239.3 L442.7,1238.7 L441.9,1238.2 L439.3,1240.3 L437.8,1238.8 L436.2,1232.8 L435.6,1232.1 L434.9,1231.3 L431.8,1232.2 L430.4,1230.4 L429.5,1224.4 L428.9,1223.4 L428.2,1222.5 L424.9,1222.2 L423.7,1220 L423.4,1214.2 L422.9,1213.1 L422.3,1212 L418.9,1210.6 L417.8,1208.1 L418.2,1202.8 L417.8,1201.6 L417.3,1200.4 L413.9,1197.9 L413,1195.2 L414.1,1190.5 L413.8,1189.2 L413.5,1188 L410.1,1184.4 L409.5,1181.7 L411.3,1177.8 L411.1,1176.5 L410.9,1175.2 L407.8,1170.8 L407.5,1168.1 L409.8,1165.2 L409.7,1164 L409.6,1162.7 L406.9,1157.6 L406.9,1155 L409.7,1153.2 L409.7,1152 L409.8,1150.9 L407.6,1145.2 L407.9,1142.9 L411,1142.2 L411.2,1141.2 L411.4,1140.2 L409.8,1134.2 L410.4,1132.2 L413.7,1132.8 L414,1131.9 L414.4,1131.1 L413.3,1125 L414.2,1123.4 L417.6,1125.1 L418.1,1124.4 L418.6,1123.8 L418.2,1117.9 L419.3,1116.8 L422.7,1119.6 L423.3,1119.1 L423.8,1118.7 L424.1,1113.2 L425.4,1112.6 L428.7,1116.4 L429.3,1116.2 L430,1116 L430.9,1111.1 L432.4,1111 L435.4,1115.7 L436.1,1115.7 L436.8,1115.8 L438.3,1111.7 L439.9,1112.1 L442.5,1117.4 L443.2,1117.7 L443.9,1118.1 L446.1,1114.9 L447.6,1115.8 L449.7,1121.6 L450.4,1122.1 L451.2,1122.7 L453.8,1120.6 L455.3,1122 L456.8,1128 L457.5,1128.8 L458.2,1129.6 L461.2,1128.6 L462.7,1130.5 L463.6,1136.5 L464.2,1137.5 L464.9,1138.4 L468.1,1138.6 L469.4,1140.8 L469.7,1146.7 L470.2,1147.7 L470.8,1148.8 L474.2,1150.2 L475.3,1152.7 L474.9,1158.1 L475.3,1159.3 L475.8,1160.5 L479.2,1163 L480.1,1165.7 L479,1170.4Z" fill="#000" stroke="#000" stroke-width="1.6" />
<path d="M475,1172.8 L475.3,1174.1 L478.6,1177.6 L479.2,1180.4 L477.5,1184.3 L477.7,1185.5 L477.9,1186.8 L481,1191.2 L481.3,1193.9 L479,1196.8 L479.1,1198.1 L479.1,1199.3 L481.8,1204.4 L481.8,1207 L479.1,1208.8 L479,1210 L478.9,1211.1 L481.2,1216.8 L480.8,1219.1 L477.7,1219.8 L477.5,1220.8 L477.3,1221.8 L479,1227.8 L478.4,1229.8 L475.1,1229.3 L474.7,1230.1 L474.4,1231 L475.4,1237 L474.5,1238.6 L471.1,1236.9 L470.6,1237.6 L470.2,1238.2 L470.6,1244.1 L469.5,1245.2 L466,1242.5 L465.5,1242.9 L464.9,1243.3 L464.6,1248.8 L463.3,1249.4 L460.1,1245.6 L459.4,1245.8 L458.8,1246 L457.8,1250.9 L456.4,1251 L453.4,1246.4 L452.7,1246.3 L452,1246.2 L450.4,1250.3 L448.9,1249.9 L446.3,1244.6 L445.6,1244.3 L444.8,1244 L442.7,1247.1 L441.1,1246.2 L439,1240.4 L438.3,1239.9 L437.6,1239.3 L435,1241.4 L433.4,1240 L431.9,1234 L431.2,1233.2 L430.5,1232.4 L427.5,1233.4 L426.1,1231.6 L425.2,1225.5 L424.5,1224.6 L423.9,1223.6 L420.6,1223.4 L419.3,1221.2 L419.1,1215.4 L418.5,1214.3 L418,1213.2 L414.5,1211.8 L413.4,1209.3 L413.9,1203.9 L413.4,1202.7 L413,1201.5 L409.5,1199 L408.7,1196.4 L409.8,1191.6 L409.4,1190.4 L409.1,1189.1 L405.8,1185.6 L405.2,1182.8 L406.9,1178.9 L406.7,1177.7 L406.5,1176.4 L403.4,1172 L403.1,1169.3 L405.4,1166.4 L405.3,1165.1 L405.3,1163.9 L402.6,1158.8 L402.6,1156.2 L405.3,1154.4 L405.4,1153.2 L405.5,1152.1 L403.2,1146.4 L403.6,1144.1 L406.7,1143.4 L406.9,1142.4 L407.1,1141.4 L405.4,1135.4 L406,1133.4 L409.3,1133.9 L409.7,1133.1 L410,1132.2 L409,1126.2 L409.9,1124.6 L413.3,1126.3 L413.8,1125.6 L414.2,1125 L413.8,1119.1 L414.9,1118 L418.4,1120.7 L418.9,1120.3 L419.5,1119.9 L419.8,1114.4 L421.1,1113.8 L424.3,1117.6 L425,1117.4 L425.6,1117.2 L426.6,1112.3 L428,1112.2 L431,1116.8 L431.7,1116.9 L432.4,1117 L434,1112.9 L435.5,1113.3 L438.1,1118.6 L438.8,1118.9 L439.6,1119.2 L441.7,1116.1 L443.3,1117 L445.4,1122.8 L446.1,1123.3 L446.8,1123.9 L449.4,1121.8 L451,1123.2 L452.5,1129.2 L453.2,1130 L453.9,1130.8 L456.9,1129.8 L458.3,1131.6 L459.2,1137.7 L459.9,1138.6 L460.5,1139.6 L463.8,1139.8 L465.1,1142 L465.3,1147.8 L465.9,1148.9 L466.4,1150 L469.9,1151.4 L471,1153.9 L470.5,1159.3 L471,1160.5 L471.4,1161.7 L474.9,1164.2 L475.7,1166.8 L474.6,1171.6Z" fill="#000" stroke="#000" stroke-width="1.6" />
<circle cx="478.2" cy="1172" r="0.9" fill="#fff"/>
<circle cx="481" cy="1185" r="0.9" fill="#fff"/>
<circle cx="482.4" cy="1197.9" r="0.9" fill="#fff"/>
<circle cx="482.3" cy="1210.1" r="0.9" fill="#fff"/>
<circle cx="480.8" cy="1221.2" r="0.9" fill="#fff"/>
<circle cx="477.9" cy="1230.7" r="0.9" fill="#fff"/>
<circle cx="473.8" cy="1238.4" r="0.9" fill="#fff"/>
<circle cx="468.5" cy="1243.8" r="0.9" fill="#fff"/>
<circle cx="462.2" cy="1246.8" r="0.9" fill="#fff"/>
<circle cx="420.7" cy="1118.1" r="0.9" fill="#fff"/>
<circle cx="426.9" cy="1115.1" r="0.9" fill="#fff"/>
<circle cx="433.8" cy="1114.6" r="0.9" fill="#fff"/>
<circle cx="441.1" cy="1116.7" r="0.9" fill="#fff"/>
<circle cx="448.6" cy="1121.2" r="0.9" fill="#fff"/>
<circle cx="455.9" cy="1128" r="0.9" fill="#fff"/>
<circle cx="462.7" cy="1136.9" r="0.9" fill="#fff"/>
<circle cx="468.9" cy="1147.4" r="0.9" fill="#fff"/>
<circle cx="474.1" cy="1159.3" r="0.9" fill="#fff"/>
<path d="M472.2,1173.5 A31.1,61 -15 0 1 458,1240.5 A31.1,61 -15 0 1 412.2,1189.7 A31.1,61 -15 0 1 426.4,1122.7 A31.1,61 -15 0 1 472.2,1173.5Z" fill="#fff" stroke="none" stroke-width="0" />
<path d="M465.4,1175.4 A24.5,48 -15 0 1 454.1,1228.1 A24.5,48 -15 0 1 418.1,1188.1 A24.5,48 -15 0 1 429.3,1135.4 A24.5,48 -15 0 1 465.4,1175.4Z" fill="#fff" stroke="#000" stroke-width="2.2" />
<clipPath id="cl130"><path d="M465.4,1175.4 A24.5,48 -15 0 1 454.1,1228.1 A24.5,48 -15 0 1 418.1,1188.1 A24.5,48 -15 0 1 429.3,1135.4 A24.5,48 -15 0 1 465.4,1175.4Z"/></clipPath>
<path d="M467.4,1174.9 A23.5,46 -15 0 1 456.6,1225.4 A23.5,46 -15 0 1 422.1,1187 A23.5,46 -15 0 1 432.8,1136.5 A23.5,46 -15 0 1 467.4,1174.9Z" fill="none" stroke="#000" stroke-width="2.2" clip-path="url(#cl130)"/>
<path d="M346.1,1263.7 L343.6,1261.3 L341.1,1258.7 L338.7,1255.8 L336.3,1252.7 L334,1249.5 L331.8,1246 L329.7,1242.4 L327.7,1238.6 L325.8,1234.6 L324,1230.6 L322.4,1226.4 L320.9,1222.1 L319.5,1217.8 L318.3,1213.4 L317.2,1209 L316.3,1204.5 L315.6,1200.1 L315,1195.7 L314.6,1191.3 L314.3,1186.9 L314.2,1182.7 L314.3,1178.5 L314.6,1174.5 L315,1170.6 L315.6,1166.8 L316.4,1163.2 L317.3,1159.8 L318.4,1156.5 L319.7,1153.5 L321,1150.7 L322.6,1148.1 L324.2,1145.7 L326,1143.7 L327.9,1141.8 L329.9,1140.2 L332.1,1139 L334.3,1137.9 L336.6,1137.2 L339,1136.8 L341.4,1136.6 L343.9,1136.7 L346.5,1137.2 L349,1137.9 L351.6,1138.9 L354.2,1140.1 L356.9,1141.7 L359.5,1143.5 L362,1145.6 L364.6,1147.9 L367.1,1150.5 L369.6,1153.3 L371.9,1156.3 L374.3,1159.5 L376.5,1162.9 L378.6,1166.5 L380.7,1170.3 L382.6,1174.2 L384.4,1178.2 L386,1182.4 L387.6,1186.6 L389,1191 L390.2,1195.3 L391.3,1199.8 L392.3,1204.2 L393.1,1208.6 L393.7,1213.1 L394.2,1217.5 L394.4,1221.8 L394.6,1226.1 L394.5,1230.3 L394.3,1234.3 L393.9,1238.3 L393.3,1242.1 L392.6,1245.7 L391.7,1249.2 L390.7,1252.5 L389.5,1255.6 L388.1,1258.5 L386.6,1261.1 L385,1263.5 L383.2,1265.7 L381.4,1267.6 L379.4,1269.2 L377.3,1270.6 L375.1,1271.6 L372.8,1272.4 L370.4,1273 L368,1273.2 L365.5,1273.1 L363,1272.8" fill="none" stroke="#000" stroke-width="6" stroke-linecap="round"/>
<path d="M317.1,1208.6 L316.1,1203.6 L315.4,1198.7 L314.8,1193.8 L314.4,1188.9 L314.3,1184.2 L314.3,1179.5 L314.6,1175 L315,1170.6 L315.7,1166.4 L316.6,1162.5 L317.7,1158.7 L318.9,1155.2 L320.4,1151.9 L322,1148.9 L323.8,1146.3 L325.8,1143.9 L327.9,1141.8 L330.2,1140.1 L332.5,1138.7 L335,1137.7" fill="none" stroke="#fff" stroke-width="1" />
<path d="M383.7,1265.2 L381.8,1267.1 L379.8,1268.8 L377.8,1270.3 L375.6,1271.4 L373.3,1272.3 L370.9,1272.9 L368.5,1273.2 L366,1273.2" fill="none" stroke="#fff" stroke-width="1" />
<path d="M989.8,1420.9 A33.1,64.9 -15 0 1 974.6,1492.2 A33.1,64.9 -15 0 1 925.8,1438.1 A33.1,64.9 -15 0 1 941,1366.8 A33.1,64.9 -15 0 1 989.8,1420.9Z" fill="none" stroke="#000" stroke-width="5.6" />
<path d="M1041.9,1407 A12,23.5 -15 0 1 1036.4,1432.8 A12,23.5 -15 0 1 1018.7,1413.2 A12,23.5 -15 0 1 1024.2,1387.4 A12,23.5 -15 0 1 1041.9,1407Z" fill="none" stroke="#000" stroke-width="5.6" />
<path d="M1179.1,1370.4 A7.7,15 -15 0 1 1175.6,1386.9 A7.7,15 -15 0 1 1164.3,1374.4 A7.7,15 -15 0 1 1167.8,1357.9 A7.7,15 -15 0 1 1179.1,1370.4Z" fill="none" stroke="#000" stroke-width="5" />
<path d="M1568.9,1265.9 A13.4,26.3 -15 0 1 1562.7,1294.8 A13.4,26.3 -15 0 1 1542.9,1272.9 A13.4,26.3 -15 0 1 1549.1,1244 A13.4,26.3 -15 0 1 1568.9,1265.9Z" fill="none" stroke="#000" stroke-width="5.4" />
<path d="M1617.1,1252.8 A13.4,26.3 -15 0 1 1610.9,1281.7 A13.4,26.3 -15 0 1 1591.1,1259.8 A13.4,26.3 -15 0 1 1597.3,1230.9 A13.4,26.3 -15 0 1 1617.1,1252.8Z" fill="none" stroke="#000" stroke-width="5.4" />
<path d="M1572.3,1184.9 L1552.2,1234.6" stroke="#000" stroke-width="2.8" fill="none" />
<path d="M1572.3,1184.9 L1596.7,1219" stroke="#000" stroke-width="2.8" fill="none" />
<path d="M1115.5,1454.2 L1113.2,1454.7 L1110.7,1454.8 L1108.2,1454.7 L1105.7,1454.2 L1103.1,1453.4 L1100.5,1452.4 L1097.9,1451 L1095.3,1449.4 L1092.8,1447.4 L1090.2,1445.2 L1087.7,1442.8 L1085.2,1440 L1082.8,1437.1 L1080.5,1433.9 L1078.3,1430.5 L1076.2,1426.9 L1074.1,1423.2 L1072.3,1419.3 L1070.5,1415.2 L1068.9,1411.1 L1067.4,1406.8 L1066,1402.5 L1064.9,1398.1 L1063.8,1393.7 L1063,1389.3 L1062.3,1384.9 L1061.9,1380.5 L1061.5,1376.1 L1061.4,1371.9 L1061.5,1367.7 L1061.7,1363.7 L1062.1,1359.8 L1062.7,1356 L1063.5,1352.4 L1064.4,1349 L1065.5,1345.8 L1066.8,1342.9 L1068.2,1340.1 L1069.8,1337.7 L1071.5,1335.5 L1073.4,1333.5 L1075.3,1331.8 L1077.4,1330.5 L1079.6,1329.4 L1081.9,1328.6 L1090.4,1326.3 L1092.7,1325.9 L1095.2,1325.7 L1097.7,1325.9 L1100.2,1326.3 L1102.8,1327.1 L1105.4,1328.1 L1108,1329.5 L1110.6,1331.2 L1113.1,1333.1 L1115.7,1335.3 L1118.2,1337.8 L1120.7,1340.5 L1123.1,1343.4 L1125.4,1346.6 L1127.6,1350 L1129.7,1353.6 L1131.8,1357.3 L1133.6,1361.2 L1135.4,1365.3 L1137,1369.4 L1138.5,1373.7 L1139.9,1378 L1141,1382.4 L1142.1,1386.8 L1142.9,1391.2 L1143.6,1395.7 L1144,1400 L1144.4,1404.4 L1144.5,1408.6 L1144.4,1412.8 L1144.2,1416.8 L1143.8,1420.8 L1143.2,1424.5 L1142.4,1428.1 L1141.5,1431.5 L1140.4,1434.7 L1139.1,1437.6 L1137.7,1440.4 L1136.1,1442.9 L1134.4,1445.1 L1132.5,1447 L1130.6,1448.7 L1128.5,1450.1 L1126.3,1451.1 L1124,1451.9Z" fill="#000" stroke="#000" stroke-width="1.5" />
<path d="M1117.9,1386.3 A19.1,36 -15 0 1 1108.8,1426 A19.1,36 -15 0 1 1081,1396.1 A19.1,36 -15 0 1 1090.2,1356.4 A19.1,36 -15 0 1 1117.9,1386.3Z" fill="none" stroke="#fff" stroke-width="4.2" />
<path d="M1104.3,1421.5 L1103.1,1421.4 L1101.9,1421.1 L1100.6,1420.6 L1099.4,1420 L1098.1,1419.3 L1096.9,1418.4 L1095.6,1417.4 L1094.4,1416.2 L1093.2,1415 L1092,1413.6 L1090.9,1412.1 L1089.8,1410.5 L1088.8,1408.8 L1087.8,1407 L1086.8,1405.1 L1086,1403.2 L1085.2,1401.2 L1084.4,1399.2 L1083.8,1397.1 L1083.2,1395 L1082.7,1392.8 L1082.2,1390.7 L1081.9,1388.6 L1081.6,1386.4 L1081.5,1384.3 L1081.4,1382.3 L1081.4,1380.2 L1081.5,1378.3 L1081.7,1376.4 L1082,1374.6 L1082.4,1372.8 L1082.8,1371.2 L1083.3,1369.6 L1083.9,1368.2 L1084.6,1366.9 L1085.4,1365.7 L1086.2,1364.6" fill="none" stroke="#000" stroke-width="1.2" />
<path d="M1098.1,1415.8 L1097.1,1415 L1096,1414.2 L1094.9,1413.2 L1093.9,1412.1 L1092.9,1410.9 L1091.9,1409.6 L1091,1408.3 L1090.1,1406.8 L1089.2,1405.3 L1088.4,1403.7 L1087.6,1402.1 L1086.9,1400.4 L1086.3,1398.6 L1085.7,1396.8 L1085.2,1395 L1084.7,1393.2 L1084.3,1391.4 L1084,1389.5 L1083.8,1387.7 L1083.6,1385.9 L1083.5,1384.1 L1083.5,1382.3 L1083.6,1380.6 L1083.7,1379 L1083.9,1377.4 L1084.2,1375.9 L1084.5,1374.4 L1085,1373.1 L1085.5,1371.8 L1086,1370.6 L1086.6,1369.5 L1087.3,1368.5 L1088.1,1367.7 L1088.9,1366.9 L1089.7,1366.3 L1090.6,1365.8 L1091.5,1365.4 L1092.5,1365.1 L1093.5,1365 L1094.5,1365 L1095.6,1365.1 L1096.6,1365.4 L1097.7,1365.8 L1098.8,1366.3 L1099.8,1366.9" fill="none" stroke="#fff" stroke-width="1.4" />
<path d="M1124.8,1412 L1124.3,1414.4 L1123.8,1416.7 L1123.1,1418.9 L1122.3,1420.9 L1121.4,1422.7 L1120.4,1424.4 L1119.3,1425.9 L1118.1,1427.3 L1116.8,1428.4 L1115.5,1429.4 L1114,1430.1 L1112.6,1430.6 L1111,1431 L1109.4,1431.1 L1107.8,1431 L1106.1,1430.7 L1104.4,1430.2" fill="none" stroke="#fff" stroke-width="1.2" />
<path d="M1078,1382.3 L1077.8,1379.4 L1077.8,1376.6 L1077.9,1373.9 L1078.1,1371.3 L1078.5,1368.7 L1079,1366.3 L1079.6,1364 L1080.3,1361.9 L1081.1,1359.9 L1082.1,1358 L1083.1,1356.4 L1084.2,1354.9" fill="none" stroke="#fff" stroke-width="1.2" />
<path d="M1107.3,1389.7 A5.7,19 -15 0 1 1106.7,1409.6 A5.7,19 -15 0 1 1096.3,1392.7 A5.7,19 -15 0 1 1096.9,1372.8 A5.7,19 -15 0 1 1107.3,1389.7Z" fill="#fff" stroke="none" stroke-width="0" />
<path d="M1675.9,1282.3 L1674.4,1282.6 L1672.9,1282.7 L1671.3,1282.6 L1669.7,1282.3 L1668,1281.8 L1666.4,1281.1 L1664.7,1280.1 L1663,1279 L1661.4,1277.7 L1659.7,1276.3 L1658.1,1274.6 L1656.5,1272.8 L1655,1270.8 L1653.5,1268.7 L1652,1266.5 L1650.6,1264.1 L1649.3,1261.6 L1648.1,1259 L1646.9,1256.4 L1645.9,1253.6 L1644.9,1250.8 L1644,1247.9 L1643.2,1245 L1642.6,1242.1 L1642,1239.2 L1641.6,1236.3 L1641.2,1233.4 L1641,1230.5 L1640.9,1227.7 L1640.9,1224.9 L1641,1222.3 L1641.3,1219.7 L1641.6,1217.2 L1642.1,1214.9 L1642.7,1212.6 L1643.3,1210.5 L1644.1,1208.6 L1645,1206.8 L1646,1205.2 L1647.1,1203.7 L1648.3,1202.4 L1649.5,1201.4 L1650.8,1200.5 L1652.2,1199.8 L1653.7,1199.3 L1669.1,1195.1 L1670.6,1194.8 L1672.2,1194.7 L1673.8,1194.9 L1675.4,1195.2 L1677,1195.7 L1678.7,1196.4 L1680.4,1197.3 L1682,1198.4 L1683.7,1199.7 L1685.3,1201.2 L1687,1202.8 L1688.5,1204.6 L1690.1,1206.6 L1691.6,1208.7 L1693,1211 L1694.4,1213.3 L1695.7,1215.8 L1697,1218.4 L1698.1,1221.1 L1699.2,1223.9 L1700.2,1226.7 L1701,1229.5 L1701.8,1232.4 L1702.5,1235.4 L1703,1238.3 L1703.5,1241.2 L1703.8,1244.1 L1704.1,1247 L1704.2,1249.8 L1704.2,1252.5 L1704,1255.2 L1703.8,1257.8 L1703.4,1260.2 L1703,1262.6 L1702.4,1264.8 L1701.7,1266.9 L1700.9,1268.9 L1700,1270.7 L1699,1272.3 L1698,1273.7 L1696.8,1275 L1695.5,1276.1 L1694.2,1277 L1692.8,1277.7 L1691.4,1278.2Z" fill="#fff" stroke="#000" stroke-width="2.4" />
<path d="M1675.9,1282.3 L1674.4,1282.6 L1672.9,1282.7 L1671.3,1282.6 L1669.7,1282.3 L1668,1281.8 L1666.4,1281.1 L1664.7,1280.1 L1663,1279 L1661.4,1277.7 L1659.7,1276.3 L1658.1,1274.6 L1656.5,1272.8 L1655,1270.8 L1653.5,1268.7 L1652,1266.5 L1650.6,1264.1 L1649.3,1261.6 L1648.1,1259 L1646.9,1256.4 L1645.9,1253.6 L1644.9,1250.8 L1644,1247.9 L1643.2,1245 L1642.6,1242.1 L1642,1239.2 L1641.6,1236.3 L1641.2,1233.4 L1641,1230.5 L1640.9,1227.7 L1640.9,1224.9 L1641,1222.3 L1641.3,1219.7 L1641.6,1217.2 L1642.1,1214.9 L1642.7,1212.6 L1643.3,1210.5 L1644.1,1208.6 L1645,1206.8 L1646,1205.2 L1647.1,1203.7 L1648.3,1202.4 L1649.5,1201.4 L1650.8,1200.5 L1652.2,1199.8 L1653.7,1199.3 L1659.5,1197.7 L1661,1197.4 L1662.5,1197.3 L1664.1,1197.4 L1665.7,1197.8 L1667.4,1198.3 L1669,1199 L1670.7,1199.9 L1672.4,1201 L1674,1202.3 L1675.7,1203.8 L1677.3,1205.4 L1678.9,1207.2 L1680.4,1209.2 L1681.9,1211.3 L1683.4,1213.6 L1684.8,1215.9 L1686.1,1218.4 L1687.3,1221 L1688.5,1223.7 L1689.5,1226.4 L1690.5,1229.3 L1691.4,1232.1 L1692.2,1235 L1692.8,1237.9 L1693.4,1240.9 L1693.8,1243.8 L1694.2,1246.7 L1694.4,1249.5 L1694.5,1252.4 L1694.5,1255.1 L1694.4,1257.8 L1694.1,1260.3 L1693.8,1262.8 L1693.3,1265.2 L1692.7,1267.4 L1692.1,1269.5 L1691.3,1271.5 L1690.4,1273.3 L1689.4,1274.9 L1688.3,1276.3 L1687.1,1277.6 L1685.9,1278.7 L1684.6,1279.6 L1683.2,1280.3 L1681.7,1280.8Z" fill="#000" stroke="#000" stroke-width="2" />
<path d="M1684.8,1235.5 A20.7,40.5 -15 0 1 1675.3,1279.9 A20.7,40.5 -15 0 1 1644.8,1246.1 A20.7,40.5 -15 0 1 1654.3,1201.7 A20.7,40.5 -15 0 1 1684.8,1235.5Z" fill="#fff" stroke="#000" stroke-width="5" />
<path d="M1681.3,1236.4 A16.1,31.5 -15 0 1 1673.9,1271 A16.1,31.5 -15 0 1 1650.2,1244.7 A16.1,31.5 -15 0 1 1657.6,1210.1 A16.1,31.5 -15 0 1 1681.3,1236.4Z" fill="#fff" stroke="#000" stroke-width="2.4" />
<clipPath id="cl090"><path d="M1681.3,1236.4 A16.1,31.5 -15 0 1 1673.9,1271 A16.1,31.5 -15 0 1 1650.2,1244.7 A16.1,31.5 -15 0 1 1657.6,1210.1 A16.1,31.5 -15 0 1 1681.3,1236.4Z"/></clipPath>
<path d="M1685.8,1235.2 A14.8,29 -15 0 1 1679.1,1267 A14.8,29 -15 0 1 1657.3,1242.8 A14.8,29 -15 0 1 1664.1,1211 A14.8,29 -15 0 1 1685.8,1235.2Z" fill="none" stroke="#000" stroke-width="2.2" clip-path="url(#cl090)"/>
<path d="M1689.7,1234.1 A13.8,27 -15 0 1 1683.4,1263.8 A13.8,27 -15 0 1 1663.1,1241.3 A13.8,27 -15 0 1 1669.4,1211.6 A13.8,27 -15 0 1 1689.7,1234.1Z" fill="none" stroke="#000" stroke-width="2" clip-path="url(#cl090)"/>
<path d="M602.2,813.1 L600.5,813.5 L598.8,813.6 L597,813.5 L595.1,813.1 L593.2,812.5 L591.4,811.8 L589.5,810.7 L587.6,809.5 L585.7,808.1 L583.8,806.4 L582,804.6 L580.2,802.6 L578.5,800.4 L576.8,798.1 L575.1,795.5 L573.6,792.9 L572.1,790.1 L570.7,787.2 L569.4,784.3 L568.2,781.2 L567.1,778 L566.2,774.8 L565.3,771.6 L564.5,768.3 L563.9,765.1 L563.4,761.8 L563,758.6 L562.8,755.4 L562.7,752.3 L562.7,749.2 L562.9,746.2 L563.2,743.3 L563.6,740.5 L564.1,737.9 L564.8,735.4 L565.6,733.1 L566.5,730.9 L567.5,728.9 L568.7,727 L569.9,725.4 L571.2,724 L572.6,722.8 L574.2,721.8 L575.7,721 L577.4,720.4 L630.5,706.2 L632.2,705.8 L634,705.7 L635.8,705.8 L637.6,706.2 L639.5,706.8 L641.4,707.6 L643.3,708.6 L645.2,709.8 L647.1,711.2 L648.9,712.9 L650.8,714.7 L652.5,716.7 L654.3,718.9 L656,721.3 L657.6,723.8 L659.2,726.4 L660.6,729.2 L662,732.1 L663.3,735.1 L664.5,738.1 L665.6,741.3 L666.6,744.5 L667.5,747.7 L668.2,751 L668.8,754.2 L669.3,757.5 L669.7,760.7 L669.9,763.9 L670.1,767.1 L670,770.1 L669.9,773.1 L669.6,776 L669.2,778.8 L668.6,781.4 L668,783.9 L667.2,786.2 L666.3,788.4 L665.2,790.4 L664.1,792.3 L662.9,793.9 L661.5,795.3 L660.1,796.5 L658.6,797.5 L657,798.3 L655.4,798.9Z" fill="#000" stroke="#000" stroke-width="1.5" />
<path d="M589,864.1 L585.6,864.8 L582.2,865 L578.7,864.7 L575.1,864.1 L571.4,863 L567.7,861.4 L564,859.4 L560.3,857 L556.6,854.2 L553,851 L549.4,847.4 L545.9,843.5 L542.5,839.2 L539.2,834.6 L536,829.7 L533,824.6 L530.1,819.1 L527.4,813.5 L524.9,807.7 L522.5,801.7 L520.4,795.5 L518.5,789.3 L516.8,783 L515.3,776.6 L514.1,770.2 L513.1,763.8 L512.4,757.5 L511.9,751.3 L511.7,745.1 L511.8,739.1 L512.1,733.3 L512.6,727.7 L513.4,722.3 L514.5,717.1 L515.8,712.2 L517.4,707.6 L519.1,703.4 L521.1,699.4 L523.4,695.9 L525.8,692.7 L528.4,689.9 L531.2,687.5 L534.1,685.5 L537.2,684 L540.4,682.9 L567.5,675.6 L570.8,675 L574.3,674.8 L577.8,675 L581.4,675.7 L585,676.8 L588.7,678.3 L592.4,680.3 L596.1,682.7 L599.8,685.5 L603.4,688.7 L607,692.3 L610.5,696.2 L613.9,700.5 L617.2,705.1 L620.4,710 L623.4,715.2 L626.3,720.6 L629.1,726.2 L631.6,732.1 L633.9,738.1 L636.1,744.2 L638,750.5 L639.7,756.8 L641.1,763.2 L642.4,769.6 L643.3,775.9 L644.1,782.2 L644.5,788.5 L644.7,794.6 L644.7,800.6 L644.4,806.5 L643.8,812.1 L643,817.5 L641.9,822.7 L640.6,827.5 L639.1,832.1 L637.3,836.4 L635.3,840.3 L633.1,843.9 L630.7,847.1 L628.1,849.9 L625.3,852.3 L622.3,854.2 L619.3,855.8 L616,856.9Z" fill="#000" stroke="#000" stroke-width="1.5" />
<path d="M611.4,758.4 L612.7,763.3 L638.9,752.8 L637.5,747.9Z" fill="#fff" stroke="#000" stroke-width="1" />
<path d="M614,768.6 L615,773.6 L641.4,763.1 L640.3,758.2Z" fill="#fff" stroke="#000" stroke-width="1" />
<path d="M615.9,778.9 L616.6,783.9 L643.2,773.4 L642.4,768.5Z" fill="#fff" stroke="#000" stroke-width="1" />
<path d="M617.2,789.2 L617.6,794 L644.5,783.6 L644,778.7Z" fill="#fff" stroke="#000" stroke-width="1" />
<path d="M617.9,799.2 L618,803.9 L645,793.6 L644.8,788.9Z" fill="#fff" stroke="#000" stroke-width="1" />
<path d="M617.9,808.9 L617.6,813.5 L644.9,803.3 L645,798.7Z" fill="#fff" stroke="#000" stroke-width="1" />
<path d="M617.2,818.2 L616.6,822.5 L644.1,812.5 L644.5,808.1Z" fill="#fff" stroke="#000" stroke-width="1" />
<path d="M615.9,826.9 L615,830.9 L642.6,821.1 L643.4,817Z" fill="#fff" stroke="#000" stroke-width="1" />
<path d="M613.9,835 L612.7,838.6 L640.5,829 L641.6,825.3Z" fill="#fff" stroke="#000" stroke-width="1" />
<path d="M611.3,842.3 L609.8,845.4 L637.8,836.1 L639.2,832.8Z" fill="#fff" stroke="#000" stroke-width="1" />
<path d="M608.1,848.7 L606.4,851.4 L634.5,842.4 L636.2,839.5Z" fill="#fff" stroke="#000" stroke-width="1" />
<path d="M604.4,854.1 L602.4,856.4 L630.7,847.7 L632.6,845.3Z" fill="#fff" stroke="#000" stroke-width="1" />
<path d="M600.1,858.6 L597.9,860.3 L626.4,852 L628.5,850Z" fill="#fff" stroke="#000" stroke-width="1" />
<path d="M595.4,861.9 L593.1,863.2 L621.7,855.2 L624,853.8Z" fill="#fff" stroke="#000" stroke-width="1" />
<path d="M590.4,864.2 L587.8,864.9 L616.5,857.2 L619,856.4Z" fill="#fff" stroke="#000" stroke-width="1" />
<path d="M585,865.3 L582.3,865.5 L611.1,858.2 L613.7,857.9Z" fill="#fff" stroke="#000" stroke-width="1" />
<path d="M534,685.1 L536.3,683.8 L561.8,677.3 L559.5,678.7Z" fill="#fff" stroke="#000" stroke-width="1" />
<path d="M539,682.8 L541.6,682.1 L567,675.3 L564.5,676.1Z" fill="#fff" stroke="#000" stroke-width="1" />
<path d="M544.4,681.7 L547.1,681.5 L572.4,674.3 L569.8,674.6Z" fill="#fff" stroke="#000" stroke-width="1" />
<path d="M550.1,681.7 L552.8,682.1 L578.1,674.6 L575.3,674.3Z" fill="#fff" stroke="#000" stroke-width="1" />
<path d="M555.9,682.9 L558.7,683.9 L583.9,675.9 L581.1,675.1Z" fill="#fff" stroke="#000" stroke-width="1" />
<path d="M561.8,685.2 L564.7,686.7 L589.9,678.5 L587,677.1Z" fill="#fff" stroke="#000" stroke-width="1" />
<path d="M567.8,688.6 L570.7,690.7 L595.9,682.1 L593,680.2Z" fill="#fff" stroke="#000" stroke-width="1" />
<path d="M573.7,693.1 L576.6,695.7 L601.8,686.7 L598.9,684.4Z" fill="#fff" stroke="#000" stroke-width="1" />
<path d="M579.6,698.7 L582.3,701.6 L607.6,692.4 L604.8,689.6Z" fill="#fff" stroke="#000" stroke-width="1" />
<path d="M585.2,705.1 L587.8,708.5 L613.2,699 L610.5,695.7Z" fill="#fff" stroke="#000" stroke-width="1" />
<path d="M590.6,712.4 L593,716.2 L618.5,706.5 L616,702.8Z" fill="#fff" stroke="#000" stroke-width="1" />
<path d="M595.6,720.5 L597.9,724.6 L623.5,714.7 L621.1,710.7Z" fill="#fff" stroke="#000" stroke-width="1" />
<path d="M600.3,729.2 L602.4,733.7 L628.1,723.5 L625.9,719.2Z" fill="#fff" stroke="#000" stroke-width="1" />
<path d="M604.5,738.6 L606.4,743.2 L632.2,732.9 L630.3,728.4Z" fill="#fff" stroke="#000" stroke-width="1" />
<path d="M608.2,748.3 L609.8,753.1 L635.8,742.7 L634.2,738Z" fill="#fff" stroke="#000" stroke-width="1" />
<path d="M612.1,760.8 L611.5,762.7 L610,764.8 L609.3,766.6 L610.7,768 L613.1,769.5 L614.5,771.1 L613.8,772.8 L612,774.5 L611.3,776 L612.6,777.7 L615,779.6 L616.3,781.4 L615.5,782.9 L613.5,784.1 L612.6,785.4 L613.9,787.3 L616.2,789.6 L617.5,791.6 L616.5,792.9 L614.4,793.6 L613.4,794.7 L614.6,796.8 L616.8,799.4 L618,801.6 L616.9,802.6 L614.7,802.9 L613.6,803.7 L614.6,805.9 L616.8,808.9 L617.8,811.2 L616.6,812 L614.3,811.8 L613.1,812.4 L614,814.7 L616.1,817.9 L616.9,820.4 L615.7,820.8 L613.3,820.2 L612,820.5 L612.8,822.9 L614.7,826.4 L615.5,828.9 L614.1,829.1 L611.7,828 L610.3,828 L611,830.5 L612.7,834.3 L613.3,836.8 L611.9,836.7 L609.5,835.2 L608.1,834.9 L608.6,837.4 L610.1,841.3 L610.6,843.9 L609.1,843.5 L606.7,841.5 L605.3,841 L605.7,843.5 L606.9,847.5 L607.2,850.1 L605.8,849.4 L603.4,847 L602,846.2 L602.2,848.7 L603.2,852.8 L603.4,855.3 L601.9,854.3 L599.7,851.6 L598.2,850.6 L598.3,852.9 L599.1,857.1 L599,859.5 L597.6,858.3 L595.5,855.2 L594,853.9 L594,856.2 L594.5,860.3 L594.3,862.6 L592.8,861.2 L590.8,857.8 L589.5,856.3 L589.2,858.4 L589.5,862.5 L589.1,864.6 L587.7,862.9 L585.9,859.3 L584.6,857.6 L584.2,859.6 L584.2,863.5 L583.6,865.4 L582.3,863.6 L580.7,859.8 L579.5,857.8 L578.9,859.7 L578.6,863.4 L578,865.1 L576.7,863.1 L575.3,859.1 L574.2,857 L573.5,858.6 L572.9,862.1 L572.1,863.7 L571,861.5 L569.8,857.4 L568.8,855.1 L567.9,856.6 L567.1,859.8 L566.1,861.1 L565.1,858.7 L564.2,854.6 L563.3,852.3 L562.3,853.4 L561.2,856.3 L560.2,857.4 L559.3,854.9 L558.6,850.8 L557.8,848.4 L556.7,849.3 L555.4,851.8 L554.3,852.6 L553.5,850.1 L553.1,846 L552.4,843.6 L551.3,844.2 L549.7,846.4 L548.5,846.9 L547.9,844.3 L547.7,840.3 L547.2,837.9 L546,838.3 L544.2,840 L542.9,840.2 L542.5,837.7 L542.5,833.8 L542.2,831.3 L540.9,831.5 L539,832.8 L537.6,832.7 L537.3,830.2 L537.7,826.5 L537.5,824.1 L536.1,823.9 L534.1,824.8 L532.6,824.5 L532.5,822 L533.1,818.6 L533.1,816.2 L531.7,815.8 L529.5,816.2 L528.1,815.6 L528.1,813.2 L529,810.1 L529.1,807.8 L527.7,807.1 L525.4,807 L524,806.1 L524.2,803.9 L525.3,801.1 L525.6,799 L524.2,798 L521.8,797.5 L520.4,796.3 L520.7,794.2 L522.1,791.8 L522.6,789.8 L521.2,788.6 L518.8,787.6 L517.3,786.2 L517.9,784.3 L519.4,782.2 L520.1,780.4 L518.7,779 L516.3,777.5 L514.9,775.9 L515.6,774.2 L517.4,772.5 L518.1,771 L516.8,769.3 L514.4,767.4 L513.1,765.6 L513.9,764.1 L515.9,762.9 L516.8,761.6 L515.5,759.7 L513.2,757.4 L511.9,755.4 L512.9,754.1 L515,753.4 L516,752.3 L514.8,750.2 L512.6,747.6 L511.4,745.4 L512.5,744.4 L514.7,744.1 L515.8,743.3 L514.8,741.1 L512.6,738.1 L511.6,735.8 L512.8,735 L515.1,735.2 L516.3,734.6 L515.4,732.3 L513.3,729.1 L512.5,726.6 L513.7,726.2 L516.1,726.8 L517.4,726.5 L516.6,724.1 L514.7,720.6 L513.9,718.1 L515.3,717.9 L517.7,719 L519.1,719 L518.4,716.5 L516.7,712.7 L516.1,710.2 L517.5,710.3 L519.9,711.8 L521.3,712.1 L520.8,709.6 L519.3,705.7 L518.8,703.1 L520.3,703.5 L522.7,705.5 L524.1,706 L523.7,703.5 L522.5,699.5 L522.2,696.9 L523.6,697.6 L526,700 L527.4,700.8 L527.2,698.3 L526.2,694.2 L526,691.7 L527.5,692.7 L529.7,695.4 L531.2,696.4 L531.1,694.1 L530.3,689.9 L530.4,687.5 L531.8,688.7 L533.9,691.8 L535.4,693.1 L535.4,690.8 L534.9,686.7 L535.1,684.4 L536.6,685.8 L538.6,689.2 L539.9,690.7 L540.2,688.6 L539.9,684.5 L540.3,682.4 L541.7,684.1 L543.5,687.7 L544.8,689.4 L545.2,687.4 L545.2,683.5 L545.8,681.6 L547.1,683.4 L548.7,687.2 L549.9,689.2 L550.5,687.3 L550.8,683.6 L551.4,681.9 L552.7,683.9 L554.1,687.9 L555.2,690 L555.9,688.4 L556.5,684.9 L557.3,683.3 L558.4,685.5 L559.6,689.6 L560.6,691.9 L561.5,690.4 L562.3,687.2 L563.3,685.9 L564.3,688.3 L565.2,692.4 L566.1,694.7 L567.1,693.6 L568.2,690.7 L569.2,689.6 L570.1,692.1 L570.8,696.2 L571.6,698.6 L572.7,697.7 L574,695.2 L575.1,694.4 L575.9,696.9 L576.3,701 L577,703.4 L578.1,702.8 L579.7,700.6 L580.9,700.1 L581.5,702.7 L581.7,706.7 L582.2,709.1 L583.4,708.7 L585.2,707 L586.5,706.8 L586.9,709.3 L586.9,713.2 L587.2,715.7 L588.5,715.5 L590.4,714.2 L591.8,714.3 L592.1,716.8 L591.7,720.5 L591.9,722.9 L593.3,723.1 L595.3,722.2 L596.8,722.5 L596.9,725 L596.3,728.4 L596.3,730.8 L597.7,731.2 L599.9,730.8 L601.3,731.4 L601.3,733.8 L600.4,736.9 L600.3,739.2 L601.7,739.9 L604,740 L605.4,740.9 L605.2,743.1 L604.1,745.9 L603.8,748 L605.2,749 L607.6,749.5 L609,750.7 L608.7,752.8 L607.3,755.2 L606.8,757.2 L608.2,758.4 L610.6,759.4Z" fill="#fff" stroke="#000" stroke-width="3.4" />
<path d="M588.8,766.9 A23.5,45.2 -15 0 1 577.8,816.7 A23.5,45.2 -15 0 1 543.4,779.1 A23.5,45.2 -15 0 1 554.4,729.3 A23.5,45.2 -15 0 1 588.8,766.9Z" fill="none" stroke="#000" stroke-width="3.6" />
<path d="M568.7,732.8 L570.5,734.1 L572.2,735.5 L573.9,737.1 L575.5,738.8 L577.2,740.8 L578.7,742.8 L580.3,745.1 L581.7,747.4 L583.1,749.9 L584.4,752.5 L585.7,755.2 L586.8,758 L587.8,760.8 L588.8,763.7 L589.6,766.7 L590.4,769.7 L591,772.7 L591.5,775.7 L591.9,778.6 L592.2,781.6 L592.4,784.5 L592.4,787.3 L592.3,790.1 L592.1,792.8 L591.8,795.4 L591.4,797.9 L590.8,800.2 L590.1,802.5 L589.3,804.5 L588.5,806.5 L587.5,808.2 L586.4,809.8 L585.2,811.2 L583.9,812.4 L582.6,813.4" fill="none" stroke="#000" stroke-width="2.4" />
<path d="M581.2,768.8 A16.4,31.5 -15 0 1 573.6,803.4 A16.4,31.5 -15 0 1 549.6,777.2 A16.4,31.5 -15 0 1 557.2,742.6 A16.4,31.5 -15 0 1 581.2,768.8Z" fill="none" stroke="#000" stroke-width="5.4" />
<path d="M580.6,797.6 L579.9,798.9 L579.1,800 L578.2,801.1 L577.3,801.9 L576.3,802.7 L575.3,803.3 L574.2,803.7 L573.1,804 L572,804.2 L570.8,804.2 L569.5,804 L568.3,803.7 L567.1,803.3 L565.8,802.7 L564.5,801.9 L563.3,801 L562,800 L560.8,798.9 L559.6,797.6 L558.4,796.2 L557.3,794.7 L556.2,793 L555.1,791.3 L554.1,789.5 L553.1,787.6 L552.2,785.7 L551.4,783.6 L550.6,781.6 L549.9,779.5 L549.3,777.3 L548.8,775.1 L548.3,773 L548,770.8 L547.7,768.6 L547.5,766.5" fill="none" stroke="#fff" stroke-width="0.9" />
<path d="M578.6,769.4 A12.6,24.2 -15 0 1 572.7,796.1 A12.6,24.2 -15 0 1 554.2,776 A12.6,24.2 -15 0 1 560.1,749.3 A12.6,24.2 -15 0 1 578.6,769.4Z" fill="none" stroke="#000" stroke-width="3.2" />
<path d="M1465.3,1320.4 L1464.4,1320.5 L1463.5,1320.6 L1462.5,1320.5 L1461.6,1320.4 L1460.6,1320.1 L1459.6,1319.6 L1458.6,1319.1 L1457.6,1318.4 L1456.6,1317.7 L1455.6,1316.8 L1454.6,1315.9 L1453.7,1314.8 L1452.7,1313.6 L1451.9,1312.4 L1451,1311.1 L1450.2,1309.7 L1449.4,1308.2 L1448.6,1306.7 L1448,1305.1 L1447.3,1303.5 L1446.8,1301.8 L1446.2,1300.1 L1445.8,1298.4 L1445.4,1296.7 L1445,1294.9 L1444.8,1293.2 L1444.6,1291.5 L1444.5,1289.8 L1444.4,1288.1 L1444.4,1286.5 L1444.5,1284.9 L1444.7,1283.4 L1444.9,1282 L1445.2,1280.6 L1445.5,1279.2 L1445.9,1278 L1446.4,1276.8 L1447,1275.8 L1447.6,1274.8 L1448.2,1273.9 L1448.9,1273.2 L1449.7,1272.5 L1450.5,1272 L1451.3,1271.6 L1452.2,1271.3 L1498.5,1258.9 L1499.4,1258.7 L1500.4,1258.6 L1501.3,1258.7 L1502.3,1258.9 L1503.3,1259.2 L1504.3,1259.6 L1505.3,1260.1 L1506.3,1260.8 L1507.3,1261.5 L1508.3,1262.4 L1509.2,1263.4 L1510.2,1264.4 L1511.1,1265.6 L1512,1266.9 L1512.9,1268.2 L1513.7,1269.6 L1514.5,1271 L1515.2,1272.6 L1515.9,1274.2 L1516.5,1275.8 L1517.1,1277.4 L1517.6,1279.1 L1518.1,1280.8 L1518.5,1282.6 L1518.8,1284.3 L1519.1,1286 L1519.3,1287.7 L1519.4,1289.4 L1519.5,1291.1 L1519.5,1292.7 L1519.4,1294.3 L1519.2,1295.8 L1519,1297.3 L1518.7,1298.7 L1518.4,1300 L1517.9,1301.2 L1517.5,1302.4 L1516.9,1303.5 L1516.3,1304.4 L1515.7,1305.3 L1515,1306 L1514.2,1306.7 L1513.4,1307.2 L1512.6,1307.6 L1511.7,1307.9Z" fill="#000" stroke="#000" stroke-width="1.5" />
<path d="M1453.5,1322.6 L1452.6,1322.8 L1451.7,1322.8 L1450.8,1322.8 L1449.9,1322.6 L1448.9,1322.3 L1447.9,1321.9 L1447,1321.4 L1446,1320.8 L1445.1,1320 L1444.1,1319.2 L1443.2,1318.2 L1442.3,1317.2 L1441.4,1316.1 L1440.5,1314.9 L1439.7,1313.6 L1438.9,1312.3 L1438.1,1310.9 L1437.4,1309.4 L1436.8,1307.9 L1436.1,1306.3 L1435.6,1304.7 L1435.1,1303.1 L1434.6,1301.4 L1434.3,1299.7 L1433.9,1298.1 L1433.7,1296.4 L1433.5,1294.8 L1433.4,1293.1 L1433.3,1291.5 L1433.3,1290 L1433.4,1288.4 L1433.6,1287 L1433.8,1285.6 L1434.1,1284.2 L1434.4,1282.9 L1434.8,1281.7 L1435.3,1280.6 L1435.8,1279.6 L1436.4,1278.7 L1437,1277.8 L1437.7,1277.1 L1438.4,1276.5 L1439.2,1276 L1440,1275.6 L1440.8,1275.3 L1454.3,1271.6 L1455.2,1271.5 L1456.1,1271.4 L1457,1271.5 L1458,1271.7 L1458.9,1271.9 L1459.9,1272.4 L1460.9,1272.9 L1461.8,1273.5 L1462.8,1274.2 L1463.7,1275.1 L1464.7,1276 L1465.6,1277 L1466.5,1278.1 L1467.3,1279.3 L1468.2,1280.6 L1469,1282 L1469.7,1283.4 L1470.4,1284.9 L1471.1,1286.4 L1471.7,1288 L1472.3,1289.6 L1472.8,1291.2 L1473.2,1292.8 L1473.6,1294.5 L1473.9,1296.2 L1474.2,1297.8 L1474.3,1299.5 L1474.5,1301.1 L1474.5,1302.7 L1474.5,1304.3 L1474.4,1305.8 L1474.3,1307.3 L1474.1,1308.7 L1473.8,1310 L1473.5,1311.3 L1473,1312.5 L1472.6,1313.6 L1472.1,1314.7 L1471.5,1315.6 L1470.9,1316.4 L1470.2,1317.2 L1469.4,1317.8 L1468.7,1318.3 L1467.9,1318.7 L1467,1319Z" fill="#fff" stroke="#000" stroke-width="2" />
<path d="M1446.6,1273.7 L1447.5,1273.5 L1448.4,1273.5 L1449.3,1273.5 L1450.3,1273.7 L1451.2,1274 L1452.2,1274.4 L1453.1,1274.9 L1454.1,1275.6 L1455.1,1276.3 L1456,1277.1 L1456.9,1278.1 L1457.9,1279.1 L1458.7,1280.2 L1459.6,1281.4 L1460.4,1282.7 L1461.2,1284 L1462,1285.5 L1462.7,1286.9 L1463.4,1288.5 L1464,1290 L1464.5,1291.6 L1465,1293.3 L1465.5,1294.9 L1465.9,1296.6 L1466.2,1298.2 L1466.4,1299.9 L1466.6,1301.6 L1466.7,1303.2 L1466.8,1304.8 L1466.8,1306.4 L1466.7,1307.9 L1466.6,1309.4 L1466.3,1310.8 L1466.1,1312.1 L1465.7,1313.4 L1465.3,1314.6 L1464.9,1315.7 L1464.3,1316.7 L1463.8,1317.7 L1463.1,1318.5 L1462.4,1319.2 L1461.7,1319.8 L1460.9,1320.4 L1460.1,1320.8 L1459.3,1321" fill="none" stroke="#000" stroke-width="1.6" />
<path d="M1389.5,1346.5 L1388.4,1346.7 L1387.3,1346.8 L1386.1,1346.7 L1384.9,1346.5 L1383.7,1346.1 L1382.5,1345.6 L1381.3,1344.9 L1380,1344.1 L1378.8,1343.2 L1377.6,1342.2 L1376.4,1341 L1375.3,1339.7 L1374.1,1338.3 L1373.1,1336.7 L1372,1335.1 L1371,1333.4 L1370,1331.6 L1369.1,1329.8 L1368.3,1327.8 L1367.5,1325.8 L1366.8,1323.8 L1366.2,1321.8 L1365.6,1319.7 L1365.2,1317.6 L1364.8,1315.4 L1364.4,1313.3 L1364.2,1311.3 L1364,1309.2 L1364,1307.2 L1364,1305.2 L1364.1,1303.3 L1364.3,1301.4 L1364.5,1299.6 L1364.9,1297.9 L1365.3,1296.3 L1365.8,1294.8 L1366.4,1293.4 L1367.1,1292.1 L1367.8,1290.9 L1368.6,1289.8 L1369.5,1288.9 L1370.4,1288.1 L1371.4,1287.5 L1372.4,1287 L1373.5,1286.6 L1443,1268 L1444.1,1267.7 L1445.2,1267.7 L1446.4,1267.7 L1447.6,1268 L1448.8,1268.3 L1450,1268.8 L1451.3,1269.5 L1452.5,1270.3 L1453.7,1271.2 L1454.9,1272.3 L1456.1,1273.5 L1457.2,1274.8 L1458.4,1276.2 L1459.4,1277.7 L1460.5,1279.3 L1461.5,1281 L1462.5,1282.8 L1463.4,1284.7 L1464.2,1286.6 L1465,1288.6 L1465.7,1290.6 L1466.3,1292.7 L1466.9,1294.8 L1467.3,1296.9 L1467.8,1299 L1468.1,1301.1 L1468.3,1303.2 L1468.5,1305.2 L1468.5,1307.3 L1468.5,1309.3 L1468.4,1311.2 L1468.2,1313 L1468,1314.8 L1467.6,1316.5 L1467.2,1318.2 L1466.7,1319.7 L1466.1,1321.1 L1465.4,1322.4 L1464.7,1323.6 L1463.9,1324.6 L1463,1325.5 L1462.1,1326.3 L1461.1,1327 L1460.1,1327.5 L1459,1327.8Z" fill="#000" stroke="#000" stroke-width="1.5" />
<path d="M1382,1434.2 L1377.9,1435 L1373.7,1435.3 L1369.4,1435 L1365.1,1434.2 L1360.6,1432.8 L1356.2,1430.9 L1351.7,1428.5 L1347.2,1425.6 L1342.7,1422.2 L1338.3,1418.4 L1334,1414 L1329.7,1409.2 L1325.6,1404 L1321.6,1398.5 L1317.7,1392.5 L1314,1386.3 L1310.5,1379.7 L1307.2,1372.8 L1304.2,1365.8 L1301.3,1358.5 L1298.7,1351 L1296.4,1343.4 L1294.3,1335.8 L1292.6,1328 L1291.1,1320.3 L1289.9,1312.6 L1289,1304.9 L1288.5,1297.3 L1288.2,1289.9 L1288.3,1282.6 L1288.6,1275.5 L1289.3,1268.7 L1290.3,1262.1 L1291.6,1255.9 L1293.2,1249.9 L1295.1,1244.4 L1297.2,1239.2 L1299.7,1234.4 L1302.3,1230.1 L1305.3,1226.2 L1308.4,1222.9 L1311.8,1220 L1315.4,1217.6 L1319.1,1215.7 L1323,1214.4 L1355.9,1205.6 L1359.9,1204.8 L1364.1,1204.5 L1368.4,1204.8 L1372.8,1205.6 L1377.2,1207 L1381.7,1208.9 L1386.2,1211.3 L1390.7,1214.2 L1395.1,1217.6 L1399.5,1221.4 L1403.9,1225.8 L1408.1,1230.6 L1412.3,1235.8 L1416.3,1241.3 L1420.1,1247.3 L1423.8,1253.5 L1427.3,1260.1 L1430.6,1267 L1433.7,1274 L1436.5,1281.3 L1439.1,1288.8 L1441.4,1296.4 L1443.5,1304 L1445.3,1311.8 L1446.7,1319.5 L1447.9,1327.2 L1448.8,1334.9 L1449.4,1342.5 L1449.6,1349.9 L1449.6,1357.2 L1449.2,1364.3 L1448.5,1371.1 L1447.5,1377.7 L1446.2,1383.9 L1444.6,1389.9 L1442.8,1395.4 L1440.6,1400.6 L1438.2,1405.4 L1435.5,1409.7 L1432.6,1413.6 L1429.4,1416.9 L1426,1419.8 L1422.5,1422.2 L1418.7,1424.1 L1414.8,1425.4Z" fill="#000" stroke="#000" stroke-width="1.5" />
<path d="M1409.2,1306.5 L1410.6,1311.4 L1442.5,1299.3 L1441.1,1294.4Z" fill="#fff" stroke="#000" stroke-width="1" />
<path d="M1411.8,1316.7 L1412.9,1321.6 L1445,1309.5 L1443.9,1304.6Z" fill="#fff" stroke="#000" stroke-width="1" />
<path d="M1413.9,1327 L1414.8,1331.9 L1447.1,1319.8 L1446.2,1314.9Z" fill="#fff" stroke="#000" stroke-width="1" />
<path d="M1415.5,1337.3 L1416.1,1342.2 L1448.6,1330.1 L1447.9,1325.1Z" fill="#fff" stroke="#000" stroke-width="1" />
<path d="M1416.6,1347.4 L1416.9,1352.2 L1449.5,1340.2 L1449.1,1335.3Z" fill="#fff" stroke="#000" stroke-width="1" />
<path d="M1417,1357.4 L1417.1,1362.1 L1449.9,1350.1 L1449.8,1345.4Z" fill="#fff" stroke="#000" stroke-width="1" />
<path d="M1417,1367.1 L1416.8,1371.6 L1449.8,1359.7 L1449.9,1355.2Z" fill="#fff" stroke="#000" stroke-width="1" />
<path d="M1416.4,1376.4 L1415.9,1380.7 L1449.1,1369 L1449.5,1364.6Z" fill="#fff" stroke="#000" stroke-width="1" />
<path d="M1415.2,1385.3 L1414.5,1389.3 L1447.8,1377.8 L1448.5,1373.6Z" fill="#fff" stroke="#000" stroke-width="1" />
<path d="M1413.5,1393.6 L1412.5,1397.4 L1446.1,1386.1 L1447,1382.2Z" fill="#fff" stroke="#000" stroke-width="1" />
<path d="M1411.3,1401.4 L1410.1,1404.9 L1443.8,1393.7 L1444.9,1390.1Z" fill="#fff" stroke="#000" stroke-width="1" />
<path d="M1408.6,1408.5 L1407.1,1411.6 L1441,1400.7 L1442.4,1397.4Z" fill="#fff" stroke="#000" stroke-width="1" />
<path d="M1405.4,1414.9 L1403.7,1417.6 L1437.7,1407 L1439.3,1404.1Z" fill="#fff" stroke="#000" stroke-width="1" />
<path d="M1401.8,1420.5 L1399.9,1422.9 L1434,1412.5 L1435.8,1409.9Z" fill="#fff" stroke="#000" stroke-width="1" />
<path d="M1397.7,1425.3 L1395.6,1427.3 L1429.9,1417.1 L1431.9,1415Z" fill="#fff" stroke="#000" stroke-width="1" />
<path d="M1393.2,1429.2 L1391,1430.8 L1425.4,1420.9 L1427.6,1419.2Z" fill="#fff" stroke="#000" stroke-width="1" />
<path d="M1388.5,1432.2 L1386,1433.4 L1420.5,1423.8 L1422.9,1422.5Z" fill="#fff" stroke="#000" stroke-width="1" />
<path d="M1383.3,1434.3 L1380.8,1435 L1415.4,1425.8 L1417.9,1425Z" fill="#fff" stroke="#000" stroke-width="1" />
<path d="M1378,1435.5 L1375.3,1435.7 L1410,1426.8 L1412.6,1426.4Z" fill="#fff" stroke="#000" stroke-width="1" />
<path d="M1316.5,1216.4 L1319,1215.2 L1350.2,1207.2 L1347.8,1208.5Z" fill="#fff" stroke="#000" stroke-width="1" />
<path d="M1321.7,1214.3 L1324.2,1213.6 L1355.3,1205.2 L1352.8,1206Z" fill="#fff" stroke="#000" stroke-width="1" />
<path d="M1327,1213.1 L1329.7,1212.9 L1360.7,1204.2 L1358.1,1204.6Z" fill="#fff" stroke="#000" stroke-width="1" />
<path d="M1332.6,1212.9 L1335.3,1213.1 L1366.3,1204.1 L1363.6,1204Z" fill="#fff" stroke="#000" stroke-width="1" />
<path d="M1338.4,1213.6 L1341.2,1214.3 L1372.1,1205 L1369.3,1204.4Z" fill="#fff" stroke="#000" stroke-width="1" />
<path d="M1344.2,1215.3 L1347.1,1216.4 L1378,1206.8 L1375.2,1205.8Z" fill="#fff" stroke="#000" stroke-width="1" />
<path d="M1350.2,1217.9 L1353,1219.4 L1383.9,1209.5 L1381.1,1208.1Z" fill="#fff" stroke="#000" stroke-width="1" />
<path d="M1356.1,1221.4 L1359,1223.4 L1389.9,1213.2 L1387,1211.3Z" fill="#fff" stroke="#000" stroke-width="1" />
<path d="M1362.1,1225.7 L1364.9,1228.2 L1395.8,1217.7 L1393,1215.4Z" fill="#fff" stroke="#000" stroke-width="1" />
<path d="M1367.9,1231 L1370.7,1233.8 L1401.7,1223.1 L1398.9,1220.4Z" fill="#fff" stroke="#000" stroke-width="1" />
<path d="M1373.6,1237 L1376.3,1240.2 L1407.4,1229.2 L1404.7,1226.2Z" fill="#fff" stroke="#000" stroke-width="1" />
<path d="M1379.2,1243.8 L1381.8,1247.3 L1412.9,1236.1 L1410.3,1232.7Z" fill="#fff" stroke="#000" stroke-width="1" />
<path d="M1384.5,1251.2 L1387,1255 L1418.1,1243.6 L1415.6,1239.9Z" fill="#fff" stroke="#000" stroke-width="1" />
<path d="M1389.5,1259.3 L1391.9,1263.4 L1423.1,1251.8 L1420.8,1247.8Z" fill="#fff" stroke="#000" stroke-width="1" />
<path d="M1394.3,1267.9 L1396.4,1272.2 L1427.8,1260.5 L1425.6,1256.3Z" fill="#fff" stroke="#000" stroke-width="1" />
<path d="M1398.6,1277 L1400.6,1281.6 L1432.1,1269.7 L1430.1,1265.2Z" fill="#fff" stroke="#000" stroke-width="1" />
<path d="M1402.6,1286.6 L1404.4,1291.2 L1436,1279.3 L1434.2,1274.6Z" fill="#fff" stroke="#000" stroke-width="1" />
<path d="M1406.2,1296.4 L1407.7,1301.2 L1439.5,1289.1 L1437.9,1284.4Z" fill="#fff" stroke="#000" stroke-width="1" />
<path d="M1409.9,1308.9 L1409.6,1310.8 L1408.6,1312.8 L1408.2,1314.6 L1409.4,1316.1 L1411.3,1317.5 L1412.4,1319.2 L1412,1320.9 L1410.8,1322.7 L1410.4,1324.3 L1411.4,1326 L1413.3,1327.7 L1414.4,1329.5 L1413.9,1331.1 L1412.5,1332.6 L1412,1334.1 L1413,1335.9 L1414.8,1337.8 L1415.8,1339.7 L1415.2,1341.2 L1413.8,1342.4 L1413.1,1343.8 L1414,1345.6 L1415.8,1347.9 L1416.7,1349.8 L1416,1351.2 L1414.4,1352.1 L1413.7,1353.3 L1414.6,1355.2 L1416.2,1357.7 L1417.1,1359.7 L1416.3,1360.9 L1414.6,1361.5 L1413.8,1362.5 L1414.6,1364.6 L1416.1,1367.2 L1416.9,1369.3 L1416,1370.3 L1414.3,1370.6 L1413.3,1371.5 L1414,1373.6 L1415.5,1376.4 L1416.1,1378.6 L1415.2,1379.3 L1413.4,1379.4 L1412.4,1380 L1413,1382.2 L1414.3,1385.1 L1414.9,1387.3 L1413.8,1387.9 L1412,1387.6 L1410.9,1388.1 L1411.4,1390.2 L1412.6,1393.3 L1413,1395.5 L1411.9,1395.9 L1410,1395.3 L1408.9,1395.6 L1409.3,1397.8 L1410.4,1400.9 L1410.7,1403.1 L1409.5,1403.3 L1407.6,1402.4 L1406.5,1402.5 L1406.7,1404.7 L1407.7,1407.9 L1407.9,1410.1 L1406.7,1410.1 L1404.8,1408.9 L1403.6,1408.8 L1403.7,1410.9 L1404.5,1414.1 L1404.6,1416.3 L1403.3,1416.1 L1401.4,1414.6 L1400.2,1414.3 L1400.2,1416.3 L1400.9,1419.6 L1400.8,1421.7 L1399.6,1421.3 L1397.7,1419.5 L1396.4,1419 L1396.4,1421 L1396.8,1424.3 L1396.7,1426.3 L1395.4,1425.7 L1393.6,1423.7 L1392.3,1423 L1392.1,1424.9 L1392.4,1428.1 L1392.1,1430 L1390.8,1429.2 L1389.1,1427 L1387.8,1426.1 L1387.5,1427.9 L1387.6,1431 L1387.3,1432.8 L1386,1431.8 L1384.3,1429.4 L1383.1,1428.3 L1382.6,1430 L1382.6,1433.1 L1382.1,1434.7 L1380.8,1433.5 L1379.2,1430.9 L1378,1429.7 L1377.5,1431.2 L1377.3,1434.2 L1376.7,1435.7 L1375.4,1434.3 L1374,1431.5 L1372.8,1430.1 L1372.1,1431.5 L1371.7,1434.3 L1371,1435.7 L1369.9,1434.1 L1368.5,1431.2 L1367.4,1429.7 L1366.6,1430.9 L1366,1433.5 L1365.2,1434.7 L1364.1,1433.1 L1362.9,1430 L1361.8,1428.3 L1361,1429.4 L1360.2,1431.8 L1359.3,1432.8 L1358.3,1431 L1357.2,1427.9 L1356.2,1426.1 L1355.3,1427 L1354.4,1429.2 L1353.4,1430 L1352.4,1428.1 L1351.4,1424.9 L1350.5,1423 L1349.5,1423.7 L1348.5,1425.6 L1347.4,1426.3 L1346.5,1424.3 L1345.7,1421 L1344.9,1419 L1343.8,1419.5 L1342.6,1421.3 L1341.5,1421.7 L1340.7,1419.6 L1340,1416.3 L1339.3,1414.3 L1338.2,1414.6 L1336.8,1416 L1335.7,1416.3 L1335,1414.1 L1334.5,1410.8 L1333.8,1408.7 L1332.7,1408.9 L1331.2,1410 L1330,1410 L1329.4,1407.9 L1329.1,1404.6 L1328.5,1402.5 L1327.3,1402.4 L1325.8,1403.3 L1324.5,1403.1 L1324,1400.9 L1323.9,1397.7 L1323.4,1395.6 L1322.2,1395.3 L1320.5,1395.9 L1319.3,1395.5 L1318.8,1393.3 L1318.9,1390.2 L1318.6,1388.1 L1317.3,1387.6 L1315.6,1387.9 L1314.3,1387.3 L1314,1385.1 L1314.2,1382.1 L1314,1380 L1312.7,1379.3 L1310.9,1379.3 L1309.7,1378.5 L1309.5,1376.4 L1309.9,1373.6 L1309.8,1371.5 L1308.5,1370.6 L1306.7,1370.3 L1305.4,1369.3 L1305.3,1367.2 L1305.9,1364.6 L1305.9,1362.5 L1304.6,1361.5 L1302.8,1360.9 L1301.5,1359.7 L1301.6,1357.6 L1302.3,1355.2 L1302.4,1353.2 L1301.2,1352 L1299.3,1351.1 L1298.1,1349.8 L1298.2,1347.8 L1299.1,1345.6 L1299.4,1343.7 L1298.2,1342.4 L1296.3,1341.2 L1295.1,1339.7 L1295.4,1337.8 L1296.4,1335.8 L1296.8,1334 L1295.6,1332.5 L1293.7,1331.1 L1292.6,1329.4 L1293,1327.7 L1294.2,1325.9 L1294.6,1324.3 L1293.6,1322.6 L1291.7,1320.9 L1290.6,1319.1 L1291.1,1317.5 L1292.5,1316 L1293,1314.5 L1292,1312.7 L1290.2,1310.8 L1289.2,1308.9 L1289.8,1307.4 L1291.2,1306.2 L1291.9,1304.8 L1291,1303 L1289.2,1300.7 L1288.3,1298.8 L1289,1297.4 L1290.6,1296.5 L1291.3,1295.3 L1290.4,1293.4 L1288.8,1290.9 L1287.9,1288.9 L1288.7,1287.7 L1290.4,1287.1 L1291.2,1286.1 L1290.4,1284 L1288.9,1281.4 L1288.1,1279.3 L1289,1278.3 L1290.7,1278 L1291.7,1277.1 L1291,1275 L1289.5,1272.2 L1288.9,1270 L1289.8,1269.3 L1291.6,1269.2 L1292.6,1268.6 L1292,1266.4 L1290.7,1263.5 L1290.1,1261.3 L1291.2,1260.7 L1293,1261 L1294.1,1260.5 L1293.6,1258.4 L1292.4,1255.3 L1292,1253.1 L1293.1,1252.7 L1295,1253.3 L1296.1,1253 L1295.7,1250.8 L1294.6,1247.7 L1294.3,1245.5 L1295.5,1245.3 L1297.4,1246.2 L1298.5,1246.1 L1298.3,1243.9 L1297.3,1240.7 L1297.1,1238.5 L1298.3,1238.5 L1300.2,1239.7 L1301.4,1239.8 L1301.3,1237.7 L1300.5,1234.5 L1300.4,1232.3 L1301.7,1232.5 L1303.6,1234 L1304.8,1234.3 L1304.8,1232.3 L1304.1,1229 L1304.2,1226.9 L1305.4,1227.3 L1307.3,1229.1 L1308.6,1229.6 L1308.6,1227.6 L1308.2,1224.3 L1308.3,1222.3 L1309.6,1222.9 L1311.4,1224.9 L1312.7,1225.6 L1312.9,1223.7 L1312.6,1220.5 L1312.9,1218.6 L1314.2,1219.4 L1315.9,1221.6 L1317.2,1222.5 L1317.5,1220.7 L1317.4,1217.6 L1317.7,1215.8 L1319,1216.8 L1320.7,1219.2 L1321.9,1220.3 L1322.4,1218.6 L1322.4,1215.5 L1322.9,1213.9 L1324.2,1215.1 L1325.8,1217.7 L1327,1218.9 L1327.5,1217.4 L1327.7,1214.4 L1328.3,1212.9 L1329.6,1214.3 L1331,1217.1 L1332.2,1218.5 L1332.9,1217.1 L1333.3,1214.3 L1334,1212.9 L1335.1,1214.5 L1336.5,1217.4 L1337.6,1218.9 L1338.4,1217.7 L1339,1215.1 L1339.8,1213.9 L1340.9,1215.5 L1342.1,1218.6 L1343.2,1220.3 L1344,1219.2 L1344.8,1216.8 L1345.7,1215.8 L1346.7,1217.6 L1347.8,1220.7 L1348.8,1222.5 L1349.7,1221.6 L1350.6,1219.4 L1351.6,1218.6 L1352.6,1220.5 L1353.6,1223.7 L1354.5,1225.6 L1355.5,1224.9 L1356.5,1223 L1357.6,1222.3 L1358.5,1224.3 L1359.3,1227.6 L1360.1,1229.6 L1361.2,1229.1 L1362.4,1227.3 L1363.5,1226.9 L1364.3,1229 L1365,1232.3 L1365.7,1234.3 L1366.8,1234 L1368.2,1232.6 L1369.3,1232.3 L1370,1234.5 L1370.5,1237.8 L1371.2,1239.9 L1372.3,1239.7 L1373.8,1238.6 L1375,1238.6 L1375.6,1240.7 L1375.9,1244 L1376.5,1246.1 L1377.7,1246.2 L1379.2,1245.3 L1380.5,1245.5 L1381,1247.7 L1381.1,1250.9 L1381.6,1253 L1382.8,1253.3 L1384.5,1252.7 L1385.7,1253.1 L1386.2,1255.3 L1386.1,1258.4 L1386.4,1260.5 L1387.7,1261 L1389.4,1260.7 L1390.7,1261.3 L1391,1263.5 L1390.8,1266.5 L1391,1268.6 L1392.3,1269.3 L1394.1,1269.3 L1395.3,1270.1 L1395.5,1272.2 L1395.1,1275 L1395.2,1277.1 L1396.5,1278 L1398.3,1278.3 L1399.6,1279.3 L1399.7,1281.4 L1399.1,1284 L1399.1,1286.1 L1400.4,1287.1 L1402.2,1287.7 L1403.5,1288.9 L1403.4,1291 L1402.7,1293.4 L1402.6,1295.4 L1403.8,1296.6 L1405.7,1297.5 L1406.9,1298.8 L1406.8,1300.8 L1405.9,1303 L1405.6,1304.9 L1406.8,1306.2 L1408.7,1307.4Z" fill="#fff" stroke="#000" stroke-width="3" />
<path d="M1404,1310.5 A53.8,103.5 -15 0 1 1378.8,1424.4 A53.8,103.5 -15 0 1 1300,1338.4 A53.8,103.5 -15 0 1 1325.2,1224.5 A53.8,103.5 -15 0 1 1404,1310.5Z" fill="none" stroke="#000" stroke-width="2" />
<path d="M1393.7,1313.3 A43.7,84 -15 0 1 1373.3,1405.7 A43.7,84 -15 0 1 1309.3,1335.9 A43.7,84 -15 0 1 1329.8,1243.4 A43.7,84 -15 0 1 1393.7,1313.3Z" fill="#fff" stroke="#000" stroke-width="2" />
<ellipse cx="1344.5" cy="1247.7" rx="2.6" ry="4.4" transform="rotate(-15 1344.5 1247.7)" fill="#fff" stroke="#000" stroke-width="1.8"/>
<path d="M1389.7,1314.3 A40.6,78 -15 0 1 1370.8,1400.2 A40.6,78 -15 0 1 1311.4,1335.3 A40.6,78 -15 0 1 1330.4,1249.5 A40.6,78 -15 0 1 1389.7,1314.3Z" fill="#fff" stroke="#000" stroke-width="2" />
<path d="M1384.9,1315.6 A39,75 -15 0 1 1366.6,1398.2 A39,75 -15 0 1 1309.5,1335.8 A39,75 -15 0 1 1327.8,1253.3 A39,75 -15 0 1 1384.9,1315.6Z" fill="none" stroke="#000" stroke-width="3" />
<path d="M1380,1316.9 A37.4,72 -15 0 1 1362.4,1396.2 A37.4,72 -15 0 1 1307.6,1336.3 A37.4,72 -15 0 1 1325.2,1257.1 A37.4,72 -15 0 1 1380,1316.9Z" fill="#fff" stroke="#000" stroke-width="2" />
<path d="M1294.8,1426.4 L1291.9,1427 L1288.9,1427.2 L1285.8,1427 L1282.7,1426.4 L1279.5,1425.4 L1276.3,1424.1 L1273.1,1422.4 L1269.9,1420.3 L1266.7,1417.8 L1263.5,1415.1 L1260.4,1411.9 L1257.4,1408.5 L1254.4,1404.8 L1251.6,1400.8 L1248.8,1396.6 L1246.2,1392.1 L1243.6,1387.4 L1241.3,1382.5 L1239.1,1377.4 L1237,1372.2 L1235.2,1366.8 L1233.5,1361.4 L1232.1,1355.9 L1230.8,1350.4 L1229.7,1344.8 L1228.9,1339.3 L1228.2,1333.8 L1227.8,1328.4 L1227.7,1323 L1227.7,1317.8 L1228,1312.8 L1228.5,1307.9 L1229.2,1303.2 L1230.1,1298.7 L1231.2,1294.4 L1232.6,1290.5 L1234.1,1286.8 L1235.9,1283.3 L1237.8,1280.2 L1239.9,1277.5 L1242.1,1275.1 L1244.6,1273 L1247.1,1271.3 L1249.8,1269.9 L1252.6,1269 L1309.3,1253.8 L1312.2,1253.2 L1315.2,1253 L1318.3,1253.2 L1321.4,1253.8 L1324.6,1254.8 L1327.8,1256.1 L1331,1257.8 L1334.2,1259.9 L1337.4,1262.4 L1340.6,1265.2 L1343.7,1268.3 L1346.7,1271.7 L1349.7,1275.4 L1352.5,1279.4 L1355.3,1283.6 L1357.9,1288.1 L1360.5,1292.8 L1362.8,1297.7 L1365,1302.8 L1367.1,1308 L1368.9,1313.4 L1370.6,1318.8 L1372,1324.3 L1373.3,1329.8 L1374.4,1335.4 L1375.2,1340.9 L1375.9,1346.4 L1376.3,1351.8 L1376.4,1357.2 L1376.4,1362.4 L1376.1,1367.4 L1375.6,1372.3 L1374.9,1377 L1374,1381.5 L1372.9,1385.8 L1371.5,1389.7 L1370,1393.5 L1368.2,1396.9 L1366.3,1400 L1364.2,1402.7 L1362,1405.2 L1359.5,1407.2 L1357,1408.9 L1354.3,1410.3 L1351.5,1411.2Z" fill="#fff" stroke="#000" stroke-width="2.4" />
<path d="M1261.3,1266.6 L1264.2,1266.1 L1267.2,1265.9 L1270.3,1266.1 L1273.4,1266.7 L1276.6,1267.6 L1279.8,1269 L1283,1270.7 L1286.2,1272.8 L1289.4,1275.2 L1292.5,1278 L1295.7,1281.1 L1298.7,1284.5 L1301.7,1288.3 L1304.5,1292.3 L1307.3,1296.5 L1309.9,1301 L1312.4,1305.7 L1314.8,1310.6 L1317,1315.7 L1319,1320.9 L1320.9,1326.2 L1322.6,1331.7 L1324,1337.2 L1325.3,1342.7 L1326.4,1348.2 L1327.2,1353.8 L1327.8,1359.3 L1328.3,1364.7 L1328.4,1370 L1328.4,1375.2 L1328.1,1380.3 L1327.6,1385.2 L1326.9,1389.9 L1326,1394.4 L1324.9,1398.6 L1323.5,1402.6 L1322,1406.3 L1320.2,1409.7 L1318.3,1412.8 L1316.2,1415.6 L1314,1418 L1311.5,1420.1 L1309,1421.8 L1306.3,1423.1 L1303.5,1424.1" fill="none" stroke="#000" stroke-width="2.6" />
<path d="M1265.6,1265.5 L1268.6,1264.9 L1271.5,1264.7 L1274.6,1264.9 L1277.7,1265.5 L1280.9,1266.5 L1284.1,1267.8 L1287.3,1269.5 L1290.5,1271.6 L1293.7,1274.1 L1296.9,1276.9 L1300,1280 L1303,1283.4 L1306,1287.1 L1308.9,1291.1 L1311.6,1295.3 L1314.3,1299.8 L1316.8,1304.5 L1319.2,1309.4 L1321.4,1314.5 L1323.4,1319.7 L1325.2,1325.1 L1326.9,1330.5 L1328.4,1336 L1329.7,1341.5 L1330.7,1347.1 L1331.6,1352.6 L1332.2,1358.1 L1332.6,1363.5 L1332.8,1368.9 L1332.7,1374.1 L1332.5,1379.1 L1332,1384 L1331.3,1388.7 L1330.4,1393.2 L1329.2,1397.5 L1327.9,1401.4 L1326.3,1405.2 L1324.6,1408.6 L1322.7,1411.7 L1320.6,1414.4 L1318.3,1416.9 L1315.9,1418.9 L1313.3,1420.6 L1310.6,1422 L1307.8,1422.9" fill="none" stroke="#000" stroke-width="1.8" />
<path d="M1313.4,1255.5 L1316.5,1255.9 L1319.6,1256.6 L1322.7,1257.8 L1325.8,1259.3 L1329,1261.2 L1332.1,1263.4 L1335.2,1265.9 L1338.3,1268.8 L1341.3,1272 L1344.3,1275.5 L1347.2,1279.3 L1349.9,1283.4 L1352.6,1287.7 L1355.1,1292.2 L1357.5,1296.9 L1359.7,1301.8 L1361.8,1306.9 L1363.7,1312 L1365.5,1317.3 L1367,1322.7 L1368.4,1328.1 L1369.5,1333.6 L1370.4,1339 L1371.2,1344.4 L1371.7,1349.8 L1372,1355.1 L1372,1360.2 L1371.9,1365.3 L1371.5,1370.2 L1370.9,1374.9 L1370.1,1379.4 L1369.1,1383.7 L1367.9,1387.7 L1366.5,1391.5 L1364.8,1395 L1363.1,1398.2 L1361.1,1401.1 L1358.9,1403.6 L1356.6,1405.8 L1354.2,1407.7 L1351.6,1409.2 L1348.9,1410.3" fill="none" stroke="#000" stroke-width="2" />
<ellipse cx="1307" cy="1266.2" rx="2.1" ry="2.9" transform="rotate(-15 1307 1266.2)" fill="#000"/>
<ellipse cx="1312.8" cy="1285.6" rx="2.1" ry="2.9" transform="rotate(-15 1312.8 1285.6)" fill="#000"/>
<ellipse cx="1343.8" cy="1291" rx="2.1" ry="2.9" transform="rotate(-15 1343.8 1291)" fill="#000"/>
<ellipse cx="1343.8" cy="1322.9" rx="2.1" ry="2.9" transform="rotate(-15 1343.8 1322.9)" fill="#000"/>
<ellipse cx="1337.6" cy="1356.2" rx="2.1" ry="2.9" transform="rotate(-15 1337.6 1356.2)" fill="#000"/>
<ellipse cx="1360.9" cy="1364.8" rx="2.1" ry="2.9" transform="rotate(-15 1360.9 1364.8)" fill="#000"/>
<ellipse cx="1344.6" cy="1392" rx="2.1" ry="2.9" transform="rotate(-15 1344.6 1392)" fill="#000"/>
<path d="M1314.6,1336.7 A42.4,81.5 -15 0 1 1294.8,1426.4 A42.4,81.5 -15 0 1 1232.8,1358.7 A42.4,81.5 -15 0 1 1252.6,1269 A42.4,81.5 -15 0 1 1314.6,1336.7Z" fill="#000" stroke="#000" stroke-width="2.4" />
<path d="M1265.4,1271.4 L1268.5,1272.3 L1271.7,1273.5 L1274.8,1275.1 L1278,1277.1 L1281.1,1279.5 L1284.2,1282.1 L1287.3,1285.2 L1290.3,1288.5 L1293.2,1292.1 L1296,1296 L1298.8,1300.2 L1301.4,1304.6 L1303.8,1309.2 L1306.1,1314 L1308.3,1319 L1310.3,1324.2 L1312.1,1329.4 L1313.7,1334.7 L1315.1,1340.1 L1316.4,1345.6 L1317.4,1351 L1318.2,1356.5 L1318.7,1361.8 L1319.1,1367.2 L1319.2,1372.4 L1319.1,1377.5 L1318.8,1382.4 L1318.3,1387.1 L1317.5,1391.7 L1316.5,1396 L1315.3,1400.1 L1313.9,1403.9 L1312.3,1407.4 L1310.6,1410.7 L1308.6,1413.6 L1306.5,1416.1 L1304.2,1418.4 L1301.7,1420.2" fill="none" stroke="#fff" stroke-width="1.3" />
<clipPath id="cl010"><path d="M1312.9,1337.2 A40.6,78 -15 0 1 1293.9,1423 A40.6,78 -15 0 1 1234.5,1358.2 A40.6,78 -15 0 1 1253.5,1272.4 A40.6,78 -15 0 1 1312.9,1337.2Z"/></clipPath>
<g clip-path="url(#cl010)" stroke-linecap="round">
<path d="M1236.9,1286.7 L1268.7,1278.2" stroke="#fff" stroke-width="1.3" fill="none" />
<path d="M1239,1296.5 L1273.8,1287.2" stroke="#fff" stroke-width="1.3" fill="none" />
<path d="M1242.1,1306 L1274.2,1297.4" stroke="#fff" stroke-width="1.3" fill="none" />
<path d="M1238.5,1317.3 L1280.4,1306.1" stroke="#fff" stroke-width="1.3" fill="none" />
<path d="M1241.6,1326.9 L1280.1,1316.5" stroke="#fff" stroke-width="1.3" fill="none" />
<path d="M1258.8,1374 L1301.9,1362.4" stroke="#fff" stroke-width="1.3" fill="none" />
<path d="M1261.6,1383.6 L1302.4,1372.7" stroke="#fff" stroke-width="1.3" fill="none" />
<path d="M1264.1,1393.3 L1299.3,1383.8" stroke="#fff" stroke-width="1.3" fill="none" />
<path d="M1268.1,1402.6 L1307.9,1391.9" stroke="#fff" stroke-width="1.3" fill="none" />
<path d="M1271.3,1412.1 L1307.4,1402.4" stroke="#fff" stroke-width="1.3" fill="none" />
<path d="M1276.4,1421 L1303.6,1413.8" stroke="#fff" stroke-width="1.3" fill="none" />
<circle cx="1311.9" cy="1337.5" r="0.8" fill="#fff"/>
<circle cx="1314.3" cy="1348" r="0.8" fill="#fff"/>
<circle cx="1315.9" cy="1358.6" r="0.8" fill="#fff"/>
<circle cx="1316.6" cy="1368.9" r="0.8" fill="#fff"/>
<circle cx="1316.4" cy="1378.8" r="0.8" fill="#fff"/>
<circle cx="1315.4" cy="1388" r="0.8" fill="#fff"/>
<circle cx="1313.6" cy="1396.5" r="0.8" fill="#fff"/>
<circle cx="1310.9" cy="1403.9" r="0.8" fill="#fff"/>
<circle cx="1307.5" cy="1410.2" r="0.8" fill="#fff"/>
<circle cx="1303.3" cy="1415.3" r="0.8" fill="#fff"/>
<circle cx="1298.6" cy="1418.9" r="0.8" fill="#fff"/>
<circle cx="1293.4" cy="1421.1" r="0.8" fill="#fff"/>
<circle cx="1287.7" cy="1421.8" r="0.8" fill="#fff"/>
<circle cx="1281.8" cy="1421" r="0.8" fill="#fff"/>
<circle cx="1275.7" cy="1418.7" r="0.8" fill="#fff"/>
<circle cx="1269.6" cy="1415" r="0.8" fill="#fff"/>
<circle cx="1263.6" cy="1409.9" r="0.8" fill="#fff"/>
<circle cx="1257.7" cy="1403.5" r="0.8" fill="#fff"/>
<circle cx="1252.2" cy="1396" r="0.8" fill="#fff"/>
<circle cx="1232" cy="1307.4" r="0.8" fill="#fff"/>
<circle cx="1233.8" cy="1298.9" r="0.8" fill="#fff"/>
<circle cx="1236.5" cy="1291.5" r="0.8" fill="#fff"/>
<circle cx="1239.9" cy="1285.2" r="0.8" fill="#fff"/>
<circle cx="1244.1" cy="1280.1" r="0.8" fill="#fff"/>
<circle cx="1248.8" cy="1276.5" r="0.8" fill="#fff"/>
<circle cx="1254" cy="1274.3" r="0.8" fill="#fff"/>
<circle cx="1259.7" cy="1273.6" r="0.8" fill="#fff"/>
<circle cx="1265.6" cy="1274.4" r="0.8" fill="#fff"/>
<circle cx="1271.7" cy="1276.7" r="0.8" fill="#fff"/>
<circle cx="1277.8" cy="1280.4" r="0.8" fill="#fff"/>
<circle cx="1283.8" cy="1285.5" r="0.8" fill="#fff"/>
<circle cx="1289.7" cy="1291.9" r="0.8" fill="#fff"/>
<circle cx="1295.2" cy="1299.4" r="0.8" fill="#fff"/>
<circle cx="1300.3" cy="1307.9" r="0.8" fill="#fff"/>
<circle cx="1304.8" cy="1317.2" r="0.8" fill="#fff"/>
<circle cx="1308.7" cy="1327.1" r="0.8" fill="#fff"/>
</g>
<path d="M1248,1372.7 L1247.3,1372.9 L1246.6,1372.9 L1245.8,1372.9 L1245,1372.7 L1244.2,1372.5 L1243.4,1372.1 L1242.6,1371.7 L1241.8,1371.2 L1241,1370.6 L1240.2,1369.9 L1239.4,1369.1 L1238.6,1368.2 L1237.9,1367.3 L1237.2,1366.3 L1236.5,1365.2 L1235.8,1364.1 L1235.2,1362.9 L1234.6,1361.7 L1234,1360.4 L1233.5,1359.1 L1233.1,1357.7 L1232.6,1356.4 L1232.3,1355 L1231.9,1353.6 L1231.7,1352.2 L1231.5,1350.8 L1231.3,1349.4 L1231.2,1348.1 L1231.2,1346.7 L1231.2,1345.4 L1231.2,1344.1 L1231.4,1342.9 L1231.5,1341.7 L1231.8,1340.6 L1232.1,1339.5 L1232.4,1338.5 L1232.8,1337.6 L1233.2,1336.7 L1233.7,1336 L1234.2,1335.3 L1234.8,1334.6 L1235.4,1334.1 L1236.1,1333.7 L1236.7,1333.4 L1237.4,1333.1 L1297.3,1317.1 L1298.1,1316.9 L1298.8,1316.9 L1299.6,1316.9 L1300.4,1317.1 L1301.2,1317.3 L1302,1317.7 L1302.8,1318.1 L1303.6,1318.6 L1304.4,1319.2 L1305.2,1319.9 L1306,1320.7 L1306.7,1321.6 L1307.5,1322.5 L1308.2,1323.5 L1308.9,1324.6 L1309.6,1325.7 L1310.2,1326.9 L1310.8,1328.1 L1311.3,1329.4 L1311.8,1330.7 L1312.3,1332.1 L1312.7,1333.4 L1313.1,1334.8 L1313.4,1336.2 L1313.7,1337.6 L1313.9,1339 L1314.1,1340.4 L1314.2,1341.7 L1314.2,1343.1 L1314.2,1344.4 L1314.1,1345.7 L1314,1346.9 L1313.8,1348.1 L1313.6,1349.2 L1313.3,1350.3 L1313,1351.3 L1312.6,1352.2 L1312.1,1353.1 L1311.7,1353.8 L1311.1,1354.5 L1310.6,1355.2 L1310,1355.7 L1309.3,1356.1 L1308.6,1356.4 L1307.9,1356.7Z" fill="#fff" stroke="#000" stroke-width="2.4" />
<path d="M1253,1350.2 A10.7,20.5 -15 0 1 1248,1372.7 A10.7,20.5 -15 0 1 1232.4,1355.7 A10.7,20.5 -15 0 1 1237.4,1333.1 A10.7,20.5 -15 0 1 1253,1350.2Z" fill="#000" stroke="#000" stroke-width="2.4" />
<path d="M1237.4,1333.1 L1238.2,1333 L1238.9,1332.9 L1239.7,1333 L1240.5,1333.1 L1241.3,1333.4 L1242.1,1333.7 L1242.9,1334.1 L1243.7,1334.7 L1244.5,1335.3 L1245.3,1336 L1246.1,1336.8 L1246.8,1337.6 L1247.6,1338.6 L1248.3,1339.6 L1249,1340.6 L1249.7,1341.8 L1250.3,1342.9 L1250.9,1344.2 L1251.4,1345.5 L1252,1346.8 L1252.4,1348.1 L1252.8,1349.5 L1253.2,1350.9 L1253.5,1352.2 L1253.8,1353.6 L1254,1355 L1254.2,1356.4 L1254.3,1357.8 L1254.3,1359.1 L1254.3,1360.4 L1254.2,1361.7 L1254.1,1362.9 L1253.9,1364.1 L1253.7,1365.3 L1253.4,1366.3 L1253.1,1367.3 L1252.7,1368.3 L1252.3,1369.1 L1251.8,1369.9 L1251.2,1370.6 L1250.7,1371.2 L1250.1,1371.7 L1249.4,1372.1 L1248.8,1372.5 L1248,1372.7 L1252.4,1371.6 L1253.1,1371.3 L1253.8,1371 L1254.4,1370.6 L1255,1370 L1255.6,1369.4 L1256.1,1368.7 L1256.6,1367.9 L1257,1367.1 L1257.4,1366.2 L1257.8,1365.2 L1258.1,1364.1 L1258.3,1363 L1258.5,1361.8 L1258.6,1360.5 L1258.7,1359.3 L1258.7,1358 L1258.6,1356.6 L1258.5,1355.3 L1258.4,1353.9 L1258.1,1352.5 L1257.9,1351.1 L1257.6,1349.7 L1257.2,1348.3 L1256.8,1346.9 L1256.3,1345.6 L1255.8,1344.3 L1255.2,1343 L1254.6,1341.8 L1254,1340.6 L1253.4,1339.5 L1252.7,1338.4 L1251.9,1337.4 L1251.2,1336.5 L1250.4,1335.6 L1249.6,1334.8 L1248.8,1334.1 L1248,1333.5 L1247.2,1333 L1246.4,1332.5 L1245.6,1332.2 L1244.8,1332 L1244,1331.8 L1243.3,1331.8 L1242.5,1331.8 L1241.8,1332Z" fill="#000" stroke="#000" stroke-width="0.8" />
<path d="M1211.1,1378 L1210.6,1378.1 L1210,1378.1 L1209.4,1378.1 L1208.8,1377.9 L1208.1,1377.8 L1207.5,1377.5 L1206.9,1377.2 L1206.3,1376.7 L1205.6,1376.3 L1205,1375.7 L1204.4,1375.1 L1203.8,1374.4 L1203.2,1373.7 L1202.7,1372.9 L1202.1,1372.1 L1201.6,1371.2 L1201.1,1370.3 L1200.6,1369.3 L1200.2,1368.3 L1199.8,1367.3 L1199.4,1366.3 L1199.1,1365.2 L1198.8,1364.1 L1198.6,1363 L1198.4,1361.9 L1198.2,1360.9 L1198.1,1359.8 L1198,1358.7 L1198,1357.7 L1198,1356.6 L1198,1355.6 L1198.1,1354.7 L1198.3,1353.8 L1198.4,1352.9 L1198.7,1352 L1198.9,1351.3 L1199.2,1350.5 L1199.6,1349.9 L1199.9,1349.3 L1200.4,1348.7 L1200.8,1348.2 L1201.3,1347.8 L1201.8,1347.5 L1202.3,1347.2 L1202.9,1347 L1238.6,1337.5 L1239.2,1337.4 L1239.8,1337.3 L1240.4,1337.4 L1241,1337.5 L1241.6,1337.7 L1242.2,1337.9 L1242.9,1338.3 L1243.5,1338.7 L1244.1,1339.2 L1244.7,1339.7 L1245.3,1340.3 L1245.9,1341 L1246.5,1341.7 L1247.1,1342.5 L1247.6,1343.3 L1248.1,1344.2 L1248.6,1345.1 L1249.1,1346.1 L1249.5,1347.1 L1249.9,1348.1 L1250.3,1349.2 L1250.6,1350.2 L1250.9,1351.3 L1251.2,1352.4 L1251.4,1353.5 L1251.5,1354.6 L1251.7,1355.7 L1251.7,1356.7 L1251.8,1357.8 L1251.8,1358.8 L1251.7,1359.8 L1251.6,1360.7 L1251.5,1361.7 L1251.3,1362.5 L1251.1,1363.4 L1250.8,1364.2 L1250.5,1364.9 L1250.2,1365.6 L1249.8,1366.2 L1249.4,1366.7 L1248.9,1367.2 L1248.5,1367.6 L1248,1367.9 L1247.4,1368.2 L1246.9,1368.4Z" fill="#fff" stroke="#000" stroke-width="2.4" />
<path d="M1204.3,1346.7 L1204.9,1346.5 L1205.5,1346.5 L1206.1,1346.5 L1206.7,1346.7 L1207.3,1346.9 L1207.9,1347.1 L1208.6,1347.5 L1209.2,1347.9 L1209.8,1348.3 L1210.4,1348.9 L1211.1,1349.5 L1211.7,1350.2 L1212.2,1350.9 L1212.8,1351.7 L1213.3,1352.5 L1213.9,1353.4 L1214.3,1354.3 L1214.8,1355.3 L1215.2,1356.3 L1215.6,1357.3 L1216,1358.4 L1216.3,1359.4 L1216.6,1360.5 L1216.9,1361.6 L1217.1,1362.7 L1217.2,1363.8 L1217.4,1364.8 L1217.5,1365.9 L1217.5,1367 L1217.5,1368 L1217.4,1369 L1217.3,1369.9 L1217.2,1370.9 L1217,1371.7 L1216.8,1372.6 L1216.5,1373.3 L1216.2,1374.1 L1215.9,1374.7 L1215.5,1375.4 L1215.1,1375.9 L1214.6,1376.4 L1214.2,1376.8 L1213.7,1377.1 L1213.1,1377.4 L1212.6,1377.6 L1217.4,1376.3 L1218,1376.1 L1218.5,1375.8 L1219,1375.5 L1219.5,1375.1 L1219.9,1374.6 L1220.3,1374.1 L1220.7,1373.5 L1221,1372.8 L1221.4,1372.1 L1221.6,1371.3 L1221.8,1370.4 L1222,1369.6 L1222.2,1368.6 L1222.3,1367.7 L1222.3,1366.7 L1222.3,1365.7 L1222.3,1364.6 L1222.2,1363.5 L1222.1,1362.5 L1221.9,1361.4 L1221.7,1360.3 L1221.5,1359.2 L1221.2,1358.1 L1220.8,1357.1 L1220.5,1356 L1220.1,1355 L1219.6,1354 L1219.2,1353 L1218.7,1352.1 L1218.2,1351.2 L1217.6,1350.4 L1217.1,1349.6 L1216.5,1348.9 L1215.9,1348.2 L1215.3,1347.6 L1214.7,1347 L1214,1346.6 L1213.4,1346.2 L1212.8,1345.8 L1212.1,1345.6 L1211.5,1345.4 L1210.9,1345.3 L1210.3,1345.2 L1209.7,1345.3 L1209.1,1345.4Z" fill="#000" stroke="#000" stroke-width="0.8" />
<path d="M1216.4,1343.4 L1217,1343.3 L1217.5,1343.3 L1218.1,1343.3 L1218.8,1343.4 L1219.4,1343.6 L1220,1343.9 L1220.6,1344.2 L1221.3,1344.6 L1221.9,1345.1 L1222.5,1345.7 L1223.1,1346.3 L1223.7,1346.9 L1224.3,1347.7 L1224.9,1348.4 L1225.4,1349.3 L1225.9,1350.2 L1226.4,1351.1 L1226.9,1352.1 L1227.3,1353 L1227.7,1354.1 L1228.1,1355.1 L1228.4,1356.2 L1228.7,1357.3 L1228.9,1358.4 L1229.2,1359.4 L1229.3,1360.5 L1229.4,1361.6 L1229.5,1362.7 L1229.6,1363.7 L1229.6,1364.7 L1229.5,1365.7 L1229.4,1366.7 L1229.3,1367.6 L1229.1,1368.5 L1228.9,1369.3 L1228.6,1370.1 L1228.3,1370.8 L1228,1371.5 L1227.6,1372.1 L1227.2,1372.7 L1226.7,1373.1 L1226.2,1373.5 L1225.7,1373.9 L1225.2,1374.1 L1224.7,1374.3 L1228,1373.4 L1228.6,1373.2 L1229.1,1373 L1229.6,1372.6 L1230.1,1372.2 L1230.5,1371.8 L1231,1371.2 L1231.3,1370.6 L1231.7,1369.9 L1232,1369.2 L1232.2,1368.4 L1232.5,1367.6 L1232.6,1366.7 L1232.8,1365.8 L1232.9,1364.8 L1232.9,1363.8 L1232.9,1362.8 L1232.9,1361.8 L1232.8,1360.7 L1232.7,1359.6 L1232.5,1358.5 L1232.3,1357.4 L1232.1,1356.4 L1231.8,1355.3 L1231.5,1354.2 L1231.1,1353.2 L1230.7,1352.1 L1230.3,1351.1 L1229.8,1350.2 L1229.3,1349.3 L1228.8,1348.4 L1228.3,1347.5 L1227.7,1346.8 L1227.1,1346 L1226.5,1345.4 L1225.9,1344.7 L1225.3,1344.2 L1224.7,1343.7 L1224,1343.3 L1223.4,1343 L1222.8,1342.7 L1222.1,1342.5 L1221.5,1342.4 L1220.9,1342.4 L1220.3,1342.4 L1219.8,1342.5Z" fill="#000" stroke="#000" stroke-width="0.8" />
<path d="M1215,1360.3 A8.3,16 -15 0 1 1211.1,1378 A8.3,16 -15 0 1 1199,1364.7 A8.3,16 -15 0 1 1202.9,1347 A8.3,16 -15 0 1 1215,1360.3Z" fill="#fff" stroke="#000" stroke-width="2.6" />
<path d="M1210.3,1362.4 A2.2,3.6 -15 0 1 1209.1,1366.5 A2.2,3.6 -15 0 1 1206.1,1363.6 A2.2,3.6 -15 0 1 1207.3,1359.5 A2.2,3.6 -15 0 1 1210.3,1362.4Z" fill="#fff" stroke="#000" stroke-width="2.2" />
<text x="564.9" y="664.4" font-size="19.3" text-anchor="middle" fill="#000" stroke="#000" stroke-width="0.9" stroke-linejoin="round">150</text>
<text x="471.7" y="758.3" font-size="19.3" text-anchor="middle" fill="#000" stroke="#000" stroke-width="0.9" stroke-linejoin="round">160</text>
<text x="350.1" y="790.1" font-size="19.3" text-anchor="middle" fill="#000" stroke="#000" stroke-width="0.9" stroke-linejoin="round">180</text>
<text x="418.7" y="867" font-size="19.3" text-anchor="middle" fill="#000" stroke="#000" stroke-width="0.9" stroke-linejoin="round">170</text>
<text x="288.5" y="904.5" font-size="19.3" text-anchor="middle" fill="#000" stroke="#000" stroke-width="0.9" stroke-linejoin="round">200</text>
<text x="435" y="1101.5" font-size="19.3" text-anchor="middle" fill="#000" stroke="#000" stroke-width="0.9" stroke-linejoin="round">130</text>
<text x="773.4" y="684.6" font-size="19.3" text-anchor="middle" fill="#000" stroke="#000" stroke-width="0.9" stroke-linejoin="round">192</text>
<text x="715.9" y="779.6" font-size="19.3" text-anchor="middle" fill="#000" stroke="#000" stroke-width="0.9" stroke-linejoin="round">190</text>
<text x="843.8" y="746.2" font-size="19.3" text-anchor="middle" fill="#000" stroke="#000" stroke-width="0.9" stroke-linejoin="round">190</text>
<text x="894" y="643.2" font-size="19.3" text-anchor="middle" fill="#000" stroke="#000" stroke-width="0.9" stroke-linejoin="round">160</text>
<text x="969.6" y="719.1" font-size="19.3" text-anchor="middle" fill="#000" stroke="#000" stroke-width="0.9" stroke-linejoin="round">170</text>
<text x="1021.7" y="610.4" font-size="19.3" text-anchor="middle" fill="#000" stroke="#000" stroke-width="0.9" stroke-linejoin="round">180</text>
<text x="1029.4" y="883.2" font-size="19.3" text-anchor="middle" fill="#000" stroke="#000" stroke-width="0.9" stroke-linejoin="round">110</text>
<text x="1177.5" y="568.7" font-size="19.3" text-anchor="middle" fill="#000" stroke="#000" stroke-width="0.9" stroke-linejoin="round">070</text>
<text x="1116.5" y="711.9" font-size="19.3" text-anchor="middle" fill="#000" stroke="#000" stroke-width="0.9" stroke-linejoin="round">080</text>
<text x="1320.9" y="694.5" font-size="19.3" text-anchor="middle" fill="#000" stroke="#000" stroke-width="0.9" stroke-linejoin="round">060</text>
<text x="1649.7" y="780.2" font-size="19.3" text-anchor="middle" fill="#000" stroke="#000" stroke-width="0.9" stroke-linejoin="round">125</text>
<text x="1571.3" y="1176.2" font-size="19.3" text-anchor="middle" fill="#000" stroke="#000" stroke-width="0.9" stroke-linejoin="round">220</text>
<text x="1666.6" y="1187" font-size="19.3" text-anchor="middle" fill="#000" stroke="#000" stroke-width="0.9" stroke-linejoin="round">090</text>
<text x="345.4" y="1125.9" font-size="19.3" text-anchor="middle" fill="#000" stroke="#000" stroke-width="0.9" stroke-linejoin="round">140</text>
<text x="1085.2" y="1171.7" font-size="19.3" text-anchor="middle" fill="#000" stroke="#000" stroke-width="0.9" stroke-linejoin="round">120</text>
<text x="1267.1" y="1254.7" font-size="19.3" text-anchor="middle" fill="#000" stroke="#000" stroke-width="0.9" stroke-linejoin="round">010</text>
<text x="1092.4" y="1317.4" font-size="19.3" text-anchor="middle" fill="#000" stroke="#000" stroke-width="0.9" stroke-linejoin="round">030</text>
<text x="1169.6" y="1348.4" font-size="19.3" text-anchor="middle" fill="#000" stroke="#000" stroke-width="0.9" stroke-linejoin="round">210</text>
<text x="945.4" y="1355.7" font-size="19.3" text-anchor="middle" fill="#000" stroke="#000" stroke-width="0.9" stroke-linejoin="round">050</text>
<text x="1025.2" y="1377.4" font-size="19.3" text-anchor="middle" fill="#000" stroke="#000" stroke-width="0.9" stroke-linejoin="round">040</text>
<text x="934.6" y="511.4" font-size="39" text-anchor="middle" fill="#000" stroke="#000" stroke-width="1.2" stroke-linejoin="round">K2</text>
</svg>
<div class="cap">Assembly Diagram - Coupling</div>
</body></html>
